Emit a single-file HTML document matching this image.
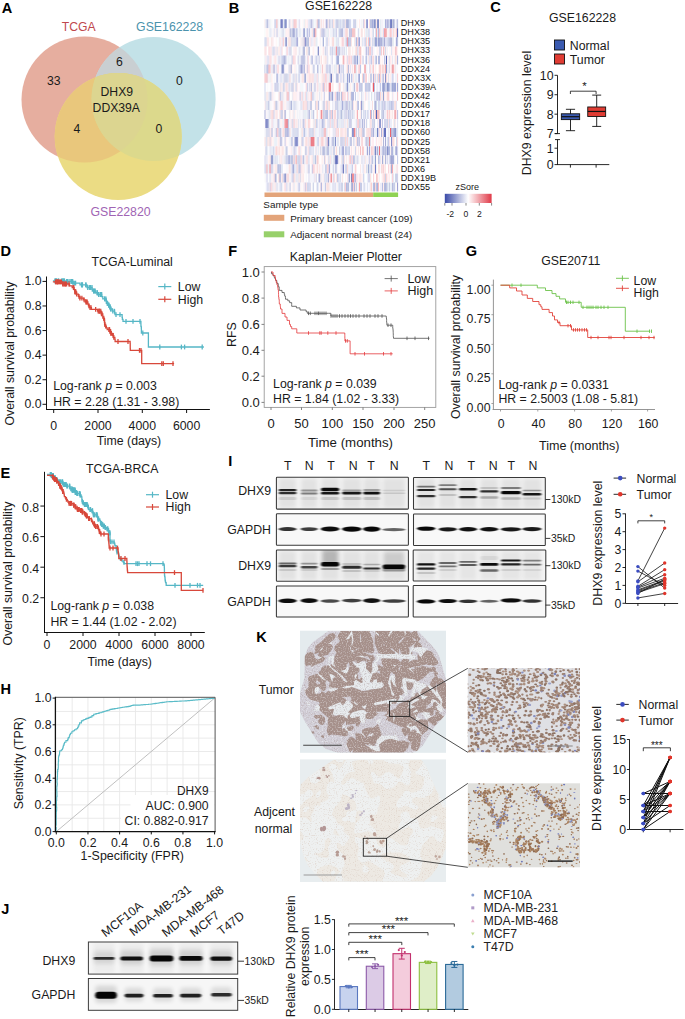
<!DOCTYPE html>
<html><head><meta charset="utf-8"><style>
html,body{margin:0;padding:0;background:#fff;}
svg{display:block;font-family:"Liberation Sans", sans-serif;}
</style></head><body>
<svg width="685" height="1019" viewBox="0 0 685 1019">
<rect width="685" height="1019" fill="#fff"/>
<defs>
<clipPath id="k1"><circle cx="84.5" cy="99.5" r="63"/></clipPath>
<clipPath id="k2"><circle cx="153.6" cy="99" r="62"/></clipPath>
</defs>
<circle cx="84.5" cy="99.5" r="63" fill="#e6ae9f" />
<circle cx="153.6" cy="99" r="62" fill="#c3e2e8" />
<circle cx="118.2" cy="136.6" r="63.5" fill="#ebdc84" />
<circle cx="153.6" cy="99" r="62" fill="#c9cfd2" clip-path="url(#k1)"/>
<circle cx="118.2" cy="136.6" r="63.5" fill="#e9c77c" clip-path="url(#k1)"/>
<circle cx="118.2" cy="136.6" r="63.5" fill="#dcd98c" clip-path="url(#k2)"/>
<g clip-path="url(#k1)">
<circle cx="118.2" cy="136.6" r="63.5" fill="#dcd590" clip-path="url(#k2)"/>
</g>
<text x="78.8" y="30.6" font-size="12.2" text-anchor="middle" fill="#c0474d" font-weight="normal" >TCGA</text>
<text x="169.6" y="30.7" font-size="12.3" text-anchor="middle" fill="#4b93ad" font-weight="normal" >GSE162228</text>
<text x="120.5" y="216.4" font-size="12.3" text-anchor="middle" fill="#a064b4" font-weight="normal" >GSE22820</text>
<text x="53.8" y="84.7" font-size="12.2" text-anchor="middle" fill="#1a1a1a" font-weight="normal" >33</text>
<text x="119.5" y="65.8" font-size="12.2" text-anchor="middle" fill="#1a1a1a" font-weight="normal" >6</text>
<text x="179.5" y="84.7" font-size="12.2" text-anchor="middle" fill="#1a1a1a" font-weight="normal" >0</text>
<text x="116.8" y="96.3" font-size="12.2" text-anchor="middle" fill="#1a1a1a" font-weight="normal" >DHX9</text>
<text x="116.3" y="112.0" font-size="12.2" text-anchor="middle" fill="#1a1a1a" font-weight="normal" >DDX39A</text>
<text x="76.8" y="133.0" font-size="12.2" text-anchor="middle" fill="#1a1a1a" font-weight="normal" >4</text>
<text x="158.8" y="133.0" font-size="12.2" text-anchor="middle" fill="#1a1a1a" font-weight="normal" >0</text>
<text x="338.6" y="10.3" font-size="12.3" text-anchor="middle" fill="#1a1a1a" font-weight="normal" >GSE162228</text>
<defs><filter id="hmb" x="-1%" y="0" width="102%" height="100%"><feGaussianBlur stdDeviation="0.35 0"/></filter></defs><g filter="url(#hmb)">
<path fill="#f9e7e7" d="M264.50 19.20h1.00v9.07h-1.00zM304.68 19.20h1.00v9.07h-1.00zM344.86 19.20h1.00v9.07h-1.00zM376.00 19.20h1.00v9.07h-1.00zM288.61 28.27h1.00v9.07h-1.00zM319.75 28.27h1.00v9.07h-1.00zM354.91 28.27h1.00v9.07h-1.00zM361.94 28.27h1.00v9.07h-1.00zM266.51 37.34h1.00v9.07h-1.00zM268.52 37.34h1.00v9.07h-1.00zM270.53 37.34h1.00v9.07h-1.00zM287.60 37.34h1.00v9.07h-1.00zM314.73 37.34h1.00v9.07h-1.00zM327.78 37.34h1.00v9.07h-1.00zM353.90 37.34h1.00v9.07h-1.00zM294.64 46.41h1.00v9.07h-1.00zM305.68 46.41h1.00v9.07h-1.00zM306.69 46.41h1.00v9.07h-1.00zM347.87 46.41h1.00v9.07h-1.00zM348.88 46.41h1.00v9.07h-1.00zM349.88 46.41h1.00v9.07h-1.00zM354.91 46.41h1.00v9.07h-1.00zM384.04 46.41h1.00v9.07h-1.00zM324.77 55.48h1.00v9.07h-1.00zM325.78 55.48h1.00v9.07h-1.00zM367.96 55.48h1.00v9.07h-1.00zM396.09 55.48h1.00v9.07h-1.00zM272.54 64.55h1.00v9.07h-1.00zM384.04 64.55h1.00v9.07h-1.00zM270.53 73.62h1.00v9.07h-1.00zM294.64 73.62h1.00v9.07h-1.00zM321.76 73.62h1.00v9.07h-1.00zM331.80 73.62h1.00v9.07h-1.00zM272.54 82.69h1.00v9.07h-1.00zM311.71 82.69h1.00v9.07h-1.00zM317.74 82.69h1.00v9.07h-1.00zM342.85 82.69h1.00v9.07h-1.00zM267.51 91.76h1.00v9.07h-1.00zM283.59 91.76h1.00v9.07h-1.00zM292.63 91.76h1.00v9.07h-1.00zM298.65 91.76h1.00v9.07h-1.00zM316.73 91.76h1.00v9.07h-1.00zM320.75 91.76h1.00v9.07h-1.00zM349.88 91.76h1.00v9.07h-1.00zM382.03 91.76h1.00v9.07h-1.00zM273.54 100.83h1.00v9.07h-1.00zM274.55 100.83h1.00v9.07h-1.00zM278.56 100.83h1.00v9.07h-1.00zM283.59 100.83h1.00v9.07h-1.00zM359.93 100.83h1.00v9.07h-1.00zM278.56 109.90h1.00v9.07h-1.00zM289.61 109.90h1.00v9.07h-1.00zM388.05 109.90h1.00v9.07h-1.00zM392.07 109.90h1.00v9.07h-1.00zM276.55 118.97h1.00v9.07h-1.00zM300.66 118.97h1.00v9.07h-1.00zM312.72 118.97h1.00v9.07h-1.00zM324.77 118.97h1.00v9.07h-1.00zM334.82 118.97h1.00v9.07h-1.00zM343.86 118.97h1.00v9.07h-1.00zM370.98 118.97h1.00v9.07h-1.00zM269.52 128.04h1.00v9.07h-1.00zM339.84 128.04h1.00v9.07h-1.00zM359.93 128.04h1.00v9.07h-1.00zM365.96 128.04h1.00v9.07h-1.00zM292.63 137.11h1.00v9.07h-1.00zM300.66 137.11h1.00v9.07h-1.00zM304.68 137.11h1.00v9.07h-1.00zM381.02 137.11h1.00v9.07h-1.00zM314.73 146.18h1.00v9.07h-1.00zM357.92 146.18h1.00v9.07h-1.00zM281.58 155.25h1.00v9.07h-1.00zM283.59 155.25h1.00v9.07h-1.00zM340.84 155.25h1.00v9.07h-1.00zM345.87 155.25h1.00v9.07h-1.00zM364.95 155.25h1.00v9.07h-1.00zM303.68 164.32h1.00v9.07h-1.00zM359.93 164.32h1.00v9.07h-1.00zM373.99 164.32h1.00v9.07h-1.00zM385.04 164.32h1.00v9.07h-1.00zM396.09 164.32h1.00v9.07h-1.00zM294.64 173.39h1.00v9.07h-1.00zM300.66 173.39h1.00v9.07h-1.00zM320.75 173.39h1.00v9.07h-1.00zM358.92 173.39h1.00v9.07h-1.00zM287.60 182.46h1.00v9.07h-1.00zM295.64 182.46h1.00v9.07h-1.00zM325.78 182.46h1.00v9.07h-1.00zM328.79 182.46h1.00v9.07h-1.00zM354.91 182.46h1.00v9.07h-1.00zM369.97 182.46h1.00v9.07h-1.00z"/>
<path fill="#dbe1f3" d="M265.50 19.20h1.00v9.07h-1.00zM312.72 19.20h1.00v9.07h-1.00zM278.56 28.27h1.00v9.07h-1.00zM312.72 28.27h1.00v9.07h-1.00zM367.96 28.27h1.00v9.07h-1.00zM375.00 28.27h1.00v9.07h-1.00zM278.56 37.34h1.00v9.07h-1.00zM333.81 46.41h1.00v9.07h-1.00zM345.87 46.41h1.00v9.07h-1.00zM391.07 46.41h1.00v9.07h-1.00zM351.89 55.48h1.00v9.07h-1.00zM364.95 55.48h1.00v9.07h-1.00zM302.67 64.55h1.00v9.07h-1.00zM327.78 64.55h1.00v9.07h-1.00zM288.61 73.62h1.00v9.07h-1.00zM351.89 73.62h1.00v9.07h-1.00zM377.01 73.62h1.00v9.07h-1.00zM280.57 91.76h1.00v9.07h-1.00zM343.86 100.83h1.00v9.07h-1.00zM381.02 100.83h1.00v9.07h-1.00zM388.05 100.83h1.00v9.07h-1.00zM332.81 118.97h1.00v9.07h-1.00zM355.91 118.97h1.00v9.07h-1.00zM304.68 128.04h1.00v9.07h-1.00zM345.87 137.11h1.00v9.07h-1.00zM272.54 146.18h1.00v9.07h-1.00zM340.84 146.18h1.00v9.07h-1.00zM272.54 164.32h1.00v9.07h-1.00zM280.57 164.32h1.00v9.07h-1.00zM290.62 164.32h1.00v9.07h-1.00zM369.97 164.32h1.00v9.07h-1.00zM290.62 173.39h1.00v9.07h-1.00zM324.77 173.39h1.00v9.07h-1.00z"/>
<path fill="#bdc3e1" d="M266.51 19.20h1.00v9.07h-1.00zM267.51 19.20h1.00v9.07h-1.00zM336.82 19.20h1.00v9.07h-1.00zM369.97 19.20h1.00v9.07h-1.00zM370.98 19.20h1.00v9.07h-1.00zM372.99 19.20h1.00v9.07h-1.00zM388.05 19.20h1.00v9.07h-1.00zM289.61 28.27h1.00v9.07h-1.00zM290.62 28.27h1.00v9.07h-1.00zM323.77 28.27h1.00v9.07h-1.00zM339.84 28.27h1.00v9.07h-1.00zM305.68 37.34h1.00v9.07h-1.00zM306.69 37.34h1.00v9.07h-1.00zM349.88 37.34h1.00v9.07h-1.00zM389.06 37.34h1.00v9.07h-1.00zM397.10 37.34h1.00v9.07h-1.00zM276.55 46.41h1.00v9.07h-1.00zM337.83 46.41h1.00v9.07h-1.00zM384.04 55.48h1.00v9.07h-1.00zM264.50 64.55h1.00v9.07h-1.00zM313.72 64.55h1.00v9.07h-1.00zM316.73 64.55h1.00v9.07h-1.00zM317.74 64.55h1.00v9.07h-1.00zM337.83 73.62h1.00v9.07h-1.00zM383.03 73.62h1.00v9.07h-1.00zM276.55 82.69h1.00v9.07h-1.00zM282.58 82.69h1.00v9.07h-1.00zM360.93 82.69h1.00v9.07h-1.00zM368.97 82.69h1.00v9.07h-1.00zM354.91 91.76h1.00v9.07h-1.00zM276.55 100.83h1.00v9.07h-1.00zM309.70 100.83h1.00v9.07h-1.00zM348.88 100.83h1.00v9.07h-1.00zM324.77 109.90h1.00v9.07h-1.00zM360.93 109.90h1.00v9.07h-1.00zM383.03 109.90h1.00v9.07h-1.00zM291.62 118.97h1.00v9.07h-1.00zM312.72 128.04h1.00v9.07h-1.00zM362.94 128.04h1.00v9.07h-1.00zM392.07 128.04h1.00v9.07h-1.00zM269.52 137.11h1.00v9.07h-1.00zM279.57 137.11h1.00v9.07h-1.00zM290.62 137.11h1.00v9.07h-1.00zM349.88 137.11h1.00v9.07h-1.00zM273.54 146.18h1.00v9.07h-1.00zM304.68 146.18h1.00v9.07h-1.00zM319.75 146.18h1.00v9.07h-1.00zM338.83 146.18h1.00v9.07h-1.00zM348.88 146.18h1.00v9.07h-1.00zM287.60 155.25h1.00v9.07h-1.00zM298.65 155.25h1.00v9.07h-1.00zM353.90 155.25h1.00v9.07h-1.00zM371.98 155.25h1.00v9.07h-1.00zM378.01 155.25h1.00v9.07h-1.00zM293.63 164.32h1.00v9.07h-1.00zM324.77 164.32h1.00v9.07h-1.00zM335.82 164.32h1.00v9.07h-1.00zM370.98 164.32h1.00v9.07h-1.00zM341.85 182.46h1.00v9.07h-1.00zM360.93 182.46h1.00v9.07h-1.00zM376.00 182.46h1.00v9.07h-1.00zM386.05 182.46h1.00v9.07h-1.00z"/>
<path fill="#ededf9" d="M268.52 19.20h1.00v9.07h-1.00zM275.55 19.20h1.00v9.07h-1.00zM278.56 19.20h1.00v9.07h-1.00zM296.64 19.20h1.00v9.07h-1.00zM307.69 19.20h1.00v9.07h-1.00zM314.73 19.20h1.00v9.07h-1.00zM330.80 19.20h1.00v9.07h-1.00zM274.55 28.27h1.00v9.07h-1.00zM284.59 28.27h1.00v9.07h-1.00zM309.70 28.27h1.00v9.07h-1.00zM342.85 28.27h1.00v9.07h-1.00zM343.86 28.27h1.00v9.07h-1.00zM392.07 28.27h1.00v9.07h-1.00zM311.71 37.34h1.00v9.07h-1.00zM312.72 37.34h1.00v9.07h-1.00zM319.75 37.34h1.00v9.07h-1.00zM328.79 37.34h1.00v9.07h-1.00zM362.94 37.34h1.00v9.07h-1.00zM395.09 37.34h1.00v9.07h-1.00zM285.59 46.41h1.00v9.07h-1.00zM272.54 55.48h1.00v9.07h-1.00zM276.55 55.48h1.00v9.07h-1.00zM288.61 55.48h1.00v9.07h-1.00zM290.62 55.48h1.00v9.07h-1.00zM330.80 55.48h1.00v9.07h-1.00zM357.92 55.48h1.00v9.07h-1.00zM265.50 64.55h1.00v9.07h-1.00zM388.05 64.55h1.00v9.07h-1.00zM273.54 73.62h1.00v9.07h-1.00zM299.66 73.62h1.00v9.07h-1.00zM305.68 73.62h1.00v9.07h-1.00zM332.81 73.62h1.00v9.07h-1.00zM391.07 73.62h1.00v9.07h-1.00zM395.09 73.62h1.00v9.07h-1.00zM270.53 82.69h1.00v9.07h-1.00zM324.77 82.69h1.00v9.07h-1.00zM337.83 82.69h1.00v9.07h-1.00zM343.86 82.69h1.00v9.07h-1.00zM377.01 82.69h1.00v9.07h-1.00zM379.01 82.69h1.00v9.07h-1.00zM361.94 91.76h1.00v9.07h-1.00zM365.96 91.76h1.00v9.07h-1.00zM367.96 91.76h1.00v9.07h-1.00zM375.00 91.76h1.00v9.07h-1.00zM381.02 91.76h1.00v9.07h-1.00zM277.56 100.83h1.00v9.07h-1.00zM282.58 100.83h1.00v9.07h-1.00zM291.62 100.83h1.00v9.07h-1.00zM299.66 100.83h1.00v9.07h-1.00zM318.74 100.83h1.00v9.07h-1.00zM332.81 100.83h1.00v9.07h-1.00zM380.02 100.83h1.00v9.07h-1.00zM386.05 100.83h1.00v9.07h-1.00zM267.51 109.90h1.00v9.07h-1.00zM300.66 109.90h1.00v9.07h-1.00zM342.85 109.90h1.00v9.07h-1.00zM384.04 109.90h1.00v9.07h-1.00zM385.04 109.90h1.00v9.07h-1.00zM270.53 118.97h1.00v9.07h-1.00zM274.55 118.97h1.00v9.07h-1.00zM288.61 118.97h1.00v9.07h-1.00zM294.64 118.97h1.00v9.07h-1.00zM319.75 118.97h1.00v9.07h-1.00zM360.93 118.97h1.00v9.07h-1.00zM377.01 118.97h1.00v9.07h-1.00zM390.06 118.97h1.00v9.07h-1.00zM391.07 118.97h1.00v9.07h-1.00zM302.67 128.04h1.00v9.07h-1.00zM314.73 128.04h1.00v9.07h-1.00zM315.73 128.04h1.00v9.07h-1.00zM319.75 128.04h1.00v9.07h-1.00zM373.99 128.04h1.00v9.07h-1.00zM375.00 128.04h1.00v9.07h-1.00zM288.61 137.11h1.00v9.07h-1.00zM347.87 137.11h1.00v9.07h-1.00zM365.96 146.18h1.00v9.07h-1.00zM380.02 146.18h1.00v9.07h-1.00zM282.58 155.25h1.00v9.07h-1.00zM362.94 155.25h1.00v9.07h-1.00zM367.96 155.25h1.00v9.07h-1.00zM372.99 155.25h1.00v9.07h-1.00zM386.05 155.25h1.00v9.07h-1.00zM294.64 164.32h1.00v9.07h-1.00zM305.68 164.32h1.00v9.07h-1.00zM322.76 164.32h1.00v9.07h-1.00zM329.79 164.32h1.00v9.07h-1.00zM339.84 164.32h1.00v9.07h-1.00zM347.87 164.32h1.00v9.07h-1.00zM348.88 164.32h1.00v9.07h-1.00zM361.94 164.32h1.00v9.07h-1.00zM371.98 164.32h1.00v9.07h-1.00zM265.50 173.39h1.00v9.07h-1.00zM267.51 173.39h1.00v9.07h-1.00zM288.61 173.39h1.00v9.07h-1.00zM307.69 173.39h1.00v9.07h-1.00zM311.71 173.39h1.00v9.07h-1.00zM326.78 173.39h1.00v9.07h-1.00zM366.96 173.39h1.00v9.07h-1.00zM265.50 182.46h1.00v9.07h-1.00zM266.51 182.46h1.00v9.07h-1.00zM299.66 182.46h1.00v9.07h-1.00zM302.67 182.46h1.00v9.07h-1.00zM322.76 182.46h1.00v9.07h-1.00zM329.79 182.46h1.00v9.07h-1.00zM380.02 182.46h1.00v9.07h-1.00zM381.02 182.46h1.00v9.07h-1.00z"/>
<path fill="#e7e7f3" d="M269.52 19.20h1.00v9.07h-1.00zM282.58 19.20h1.00v9.07h-1.00zM324.77 28.27h1.00v9.07h-1.00zM325.78 28.27h1.00v9.07h-1.00zM365.96 28.27h1.00v9.07h-1.00zM371.98 28.27h1.00v9.07h-1.00zM297.65 37.34h1.00v9.07h-1.00zM300.66 37.34h1.00v9.07h-1.00zM354.91 37.34h1.00v9.07h-1.00zM392.07 37.34h1.00v9.07h-1.00zM298.65 46.41h1.00v9.07h-1.00zM299.66 46.41h1.00v9.07h-1.00zM330.80 46.41h1.00v9.07h-1.00zM332.81 46.41h1.00v9.07h-1.00zM339.84 46.41h1.00v9.07h-1.00zM340.84 46.41h1.00v9.07h-1.00zM342.85 46.41h1.00v9.07h-1.00zM357.92 46.41h1.00v9.07h-1.00zM364.95 46.41h1.00v9.07h-1.00zM268.52 55.48h1.00v9.07h-1.00zM392.07 55.48h1.00v9.07h-1.00zM295.64 64.55h1.00v9.07h-1.00zM297.65 64.55h1.00v9.07h-1.00zM331.80 64.55h1.00v9.07h-1.00zM395.09 64.55h1.00v9.07h-1.00zM314.73 73.62h1.00v9.07h-1.00zM326.78 73.62h1.00v9.07h-1.00zM343.86 73.62h1.00v9.07h-1.00zM355.91 73.62h1.00v9.07h-1.00zM319.75 82.69h1.00v9.07h-1.00zM344.86 82.69h1.00v9.07h-1.00zM265.50 91.76h1.00v9.07h-1.00zM282.58 91.76h1.00v9.07h-1.00zM285.59 91.76h1.00v9.07h-1.00zM291.62 91.76h1.00v9.07h-1.00zM313.72 91.76h1.00v9.07h-1.00zM392.07 91.76h1.00v9.07h-1.00zM308.70 100.83h1.00v9.07h-1.00zM331.80 100.83h1.00v9.07h-1.00zM338.83 100.83h1.00v9.07h-1.00zM268.52 109.90h1.00v9.07h-1.00zM288.61 109.90h1.00v9.07h-1.00zM296.64 109.90h1.00v9.07h-1.00zM313.72 109.90h1.00v9.07h-1.00zM338.83 109.90h1.00v9.07h-1.00zM346.87 109.90h1.00v9.07h-1.00zM350.89 109.90h1.00v9.07h-1.00zM353.90 109.90h1.00v9.07h-1.00zM320.75 118.97h1.00v9.07h-1.00zM326.78 118.97h1.00v9.07h-1.00zM337.83 118.97h1.00v9.07h-1.00zM344.86 118.97h1.00v9.07h-1.00zM305.68 128.04h1.00v9.07h-1.00zM325.78 128.04h1.00v9.07h-1.00zM326.78 128.04h1.00v9.07h-1.00zM332.81 128.04h1.00v9.07h-1.00zM333.81 128.04h1.00v9.07h-1.00zM388.05 128.04h1.00v9.07h-1.00zM324.77 137.11h1.00v9.07h-1.00zM353.90 137.11h1.00v9.07h-1.00zM291.62 146.18h1.00v9.07h-1.00zM339.84 146.18h1.00v9.07h-1.00zM381.02 146.18h1.00v9.07h-1.00zM265.50 155.25h1.00v9.07h-1.00zM333.81 155.25h1.00v9.07h-1.00zM355.91 155.25h1.00v9.07h-1.00zM357.92 155.25h1.00v9.07h-1.00zM360.93 155.25h1.00v9.07h-1.00zM361.94 155.25h1.00v9.07h-1.00zM363.95 155.25h1.00v9.07h-1.00zM380.02 155.25h1.00v9.07h-1.00zM321.76 164.32h1.00v9.07h-1.00zM350.89 164.32h1.00v9.07h-1.00zM362.94 164.32h1.00v9.07h-1.00zM295.64 173.39h1.00v9.07h-1.00zM296.64 173.39h1.00v9.07h-1.00zM317.74 173.39h1.00v9.07h-1.00zM275.55 182.46h1.00v9.07h-1.00zM276.55 182.46h1.00v9.07h-1.00zM277.56 182.46h1.00v9.07h-1.00zM362.94 182.46h1.00v9.07h-1.00z"/>
<path fill="#f3f9f9" d="M270.53 19.20h1.00v9.07h-1.00zM313.72 19.20h1.00v9.07h-1.00zM384.04 19.20h1.00v9.07h-1.00zM264.50 28.27h1.00v9.07h-1.00zM268.52 28.27h1.00v9.07h-1.00zM358.92 28.27h1.00v9.07h-1.00zM334.82 37.34h1.00v9.07h-1.00zM338.83 37.34h1.00v9.07h-1.00zM366.96 37.34h1.00v9.07h-1.00zM319.75 46.41h1.00v9.07h-1.00zM344.86 46.41h1.00v9.07h-1.00zM300.66 82.69h1.00v9.07h-1.00zM371.98 91.76h1.00v9.07h-1.00zM377.01 100.83h1.00v9.07h-1.00zM315.73 109.90h1.00v9.07h-1.00zM298.65 128.04h1.00v9.07h-1.00zM333.81 137.11h1.00v9.07h-1.00zM336.82 146.18h1.00v9.07h-1.00zM313.72 155.25h1.00v9.07h-1.00zM394.08 164.32h1.00v9.07h-1.00zM356.92 182.46h1.00v9.07h-1.00z"/>
<path fill="#f9f9f9" d="M271.53 19.20h1.00v9.07h-1.00zM315.73 19.20h1.00v9.07h-1.00zM361.94 19.20h1.00v9.07h-1.00zM276.55 37.34h1.00v9.07h-1.00zM301.67 46.41h1.00v9.07h-1.00zM352.90 46.41h1.00v9.07h-1.00zM279.57 55.48h1.00v9.07h-1.00zM291.62 73.62h1.00v9.07h-1.00zM300.66 73.62h1.00v9.07h-1.00zM267.51 82.69h1.00v9.07h-1.00zM289.61 82.69h1.00v9.07h-1.00zM294.64 82.69h1.00v9.07h-1.00zM336.82 82.69h1.00v9.07h-1.00zM269.52 100.83h1.00v9.07h-1.00zM286.60 109.90h1.00v9.07h-1.00zM297.65 109.90h1.00v9.07h-1.00zM357.92 109.90h1.00v9.07h-1.00zM269.52 118.97h1.00v9.07h-1.00zM353.90 118.97h1.00v9.07h-1.00zM366.96 118.97h1.00v9.07h-1.00zM315.73 137.11h1.00v9.07h-1.00zM353.90 146.18h1.00v9.07h-1.00zM394.08 146.18h1.00v9.07h-1.00zM331.80 155.25h1.00v9.07h-1.00zM347.87 155.25h1.00v9.07h-1.00zM358.92 155.25h1.00v9.07h-1.00zM323.77 164.32h1.00v9.07h-1.00zM330.80 164.32h1.00v9.07h-1.00zM264.50 173.39h1.00v9.07h-1.00zM342.85 173.39h1.00v9.07h-1.00zM370.98 173.39h1.00v9.07h-1.00zM315.73 182.46h1.00v9.07h-1.00zM349.88 182.46h1.00v9.07h-1.00zM395.09 182.46h1.00v9.07h-1.00z"/>
<path fill="#f9f9ff" d="M272.54 19.20h1.00v9.07h-1.00zM321.76 19.20h1.00v9.07h-1.00zM350.89 19.20h1.00v9.07h-1.00zM359.93 19.20h1.00v9.07h-1.00zM383.03 19.20h1.00v9.07h-1.00zM395.09 19.20h1.00v9.07h-1.00zM307.69 28.27h1.00v9.07h-1.00zM316.73 28.27h1.00v9.07h-1.00zM356.92 28.27h1.00v9.07h-1.00zM324.77 37.34h1.00v9.07h-1.00zM330.80 37.34h1.00v9.07h-1.00zM279.57 46.41h1.00v9.07h-1.00zM284.59 46.41h1.00v9.07h-1.00zM287.60 46.41h1.00v9.07h-1.00zM314.73 46.41h1.00v9.07h-1.00zM363.95 46.41h1.00v9.07h-1.00zM373.99 46.41h1.00v9.07h-1.00zM271.53 55.48h1.00v9.07h-1.00zM295.64 55.48h1.00v9.07h-1.00zM308.70 55.48h1.00v9.07h-1.00zM338.83 55.48h1.00v9.07h-1.00zM339.84 55.48h1.00v9.07h-1.00zM270.53 64.55h1.00v9.07h-1.00zM314.73 64.55h1.00v9.07h-1.00zM344.86 64.55h1.00v9.07h-1.00zM366.96 64.55h1.00v9.07h-1.00zM373.99 64.55h1.00v9.07h-1.00zM397.10 64.55h1.00v9.07h-1.00zM274.55 73.62h1.00v9.07h-1.00zM278.56 73.62h1.00v9.07h-1.00zM333.81 73.62h1.00v9.07h-1.00zM356.92 73.62h1.00v9.07h-1.00zM266.51 82.69h1.00v9.07h-1.00zM269.52 82.69h1.00v9.07h-1.00zM302.67 82.69h1.00v9.07h-1.00zM303.68 82.69h1.00v9.07h-1.00zM315.73 82.69h1.00v9.07h-1.00zM378.01 82.69h1.00v9.07h-1.00zM381.02 82.69h1.00v9.07h-1.00zM277.56 91.76h1.00v9.07h-1.00zM303.68 91.76h1.00v9.07h-1.00zM322.76 91.76h1.00v9.07h-1.00zM353.90 91.76h1.00v9.07h-1.00zM372.99 91.76h1.00v9.07h-1.00zM394.08 91.76h1.00v9.07h-1.00zM396.09 91.76h1.00v9.07h-1.00zM298.65 100.83h1.00v9.07h-1.00zM329.79 100.83h1.00v9.07h-1.00zM370.98 100.83h1.00v9.07h-1.00zM285.59 109.90h1.00v9.07h-1.00zM361.94 109.90h1.00v9.07h-1.00zM368.97 109.90h1.00v9.07h-1.00zM283.59 118.97h1.00v9.07h-1.00zM351.89 118.97h1.00v9.07h-1.00zM352.90 118.97h1.00v9.07h-1.00zM317.74 128.04h1.00v9.07h-1.00zM338.83 128.04h1.00v9.07h-1.00zM356.92 128.04h1.00v9.07h-1.00zM387.05 128.04h1.00v9.07h-1.00zM293.63 137.11h1.00v9.07h-1.00zM329.79 137.11h1.00v9.07h-1.00zM359.93 137.11h1.00v9.07h-1.00zM363.95 137.11h1.00v9.07h-1.00zM375.00 137.11h1.00v9.07h-1.00zM384.04 137.11h1.00v9.07h-1.00zM386.05 137.11h1.00v9.07h-1.00zM274.55 146.18h1.00v9.07h-1.00zM277.56 146.18h1.00v9.07h-1.00zM313.72 146.18h1.00v9.07h-1.00zM363.95 146.18h1.00v9.07h-1.00zM325.78 155.25h1.00v9.07h-1.00zM339.84 155.25h1.00v9.07h-1.00zM344.86 155.25h1.00v9.07h-1.00zM285.59 164.32h1.00v9.07h-1.00zM304.68 164.32h1.00v9.07h-1.00zM317.74 164.32h1.00v9.07h-1.00zM338.83 164.32h1.00v9.07h-1.00zM352.90 164.32h1.00v9.07h-1.00zM360.93 164.32h1.00v9.07h-1.00zM380.02 164.32h1.00v9.07h-1.00zM272.54 173.39h1.00v9.07h-1.00zM312.72 173.39h1.00v9.07h-1.00zM340.84 173.39h1.00v9.07h-1.00zM278.56 182.46h1.00v9.07h-1.00zM313.72 182.46h1.00v9.07h-1.00zM361.94 182.46h1.00v9.07h-1.00zM365.96 182.46h1.00v9.07h-1.00zM367.96 182.46h1.00v9.07h-1.00z"/>
<path fill="#ffffff" d="M273.54 19.20h1.00v9.07h-1.00zM279.57 19.20h1.00v9.07h-1.00zM286.60 19.20h1.00v9.07h-1.00zM287.60 19.20h1.00v9.07h-1.00zM297.65 19.20h1.00v9.07h-1.00zM351.89 19.20h1.00v9.07h-1.00zM357.92 19.20h1.00v9.07h-1.00zM367.96 19.20h1.00v9.07h-1.00zM279.57 28.27h1.00v9.07h-1.00zM297.65 28.27h1.00v9.07h-1.00zM305.68 28.27h1.00v9.07h-1.00zM317.74 28.27h1.00v9.07h-1.00zM347.87 28.27h1.00v9.07h-1.00zM355.91 28.27h1.00v9.07h-1.00zM362.94 28.27h1.00v9.07h-1.00zM373.99 28.27h1.00v9.07h-1.00zM269.52 37.34h1.00v9.07h-1.00zM273.54 37.34h1.00v9.07h-1.00zM277.56 37.34h1.00v9.07h-1.00zM298.65 37.34h1.00v9.07h-1.00zM317.74 37.34h1.00v9.07h-1.00zM321.76 37.34h1.00v9.07h-1.00zM323.77 37.34h1.00v9.07h-1.00zM351.89 37.34h1.00v9.07h-1.00zM352.90 37.34h1.00v9.07h-1.00zM394.08 37.34h1.00v9.07h-1.00zM266.51 46.41h1.00v9.07h-1.00zM267.51 46.41h1.00v9.07h-1.00zM282.58 46.41h1.00v9.07h-1.00zM283.59 46.41h1.00v9.07h-1.00zM291.62 46.41h1.00v9.07h-1.00zM296.64 46.41h1.00v9.07h-1.00zM310.71 46.41h1.00v9.07h-1.00zM316.73 46.41h1.00v9.07h-1.00zM346.87 46.41h1.00v9.07h-1.00zM350.89 46.41h1.00v9.07h-1.00zM361.94 46.41h1.00v9.07h-1.00zM375.00 46.41h1.00v9.07h-1.00zM388.05 46.41h1.00v9.07h-1.00zM296.64 55.48h1.00v9.07h-1.00zM299.66 55.48h1.00v9.07h-1.00zM321.76 55.48h1.00v9.07h-1.00zM328.79 55.48h1.00v9.07h-1.00zM332.81 55.48h1.00v9.07h-1.00zM334.82 55.48h1.00v9.07h-1.00zM340.84 55.48h1.00v9.07h-1.00zM363.95 55.48h1.00v9.07h-1.00zM296.64 64.55h1.00v9.07h-1.00zM315.73 64.55h1.00v9.07h-1.00zM318.74 64.55h1.00v9.07h-1.00zM320.75 64.55h1.00v9.07h-1.00zM361.94 64.55h1.00v9.07h-1.00zM362.94 64.55h1.00v9.07h-1.00zM367.96 64.55h1.00v9.07h-1.00zM377.01 64.55h1.00v9.07h-1.00zM272.54 73.62h1.00v9.07h-1.00zM334.82 73.62h1.00v9.07h-1.00zM345.87 73.62h1.00v9.07h-1.00zM349.88 73.62h1.00v9.07h-1.00zM359.93 73.62h1.00v9.07h-1.00zM360.93 73.62h1.00v9.07h-1.00zM366.96 73.62h1.00v9.07h-1.00zM394.08 73.62h1.00v9.07h-1.00zM265.50 82.69h1.00v9.07h-1.00zM268.52 82.69h1.00v9.07h-1.00zM273.54 82.69h1.00v9.07h-1.00zM304.68 82.69h1.00v9.07h-1.00zM307.69 82.69h1.00v9.07h-1.00zM312.72 82.69h1.00v9.07h-1.00zM333.81 82.69h1.00v9.07h-1.00zM334.82 82.69h1.00v9.07h-1.00zM340.84 82.69h1.00v9.07h-1.00zM362.94 82.69h1.00v9.07h-1.00zM370.98 82.69h1.00v9.07h-1.00zM375.00 82.69h1.00v9.07h-1.00zM275.55 91.76h1.00v9.07h-1.00zM276.55 91.76h1.00v9.07h-1.00zM289.61 91.76h1.00v9.07h-1.00zM290.62 91.76h1.00v9.07h-1.00zM339.84 91.76h1.00v9.07h-1.00zM345.87 91.76h1.00v9.07h-1.00zM355.91 91.76h1.00v9.07h-1.00zM359.93 91.76h1.00v9.07h-1.00zM369.97 91.76h1.00v9.07h-1.00zM390.06 91.76h1.00v9.07h-1.00zM271.53 100.83h1.00v9.07h-1.00zM289.61 100.83h1.00v9.07h-1.00zM319.75 100.83h1.00v9.07h-1.00zM330.80 100.83h1.00v9.07h-1.00zM358.92 100.83h1.00v9.07h-1.00zM365.96 100.83h1.00v9.07h-1.00zM372.99 100.83h1.00v9.07h-1.00zM397.10 100.83h1.00v9.07h-1.00zM277.56 109.90h1.00v9.07h-1.00zM287.60 109.90h1.00v9.07h-1.00zM301.67 109.90h1.00v9.07h-1.00zM314.73 109.90h1.00v9.07h-1.00zM317.74 109.90h1.00v9.07h-1.00zM319.75 109.90h1.00v9.07h-1.00zM335.82 109.90h1.00v9.07h-1.00zM380.02 109.90h1.00v9.07h-1.00zM298.65 118.97h1.00v9.07h-1.00zM310.71 118.97h1.00v9.07h-1.00zM367.96 118.97h1.00v9.07h-1.00zM376.00 118.97h1.00v9.07h-1.00zM383.03 118.97h1.00v9.07h-1.00zM392.07 118.97h1.00v9.07h-1.00zM396.09 118.97h1.00v9.07h-1.00zM348.88 128.04h1.00v9.07h-1.00zM349.88 128.04h1.00v9.07h-1.00zM386.05 128.04h1.00v9.07h-1.00zM373.99 137.11h1.00v9.07h-1.00zM395.09 137.11h1.00v9.07h-1.00zM267.51 146.18h1.00v9.07h-1.00zM289.61 146.18h1.00v9.07h-1.00zM296.64 146.18h1.00v9.07h-1.00zM302.67 146.18h1.00v9.07h-1.00zM273.54 155.25h1.00v9.07h-1.00zM319.75 155.25h1.00v9.07h-1.00zM396.09 155.25h1.00v9.07h-1.00zM282.58 164.32h1.00v9.07h-1.00zM287.60 164.32h1.00v9.07h-1.00zM309.70 164.32h1.00v9.07h-1.00zM333.81 164.32h1.00v9.07h-1.00zM356.92 164.32h1.00v9.07h-1.00zM357.92 164.32h1.00v9.07h-1.00zM358.92 164.32h1.00v9.07h-1.00zM377.01 164.32h1.00v9.07h-1.00zM386.05 164.32h1.00v9.07h-1.00zM387.05 164.32h1.00v9.07h-1.00zM268.52 173.39h1.00v9.07h-1.00zM276.55 173.39h1.00v9.07h-1.00zM280.57 173.39h1.00v9.07h-1.00zM304.68 173.39h1.00v9.07h-1.00zM306.69 173.39h1.00v9.07h-1.00zM316.73 173.39h1.00v9.07h-1.00zM334.82 173.39h1.00v9.07h-1.00zM343.86 173.39h1.00v9.07h-1.00zM345.87 173.39h1.00v9.07h-1.00zM364.95 173.39h1.00v9.07h-1.00zM371.98 173.39h1.00v9.07h-1.00zM375.00 173.39h1.00v9.07h-1.00zM380.02 173.39h1.00v9.07h-1.00zM390.06 173.39h1.00v9.07h-1.00zM264.50 182.46h1.00v9.07h-1.00zM296.64 182.46h1.00v9.07h-1.00zM311.71 182.46h1.00v9.07h-1.00zM314.73 182.46h1.00v9.07h-1.00zM323.77 182.46h1.00v9.07h-1.00zM330.80 182.46h1.00v9.07h-1.00zM342.85 182.46h1.00v9.07h-1.00z"/>
<path fill="#b7bde1" d="M274.55 19.20h1.00v9.07h-1.00zM397.10 19.20h1.00v9.07h-1.00zM302.67 28.27h1.00v9.07h-1.00zM322.76 28.27h1.00v9.07h-1.00zM348.88 28.27h1.00v9.07h-1.00zM350.89 28.27h1.00v9.07h-1.00zM378.01 28.27h1.00v9.07h-1.00zM368.97 37.34h1.00v9.07h-1.00zM338.83 46.41h1.00v9.07h-1.00zM285.59 55.48h1.00v9.07h-1.00zM300.66 55.48h1.00v9.07h-1.00zM315.73 55.48h1.00v9.07h-1.00zM365.96 55.48h1.00v9.07h-1.00zM376.00 55.48h1.00v9.07h-1.00zM378.01 55.48h1.00v9.07h-1.00zM379.01 55.48h1.00v9.07h-1.00zM306.69 64.55h1.00v9.07h-1.00zM329.79 64.55h1.00v9.07h-1.00zM359.93 64.55h1.00v9.07h-1.00zM329.79 73.62h1.00v9.07h-1.00zM350.89 73.62h1.00v9.07h-1.00zM357.92 73.62h1.00v9.07h-1.00zM362.94 73.62h1.00v9.07h-1.00zM379.01 73.62h1.00v9.07h-1.00zM274.55 82.69h1.00v9.07h-1.00zM295.64 82.69h1.00v9.07h-1.00zM306.69 82.69h1.00v9.07h-1.00zM373.99 82.69h1.00v9.07h-1.00zM389.06 82.69h1.00v9.07h-1.00zM323.77 100.83h1.00v9.07h-1.00zM357.92 100.83h1.00v9.07h-1.00zM391.07 100.83h1.00v9.07h-1.00zM347.87 109.90h1.00v9.07h-1.00zM370.98 109.90h1.00v9.07h-1.00zM397.10 109.90h1.00v9.07h-1.00zM278.56 118.97h1.00v9.07h-1.00zM315.73 118.97h1.00v9.07h-1.00zM321.76 118.97h1.00v9.07h-1.00zM322.76 118.97h1.00v9.07h-1.00zM363.95 118.97h1.00v9.07h-1.00zM280.57 128.04h1.00v9.07h-1.00zM291.62 137.11h1.00v9.07h-1.00zM301.67 137.11h1.00v9.07h-1.00zM331.80 137.11h1.00v9.07h-1.00zM350.89 137.11h1.00v9.07h-1.00zM356.92 137.11h1.00v9.07h-1.00zM395.09 146.18h1.00v9.07h-1.00zM270.53 155.25h1.00v9.07h-1.00zM285.59 155.25h1.00v9.07h-1.00zM290.62 155.25h1.00v9.07h-1.00zM323.77 155.25h1.00v9.07h-1.00zM342.85 155.25h1.00v9.07h-1.00zM352.90 155.25h1.00v9.07h-1.00zM336.82 173.39h1.00v9.07h-1.00zM298.65 182.46h1.00v9.07h-1.00zM309.70 182.46h1.00v9.07h-1.00zM324.77 182.46h1.00v9.07h-1.00zM346.87 182.46h1.00v9.07h-1.00zM372.99 182.46h1.00v9.07h-1.00zM382.03 182.46h1.00v9.07h-1.00z"/>
<path fill="#ed999f" d="M276.55 19.20h1.00v9.07h-1.00zM392.07 64.55h1.00v9.07h-1.00z"/>
<path fill="#edf3f9" d="M277.56 19.20h1.00v9.07h-1.00zM283.59 28.27h1.00v9.07h-1.00zM300.66 28.27h1.00v9.07h-1.00zM304.68 28.27h1.00v9.07h-1.00zM329.79 28.27h1.00v9.07h-1.00zM364.95 28.27h1.00v9.07h-1.00zM316.73 37.34h1.00v9.07h-1.00zM277.56 55.48h1.00v9.07h-1.00zM301.67 82.69h1.00v9.07h-1.00zM314.73 91.76h1.00v9.07h-1.00zM367.96 100.83h1.00v9.07h-1.00zM368.97 100.83h1.00v9.07h-1.00zM316.73 128.04h1.00v9.07h-1.00zM273.54 137.11h1.00v9.07h-1.00zM274.55 137.11h1.00v9.07h-1.00zM319.75 137.11h1.00v9.07h-1.00zM284.59 146.18h1.00v9.07h-1.00zM363.95 173.39h1.00v9.07h-1.00zM390.06 182.46h1.00v9.07h-1.00z"/>
<path fill="#515db1" d="M280.57 19.20h1.00v9.07h-1.00zM386.05 55.48h1.00v9.07h-1.00zM330.80 73.62h1.00v9.07h-1.00zM336.82 155.25h1.00v9.07h-1.00z"/>
<path fill="#4b57b1" d="M281.58 19.20h1.00v9.07h-1.00zM335.82 155.25h1.00v9.07h-1.00z"/>
<path fill="#dbe1ed" d="M283.59 19.20h1.00v9.07h-1.00zM338.83 19.20h1.00v9.07h-1.00zM298.65 28.27h1.00v9.07h-1.00zM327.78 28.27h1.00v9.07h-1.00zM335.82 37.34h1.00v9.07h-1.00zM341.85 64.55h1.00v9.07h-1.00zM388.05 73.62h1.00v9.07h-1.00zM370.98 91.76h1.00v9.07h-1.00zM337.83 100.83h1.00v9.07h-1.00zM347.87 100.83h1.00v9.07h-1.00zM362.94 100.83h1.00v9.07h-1.00zM310.71 109.90h1.00v9.07h-1.00zM341.85 109.90h1.00v9.07h-1.00zM268.52 118.97h1.00v9.07h-1.00zM394.08 118.97h1.00v9.07h-1.00zM337.83 137.11h1.00v9.07h-1.00zM387.05 137.11h1.00v9.07h-1.00zM284.59 155.25h1.00v9.07h-1.00zM328.79 155.25h1.00v9.07h-1.00zM332.81 155.25h1.00v9.07h-1.00zM368.97 164.32h1.00v9.07h-1.00zM297.65 173.39h1.00v9.07h-1.00zM332.81 182.46h1.00v9.07h-1.00z"/>
<path fill="#5d6fb7" d="M284.59 19.20h1.00v9.07h-1.00z"/>
<path fill="#6975bd" d="M285.59 19.20h1.00v9.07h-1.00zM391.07 19.20h1.00v9.07h-1.00zM313.72 28.27h1.00v9.07h-1.00zM350.89 173.39h1.00v9.07h-1.00z"/>
<path fill="#dbdbed" d="M288.61 19.20h1.00v9.07h-1.00zM289.61 19.20h1.00v9.07h-1.00zM341.85 19.20h1.00v9.07h-1.00zM273.54 28.27h1.00v9.07h-1.00zM337.83 37.34h1.00v9.07h-1.00zM273.54 46.41h1.00v9.07h-1.00zM341.85 46.41h1.00v9.07h-1.00zM343.86 46.41h1.00v9.07h-1.00zM356.92 46.41h1.00v9.07h-1.00zM371.98 46.41h1.00v9.07h-1.00zM346.87 55.48h1.00v9.07h-1.00zM352.90 55.48h1.00v9.07h-1.00zM362.94 55.48h1.00v9.07h-1.00zM389.06 55.48h1.00v9.07h-1.00zM271.53 64.55h1.00v9.07h-1.00zM335.82 64.55h1.00v9.07h-1.00zM389.06 64.55h1.00v9.07h-1.00zM267.51 73.62h1.00v9.07h-1.00zM287.60 73.62h1.00v9.07h-1.00zM281.58 91.76h1.00v9.07h-1.00zM373.99 91.76h1.00v9.07h-1.00zM294.64 100.83h1.00v9.07h-1.00zM302.67 109.90h1.00v9.07h-1.00zM328.79 109.90h1.00v9.07h-1.00zM292.63 118.97h1.00v9.07h-1.00zM359.93 118.97h1.00v9.07h-1.00zM265.50 128.04h1.00v9.07h-1.00zM267.51 128.04h1.00v9.07h-1.00zM320.75 128.04h1.00v9.07h-1.00zM322.76 128.04h1.00v9.07h-1.00zM334.82 128.04h1.00v9.07h-1.00zM352.90 137.11h1.00v9.07h-1.00zM364.95 137.11h1.00v9.07h-1.00zM369.97 137.11h1.00v9.07h-1.00zM269.52 146.18h1.00v9.07h-1.00zM376.00 146.18h1.00v9.07h-1.00zM278.56 155.25h1.00v9.07h-1.00zM327.78 155.25h1.00v9.07h-1.00zM337.83 155.25h1.00v9.07h-1.00zM370.98 155.25h1.00v9.07h-1.00zM387.05 155.25h1.00v9.07h-1.00zM291.62 164.32h1.00v9.07h-1.00zM365.96 164.32h1.00v9.07h-1.00zM308.70 173.39h1.00v9.07h-1.00zM313.72 173.39h1.00v9.07h-1.00zM319.75 173.39h1.00v9.07h-1.00zM323.77 173.39h1.00v9.07h-1.00zM347.87 173.39h1.00v9.07h-1.00zM343.86 182.46h1.00v9.07h-1.00z"/>
<path fill="#ffedf3" d="M290.62 19.20h1.00v9.07h-1.00zM299.66 19.20h1.00v9.07h-1.00zM286.60 28.27h1.00v9.07h-1.00zM280.57 37.34h1.00v9.07h-1.00zM392.07 46.41h1.00v9.07h-1.00zM276.55 64.55h1.00v9.07h-1.00zM305.68 64.55h1.00v9.07h-1.00zM348.88 64.55h1.00v9.07h-1.00zM271.53 82.69h1.00v9.07h-1.00zM357.92 82.69h1.00v9.07h-1.00zM273.54 91.76h1.00v9.07h-1.00zM308.70 91.76h1.00v9.07h-1.00zM389.06 91.76h1.00v9.07h-1.00zM393.08 91.76h1.00v9.07h-1.00zM274.55 109.90h1.00v9.07h-1.00zM327.78 109.90h1.00v9.07h-1.00zM332.81 109.90h1.00v9.07h-1.00zM309.70 118.97h1.00v9.07h-1.00zM378.01 118.97h1.00v9.07h-1.00zM371.98 137.11h1.00v9.07h-1.00zM372.99 137.11h1.00v9.07h-1.00zM273.54 164.32h1.00v9.07h-1.00zM319.75 164.32h1.00v9.07h-1.00zM387.05 173.39h1.00v9.07h-1.00zM283.59 182.46h1.00v9.07h-1.00z"/>
<path fill="#fff3f3" d="M291.62 19.20h1.00v9.07h-1.00zM305.68 19.20h1.00v9.07h-1.00zM379.01 19.20h1.00v9.07h-1.00zM267.51 28.27h1.00v9.07h-1.00zM272.54 28.27h1.00v9.07h-1.00zM277.56 28.27h1.00v9.07h-1.00zM370.98 28.27h1.00v9.07h-1.00zM387.05 28.27h1.00v9.07h-1.00zM275.55 37.34h1.00v9.07h-1.00zM283.59 37.34h1.00v9.07h-1.00zM299.66 37.34h1.00v9.07h-1.00zM360.93 37.34h1.00v9.07h-1.00zM370.98 37.34h1.00v9.07h-1.00zM277.56 46.41h1.00v9.07h-1.00zM292.63 46.41h1.00v9.07h-1.00zM377.01 46.41h1.00v9.07h-1.00zM386.05 46.41h1.00v9.07h-1.00zM393.08 46.41h1.00v9.07h-1.00zM394.08 46.41h1.00v9.07h-1.00zM397.10 46.41h1.00v9.07h-1.00zM273.54 55.48h1.00v9.07h-1.00zM322.76 55.48h1.00v9.07h-1.00zM380.02 55.48h1.00v9.07h-1.00zM382.03 55.48h1.00v9.07h-1.00zM387.05 55.48h1.00v9.07h-1.00zM391.07 55.48h1.00v9.07h-1.00zM293.63 64.55h1.00v9.07h-1.00zM294.64 64.55h1.00v9.07h-1.00zM304.68 64.55h1.00v9.07h-1.00zM310.71 64.55h1.00v9.07h-1.00zM322.76 64.55h1.00v9.07h-1.00zM323.77 64.55h1.00v9.07h-1.00zM324.77 64.55h1.00v9.07h-1.00zM332.81 64.55h1.00v9.07h-1.00zM336.82 64.55h1.00v9.07h-1.00zM378.01 64.55h1.00v9.07h-1.00zM390.06 64.55h1.00v9.07h-1.00zM268.52 73.62h1.00v9.07h-1.00zM282.58 73.62h1.00v9.07h-1.00zM296.64 73.62h1.00v9.07h-1.00zM338.83 73.62h1.00v9.07h-1.00zM341.85 73.62h1.00v9.07h-1.00zM368.97 73.62h1.00v9.07h-1.00zM371.98 73.62h1.00v9.07h-1.00zM384.04 73.62h1.00v9.07h-1.00zM387.05 73.62h1.00v9.07h-1.00zM389.06 73.62h1.00v9.07h-1.00zM309.70 82.69h1.00v9.07h-1.00zM326.78 82.69h1.00v9.07h-1.00zM330.80 82.69h1.00v9.07h-1.00zM315.73 91.76h1.00v9.07h-1.00zM321.76 91.76h1.00v9.07h-1.00zM327.78 91.76h1.00v9.07h-1.00zM348.88 91.76h1.00v9.07h-1.00zM358.92 91.76h1.00v9.07h-1.00zM366.96 91.76h1.00v9.07h-1.00zM279.57 100.83h1.00v9.07h-1.00zM284.59 100.83h1.00v9.07h-1.00zM285.59 100.83h1.00v9.07h-1.00zM324.77 100.83h1.00v9.07h-1.00zM354.91 100.83h1.00v9.07h-1.00zM363.95 100.83h1.00v9.07h-1.00zM265.50 109.90h1.00v9.07h-1.00zM282.58 109.90h1.00v9.07h-1.00zM290.62 109.90h1.00v9.07h-1.00zM309.70 109.90h1.00v9.07h-1.00zM390.06 109.90h1.00v9.07h-1.00zM391.07 109.90h1.00v9.07h-1.00zM281.58 118.97h1.00v9.07h-1.00zM271.53 137.11h1.00v9.07h-1.00zM298.65 137.11h1.00v9.07h-1.00zM354.91 137.11h1.00v9.07h-1.00zM378.01 137.11h1.00v9.07h-1.00zM379.01 137.11h1.00v9.07h-1.00zM279.57 146.18h1.00v9.07h-1.00zM283.59 146.18h1.00v9.07h-1.00zM288.61 146.18h1.00v9.07h-1.00zM316.73 146.18h1.00v9.07h-1.00zM320.75 146.18h1.00v9.07h-1.00zM331.80 146.18h1.00v9.07h-1.00zM352.90 146.18h1.00v9.07h-1.00zM390.06 146.18h1.00v9.07h-1.00zM267.51 155.25h1.00v9.07h-1.00zM326.78 155.25h1.00v9.07h-1.00zM338.83 155.25h1.00v9.07h-1.00zM366.96 155.25h1.00v9.07h-1.00zM381.02 155.25h1.00v9.07h-1.00zM384.04 155.25h1.00v9.07h-1.00zM276.55 164.32h1.00v9.07h-1.00zM306.69 164.32h1.00v9.07h-1.00zM314.73 164.32h1.00v9.07h-1.00zM315.73 164.32h1.00v9.07h-1.00zM320.75 164.32h1.00v9.07h-1.00zM353.90 164.32h1.00v9.07h-1.00zM364.95 164.32h1.00v9.07h-1.00zM372.99 164.32h1.00v9.07h-1.00zM389.06 164.32h1.00v9.07h-1.00zM395.09 164.32h1.00v9.07h-1.00zM277.56 173.39h1.00v9.07h-1.00zM289.61 173.39h1.00v9.07h-1.00zM328.79 173.39h1.00v9.07h-1.00zM331.80 173.39h1.00v9.07h-1.00zM344.86 173.39h1.00v9.07h-1.00zM357.92 173.39h1.00v9.07h-1.00zM361.94 173.39h1.00v9.07h-1.00zM378.01 173.39h1.00v9.07h-1.00zM388.05 173.39h1.00v9.07h-1.00zM294.64 182.46h1.00v9.07h-1.00zM300.66 182.46h1.00v9.07h-1.00zM336.82 182.46h1.00v9.07h-1.00zM357.92 182.46h1.00v9.07h-1.00z"/>
<path fill="#d5dbed" d="M292.63 19.20h1.00v9.07h-1.00zM308.70 19.20h1.00v9.07h-1.00zM329.79 19.20h1.00v9.07h-1.00zM357.92 28.27h1.00v9.07h-1.00zM372.99 28.27h1.00v9.07h-1.00zM292.63 37.34h1.00v9.07h-1.00zM371.98 37.34h1.00v9.07h-1.00zM377.01 37.34h1.00v9.07h-1.00zM387.05 37.34h1.00v9.07h-1.00zM307.69 46.41h1.00v9.07h-1.00zM379.01 46.41h1.00v9.07h-1.00zM380.02 46.41h1.00v9.07h-1.00zM385.04 46.41h1.00v9.07h-1.00zM298.65 64.55h1.00v9.07h-1.00zM293.63 73.62h1.00v9.07h-1.00zM317.74 73.62h1.00v9.07h-1.00zM375.00 73.62h1.00v9.07h-1.00zM279.57 82.69h1.00v9.07h-1.00zM361.94 82.69h1.00v9.07h-1.00zM264.50 91.76h1.00v9.07h-1.00zM318.74 91.76h1.00v9.07h-1.00zM360.93 91.76h1.00v9.07h-1.00zM295.64 100.83h1.00v9.07h-1.00zM300.66 100.83h1.00v9.07h-1.00zM361.94 100.83h1.00v9.07h-1.00zM379.01 100.83h1.00v9.07h-1.00zM385.04 100.83h1.00v9.07h-1.00zM269.52 109.90h1.00v9.07h-1.00zM306.69 109.90h1.00v9.07h-1.00zM339.84 109.90h1.00v9.07h-1.00zM343.86 109.90h1.00v9.07h-1.00zM362.94 109.90h1.00v9.07h-1.00zM366.96 109.90h1.00v9.07h-1.00zM381.02 109.90h1.00v9.07h-1.00zM297.65 118.97h1.00v9.07h-1.00zM328.79 118.97h1.00v9.07h-1.00zM331.80 118.97h1.00v9.07h-1.00zM372.99 118.97h1.00v9.07h-1.00zM386.05 118.97h1.00v9.07h-1.00zM321.76 128.04h1.00v9.07h-1.00zM266.51 137.11h1.00v9.07h-1.00zM328.79 137.11h1.00v9.07h-1.00zM343.86 137.11h1.00v9.07h-1.00zM367.96 137.11h1.00v9.07h-1.00zM266.51 146.18h1.00v9.07h-1.00zM310.71 146.18h1.00v9.07h-1.00zM312.72 146.18h1.00v9.07h-1.00zM346.87 146.18h1.00v9.07h-1.00zM303.68 155.25h1.00v9.07h-1.00zM307.69 155.25h1.00v9.07h-1.00zM312.72 155.25h1.00v9.07h-1.00zM356.92 155.25h1.00v9.07h-1.00zM281.58 164.32h1.00v9.07h-1.00zM295.64 164.32h1.00v9.07h-1.00zM339.84 173.39h1.00v9.07h-1.00zM280.57 182.46h1.00v9.07h-1.00zM281.58 182.46h1.00v9.07h-1.00zM363.95 182.46h1.00v9.07h-1.00zM387.05 182.46h1.00v9.07h-1.00z"/>
<path fill="#f9c3c9" d="M293.63 19.20h1.00v9.07h-1.00zM390.06 28.27h1.00v9.07h-1.00zM367.96 37.34h1.00v9.07h-1.00zM292.63 55.48h1.00v9.07h-1.00zM359.93 55.48h1.00v9.07h-1.00zM301.67 91.76h1.00v9.07h-1.00zM277.56 128.04h1.00v9.07h-1.00zM326.78 164.32h1.00v9.07h-1.00z"/>
<path fill="#f3b7bd" d="M294.64 19.20h1.00v9.07h-1.00zM386.05 28.27h1.00v9.07h-1.00zM282.58 37.34h1.00v9.07h-1.00zM269.52 64.55h1.00v9.07h-1.00zM353.90 64.55h1.00v9.07h-1.00zM354.91 64.55h1.00v9.07h-1.00zM363.95 64.55h1.00v9.07h-1.00zM265.50 73.62h1.00v9.07h-1.00zM280.57 100.83h1.00v9.07h-1.00zM323.77 128.04h1.00v9.07h-1.00zM359.93 146.18h1.00v9.07h-1.00z"/>
<path fill="#f9cfcf" d="M295.64 19.20h1.00v9.07h-1.00zM356.92 37.34h1.00v9.07h-1.00zM368.97 46.41h1.00v9.07h-1.00zM289.61 73.62h1.00v9.07h-1.00zM378.01 73.62h1.00v9.07h-1.00zM355.91 82.69h1.00v9.07h-1.00zM315.73 100.83h1.00v9.07h-1.00zM316.73 109.90h1.00v9.07h-1.00zM389.06 109.90h1.00v9.07h-1.00zM304.68 118.97h1.00v9.07h-1.00zM307.69 118.97h1.00v9.07h-1.00zM337.83 128.04h1.00v9.07h-1.00zM344.86 137.11h1.00v9.07h-1.00zM278.56 146.18h1.00v9.07h-1.00zM362.94 146.18h1.00v9.07h-1.00zM278.56 173.39h1.00v9.07h-1.00zM287.60 173.39h1.00v9.07h-1.00zM271.53 182.46h1.00v9.07h-1.00zM370.98 182.46h1.00v9.07h-1.00z"/>
<path fill="#d5d5ed" d="M298.65 19.20h1.00v9.07h-1.00zM311.71 19.20h1.00v9.07h-1.00zM343.86 19.20h1.00v9.07h-1.00zM320.75 28.27h1.00v9.07h-1.00zM383.03 28.27h1.00v9.07h-1.00zM325.78 37.34h1.00v9.07h-1.00zM274.55 46.41h1.00v9.07h-1.00zM280.57 46.41h1.00v9.07h-1.00zM288.61 46.41h1.00v9.07h-1.00zM326.78 46.41h1.00v9.07h-1.00zM267.51 55.48h1.00v9.07h-1.00zM304.68 55.48h1.00v9.07h-1.00zM306.69 55.48h1.00v9.07h-1.00zM326.78 55.48h1.00v9.07h-1.00zM331.80 55.48h1.00v9.07h-1.00zM275.55 64.55h1.00v9.07h-1.00zM340.84 64.55h1.00v9.07h-1.00zM280.57 73.62h1.00v9.07h-1.00zM292.63 73.62h1.00v9.07h-1.00zM363.95 73.62h1.00v9.07h-1.00zM382.03 73.62h1.00v9.07h-1.00zM288.61 91.76h1.00v9.07h-1.00zM335.82 91.76h1.00v9.07h-1.00zM342.85 100.83h1.00v9.07h-1.00zM378.01 100.83h1.00v9.07h-1.00zM383.03 100.83h1.00v9.07h-1.00zM344.86 109.90h1.00v9.07h-1.00zM272.54 118.97h1.00v9.07h-1.00zM303.68 118.97h1.00v9.07h-1.00zM384.04 118.97h1.00v9.07h-1.00zM385.04 118.97h1.00v9.07h-1.00zM293.63 128.04h1.00v9.07h-1.00zM297.65 128.04h1.00v9.07h-1.00zM378.01 128.04h1.00v9.07h-1.00zM325.78 137.11h1.00v9.07h-1.00zM339.84 137.11h1.00v9.07h-1.00zM342.85 137.11h1.00v9.07h-1.00zM397.10 146.18h1.00v9.07h-1.00zM264.50 155.25h1.00v9.07h-1.00zM350.89 155.25h1.00v9.07h-1.00zM379.01 155.25h1.00v9.07h-1.00zM389.06 155.25h1.00v9.07h-1.00zM266.51 173.39h1.00v9.07h-1.00zM283.59 173.39h1.00v9.07h-1.00zM367.96 173.39h1.00v9.07h-1.00zM297.65 182.46h1.00v9.07h-1.00zM334.82 182.46h1.00v9.07h-1.00z"/>
<path fill="#f9ffff" d="M300.66 19.20h1.00v9.07h-1.00zM277.56 155.25h1.00v9.07h-1.00zM365.96 173.39h1.00v9.07h-1.00zM394.08 173.39h1.00v9.07h-1.00z"/>
<path fill="#fff9f9" d="M301.67 19.20h1.00v9.07h-1.00zM302.67 19.20h1.00v9.07h-1.00zM323.77 19.20h1.00v9.07h-1.00zM356.92 19.20h1.00v9.07h-1.00zM364.95 19.20h1.00v9.07h-1.00zM265.50 28.27h1.00v9.07h-1.00zM301.67 28.27h1.00v9.07h-1.00zM318.74 28.27h1.00v9.07h-1.00zM336.82 28.27h1.00v9.07h-1.00zM359.93 28.27h1.00v9.07h-1.00zM318.74 37.34h1.00v9.07h-1.00zM320.75 37.34h1.00v9.07h-1.00zM329.79 37.34h1.00v9.07h-1.00zM339.84 37.34h1.00v9.07h-1.00zM359.93 37.34h1.00v9.07h-1.00zM304.68 46.41h1.00v9.07h-1.00zM309.70 46.41h1.00v9.07h-1.00zM311.71 46.41h1.00v9.07h-1.00zM315.73 46.41h1.00v9.07h-1.00zM320.75 46.41h1.00v9.07h-1.00zM321.76 46.41h1.00v9.07h-1.00zM323.77 46.41h1.00v9.07h-1.00zM327.78 46.41h1.00v9.07h-1.00zM328.79 46.41h1.00v9.07h-1.00zM353.90 46.41h1.00v9.07h-1.00zM362.94 46.41h1.00v9.07h-1.00zM376.00 46.41h1.00v9.07h-1.00zM382.03 46.41h1.00v9.07h-1.00zM389.06 46.41h1.00v9.07h-1.00zM390.06 46.41h1.00v9.07h-1.00zM305.68 55.48h1.00v9.07h-1.00zM309.70 55.48h1.00v9.07h-1.00zM312.72 55.48h1.00v9.07h-1.00zM319.75 55.48h1.00v9.07h-1.00zM333.81 55.48h1.00v9.07h-1.00zM344.86 55.48h1.00v9.07h-1.00zM377.01 55.48h1.00v9.07h-1.00zM381.02 55.48h1.00v9.07h-1.00zM393.08 55.48h1.00v9.07h-1.00zM278.56 64.55h1.00v9.07h-1.00zM280.57 64.55h1.00v9.07h-1.00zM284.59 64.55h1.00v9.07h-1.00zM286.60 64.55h1.00v9.07h-1.00zM287.60 64.55h1.00v9.07h-1.00zM292.63 64.55h1.00v9.07h-1.00zM309.70 64.55h1.00v9.07h-1.00zM311.71 64.55h1.00v9.07h-1.00zM343.86 64.55h1.00v9.07h-1.00zM350.89 64.55h1.00v9.07h-1.00zM352.90 64.55h1.00v9.07h-1.00zM356.92 64.55h1.00v9.07h-1.00zM360.93 64.55h1.00v9.07h-1.00zM376.00 64.55h1.00v9.07h-1.00zM396.09 64.55h1.00v9.07h-1.00zM275.55 73.62h1.00v9.07h-1.00zM318.74 73.62h1.00v9.07h-1.00zM319.75 73.62h1.00v9.07h-1.00zM297.65 82.69h1.00v9.07h-1.00zM335.82 82.69h1.00v9.07h-1.00zM341.85 82.69h1.00v9.07h-1.00zM350.89 82.69h1.00v9.07h-1.00zM396.09 82.69h1.00v9.07h-1.00zM274.55 91.76h1.00v9.07h-1.00zM284.59 91.76h1.00v9.07h-1.00zM317.74 91.76h1.00v9.07h-1.00zM324.77 91.76h1.00v9.07h-1.00zM325.78 91.76h1.00v9.07h-1.00zM326.78 91.76h1.00v9.07h-1.00zM363.95 91.76h1.00v9.07h-1.00zM391.07 91.76h1.00v9.07h-1.00zM395.09 91.76h1.00v9.07h-1.00zM287.60 100.83h1.00v9.07h-1.00zM311.71 100.83h1.00v9.07h-1.00zM312.72 100.83h1.00v9.07h-1.00zM320.75 100.83h1.00v9.07h-1.00zM333.81 100.83h1.00v9.07h-1.00zM353.90 100.83h1.00v9.07h-1.00zM364.95 100.83h1.00v9.07h-1.00zM366.96 100.83h1.00v9.07h-1.00zM369.97 100.83h1.00v9.07h-1.00zM291.62 109.90h1.00v9.07h-1.00zM295.64 109.90h1.00v9.07h-1.00zM354.91 109.90h1.00v9.07h-1.00zM358.92 109.90h1.00v9.07h-1.00zM371.98 109.90h1.00v9.07h-1.00zM393.08 109.90h1.00v9.07h-1.00zM264.50 118.97h1.00v9.07h-1.00zM301.67 118.97h1.00v9.07h-1.00zM311.71 118.97h1.00v9.07h-1.00zM317.74 118.97h1.00v9.07h-1.00zM325.78 118.97h1.00v9.07h-1.00zM364.95 118.97h1.00v9.07h-1.00zM375.00 118.97h1.00v9.07h-1.00zM281.58 128.04h1.00v9.07h-1.00zM299.66 128.04h1.00v9.07h-1.00zM327.78 128.04h1.00v9.07h-1.00zM329.79 128.04h1.00v9.07h-1.00zM350.89 128.04h1.00v9.07h-1.00zM380.02 128.04h1.00v9.07h-1.00zM282.58 137.11h1.00v9.07h-1.00zM283.59 137.11h1.00v9.07h-1.00zM286.60 137.11h1.00v9.07h-1.00zM287.60 137.11h1.00v9.07h-1.00zM299.66 137.11h1.00v9.07h-1.00zM338.83 137.11h1.00v9.07h-1.00zM351.89 137.11h1.00v9.07h-1.00zM362.94 137.11h1.00v9.07h-1.00zM370.98 137.11h1.00v9.07h-1.00zM377.01 137.11h1.00v9.07h-1.00zM382.03 137.11h1.00v9.07h-1.00zM390.06 137.11h1.00v9.07h-1.00zM264.50 146.18h1.00v9.07h-1.00zM287.60 146.18h1.00v9.07h-1.00zM301.67 146.18h1.00v9.07h-1.00zM303.68 146.18h1.00v9.07h-1.00zM318.74 146.18h1.00v9.07h-1.00zM334.82 146.18h1.00v9.07h-1.00zM337.83 146.18h1.00v9.07h-1.00zM343.86 146.18h1.00v9.07h-1.00zM349.88 146.18h1.00v9.07h-1.00zM351.89 146.18h1.00v9.07h-1.00zM356.92 146.18h1.00v9.07h-1.00zM358.92 146.18h1.00v9.07h-1.00zM360.93 146.18h1.00v9.07h-1.00zM364.95 146.18h1.00v9.07h-1.00zM301.67 155.25h1.00v9.07h-1.00zM309.70 155.25h1.00v9.07h-1.00zM318.74 155.25h1.00v9.07h-1.00zM320.75 155.25h1.00v9.07h-1.00zM322.76 155.25h1.00v9.07h-1.00zM346.87 155.25h1.00v9.07h-1.00zM359.93 155.25h1.00v9.07h-1.00zM376.00 155.25h1.00v9.07h-1.00zM377.01 155.25h1.00v9.07h-1.00zM395.09 155.25h1.00v9.07h-1.00zM284.59 164.32h1.00v9.07h-1.00zM337.83 164.32h1.00v9.07h-1.00zM343.86 164.32h1.00v9.07h-1.00zM393.08 164.32h1.00v9.07h-1.00zM303.68 173.39h1.00v9.07h-1.00zM373.99 173.39h1.00v9.07h-1.00zM381.02 173.39h1.00v9.07h-1.00zM282.58 182.46h1.00v9.07h-1.00zM290.62 182.46h1.00v9.07h-1.00zM291.62 182.46h1.00v9.07h-1.00zM301.67 182.46h1.00v9.07h-1.00zM310.71 182.46h1.00v9.07h-1.00zM318.74 182.46h1.00v9.07h-1.00zM379.01 182.46h1.00v9.07h-1.00zM396.09 182.46h1.00v9.07h-1.00z"/>
<path fill="#e7edf3" d="M303.68 19.20h1.00v9.07h-1.00zM380.02 19.20h1.00v9.07h-1.00zM281.58 28.27h1.00v9.07h-1.00zM326.78 28.27h1.00v9.07h-1.00zM337.83 28.27h1.00v9.07h-1.00zM366.96 28.27h1.00v9.07h-1.00zM380.02 28.27h1.00v9.07h-1.00zM393.08 37.34h1.00v9.07h-1.00zM334.82 46.41h1.00v9.07h-1.00zM264.50 55.48h1.00v9.07h-1.00zM287.60 55.48h1.00v9.07h-1.00zM298.65 55.48h1.00v9.07h-1.00zM317.74 55.48h1.00v9.07h-1.00zM334.82 64.55h1.00v9.07h-1.00zM269.52 73.62h1.00v9.07h-1.00zM354.91 73.62h1.00v9.07h-1.00zM318.74 82.69h1.00v9.07h-1.00zM303.68 109.90h1.00v9.07h-1.00zM304.68 109.90h1.00v9.07h-1.00zM305.68 109.90h1.00v9.07h-1.00zM338.83 118.97h1.00v9.07h-1.00zM339.84 118.97h1.00v9.07h-1.00zM347.87 118.97h1.00v9.07h-1.00zM300.66 128.04h1.00v9.07h-1.00zM376.00 128.04h1.00v9.07h-1.00zM328.79 146.18h1.00v9.07h-1.00zM393.08 146.18h1.00v9.07h-1.00zM315.73 155.25h1.00v9.07h-1.00zM354.91 155.25h1.00v9.07h-1.00zM373.99 155.25h1.00v9.07h-1.00zM383.03 155.25h1.00v9.07h-1.00zM268.52 164.32h1.00v9.07h-1.00zM366.96 164.32h1.00v9.07h-1.00zM388.05 182.46h1.00v9.07h-1.00zM391.07 182.46h1.00v9.07h-1.00z"/>
<path fill="#ffe7ed" d="M306.69 19.20h1.00v9.07h-1.00zM293.63 46.41h1.00v9.07h-1.00zM345.87 55.48h1.00v9.07h-1.00zM390.06 55.48h1.00v9.07h-1.00zM293.63 91.76h1.00v9.07h-1.00zM396.09 109.90h1.00v9.07h-1.00zM342.85 128.04h1.00v9.07h-1.00zM285.59 137.11h1.00v9.07h-1.00zM376.00 137.11h1.00v9.07h-1.00zM290.62 146.18h1.00v9.07h-1.00zM356.92 173.39h1.00v9.07h-1.00z"/>
<path fill="#e1e1f3" d="M309.70 19.20h1.00v9.07h-1.00zM396.09 19.20h1.00v9.07h-1.00zM270.53 28.27h1.00v9.07h-1.00zM368.97 28.27h1.00v9.07h-1.00zM281.58 37.34h1.00v9.07h-1.00zM284.59 37.34h1.00v9.07h-1.00zM310.71 37.34h1.00v9.07h-1.00zM363.95 37.34h1.00v9.07h-1.00zM369.97 37.34h1.00v9.07h-1.00zM372.99 37.34h1.00v9.07h-1.00zM385.04 37.34h1.00v9.07h-1.00zM386.05 37.34h1.00v9.07h-1.00zM325.78 46.41h1.00v9.07h-1.00zM366.96 46.41h1.00v9.07h-1.00zM370.98 46.41h1.00v9.07h-1.00zM266.51 55.48h1.00v9.07h-1.00zM314.73 55.48h1.00v9.07h-1.00zM316.73 55.48h1.00v9.07h-1.00zM358.92 55.48h1.00v9.07h-1.00zM361.94 55.48h1.00v9.07h-1.00zM368.97 55.48h1.00v9.07h-1.00zM369.97 55.48h1.00v9.07h-1.00zM283.59 64.55h1.00v9.07h-1.00zM339.84 64.55h1.00v9.07h-1.00zM349.88 64.55h1.00v9.07h-1.00zM368.97 64.55h1.00v9.07h-1.00zM277.56 73.62h1.00v9.07h-1.00zM279.57 73.62h1.00v9.07h-1.00zM315.73 73.62h1.00v9.07h-1.00zM323.77 73.62h1.00v9.07h-1.00zM339.84 73.62h1.00v9.07h-1.00zM340.84 73.62h1.00v9.07h-1.00zM347.87 73.62h1.00v9.07h-1.00zM393.08 73.62h1.00v9.07h-1.00zM369.97 82.69h1.00v9.07h-1.00zM390.06 82.69h1.00v9.07h-1.00zM268.52 91.76h1.00v9.07h-1.00zM332.81 91.76h1.00v9.07h-1.00zM347.87 91.76h1.00v9.07h-1.00zM286.60 100.83h1.00v9.07h-1.00zM301.67 100.83h1.00v9.07h-1.00zM307.69 100.83h1.00v9.07h-1.00zM340.84 100.83h1.00v9.07h-1.00zM387.05 100.83h1.00v9.07h-1.00zM396.09 100.83h1.00v9.07h-1.00zM307.69 109.90h1.00v9.07h-1.00zM363.95 109.90h1.00v9.07h-1.00zM367.96 109.90h1.00v9.07h-1.00zM299.66 118.97h1.00v9.07h-1.00zM318.74 118.97h1.00v9.07h-1.00zM327.78 118.97h1.00v9.07h-1.00zM330.80 118.97h1.00v9.07h-1.00zM340.84 118.97h1.00v9.07h-1.00zM342.85 118.97h1.00v9.07h-1.00zM362.94 118.97h1.00v9.07h-1.00zM397.10 118.97h1.00v9.07h-1.00zM291.62 128.04h1.00v9.07h-1.00zM318.74 128.04h1.00v9.07h-1.00zM396.09 128.04h1.00v9.07h-1.00zM281.58 137.11h1.00v9.07h-1.00zM297.65 137.11h1.00v9.07h-1.00zM307.69 137.11h1.00v9.07h-1.00zM309.70 137.11h1.00v9.07h-1.00zM330.80 137.11h1.00v9.07h-1.00zM336.82 137.11h1.00v9.07h-1.00zM270.53 146.18h1.00v9.07h-1.00zM294.64 146.18h1.00v9.07h-1.00zM295.64 146.18h1.00v9.07h-1.00zM311.71 146.18h1.00v9.07h-1.00zM315.73 146.18h1.00v9.07h-1.00zM324.77 146.18h1.00v9.07h-1.00zM330.80 146.18h1.00v9.07h-1.00zM266.51 155.25h1.00v9.07h-1.00zM308.70 155.25h1.00v9.07h-1.00zM340.84 164.32h1.00v9.07h-1.00zM291.62 173.39h1.00v9.07h-1.00zM338.83 173.39h1.00v9.07h-1.00zM285.59 182.46h1.00v9.07h-1.00zM286.60 182.46h1.00v9.07h-1.00zM331.80 182.46h1.00v9.07h-1.00zM333.81 182.46h1.00v9.07h-1.00zM339.84 182.46h1.00v9.07h-1.00z"/>
<path fill="#a5abd5" d="M310.71 19.20h1.00v9.07h-1.00zM346.87 19.20h1.00v9.07h-1.00zM375.00 19.20h1.00v9.07h-1.00zM393.08 19.20h1.00v9.07h-1.00zM379.01 37.34h1.00v9.07h-1.00zM384.04 37.34h1.00v9.07h-1.00zM308.70 46.41h1.00v9.07h-1.00zM310.71 82.69h1.00v9.07h-1.00zM384.04 82.69h1.00v9.07h-1.00zM393.08 82.69h1.00v9.07h-1.00zM284.59 128.04h1.00v9.07h-1.00zM286.60 128.04h1.00v9.07h-1.00zM280.57 137.11h1.00v9.07h-1.00zM385.04 137.11h1.00v9.07h-1.00zM322.76 146.18h1.00v9.07h-1.00zM293.63 155.25h1.00v9.07h-1.00zM302.67 155.25h1.00v9.07h-1.00zM382.03 155.25h1.00v9.07h-1.00zM269.52 182.46h1.00v9.07h-1.00z"/>
<path fill="#f3bdc3" d="M316.73 19.20h1.00v9.07h-1.00zM351.89 28.27h1.00v9.07h-1.00zM321.76 64.55h1.00v9.07h-1.00zM266.51 73.62h1.00v9.07h-1.00zM323.77 82.69h1.00v9.07h-1.00zM341.85 91.76h1.00v9.07h-1.00zM397.10 91.76h1.00v9.07h-1.00zM281.58 100.83h1.00v9.07h-1.00zM272.54 109.90h1.00v9.07h-1.00zM378.01 109.90h1.00v9.07h-1.00zM394.08 109.90h1.00v9.07h-1.00zM276.55 128.04h1.00v9.07h-1.00zM378.01 182.46h1.00v9.07h-1.00z"/>
<path fill="#a5b1db" d="M317.74 19.20h1.00v9.07h-1.00zM347.87 19.20h1.00v9.07h-1.00zM282.58 55.48h1.00v9.07h-1.00zM267.51 64.55h1.00v9.07h-1.00zM351.89 91.76h1.00v9.07h-1.00zM351.89 100.83h1.00v9.07h-1.00zM326.78 109.90h1.00v9.07h-1.00zM287.60 118.97h1.00v9.07h-1.00zM303.68 128.04h1.00v9.07h-1.00zM314.73 155.25h1.00v9.07h-1.00z"/>
<path fill="#abb1db" d="M318.74 19.20h1.00v9.07h-1.00zM345.87 19.20h1.00v9.07h-1.00zM385.04 19.20h1.00v9.07h-1.00zM387.05 19.20h1.00v9.07h-1.00zM308.70 28.27h1.00v9.07h-1.00zM341.85 28.27h1.00v9.07h-1.00zM355.91 37.34h1.00v9.07h-1.00zM381.02 37.34h1.00v9.07h-1.00zM302.67 55.48h1.00v9.07h-1.00zM311.71 55.48h1.00v9.07h-1.00zM354.91 55.48h1.00v9.07h-1.00zM397.10 55.48h1.00v9.07h-1.00zM336.82 73.62h1.00v9.07h-1.00zM372.99 73.62h1.00v9.07h-1.00zM292.63 82.69h1.00v9.07h-1.00zM353.90 82.69h1.00v9.07h-1.00zM382.03 82.69h1.00v9.07h-1.00zM279.57 91.76h1.00v9.07h-1.00zM352.90 91.76h1.00v9.07h-1.00zM265.50 100.83h1.00v9.07h-1.00zM317.74 100.83h1.00v9.07h-1.00zM264.50 109.90h1.00v9.07h-1.00zM275.55 128.04h1.00v9.07h-1.00zM285.59 128.04h1.00v9.07h-1.00zM372.99 128.04h1.00v9.07h-1.00zM381.02 128.04h1.00v9.07h-1.00zM393.08 128.04h1.00v9.07h-1.00zM327.78 146.18h1.00v9.07h-1.00zM377.01 146.18h1.00v9.07h-1.00zM388.05 146.18h1.00v9.07h-1.00zM392.07 146.18h1.00v9.07h-1.00zM299.66 164.32h1.00v9.07h-1.00zM311.71 164.32h1.00v9.07h-1.00zM354.91 173.39h1.00v9.07h-1.00zM304.68 182.46h1.00v9.07h-1.00zM345.87 182.46h1.00v9.07h-1.00zM353.90 182.46h1.00v9.07h-1.00zM377.01 182.46h1.00v9.07h-1.00z"/>
<path fill="#f3f3f9" d="M319.75 19.20h1.00v9.07h-1.00zM355.91 19.20h1.00v9.07h-1.00zM360.93 19.20h1.00v9.07h-1.00zM381.02 19.20h1.00v9.07h-1.00zM382.03 19.20h1.00v9.07h-1.00zM271.53 28.27h1.00v9.07h-1.00zM310.71 28.27h1.00v9.07h-1.00zM330.80 28.27h1.00v9.07h-1.00zM331.80 28.27h1.00v9.07h-1.00zM381.02 28.27h1.00v9.07h-1.00zM388.05 28.27h1.00v9.07h-1.00zM286.60 37.34h1.00v9.07h-1.00zM333.81 37.34h1.00v9.07h-1.00zM343.86 37.34h1.00v9.07h-1.00zM271.53 46.41h1.00v9.07h-1.00zM297.65 46.41h1.00v9.07h-1.00zM300.66 46.41h1.00v9.07h-1.00zM387.05 46.41h1.00v9.07h-1.00zM286.60 55.48h1.00v9.07h-1.00zM289.61 55.48h1.00v9.07h-1.00zM313.72 55.48h1.00v9.07h-1.00zM327.78 55.48h1.00v9.07h-1.00zM329.79 55.48h1.00v9.07h-1.00zM366.96 55.48h1.00v9.07h-1.00zM373.99 55.48h1.00v9.07h-1.00zM388.05 55.48h1.00v9.07h-1.00zM394.08 55.48h1.00v9.07h-1.00zM274.55 64.55h1.00v9.07h-1.00zM279.57 64.55h1.00v9.07h-1.00zM330.80 64.55h1.00v9.07h-1.00zM365.96 64.55h1.00v9.07h-1.00zM370.98 64.55h1.00v9.07h-1.00zM387.05 64.55h1.00v9.07h-1.00zM290.62 73.62h1.00v9.07h-1.00zM344.86 73.62h1.00v9.07h-1.00zM353.90 73.62h1.00v9.07h-1.00zM367.96 73.62h1.00v9.07h-1.00zM381.02 73.62h1.00v9.07h-1.00zM396.09 73.62h1.00v9.07h-1.00zM278.56 82.69h1.00v9.07h-1.00zM284.59 82.69h1.00v9.07h-1.00zM299.66 82.69h1.00v9.07h-1.00zM348.88 82.69h1.00v9.07h-1.00zM351.89 82.69h1.00v9.07h-1.00zM354.91 82.69h1.00v9.07h-1.00zM376.00 82.69h1.00v9.07h-1.00zM272.54 91.76h1.00v9.07h-1.00zM319.75 91.76h1.00v9.07h-1.00zM333.81 91.76h1.00v9.07h-1.00zM356.92 91.76h1.00v9.07h-1.00zM357.92 91.76h1.00v9.07h-1.00zM362.94 91.76h1.00v9.07h-1.00zM368.97 91.76h1.00v9.07h-1.00zM266.51 100.83h1.00v9.07h-1.00zM270.53 100.83h1.00v9.07h-1.00zM296.64 100.83h1.00v9.07h-1.00zM297.65 100.83h1.00v9.07h-1.00zM321.76 100.83h1.00v9.07h-1.00zM266.51 109.90h1.00v9.07h-1.00zM298.65 109.90h1.00v9.07h-1.00zM299.66 109.90h1.00v9.07h-1.00zM318.74 109.90h1.00v9.07h-1.00zM365.96 109.90h1.00v9.07h-1.00zM273.54 118.97h1.00v9.07h-1.00zM275.55 118.97h1.00v9.07h-1.00zM279.57 118.97h1.00v9.07h-1.00zM289.61 118.97h1.00v9.07h-1.00zM306.69 118.97h1.00v9.07h-1.00zM345.87 118.97h1.00v9.07h-1.00zM354.91 118.97h1.00v9.07h-1.00zM368.97 118.97h1.00v9.07h-1.00zM264.50 128.04h1.00v9.07h-1.00zM273.54 128.04h1.00v9.07h-1.00zM274.55 128.04h1.00v9.07h-1.00zM290.62 128.04h1.00v9.07h-1.00zM306.69 128.04h1.00v9.07h-1.00zM331.80 128.04h1.00v9.07h-1.00zM389.06 128.04h1.00v9.07h-1.00zM276.55 137.11h1.00v9.07h-1.00zM289.61 137.11h1.00v9.07h-1.00zM314.73 137.11h1.00v9.07h-1.00zM335.82 137.11h1.00v9.07h-1.00zM268.52 146.18h1.00v9.07h-1.00zM292.63 146.18h1.00v9.07h-1.00zM306.69 146.18h1.00v9.07h-1.00zM367.96 146.18h1.00v9.07h-1.00zM369.97 146.18h1.00v9.07h-1.00zM275.55 155.25h1.00v9.07h-1.00zM304.68 155.25h1.00v9.07h-1.00zM365.96 155.25h1.00v9.07h-1.00zM388.05 155.25h1.00v9.07h-1.00zM394.08 155.25h1.00v9.07h-1.00zM286.60 164.32h1.00v9.07h-1.00zM310.71 164.32h1.00v9.07h-1.00zM331.80 164.32h1.00v9.07h-1.00zM336.82 164.32h1.00v9.07h-1.00zM376.00 164.32h1.00v9.07h-1.00zM270.53 173.39h1.00v9.07h-1.00zM305.68 173.39h1.00v9.07h-1.00zM309.70 173.39h1.00v9.07h-1.00zM310.71 173.39h1.00v9.07h-1.00zM321.76 173.39h1.00v9.07h-1.00zM349.88 173.39h1.00v9.07h-1.00zM379.01 173.39h1.00v9.07h-1.00zM391.07 173.39h1.00v9.07h-1.00zM288.61 182.46h1.00v9.07h-1.00zM335.82 182.46h1.00v9.07h-1.00zM348.88 182.46h1.00v9.07h-1.00zM364.95 182.46h1.00v9.07h-1.00zM368.97 182.46h1.00v9.07h-1.00zM371.98 182.46h1.00v9.07h-1.00z"/>
<path fill="#f9dbdb" d="M320.75 19.20h1.00v9.07h-1.00zM332.81 19.20h1.00v9.07h-1.00zM311.71 28.27h1.00v9.07h-1.00zM315.73 28.27h1.00v9.07h-1.00zM346.87 28.27h1.00v9.07h-1.00zM393.08 28.27h1.00v9.07h-1.00zM271.53 37.34h1.00v9.07h-1.00zM331.80 37.34h1.00v9.07h-1.00zM264.50 46.41h1.00v9.07h-1.00zM270.53 55.48h1.00v9.07h-1.00zM320.75 55.48h1.00v9.07h-1.00zM372.99 55.48h1.00v9.07h-1.00zM395.09 55.48h1.00v9.07h-1.00zM337.83 64.55h1.00v9.07h-1.00zM346.87 64.55h1.00v9.07h-1.00zM383.03 64.55h1.00v9.07h-1.00zM309.70 73.62h1.00v9.07h-1.00zM311.71 73.62h1.00v9.07h-1.00zM322.76 73.62h1.00v9.07h-1.00zM386.05 73.62h1.00v9.07h-1.00zM278.56 91.76h1.00v9.07h-1.00zM302.67 100.83h1.00v9.07h-1.00zM303.68 100.83h1.00v9.07h-1.00zM328.79 100.83h1.00v9.07h-1.00zM395.09 100.83h1.00v9.07h-1.00zM279.57 109.90h1.00v9.07h-1.00zM379.01 109.90h1.00v9.07h-1.00zM314.73 118.97h1.00v9.07h-1.00zM301.67 128.04h1.00v9.07h-1.00zM360.93 128.04h1.00v9.07h-1.00zM267.51 137.11h1.00v9.07h-1.00zM308.70 137.11h1.00v9.07h-1.00zM355.91 137.11h1.00v9.07h-1.00zM360.93 137.11h1.00v9.07h-1.00zM393.08 137.11h1.00v9.07h-1.00zM281.58 146.18h1.00v9.07h-1.00zM371.98 146.18h1.00v9.07h-1.00zM269.52 155.25h1.00v9.07h-1.00zM292.63 155.25h1.00v9.07h-1.00zM305.68 155.25h1.00v9.07h-1.00zM317.74 155.25h1.00v9.07h-1.00zM381.02 164.32h1.00v9.07h-1.00z"/>
<path fill="#f9e1e7" d="M322.76 19.20h1.00v9.07h-1.00zM389.06 28.27h1.00v9.07h-1.00zM309.70 37.34h1.00v9.07h-1.00zM313.72 37.34h1.00v9.07h-1.00zM295.64 46.41h1.00v9.07h-1.00zM322.76 46.41h1.00v9.07h-1.00zM349.88 55.48h1.00v9.07h-1.00zM371.98 55.48h1.00v9.07h-1.00zM351.89 64.55h1.00v9.07h-1.00zM296.64 82.69h1.00v9.07h-1.00zM327.78 82.69h1.00v9.07h-1.00zM331.80 82.69h1.00v9.07h-1.00zM271.53 91.76h1.00v9.07h-1.00zM295.64 91.76h1.00v9.07h-1.00zM300.66 91.76h1.00v9.07h-1.00zM344.86 91.76h1.00v9.07h-1.00zM364.95 91.76h1.00v9.07h-1.00zM352.90 100.83h1.00v9.07h-1.00zM292.63 109.90h1.00v9.07h-1.00zM290.62 118.97h1.00v9.07h-1.00zM335.82 118.97h1.00v9.07h-1.00zM369.97 118.97h1.00v9.07h-1.00zM388.05 118.97h1.00v9.07h-1.00zM341.85 128.04h1.00v9.07h-1.00zM382.03 128.04h1.00v9.07h-1.00zM306.69 137.11h1.00v9.07h-1.00zM389.06 137.11h1.00v9.07h-1.00zM350.89 146.18h1.00v9.07h-1.00zM372.99 146.18h1.00v9.07h-1.00zM280.57 155.25h1.00v9.07h-1.00zM311.71 155.25h1.00v9.07h-1.00zM397.10 164.32h1.00v9.07h-1.00zM346.87 173.39h1.00v9.07h-1.00zM355.91 173.39h1.00v9.07h-1.00zM359.93 173.39h1.00v9.07h-1.00zM383.03 173.39h1.00v9.07h-1.00zM292.63 182.46h1.00v9.07h-1.00z"/>
<path fill="#fff3f9" d="M324.77 19.20h1.00v9.07h-1.00zM328.79 28.27h1.00v9.07h-1.00zM369.97 28.27h1.00v9.07h-1.00zM313.72 46.41h1.00v9.07h-1.00zM318.74 46.41h1.00v9.07h-1.00zM372.99 46.41h1.00v9.07h-1.00zM378.01 46.41h1.00v9.07h-1.00zM285.59 64.55h1.00v9.07h-1.00zM298.65 82.69h1.00v9.07h-1.00zM363.95 82.69h1.00v9.07h-1.00zM296.64 91.76h1.00v9.07h-1.00zM297.65 91.76h1.00v9.07h-1.00zM385.04 91.76h1.00v9.07h-1.00zM272.54 100.83h1.00v9.07h-1.00zM381.02 118.97h1.00v9.07h-1.00zM272.54 128.04h1.00v9.07h-1.00zM303.68 137.11h1.00v9.07h-1.00z"/>
<path fill="#999fd5" d="M325.78 19.20h1.00v9.07h-1.00zM358.92 37.34h1.00v9.07h-1.00zM395.09 82.69h1.00v9.07h-1.00zM287.60 128.04h1.00v9.07h-1.00z"/>
<path fill="#b1b7db" d="M326.78 19.20h1.00v9.07h-1.00zM340.84 28.27h1.00v9.07h-1.00zM347.87 37.34h1.00v9.07h-1.00zM380.02 37.34h1.00v9.07h-1.00zM390.06 37.34h1.00v9.07h-1.00zM391.07 37.34h1.00v9.07h-1.00zM302.67 46.41h1.00v9.07h-1.00zM283.59 55.48h1.00v9.07h-1.00zM284.59 55.48h1.00v9.07h-1.00zM301.67 55.48h1.00v9.07h-1.00zM303.68 55.48h1.00v9.07h-1.00zM353.90 55.48h1.00v9.07h-1.00zM266.51 64.55h1.00v9.07h-1.00zM299.66 64.55h1.00v9.07h-1.00zM347.87 64.55h1.00v9.07h-1.00zM335.82 73.62h1.00v9.07h-1.00zM338.83 91.76h1.00v9.07h-1.00zM340.84 91.76h1.00v9.07h-1.00zM350.89 91.76h1.00v9.07h-1.00zM379.01 91.76h1.00v9.07h-1.00zM275.55 100.83h1.00v9.07h-1.00zM310.71 100.83h1.00v9.07h-1.00zM375.00 100.83h1.00v9.07h-1.00zM281.58 109.90h1.00v9.07h-1.00zM312.72 109.90h1.00v9.07h-1.00zM325.78 109.90h1.00v9.07h-1.00zM331.80 109.90h1.00v9.07h-1.00zM277.56 118.97h1.00v9.07h-1.00zM302.67 118.97h1.00v9.07h-1.00zM361.94 118.97h1.00v9.07h-1.00zM279.57 128.04h1.00v9.07h-1.00zM391.07 128.04h1.00v9.07h-1.00zM332.81 137.11h1.00v9.07h-1.00zM383.03 137.11h1.00v9.07h-1.00zM323.77 146.18h1.00v9.07h-1.00zM326.78 146.18h1.00v9.07h-1.00zM383.03 146.18h1.00v9.07h-1.00zM385.04 146.18h1.00v9.07h-1.00zM391.07 146.18h1.00v9.07h-1.00zM385.04 155.25h1.00v9.07h-1.00zM390.06 155.25h1.00v9.07h-1.00zM298.65 164.32h1.00v9.07h-1.00zM274.55 173.39h1.00v9.07h-1.00zM275.55 173.39h1.00v9.07h-1.00zM292.63 173.39h1.00v9.07h-1.00zM347.87 182.46h1.00v9.07h-1.00zM350.89 182.46h1.00v9.07h-1.00zM373.99 182.46h1.00v9.07h-1.00zM384.04 182.46h1.00v9.07h-1.00zM385.04 182.46h1.00v9.07h-1.00zM392.07 182.46h1.00v9.07h-1.00z"/>
<path fill="#ffeded" d="M327.78 19.20h1.00v9.07h-1.00zM333.81 19.20h1.00v9.07h-1.00zM358.92 19.20h1.00v9.07h-1.00zM266.51 28.27h1.00v9.07h-1.00zM275.55 28.27h1.00v9.07h-1.00zM285.59 28.27h1.00v9.07h-1.00zM287.60 28.27h1.00v9.07h-1.00zM363.95 28.27h1.00v9.07h-1.00zM382.03 28.27h1.00v9.07h-1.00zM394.08 28.27h1.00v9.07h-1.00zM395.09 28.27h1.00v9.07h-1.00zM301.67 37.34h1.00v9.07h-1.00zM308.70 37.34h1.00v9.07h-1.00zM340.84 37.34h1.00v9.07h-1.00zM269.52 46.41h1.00v9.07h-1.00zM275.55 46.41h1.00v9.07h-1.00zM312.72 46.41h1.00v9.07h-1.00zM351.89 46.41h1.00v9.07h-1.00zM360.93 46.41h1.00v9.07h-1.00zM275.55 55.48h1.00v9.07h-1.00zM323.77 55.48h1.00v9.07h-1.00zM341.85 55.48h1.00v9.07h-1.00zM360.93 55.48h1.00v9.07h-1.00zM289.61 64.55h1.00v9.07h-1.00zM291.62 64.55h1.00v9.07h-1.00zM345.87 64.55h1.00v9.07h-1.00zM375.00 64.55h1.00v9.07h-1.00zM381.02 64.55h1.00v9.07h-1.00zM394.08 64.55h1.00v9.07h-1.00zM271.53 73.62h1.00v9.07h-1.00zM306.69 73.62h1.00v9.07h-1.00zM307.69 73.62h1.00v9.07h-1.00zM320.75 73.62h1.00v9.07h-1.00zM376.00 73.62h1.00v9.07h-1.00zM390.06 73.62h1.00v9.07h-1.00zM281.58 82.69h1.00v9.07h-1.00zM287.60 82.69h1.00v9.07h-1.00zM293.63 82.69h1.00v9.07h-1.00zM320.75 82.69h1.00v9.07h-1.00zM332.81 82.69h1.00v9.07h-1.00zM349.88 82.69h1.00v9.07h-1.00zM294.64 91.76h1.00v9.07h-1.00zM309.70 91.76h1.00v9.07h-1.00zM384.04 91.76h1.00v9.07h-1.00zM386.05 91.76h1.00v9.07h-1.00zM264.50 100.83h1.00v9.07h-1.00zM355.91 100.83h1.00v9.07h-1.00zM283.59 109.90h1.00v9.07h-1.00zM294.64 109.90h1.00v9.07h-1.00zM355.91 109.90h1.00v9.07h-1.00zM359.93 109.90h1.00v9.07h-1.00zM373.99 109.90h1.00v9.07h-1.00zM386.05 109.90h1.00v9.07h-1.00zM280.57 118.97h1.00v9.07h-1.00zM296.64 118.97h1.00v9.07h-1.00zM305.68 118.97h1.00v9.07h-1.00zM393.08 118.97h1.00v9.07h-1.00zM307.69 128.04h1.00v9.07h-1.00zM328.79 128.04h1.00v9.07h-1.00zM343.86 128.04h1.00v9.07h-1.00zM345.87 128.04h1.00v9.07h-1.00zM272.54 137.11h1.00v9.07h-1.00zM277.56 137.11h1.00v9.07h-1.00zM278.56 137.11h1.00v9.07h-1.00zM318.74 137.11h1.00v9.07h-1.00zM323.77 137.11h1.00v9.07h-1.00zM380.02 137.11h1.00v9.07h-1.00zM394.08 137.11h1.00v9.07h-1.00zM280.57 146.18h1.00v9.07h-1.00zM297.65 146.18h1.00v9.07h-1.00zM300.66 146.18h1.00v9.07h-1.00zM355.91 146.18h1.00v9.07h-1.00zM268.52 155.25h1.00v9.07h-1.00zM279.57 155.25h1.00v9.07h-1.00zM294.64 155.25h1.00v9.07h-1.00zM310.71 155.25h1.00v9.07h-1.00zM321.76 155.25h1.00v9.07h-1.00zM274.55 164.32h1.00v9.07h-1.00zM301.67 164.32h1.00v9.07h-1.00zM302.67 164.32h1.00v9.07h-1.00zM355.91 164.32h1.00v9.07h-1.00zM363.95 164.32h1.00v9.07h-1.00zM384.04 164.32h1.00v9.07h-1.00zM301.67 173.39h1.00v9.07h-1.00zM314.73 173.39h1.00v9.07h-1.00zM322.76 173.39h1.00v9.07h-1.00zM360.93 173.39h1.00v9.07h-1.00zM382.03 173.39h1.00v9.07h-1.00zM389.06 173.39h1.00v9.07h-1.00zM268.52 182.46h1.00v9.07h-1.00zM319.75 182.46h1.00v9.07h-1.00zM321.76 182.46h1.00v9.07h-1.00zM383.03 182.46h1.00v9.07h-1.00z"/>
<path fill="#c3c3e1" d="M328.79 19.20h1.00v9.07h-1.00zM321.76 28.27h1.00v9.07h-1.00zM349.88 28.27h1.00v9.07h-1.00zM367.96 46.41h1.00v9.07h-1.00zM377.01 91.76h1.00v9.07h-1.00zM345.87 100.83h1.00v9.07h-1.00zM346.87 100.83h1.00v9.07h-1.00zM358.92 137.11h1.00v9.07h-1.00zM365.96 137.11h1.00v9.07h-1.00zM293.63 146.18h1.00v9.07h-1.00zM334.82 164.32h1.00v9.07h-1.00zM289.61 182.46h1.00v9.07h-1.00z"/>
<path fill="#c9cfe7" d="M331.80 19.20h1.00v9.07h-1.00zM342.85 19.20h1.00v9.07h-1.00zM354.91 19.20h1.00v9.07h-1.00zM394.08 19.20h1.00v9.07h-1.00zM282.58 28.27h1.00v9.07h-1.00zM332.81 28.27h1.00v9.07h-1.00zM265.50 37.34h1.00v9.07h-1.00zM294.64 37.34h1.00v9.07h-1.00zM302.67 37.34h1.00v9.07h-1.00zM382.03 37.34h1.00v9.07h-1.00zM388.05 37.34h1.00v9.07h-1.00zM272.54 46.41h1.00v9.07h-1.00zM324.77 46.41h1.00v9.07h-1.00zM291.62 55.48h1.00v9.07h-1.00zM288.61 64.55h1.00v9.07h-1.00zM325.78 64.55h1.00v9.07h-1.00zM283.59 73.62h1.00v9.07h-1.00zM286.60 73.62h1.00v9.07h-1.00zM369.97 73.62h1.00v9.07h-1.00zM370.98 73.62h1.00v9.07h-1.00zM283.59 82.69h1.00v9.07h-1.00zM288.61 82.69h1.00v9.07h-1.00zM291.62 82.69h1.00v9.07h-1.00zM313.72 82.69h1.00v9.07h-1.00zM366.96 82.69h1.00v9.07h-1.00zM385.04 82.69h1.00v9.07h-1.00zM386.05 82.69h1.00v9.07h-1.00zM391.07 82.69h1.00v9.07h-1.00zM269.52 91.76h1.00v9.07h-1.00zM270.53 91.76h1.00v9.07h-1.00zM376.00 91.76h1.00v9.07h-1.00zM267.51 100.83h1.00v9.07h-1.00zM268.52 100.83h1.00v9.07h-1.00zM288.61 100.83h1.00v9.07h-1.00zM314.73 100.83h1.00v9.07h-1.00zM322.76 100.83h1.00v9.07h-1.00zM326.78 100.83h1.00v9.07h-1.00zM334.82 100.83h1.00v9.07h-1.00zM344.86 100.83h1.00v9.07h-1.00zM373.99 100.83h1.00v9.07h-1.00zM382.03 100.83h1.00v9.07h-1.00zM389.06 100.83h1.00v9.07h-1.00zM322.76 109.90h1.00v9.07h-1.00zM323.77 109.90h1.00v9.07h-1.00zM349.88 109.90h1.00v9.07h-1.00zM351.89 109.90h1.00v9.07h-1.00zM372.99 109.90h1.00v9.07h-1.00zM382.03 109.90h1.00v9.07h-1.00zM373.99 118.97h1.00v9.07h-1.00zM387.05 118.97h1.00v9.07h-1.00zM266.51 128.04h1.00v9.07h-1.00zM296.64 128.04h1.00v9.07h-1.00zM309.70 128.04h1.00v9.07h-1.00zM311.71 128.04h1.00v9.07h-1.00zM355.91 128.04h1.00v9.07h-1.00zM357.92 128.04h1.00v9.07h-1.00zM340.84 137.11h1.00v9.07h-1.00zM396.09 137.11h1.00v9.07h-1.00zM285.59 146.18h1.00v9.07h-1.00zM286.60 146.18h1.00v9.07h-1.00zM332.81 146.18h1.00v9.07h-1.00zM373.99 146.18h1.00v9.07h-1.00zM386.05 146.18h1.00v9.07h-1.00zM274.55 155.25h1.00v9.07h-1.00zM289.61 155.25h1.00v9.07h-1.00zM270.53 164.32h1.00v9.07h-1.00zM307.69 164.32h1.00v9.07h-1.00zM332.81 164.32h1.00v9.07h-1.00zM285.59 173.39h1.00v9.07h-1.00zM385.04 173.39h1.00v9.07h-1.00zM395.09 173.39h1.00v9.07h-1.00zM396.09 173.39h1.00v9.07h-1.00zM306.69 182.46h1.00v9.07h-1.00zM340.84 182.46h1.00v9.07h-1.00zM393.08 182.46h1.00v9.07h-1.00z"/>
<path fill="#e1e7f3" d="M334.82 19.20h1.00v9.07h-1.00zM340.84 19.20h1.00v9.07h-1.00zM269.52 28.27h1.00v9.07h-1.00zM280.57 28.27h1.00v9.07h-1.00zM294.64 28.27h1.00v9.07h-1.00zM299.66 28.27h1.00v9.07h-1.00zM333.81 28.27h1.00v9.07h-1.00zM334.82 28.27h1.00v9.07h-1.00zM377.01 28.27h1.00v9.07h-1.00zM315.73 37.34h1.00v9.07h-1.00zM336.82 37.34h1.00v9.07h-1.00zM344.86 37.34h1.00v9.07h-1.00zM361.94 37.34h1.00v9.07h-1.00zM385.04 55.48h1.00v9.07h-1.00zM319.75 64.55h1.00v9.07h-1.00zM333.81 64.55h1.00v9.07h-1.00zM355.91 64.55h1.00v9.07h-1.00zM281.58 73.62h1.00v9.07h-1.00zM297.65 73.62h1.00v9.07h-1.00zM313.72 73.62h1.00v9.07h-1.00zM328.79 73.62h1.00v9.07h-1.00zM347.87 82.69h1.00v9.07h-1.00zM352.90 82.69h1.00v9.07h-1.00zM302.67 91.76h1.00v9.07h-1.00zM306.69 91.76h1.00v9.07h-1.00zM292.63 100.83h1.00v9.07h-1.00zM339.84 100.83h1.00v9.07h-1.00zM349.88 100.83h1.00v9.07h-1.00zM293.63 109.90h1.00v9.07h-1.00zM311.71 109.90h1.00v9.07h-1.00zM352.90 109.90h1.00v9.07h-1.00zM282.58 118.97h1.00v9.07h-1.00zM313.72 118.97h1.00v9.07h-1.00zM341.85 118.97h1.00v9.07h-1.00zM397.10 128.04h1.00v9.07h-1.00zM275.55 137.11h1.00v9.07h-1.00zM348.88 137.11h1.00v9.07h-1.00zM271.53 146.18h1.00v9.07h-1.00zM299.66 146.18h1.00v9.07h-1.00zM317.74 146.18h1.00v9.07h-1.00zM329.79 146.18h1.00v9.07h-1.00zM378.01 146.18h1.00v9.07h-1.00zM330.80 155.25h1.00v9.07h-1.00zM267.51 164.32h1.00v9.07h-1.00zM393.08 173.39h1.00v9.07h-1.00zM272.54 182.46h1.00v9.07h-1.00zM293.63 182.46h1.00v9.07h-1.00zM317.74 182.46h1.00v9.07h-1.00zM337.83 182.46h1.00v9.07h-1.00zM366.96 182.46h1.00v9.07h-1.00z"/>
<path fill="#c3c9e7" d="M335.82 19.20h1.00v9.07h-1.00zM276.55 28.27h1.00v9.07h-1.00zM295.64 28.27h1.00v9.07h-1.00zM296.64 28.27h1.00v9.07h-1.00zM338.83 28.27h1.00v9.07h-1.00zM348.88 37.34h1.00v9.07h-1.00zM331.80 46.41h1.00v9.07h-1.00zM336.82 46.41h1.00v9.07h-1.00zM281.58 55.48h1.00v9.07h-1.00zM310.71 55.48h1.00v9.07h-1.00zM335.82 55.48h1.00v9.07h-1.00zM370.98 55.48h1.00v9.07h-1.00zM312.72 64.55h1.00v9.07h-1.00zM328.79 64.55h1.00v9.07h-1.00zM342.85 64.55h1.00v9.07h-1.00zM298.65 73.62h1.00v9.07h-1.00zM342.85 73.62h1.00v9.07h-1.00zM277.56 82.69h1.00v9.07h-1.00zM358.92 82.69h1.00v9.07h-1.00zM359.93 82.69h1.00v9.07h-1.00zM364.95 82.69h1.00v9.07h-1.00zM365.96 82.69h1.00v9.07h-1.00zM367.96 82.69h1.00v9.07h-1.00zM380.02 82.69h1.00v9.07h-1.00zM299.66 91.76h1.00v9.07h-1.00zM311.71 91.76h1.00v9.07h-1.00zM329.79 91.76h1.00v9.07h-1.00zM337.83 91.76h1.00v9.07h-1.00zM336.82 100.83h1.00v9.07h-1.00zM356.92 100.83h1.00v9.07h-1.00zM280.57 109.90h1.00v9.07h-1.00zM329.79 109.90h1.00v9.07h-1.00zM336.82 109.90h1.00v9.07h-1.00zM336.82 118.97h1.00v9.07h-1.00zM348.88 118.97h1.00v9.07h-1.00zM382.03 118.97h1.00v9.07h-1.00zM278.56 128.04h1.00v9.07h-1.00zM288.61 128.04h1.00v9.07h-1.00zM346.87 128.04h1.00v9.07h-1.00zM383.03 128.04h1.00v9.07h-1.00zM317.74 137.11h1.00v9.07h-1.00zM388.05 137.11h1.00v9.07h-1.00zM265.50 146.18h1.00v9.07h-1.00zM321.76 146.18h1.00v9.07h-1.00zM333.81 146.18h1.00v9.07h-1.00zM344.86 146.18h1.00v9.07h-1.00zM345.87 146.18h1.00v9.07h-1.00zM382.03 146.18h1.00v9.07h-1.00zM384.04 146.18h1.00v9.07h-1.00zM272.54 155.25h1.00v9.07h-1.00zM286.60 155.25h1.00v9.07h-1.00zM297.65 155.25h1.00v9.07h-1.00zM397.10 155.25h1.00v9.07h-1.00zM325.78 164.32h1.00v9.07h-1.00zM345.87 164.32h1.00v9.07h-1.00zM351.89 164.32h1.00v9.07h-1.00zM282.58 173.39h1.00v9.07h-1.00zM267.51 182.46h1.00v9.07h-1.00zM307.69 182.46h1.00v9.07h-1.00zM316.73 182.46h1.00v9.07h-1.00zM355.91 182.46h1.00v9.07h-1.00zM359.93 182.46h1.00v9.07h-1.00zM394.08 182.46h1.00v9.07h-1.00z"/>
<path fill="#cfd5e7" d="M337.83 19.20h1.00v9.07h-1.00zM373.99 37.34h1.00v9.07h-1.00zM290.62 46.41h1.00v9.07h-1.00zM303.68 73.62h1.00v9.07h-1.00zM345.87 82.69h1.00v9.07h-1.00zM350.89 100.83h1.00v9.07h-1.00zM376.00 100.83h1.00v9.07h-1.00zM350.89 118.97h1.00v9.07h-1.00zM294.64 128.04h1.00v9.07h-1.00zM366.96 137.11h1.00v9.07h-1.00zM325.78 146.18h1.00v9.07h-1.00zM296.64 155.25h1.00v9.07h-1.00zM341.85 155.25h1.00v9.07h-1.00z"/>
<path fill="#cfd5ed" d="M339.84 19.20h1.00v9.07h-1.00zM348.88 19.20h1.00v9.07h-1.00zM349.88 19.20h1.00v9.07h-1.00zM352.90 19.20h1.00v9.07h-1.00zM389.06 19.20h1.00v9.07h-1.00zM264.50 37.34h1.00v9.07h-1.00zM291.62 37.34h1.00v9.07h-1.00zM293.63 37.34h1.00v9.07h-1.00zM295.64 37.34h1.00v9.07h-1.00zM326.78 37.34h1.00v9.07h-1.00zM364.95 37.34h1.00v9.07h-1.00zM383.03 37.34h1.00v9.07h-1.00zM329.79 46.41h1.00v9.07h-1.00zM280.57 55.48h1.00v9.07h-1.00zM355.91 55.48h1.00v9.07h-1.00zM375.00 55.48h1.00v9.07h-1.00zM392.07 73.62h1.00v9.07h-1.00zM264.50 82.69h1.00v9.07h-1.00zM305.68 91.76h1.00v9.07h-1.00zM312.72 91.76h1.00v9.07h-1.00zM293.63 100.83h1.00v9.07h-1.00zM390.06 100.83h1.00v9.07h-1.00zM393.08 100.83h1.00v9.07h-1.00zM273.54 109.90h1.00v9.07h-1.00zM337.83 109.90h1.00v9.07h-1.00zM348.88 109.90h1.00v9.07h-1.00zM364.95 109.90h1.00v9.07h-1.00zM316.73 118.97h1.00v9.07h-1.00zM323.77 118.97h1.00v9.07h-1.00zM365.96 118.97h1.00v9.07h-1.00zM371.98 118.97h1.00v9.07h-1.00zM389.06 118.97h1.00v9.07h-1.00zM292.63 128.04h1.00v9.07h-1.00zM295.64 128.04h1.00v9.07h-1.00zM310.71 128.04h1.00v9.07h-1.00zM347.87 128.04h1.00v9.07h-1.00zM363.95 128.04h1.00v9.07h-1.00zM265.50 137.11h1.00v9.07h-1.00zM302.67 137.11h1.00v9.07h-1.00zM316.73 137.11h1.00v9.07h-1.00zM309.70 146.18h1.00v9.07h-1.00zM347.87 146.18h1.00v9.07h-1.00zM354.91 146.18h1.00v9.07h-1.00zM276.55 155.25h1.00v9.07h-1.00zM264.50 164.32h1.00v9.07h-1.00zM278.56 164.32h1.00v9.07h-1.00zM344.86 164.32h1.00v9.07h-1.00zM269.52 173.39h1.00v9.07h-1.00zM325.78 173.39h1.00v9.07h-1.00zM332.81 173.39h1.00v9.07h-1.00zM337.83 173.39h1.00v9.07h-1.00zM362.94 173.39h1.00v9.07h-1.00zM368.97 173.39h1.00v9.07h-1.00zM279.57 182.46h1.00v9.07h-1.00zM308.70 182.46h1.00v9.07h-1.00zM338.83 182.46h1.00v9.07h-1.00z"/>
<path fill="#cfcfe7" d="M353.90 19.20h1.00v9.07h-1.00zM362.94 19.20h1.00v9.07h-1.00zM291.62 28.27h1.00v9.07h-1.00zM290.62 37.34h1.00v9.07h-1.00zM289.61 46.41h1.00v9.07h-1.00zM297.65 55.48h1.00v9.07h-1.00zM318.74 55.48h1.00v9.07h-1.00zM284.59 73.62h1.00v9.07h-1.00zM295.64 73.62h1.00v9.07h-1.00zM290.62 82.69h1.00v9.07h-1.00zM308.70 82.69h1.00v9.07h-1.00zM314.73 82.69h1.00v9.07h-1.00zM330.80 91.76h1.00v9.07h-1.00zM306.69 100.83h1.00v9.07h-1.00zM335.82 100.83h1.00v9.07h-1.00zM345.87 109.90h1.00v9.07h-1.00zM358.92 118.97h1.00v9.07h-1.00zM308.70 128.04h1.00v9.07h-1.00zM361.94 128.04h1.00v9.07h-1.00zM371.98 128.04h1.00v9.07h-1.00zM341.85 137.11h1.00v9.07h-1.00zM357.92 137.11h1.00v9.07h-1.00zM308.70 146.18h1.00v9.07h-1.00zM299.66 155.25h1.00v9.07h-1.00zM368.97 155.25h1.00v9.07h-1.00zM265.50 164.32h1.00v9.07h-1.00zM297.65 164.32h1.00v9.07h-1.00zM341.85 164.32h1.00v9.07h-1.00zM299.66 173.39h1.00v9.07h-1.00zM315.73 173.39h1.00v9.07h-1.00zM397.10 173.39h1.00v9.07h-1.00z"/>
<path fill="#f9dbe1" d="M363.95 19.20h1.00v9.07h-1.00zM368.97 19.20h1.00v9.07h-1.00zM344.86 28.27h1.00v9.07h-1.00zM267.51 37.34h1.00v9.07h-1.00zM265.50 46.41h1.00v9.07h-1.00zM281.58 46.41h1.00v9.07h-1.00zM274.55 55.48h1.00v9.07h-1.00zM294.64 55.48h1.00v9.07h-1.00zM343.86 55.48h1.00v9.07h-1.00zM347.87 55.48h1.00v9.07h-1.00zM308.70 64.55h1.00v9.07h-1.00zM357.92 64.55h1.00v9.07h-1.00zM369.97 64.55h1.00v9.07h-1.00zM391.07 64.55h1.00v9.07h-1.00zM301.67 73.62h1.00v9.07h-1.00zM308.70 73.62h1.00v9.07h-1.00zM312.72 73.62h1.00v9.07h-1.00zM316.73 73.62h1.00v9.07h-1.00zM373.99 73.62h1.00v9.07h-1.00zM286.60 82.69h1.00v9.07h-1.00zM316.73 82.69h1.00v9.07h-1.00zM321.76 82.69h1.00v9.07h-1.00zM371.98 82.69h1.00v9.07h-1.00zM342.85 91.76h1.00v9.07h-1.00zM343.86 91.76h1.00v9.07h-1.00zM270.53 109.90h1.00v9.07h-1.00zM276.55 109.90h1.00v9.07h-1.00zM271.53 118.97h1.00v9.07h-1.00zM270.53 128.04h1.00v9.07h-1.00zM336.82 128.04h1.00v9.07h-1.00zM367.96 128.04h1.00v9.07h-1.00zM379.01 128.04h1.00v9.07h-1.00zM322.76 137.11h1.00v9.07h-1.00zM392.07 137.11h1.00v9.07h-1.00zM307.69 146.18h1.00v9.07h-1.00zM329.79 155.25h1.00v9.07h-1.00zM300.66 164.32h1.00v9.07h-1.00zM327.78 164.32h1.00v9.07h-1.00zM390.06 164.32h1.00v9.07h-1.00z"/>
<path fill="#99a5d5" d="M365.96 19.20h1.00v9.07h-1.00zM375.00 37.34h1.00v9.07h-1.00zM336.82 55.48h1.00v9.07h-1.00zM358.92 73.62h1.00v9.07h-1.00zM392.07 82.69h1.00v9.07h-1.00zM394.08 82.69h1.00v9.07h-1.00zM341.85 100.83h1.00v9.07h-1.00z"/>
<path fill="#8d93cf" d="M366.96 19.20h1.00v9.07h-1.00zM288.61 155.25h1.00v9.07h-1.00z"/>
<path fill="#a5abdb" d="M371.98 19.20h1.00v9.07h-1.00zM306.69 28.27h1.00v9.07h-1.00zM341.85 146.18h1.00v9.07h-1.00z"/>
<path fill="#8793c9" d="M373.99 19.20h1.00v9.07h-1.00zM377.01 19.20h1.00v9.07h-1.00zM292.63 28.27h1.00v9.07h-1.00zM348.88 73.62h1.00v9.07h-1.00zM387.05 82.69h1.00v9.07h-1.00zM290.62 100.83h1.00v9.07h-1.00z"/>
<path fill="#818dc9" d="M378.01 19.20h1.00v9.07h-1.00zM304.68 73.62h1.00v9.07h-1.00zM346.87 82.69h1.00v9.07h-1.00zM331.80 91.76h1.00v9.07h-1.00zM352.90 128.04h1.00v9.07h-1.00zM395.09 128.04h1.00v9.07h-1.00zM387.05 146.18h1.00v9.07h-1.00zM292.63 164.32h1.00v9.07h-1.00z"/>
<path fill="#c9c9e7" d="M386.05 19.20h1.00v9.07h-1.00zM335.82 28.27h1.00v9.07h-1.00zM345.87 37.34h1.00v9.07h-1.00zM278.56 55.48h1.00v9.07h-1.00zM326.78 64.55h1.00v9.07h-1.00zM275.55 82.69h1.00v9.07h-1.00zM323.77 91.76h1.00v9.07h-1.00zM378.01 91.76h1.00v9.07h-1.00zM384.04 100.83h1.00v9.07h-1.00zM392.07 100.83h1.00v9.07h-1.00zM349.88 118.97h1.00v9.07h-1.00zM268.52 128.04h1.00v9.07h-1.00zM370.98 128.04h1.00v9.07h-1.00zM284.59 137.11h1.00v9.07h-1.00zM305.68 146.18h1.00v9.07h-1.00zM271.53 164.32h1.00v9.07h-1.00zM308.70 164.32h1.00v9.07h-1.00zM353.90 173.39h1.00v9.07h-1.00z"/>
<path fill="#7581c3" d="M390.06 19.20h1.00v9.07h-1.00zM377.01 128.04h1.00v9.07h-1.00z"/>
<path fill="#c3c9e1" d="M392.07 19.20h1.00v9.07h-1.00zM285.59 73.62h1.00v9.07h-1.00zM312.72 182.46h1.00v9.07h-1.00zM389.06 182.46h1.00v9.07h-1.00z"/>
<path fill="#9399cf" d="M293.63 28.27h1.00v9.07h-1.00zM360.93 100.83h1.00v9.07h-1.00zM328.79 164.32h1.00v9.07h-1.00zM318.74 173.39h1.00v9.07h-1.00zM397.10 182.46h1.00v9.07h-1.00z"/>
<path fill="#7b87c3" d="M303.68 28.27h1.00v9.07h-1.00zM267.51 118.97h1.00v9.07h-1.00zM375.00 146.18h1.00v9.07h-1.00z"/>
<path fill="#f3abb1" d="M314.73 28.27h1.00v9.07h-1.00zM342.85 55.48h1.00v9.07h-1.00zM393.08 64.55h1.00v9.07h-1.00zM356.92 109.90h1.00v9.07h-1.00zM369.97 109.90h1.00v9.07h-1.00zM313.72 137.11h1.00v9.07h-1.00z"/>
<path fill="#f9d5d5" d="M345.87 28.27h1.00v9.07h-1.00zM288.61 37.34h1.00v9.07h-1.00zM332.81 37.34h1.00v9.07h-1.00zM365.96 37.34h1.00v9.07h-1.00zM355.91 46.41h1.00v9.07h-1.00zM379.01 64.55h1.00v9.07h-1.00zM380.02 64.55h1.00v9.07h-1.00zM382.03 64.55h1.00v9.07h-1.00zM361.94 73.62h1.00v9.07h-1.00zM380.02 73.62h1.00v9.07h-1.00zM285.59 82.69h1.00v9.07h-1.00zM380.02 91.76h1.00v9.07h-1.00zM387.05 91.76h1.00v9.07h-1.00zM271.53 109.90h1.00v9.07h-1.00zM333.81 109.90h1.00v9.07h-1.00zM305.68 137.11h1.00v9.07h-1.00zM276.55 146.18h1.00v9.07h-1.00zM335.82 146.18h1.00v9.07h-1.00zM296.64 164.32h1.00v9.07h-1.00zM316.73 164.32h1.00v9.07h-1.00zM346.87 164.32h1.00v9.07h-1.00zM281.58 173.39h1.00v9.07h-1.00zM293.63 173.39h1.00v9.07h-1.00zM377.01 173.39h1.00v9.07h-1.00zM384.04 173.39h1.00v9.07h-1.00zM386.05 173.39h1.00v9.07h-1.00zM375.00 182.46h1.00v9.07h-1.00z"/>
<path fill="#f3c3c3" d="M352.90 28.27h1.00v9.07h-1.00zM359.93 46.41h1.00v9.07h-1.00zM375.00 109.90h1.00v9.07h-1.00z"/>
<path fill="#f3c3c9" d="M353.90 28.27h1.00v9.07h-1.00zM396.09 28.27h1.00v9.07h-1.00zM383.03 46.41h1.00v9.07h-1.00zM395.09 46.41h1.00v9.07h-1.00zM264.50 73.62h1.00v9.07h-1.00zM356.92 82.69h1.00v9.07h-1.00zM286.60 91.76h1.00v9.07h-1.00zM316.73 155.25h1.00v9.07h-1.00zM349.88 155.25h1.00v9.07h-1.00z"/>
<path fill="#f9e1e1" d="M360.93 28.27h1.00v9.07h-1.00zM279.57 37.34h1.00v9.07h-1.00zM289.61 37.34h1.00v9.07h-1.00zM303.68 37.34h1.00v9.07h-1.00zM350.89 37.34h1.00v9.07h-1.00zM278.56 46.41h1.00v9.07h-1.00zM371.98 64.55h1.00v9.07h-1.00zM302.67 73.62h1.00v9.07h-1.00zM310.71 73.62h1.00v9.07h-1.00zM352.90 73.62h1.00v9.07h-1.00zM280.57 82.69h1.00v9.07h-1.00zM339.84 82.69h1.00v9.07h-1.00zM266.51 91.76h1.00v9.07h-1.00zM304.68 100.83h1.00v9.07h-1.00zM316.73 100.83h1.00v9.07h-1.00zM327.78 100.83h1.00v9.07h-1.00zM371.98 100.83h1.00v9.07h-1.00zM394.08 100.83h1.00v9.07h-1.00zM275.55 109.90h1.00v9.07h-1.00zM295.64 118.97h1.00v9.07h-1.00zM346.87 118.97h1.00v9.07h-1.00zM283.59 128.04h1.00v9.07h-1.00zM289.61 128.04h1.00v9.07h-1.00zM313.72 128.04h1.00v9.07h-1.00zM340.84 128.04h1.00v9.07h-1.00zM344.86 128.04h1.00v9.07h-1.00zM358.92 128.04h1.00v9.07h-1.00zM366.96 128.04h1.00v9.07h-1.00zM368.97 128.04h1.00v9.07h-1.00zM264.50 137.11h1.00v9.07h-1.00zM268.52 137.11h1.00v9.07h-1.00zM282.58 146.18h1.00v9.07h-1.00zM324.77 155.25h1.00v9.07h-1.00zM343.86 155.25h1.00v9.07h-1.00zM275.55 164.32h1.00v9.07h-1.00zM288.61 164.32h1.00v9.07h-1.00zM289.61 164.32h1.00v9.07h-1.00zM318.74 164.32h1.00v9.07h-1.00zM378.01 164.32h1.00v9.07h-1.00zM379.01 164.32h1.00v9.07h-1.00zM382.03 164.32h1.00v9.07h-1.00zM298.65 173.39h1.00v9.07h-1.00zM302.67 173.39h1.00v9.07h-1.00zM335.82 173.39h1.00v9.07h-1.00zM341.85 173.39h1.00v9.07h-1.00zM369.97 173.39h1.00v9.07h-1.00zM274.55 182.46h1.00v9.07h-1.00zM326.78 182.46h1.00v9.07h-1.00zM327.78 182.46h1.00v9.07h-1.00z"/>
<path fill="#f3b1b7" d="M376.00 28.27h1.00v9.07h-1.00zM268.52 64.55h1.00v9.07h-1.00zM364.95 64.55h1.00v9.07h-1.00zM287.60 91.76h1.00v9.07h-1.00zM324.77 128.04h1.00v9.07h-1.00zM266.51 164.32h1.00v9.07h-1.00z"/>
<path fill="#f9c9cf" d="M379.01 28.27h1.00v9.07h-1.00zM286.60 46.41h1.00v9.07h-1.00zM358.92 46.41h1.00v9.07h-1.00zM369.97 46.41h1.00v9.07h-1.00zM277.56 64.55h1.00v9.07h-1.00zM372.99 64.55h1.00v9.07h-1.00zM324.77 73.62h1.00v9.07h-1.00zM338.83 82.69h1.00v9.07h-1.00zM330.80 109.90h1.00v9.07h-1.00zM387.05 109.90h1.00v9.07h-1.00zM293.63 118.97h1.00v9.07h-1.00zM357.92 118.97h1.00v9.07h-1.00zM354.91 128.04h1.00v9.07h-1.00zM300.66 155.25h1.00v9.07h-1.00zM329.79 173.39h1.00v9.07h-1.00zM344.86 182.46h1.00v9.07h-1.00z"/>
<path fill="#f39fa5" d="M384.04 28.27h1.00v9.07h-1.00zM358.92 182.46h1.00v9.07h-1.00z"/>
<path fill="#f3a5ab" d="M385.04 28.27h1.00v9.07h-1.00zM385.04 64.55h1.00v9.07h-1.00zM395.09 109.90h1.00v9.07h-1.00zM295.64 155.25h1.00v9.07h-1.00zM392.07 164.32h1.00v9.07h-1.00z"/>
<path fill="#f9d5db" d="M391.07 28.27h1.00v9.07h-1.00zM341.85 37.34h1.00v9.07h-1.00zM342.85 37.34h1.00v9.07h-1.00zM270.53 46.41h1.00v9.07h-1.00zM269.52 55.48h1.00v9.07h-1.00zM293.63 55.48h1.00v9.07h-1.00zM307.69 55.48h1.00v9.07h-1.00zM350.89 55.48h1.00v9.07h-1.00zM307.69 64.55h1.00v9.07h-1.00zM364.95 73.62h1.00v9.07h-1.00zM305.68 82.69h1.00v9.07h-1.00zM325.78 82.69h1.00v9.07h-1.00zM304.68 91.76h1.00v9.07h-1.00zM305.68 100.83h1.00v9.07h-1.00zM329.79 118.97h1.00v9.07h-1.00zM333.81 118.97h1.00v9.07h-1.00zM335.82 128.04h1.00v9.07h-1.00zM369.97 128.04h1.00v9.07h-1.00zM270.53 137.11h1.00v9.07h-1.00zM361.94 137.11h1.00v9.07h-1.00zM397.10 137.11h1.00v9.07h-1.00zM306.69 155.25h1.00v9.07h-1.00zM348.88 155.25h1.00v9.07h-1.00zM312.72 164.32h1.00v9.07h-1.00zM313.72 164.32h1.00v9.07h-1.00zM388.05 164.32h1.00v9.07h-1.00zM273.54 173.39h1.00v9.07h-1.00zM286.60 173.39h1.00v9.07h-1.00zM333.81 173.39h1.00v9.07h-1.00zM372.99 173.39h1.00v9.07h-1.00zM284.59 182.46h1.00v9.07h-1.00zM305.68 182.46h1.00v9.07h-1.00z"/>
<path fill="#5769b7" d="M397.10 28.27h1.00v9.07h-1.00z"/>
<path fill="#f9e7ed" d="M272.54 37.34h1.00v9.07h-1.00zM265.50 55.48h1.00v9.07h-1.00zM327.78 73.62h1.00v9.07h-1.00zM307.69 91.76h1.00v9.07h-1.00zM395.09 118.97h1.00v9.07h-1.00zM369.97 155.25h1.00v9.07h-1.00zM271.53 173.39h1.00v9.07h-1.00zM273.54 182.46h1.00v9.07h-1.00zM303.68 182.46h1.00v9.07h-1.00z"/>
<path fill="#fff9ff" d="M274.55 37.34h1.00v9.07h-1.00zM383.03 55.48h1.00v9.07h-1.00zM313.72 100.83h1.00v9.07h-1.00zM330.80 128.04h1.00v9.07h-1.00zM364.95 128.04h1.00v9.07h-1.00zM283.59 164.32h1.00v9.07h-1.00z"/>
<path fill="#5163b1" d="M285.59 37.34h1.00v9.07h-1.00zM271.53 155.25h1.00v9.07h-1.00z"/>
<path fill="#8187c9" d="M296.64 37.34h1.00v9.07h-1.00z"/>
<path fill="#636fbd" d="M304.68 37.34h1.00v9.07h-1.00zM384.04 128.04h1.00v9.07h-1.00zM385.04 128.04h1.00v9.07h-1.00zM295.64 137.11h1.00v9.07h-1.00z"/>
<path fill="#9fabd5" d="M307.69 37.34h1.00v9.07h-1.00zM291.62 155.25h1.00v9.07h-1.00zM393.08 155.25h1.00v9.07h-1.00zM367.96 164.32h1.00v9.07h-1.00zM391.07 164.32h1.00v9.07h-1.00z"/>
<path fill="#939fcf" d="M322.76 37.34h1.00v9.07h-1.00zM303.68 46.41h1.00v9.07h-1.00zM337.83 55.48h1.00v9.07h-1.00zM290.62 64.55h1.00v9.07h-1.00zM383.03 82.69h1.00v9.07h-1.00zM388.05 82.69h1.00v9.07h-1.00zM383.03 91.76h1.00v9.07h-1.00zM394.08 128.04h1.00v9.07h-1.00zM375.00 155.25h1.00v9.07h-1.00zM277.56 164.32h1.00v9.07h-1.00zM348.88 173.39h1.00v9.07h-1.00zM351.89 182.46h1.00v9.07h-1.00z"/>
<path fill="#ed939f" d="M346.87 37.34h1.00v9.07h-1.00z"/>
<path fill="#bdbde1" d="M357.92 37.34h1.00v9.07h-1.00zM365.96 46.41h1.00v9.07h-1.00zM322.76 82.69h1.00v9.07h-1.00z"/>
<path fill="#9fa5d5" d="M376.00 37.34h1.00v9.07h-1.00zM378.01 37.34h1.00v9.07h-1.00zM396.09 37.34h1.00v9.07h-1.00zM300.66 64.55h1.00v9.07h-1.00zM301.67 64.55h1.00v9.07h-1.00zM303.68 64.55h1.00v9.07h-1.00zM397.10 82.69h1.00v9.07h-1.00zM336.82 91.76h1.00v9.07h-1.00zM308.70 109.90h1.00v9.07h-1.00zM366.96 146.18h1.00v9.07h-1.00zM368.97 146.18h1.00v9.07h-1.00zM396.09 146.18h1.00v9.07h-1.00zM392.07 155.25h1.00v9.07h-1.00zM320.75 182.46h1.00v9.07h-1.00z"/>
<path fill="#f9cfd5" d="M268.52 46.41h1.00v9.07h-1.00zM381.02 46.41h1.00v9.07h-1.00zM396.09 46.41h1.00v9.07h-1.00zM348.88 55.48h1.00v9.07h-1.00zM358.92 64.55h1.00v9.07h-1.00zM325.78 73.62h1.00v9.07h-1.00zM365.96 73.62h1.00v9.07h-1.00zM397.10 73.62h1.00v9.07h-1.00zM334.82 91.76h1.00v9.07h-1.00zM346.87 91.76h1.00v9.07h-1.00zM388.05 91.76h1.00v9.07h-1.00zM325.78 100.83h1.00v9.07h-1.00zM334.82 109.90h1.00v9.07h-1.00zM308.70 118.97h1.00v9.07h-1.00zM356.92 118.97h1.00v9.07h-1.00zM282.58 128.04h1.00v9.07h-1.00zM320.75 137.11h1.00v9.07h-1.00zM326.78 137.11h1.00v9.07h-1.00zM346.87 137.11h1.00v9.07h-1.00zM298.65 146.18h1.00v9.07h-1.00zM370.98 146.18h1.00v9.07h-1.00zM351.89 155.25h1.00v9.07h-1.00zM354.91 164.32h1.00v9.07h-1.00zM383.03 164.32h1.00v9.07h-1.00zM392.07 173.39h1.00v9.07h-1.00zM270.53 182.46h1.00v9.07h-1.00zM352.90 182.46h1.00v9.07h-1.00z"/>
<path fill="#636fb7" d="M317.74 46.41h1.00v9.07h-1.00zM282.58 64.55h1.00v9.07h-1.00zM334.82 155.25h1.00v9.07h-1.00z"/>
<path fill="#ed8793" d="M335.82 46.41h1.00v9.07h-1.00zM269.52 164.32h1.00v9.07h-1.00z"/>
<path fill="#8d99cf" d="M356.92 55.48h1.00v9.07h-1.00zM386.05 64.55h1.00v9.07h-1.00zM276.55 73.62h1.00v9.07h-1.00zM346.87 73.62h1.00v9.07h-1.00zM328.79 91.76h1.00v9.07h-1.00zM380.02 118.97h1.00v9.07h-1.00zM279.57 173.39h1.00v9.07h-1.00z"/>
<path fill="#999fcf" d="M273.54 64.55h1.00v9.07h-1.00zM284.59 109.90h1.00v9.07h-1.00zM379.01 118.97h1.00v9.07h-1.00zM342.85 146.18h1.00v9.07h-1.00zM391.07 155.25h1.00v9.07h-1.00zM279.57 164.32h1.00v9.07h-1.00zM327.78 173.39h1.00v9.07h-1.00z"/>
<path fill="#6f7bbd" d="M281.58 64.55h1.00v9.07h-1.00zM294.64 137.11h1.00v9.07h-1.00z"/>
<path fill="#8d93c9" d="M338.83 64.55h1.00v9.07h-1.00z"/>
<path fill="#878dc9" d="M385.04 73.62h1.00v9.07h-1.00z"/>
<path fill="#e76975" d="M328.79 82.69h1.00v9.07h-1.00z"/>
<path fill="#e75763" d="M329.79 82.69h1.00v9.07h-1.00zM372.99 82.69h1.00v9.07h-1.00zM320.75 109.90h1.00v9.07h-1.00zM310.71 137.11h1.00v9.07h-1.00zM312.72 137.11h1.00v9.07h-1.00z"/>
<path fill="#f3b7b7" d="M310.71 91.76h1.00v9.07h-1.00z"/>
<path fill="#f9c9c9" d="M321.76 109.90h1.00v9.07h-1.00zM321.76 137.11h1.00v9.07h-1.00zM275.55 146.18h1.00v9.07h-1.00zM361.94 146.18h1.00v9.07h-1.00zM376.00 173.39h1.00v9.07h-1.00z"/>
<path fill="#abb7db" d="M340.84 109.90h1.00v9.07h-1.00zM271.53 128.04h1.00v9.07h-1.00zM389.06 146.18h1.00v9.07h-1.00z"/>
<path fill="#5763b7" d="M376.00 109.90h1.00v9.07h-1.00zM265.50 118.97h1.00v9.07h-1.00z"/>
<path fill="#f3bdbd" d="M377.01 109.90h1.00v9.07h-1.00z"/>
<path fill="#5d69b7" d="M266.51 118.97h1.00v9.07h-1.00zM296.64 137.11h1.00v9.07h-1.00zM327.78 137.11h1.00v9.07h-1.00zM342.85 164.32h1.00v9.07h-1.00zM284.59 173.39h1.00v9.07h-1.00z"/>
<path fill="#ed7581" d="M284.59 118.97h1.00v9.07h-1.00z"/>
<path fill="#ed818d" d="M285.59 118.97h1.00v9.07h-1.00zM352.90 173.39h1.00v9.07h-1.00z"/>
<path fill="#e75d69" d="M286.60 118.97h1.00v9.07h-1.00zM390.06 128.04h1.00v9.07h-1.00zM311.71 137.11h1.00v9.07h-1.00z"/>
<path fill="#7b87c9" d="M351.89 128.04h1.00v9.07h-1.00zM391.07 137.11h1.00v9.07h-1.00z"/>
<path fill="#ed7b81" d="M353.90 128.04h1.00v9.07h-1.00z"/>
<path fill="#6f7bc3" d="M334.82 137.11h1.00v9.07h-1.00zM375.00 164.32h1.00v9.07h-1.00z"/>
<path fill="#ed878d" d="M368.97 137.11h1.00v9.07h-1.00z"/>
<path fill="#e76f7b" d="M379.01 146.18h1.00v9.07h-1.00z"/>
<path fill="#e7edf9" d="M349.88 164.32h1.00v9.07h-1.00z"/>
<path fill="#ed8187" d="M330.80 173.39h1.00v9.07h-1.00zM351.89 173.39h1.00v9.07h-1.00z"/>
</g>
<text x="400.8" y="26.0" font-size="9.1" text-anchor="start" fill="#111" font-weight="normal" >DHX9</text>
<text x="400.8" y="35.1" font-size="9.1" text-anchor="start" fill="#111" font-weight="normal" >DHX38</text>
<text x="400.8" y="44.2" font-size="9.1" text-anchor="start" fill="#111" font-weight="normal" >DHX35</text>
<text x="400.8" y="53.4" font-size="9.1" text-anchor="start" fill="#111" font-weight="normal" >DHX33</text>
<text x="400.8" y="62.5" font-size="9.1" text-anchor="start" fill="#111" font-weight="normal" >DHX36</text>
<text x="400.8" y="71.6" font-size="9.1" text-anchor="start" fill="#111" font-weight="normal" >DDX24</text>
<text x="400.8" y="80.7" font-size="9.1" text-anchor="start" fill="#111" font-weight="normal" >DDX3X</text>
<text x="400.8" y="89.8" font-size="9.1" text-anchor="start" fill="#111" font-weight="normal" >DDX39A</text>
<text x="400.8" y="99.0" font-size="9.1" text-anchor="start" fill="#111" font-weight="normal" >DDX42</text>
<text x="400.8" y="108.1" font-size="9.1" text-anchor="start" fill="#111" font-weight="normal" >DDX46</text>
<text x="400.8" y="117.2" font-size="9.1" text-anchor="start" fill="#111" font-weight="normal" >DDX17</text>
<text x="400.8" y="126.3" font-size="9.1" text-anchor="start" fill="#111" font-weight="normal" >DDX18</text>
<text x="400.8" y="135.4" font-size="9.1" text-anchor="start" fill="#111" font-weight="normal" >DDX60</text>
<text x="400.8" y="144.6" font-size="9.1" text-anchor="start" fill="#111" font-weight="normal" >DDX25</text>
<text x="400.8" y="153.7" font-size="9.1" text-anchor="start" fill="#111" font-weight="normal" >DDX58</text>
<text x="400.8" y="162.8" font-size="9.1" text-anchor="start" fill="#111" font-weight="normal" >DDX21</text>
<text x="400.8" y="171.9" font-size="9.1" text-anchor="start" fill="#111" font-weight="normal" >DDX6</text>
<text x="400.8" y="181.0" font-size="9.1" text-anchor="start" fill="#111" font-weight="normal" >DDX19B</text>
<text x="400.8" y="190.2" font-size="9.1" text-anchor="start" fill="#111" font-weight="normal" >DDX55</text>
<rect x="264.50" y="192.50" width="108.70" height="4.50" fill="#e3a47a" />
<rect x="373.20" y="192.50" width="24.90" height="4.50" fill="#8fd253" />
<text x="263.3" y="208.4" font-size="9.9" text-anchor="start" fill="#1a1a1a" font-weight="normal" >Sample type</text>
<rect x="263.80" y="214.80" width="20.50" height="6.00" fill="#e3a47a" />
<text x="290.2" y="221.9" font-size="9.9" text-anchor="start" fill="#1a1a1a" font-weight="normal" >Primary breast cancer (109)</text>
<rect x="263.80" y="231.30" width="20.50" height="6.00" fill="#97d06a" />
<text x="290.2" y="238.3" font-size="9.9" text-anchor="start" fill="#1a1a1a" font-weight="normal" >Adjacent normal breast (24)</text>
<defs><linearGradient id="zg" x1="0" x2="1" y1="0" y2="0"><stop offset="0" stop-color="#3a4aa8"/><stop offset="0.5" stop-color="#ffffff"/><stop offset="1" stop-color="#e03a48"/></linearGradient></defs>
<rect x="444.80" y="193.80" width="46.80" height="9.20" fill="url(#zg)" />
<line x1="444.80" y1="203.00" x2="444.80" y2="205.60" stroke="#555" stroke-width="0.7" />
<line x1="452.00" y1="203.00" x2="452.00" y2="205.60" stroke="#555" stroke-width="0.7" />
<line x1="466.00" y1="203.00" x2="466.00" y2="205.60" stroke="#555" stroke-width="0.7" />
<line x1="479.30" y1="203.00" x2="479.30" y2="205.60" stroke="#555" stroke-width="0.7" />
<line x1="491.60" y1="203.00" x2="491.60" y2="205.60" stroke="#555" stroke-width="0.7" />
<text x="467.2" y="189.8" font-size="9" text-anchor="middle" fill="#1a1a1a" font-weight="normal" >zSore</text>
<text x="450.3" y="217.4" font-size="8.6" text-anchor="middle" fill="#1a1a1a" font-weight="normal" >-2</text>
<text x="465.8" y="217.4" font-size="8.6" text-anchor="middle" fill="#1a1a1a" font-weight="normal" >0</text>
<text x="479.5" y="217.4" font-size="8.6" text-anchor="middle" fill="#1a1a1a" font-weight="normal" >2</text>
<text x="582.5" y="22.3" font-size="12.3" text-anchor="middle" fill="#1a1a1a" font-weight="normal" >GSE162228</text>
<rect x="554.50" y="40.00" width="10.00" height="10.00" fill="#3a5ab0" stroke="#111" stroke-width="0.9"/>
<text x="569.8" y="49.8" font-size="12.3" text-anchor="start" fill="#1a1a1a" font-weight="normal" >Normal</text>
<rect x="554.50" y="54.00" width="10.00" height="10.00" fill="#e03c33" stroke="#111" stroke-width="0.9"/>
<text x="569.8" y="63.8" font-size="12.3" text-anchor="start" fill="#1a1a1a" font-weight="normal" >Tumor</text>
<line x1="557.50" y1="75.30" x2="557.50" y2="133.60" stroke="#111" stroke-width="0.9" />
<line x1="557.50" y1="139.60" x2="557.50" y2="165.00" stroke="#111" stroke-width="0.9" />
<line x1="555.00" y1="133.60" x2="560.00" y2="133.60" stroke="#111" stroke-width="0.9" />
<line x1="555.00" y1="139.60" x2="560.00" y2="139.60" stroke="#111" stroke-width="0.9" />
<line x1="554.50" y1="75.30" x2="557.50" y2="75.30" stroke="#111" stroke-width="0.9" />
<text x="553.5" y="79.6" font-size="12.3" text-anchor="end" fill="#1a1a1a" font-weight="normal" >10</text>
<line x1="554.50" y1="94.73" x2="557.50" y2="94.73" stroke="#111" stroke-width="0.9" />
<text x="553.5" y="99.0" font-size="12.3" text-anchor="end" fill="#1a1a1a" font-weight="normal" >9</text>
<line x1="554.50" y1="114.17" x2="557.50" y2="114.17" stroke="#111" stroke-width="0.9" />
<text x="553.5" y="118.5" font-size="12.3" text-anchor="end" fill="#1a1a1a" font-weight="normal" >8</text>
<line x1="554.50" y1="133.60" x2="557.50" y2="133.60" stroke="#111" stroke-width="0.9" />
<text x="553.5" y="137.9" font-size="12.3" text-anchor="end" fill="#1a1a1a" font-weight="normal" >7</text>
<line x1="554.50" y1="148.20" x2="557.50" y2="148.20" stroke="#111" stroke-width="0.9" />
<text x="553.5" y="152.5" font-size="12.3" text-anchor="end" fill="#1a1a1a" font-weight="normal" >1</text>
<line x1="554.50" y1="164.60" x2="557.50" y2="164.60" stroke="#111" stroke-width="0.9" />
<text x="553.5" y="168.9" font-size="12.3" text-anchor="end" fill="#1a1a1a" font-weight="normal" >0</text>
<line x1="557.50" y1="164.60" x2="609.30" y2="164.60" stroke="#111" stroke-width="0.9" />
<line x1="570.40" y1="164.60" x2="570.40" y2="167.60" stroke="#111" stroke-width="0.9" />
<line x1="596.10" y1="164.60" x2="596.10" y2="167.60" stroke="#111" stroke-width="0.9" />
<line x1="570.50" y1="109.31" x2="570.50" y2="130.68" stroke="#111" stroke-width="0.9" />
<line x1="565.92" y1="109.31" x2="575.08" y2="109.31" stroke="#111" stroke-width="0.9" />
<line x1="565.92" y1="130.68" x2="575.08" y2="130.68" stroke="#111" stroke-width="0.9" />
<rect x="561.35" y="113.78" width="18.30" height="5.83" fill="#3a5ab0" stroke="#111" stroke-width="0.9"/>
<line x1="561.35" y1="116.69" x2="579.65" y2="116.69" stroke="#111" stroke-width="1.2" />
<line x1="596.70" y1="95.12" x2="596.70" y2="126.41" stroke="#111" stroke-width="0.9" />
<line x1="592.23" y1="95.12" x2="601.18" y2="95.12" stroke="#111" stroke-width="0.9" />
<line x1="592.23" y1="126.41" x2="601.18" y2="126.41" stroke="#111" stroke-width="0.9" />
<rect x="587.75" y="106.98" width="17.90" height="9.52" fill="#e03c33" stroke="#111" stroke-width="0.9"/>
<line x1="587.75" y1="111.45" x2="605.65" y2="111.45" stroke="#111" stroke-width="1.2" />
<path d="M570.4 94V91.2H596.1V94" fill="none" stroke="#111" stroke-width="0.8"/>
<text x="584.4" y="90.3" font-size="11.5" text-anchor="middle" fill="#1a1a1a" font-weight="normal" >*</text>
<text x="530.5" y="113.0" font-size="12.3" text-anchor="middle" fill="#1a1a1a" font-weight="normal" transform="rotate(-90 530.5 113)">DHX9 expression level</text>
<text x="132.2" y="266.3" font-size="12.3" text-anchor="middle" fill="#1a1a1a" font-weight="normal" >TCGA-Luminal</text>
<line x1="46.50" y1="276.50" x2="46.50" y2="410.00" stroke="#111" stroke-width="1.0" />
<line x1="42.50" y1="281.40" x2="46.50" y2="281.40" stroke="#111" stroke-width="1.0" />
<text x="41.5" y="285.3" font-size="12.3" text-anchor="end" fill="#1a1a1a" font-weight="normal" >1.0</text>
<line x1="42.50" y1="305.98" x2="46.50" y2="305.98" stroke="#111" stroke-width="1.0" />
<text x="41.5" y="309.9" font-size="12.3" text-anchor="end" fill="#1a1a1a" font-weight="normal" >0.8</text>
<line x1="42.50" y1="330.56" x2="46.50" y2="330.56" stroke="#111" stroke-width="1.0" />
<text x="41.5" y="334.5" font-size="12.3" text-anchor="end" fill="#1a1a1a" font-weight="normal" >0.6</text>
<line x1="42.50" y1="355.14" x2="46.50" y2="355.14" stroke="#111" stroke-width="1.0" />
<text x="41.5" y="359.0" font-size="12.3" text-anchor="end" fill="#1a1a1a" font-weight="normal" >0.4</text>
<line x1="42.50" y1="379.72" x2="46.50" y2="379.72" stroke="#111" stroke-width="1.0" />
<text x="41.5" y="383.6" font-size="12.3" text-anchor="end" fill="#1a1a1a" font-weight="normal" >0.2</text>
<line x1="42.50" y1="404.30" x2="46.50" y2="404.30" stroke="#111" stroke-width="1.0" />
<text x="41.5" y="408.2" font-size="12.3" text-anchor="end" fill="#1a1a1a" font-weight="normal" >0.0</text>
<line x1="46.00" y1="409.50" x2="209.90" y2="409.50" stroke="#111" stroke-width="1.0" />
<line x1="53.70" y1="409.50" x2="53.70" y2="413.00" stroke="#111" stroke-width="1.0" />
<text x="53.7" y="429.5" font-size="12.3" text-anchor="middle" fill="#1a1a1a" font-weight="normal" >0</text>
<line x1="98.00" y1="409.50" x2="98.00" y2="413.00" stroke="#111" stroke-width="1.0" />
<text x="98.0" y="429.5" font-size="12.3" text-anchor="middle" fill="#1a1a1a" font-weight="normal" >2000</text>
<line x1="142.30" y1="409.50" x2="142.30" y2="413.00" stroke="#111" stroke-width="1.0" />
<text x="142.3" y="429.5" font-size="12.3" text-anchor="middle" fill="#1a1a1a" font-weight="normal" >4000</text>
<line x1="186.60" y1="409.50" x2="186.60" y2="413.00" stroke="#111" stroke-width="1.0" />
<text x="186.6" y="429.5" font-size="12.3" text-anchor="middle" fill="#1a1a1a" font-weight="normal" >6000</text>
<text x="129.0" y="444.6" font-size="12.3" text-anchor="middle" fill="#1a1a1a" font-weight="normal" >Time (days)</text>
<text x="13.9" y="353.6" font-size="12.3" text-anchor="middle" fill="#1a1a1a" font-weight="normal" transform="rotate(-90 13.9 353.6)" textLength="144" lengthAdjust="spacingAndGlyphs">Overall survival probability</text>
<path d="M52.90 280.90H66.00V281.40H73.00V283.10H80.00V284.90H87.00V287.50H92.03V289.25H92.30V291.00H95.64V292.75H97.60V294.50H101.70V296.70H102.80V298.90H106.30V301.50H106.67V303.27H107.82V305.03H109.80V306.80H110.19V309.00H112.40V311.20H114.60V312.95H115.00V314.70H122.10V317.30H122.37V319.30H123.00V321.30H140.50H140.91V322.97H140.91V324.64H140.94V326.31H141.27V327.99H141.38V329.66H141.40V331.33H141.40V333.00H148.40V347.00H203.90" fill="none" stroke="#56b7c6" stroke-width="1.3" stroke-linejoin="miter"/>
<line x1="55.10" y1="278.50" x2="55.10" y2="283.30" stroke="#56b7c6" stroke-width="1.3" />
<line x1="55.19" y1="278.50" x2="55.19" y2="283.30" stroke="#56b7c6" stroke-width="1.3" />
<line x1="55.75" y1="278.50" x2="55.75" y2="283.30" stroke="#56b7c6" stroke-width="1.3" />
<line x1="56.30" y1="278.50" x2="56.30" y2="283.30" stroke="#56b7c6" stroke-width="1.3" />
<line x1="56.65" y1="278.50" x2="56.65" y2="283.30" stroke="#56b7c6" stroke-width="1.3" />
<line x1="58.25" y1="278.50" x2="58.25" y2="283.30" stroke="#56b7c6" stroke-width="1.3" />
<line x1="58.71" y1="278.50" x2="58.71" y2="283.30" stroke="#56b7c6" stroke-width="1.3" />
<line x1="61.45" y1="278.50" x2="61.45" y2="283.30" stroke="#56b7c6" stroke-width="1.3" />
<line x1="62.22" y1="278.50" x2="62.22" y2="283.30" stroke="#56b7c6" stroke-width="1.3" />
<line x1="62.91" y1="278.50" x2="62.91" y2="283.30" stroke="#56b7c6" stroke-width="1.3" />
<line x1="63.31" y1="278.50" x2="63.31" y2="283.30" stroke="#56b7c6" stroke-width="1.3" />
<line x1="64.10" y1="278.50" x2="64.10" y2="283.30" stroke="#56b7c6" stroke-width="1.3" />
<line x1="64.46" y1="278.50" x2="64.46" y2="283.30" stroke="#56b7c6" stroke-width="1.3" />
<line x1="66.67" y1="279.00" x2="66.67" y2="283.80" stroke="#56b7c6" stroke-width="1.3" />
<line x1="66.94" y1="279.00" x2="66.94" y2="283.80" stroke="#56b7c6" stroke-width="1.3" />
<line x1="67.28" y1="279.00" x2="67.28" y2="283.80" stroke="#56b7c6" stroke-width="1.3" />
<line x1="67.35" y1="279.00" x2="67.35" y2="283.80" stroke="#56b7c6" stroke-width="1.3" />
<line x1="69.05" y1="279.00" x2="69.05" y2="283.80" stroke="#56b7c6" stroke-width="1.3" />
<line x1="70.93" y1="279.00" x2="70.93" y2="283.80" stroke="#56b7c6" stroke-width="1.3" />
<line x1="71.49" y1="279.00" x2="71.49" y2="283.80" stroke="#56b7c6" stroke-width="1.3" />
<line x1="72.03" y1="279.00" x2="72.03" y2="283.80" stroke="#56b7c6" stroke-width="1.3" />
<line x1="72.18" y1="279.00" x2="72.18" y2="283.80" stroke="#56b7c6" stroke-width="1.3" />
<line x1="72.67" y1="279.00" x2="72.67" y2="283.80" stroke="#56b7c6" stroke-width="1.3" />
<line x1="73.00" y1="280.70" x2="73.00" y2="285.50" stroke="#56b7c6" stroke-width="1.3" />
<line x1="74.26" y1="280.70" x2="74.26" y2="285.50" stroke="#56b7c6" stroke-width="1.3" />
<line x1="75.59" y1="280.70" x2="75.59" y2="285.50" stroke="#56b7c6" stroke-width="1.3" />
<line x1="81.54" y1="282.50" x2="81.54" y2="287.30" stroke="#56b7c6" stroke-width="1.3" />
<line x1="81.74" y1="282.50" x2="81.74" y2="287.30" stroke="#56b7c6" stroke-width="1.3" />
<line x1="82.40" y1="282.50" x2="82.40" y2="287.30" stroke="#56b7c6" stroke-width="1.3" />
<line x1="82.43" y1="282.50" x2="82.43" y2="287.30" stroke="#56b7c6" stroke-width="1.3" />
<line x1="85.74" y1="282.50" x2="85.74" y2="287.30" stroke="#56b7c6" stroke-width="1.3" />
<line x1="85.99" y1="282.50" x2="85.99" y2="287.30" stroke="#56b7c6" stroke-width="1.3" />
<line x1="87.71" y1="285.10" x2="87.71" y2="289.90" stroke="#56b7c6" stroke-width="1.3" />
<line x1="89.38" y1="285.10" x2="89.38" y2="289.90" stroke="#56b7c6" stroke-width="1.3" />
<line x1="90.19" y1="285.10" x2="90.19" y2="289.90" stroke="#56b7c6" stroke-width="1.3" />
<line x1="90.51" y1="285.10" x2="90.51" y2="289.90" stroke="#56b7c6" stroke-width="1.3" />
<line x1="91.99" y1="285.10" x2="91.99" y2="289.90" stroke="#56b7c6" stroke-width="1.3" />
<line x1="93.64" y1="288.60" x2="93.64" y2="293.40" stroke="#56b7c6" stroke-width="1.3" />
<line x1="93.64" y1="288.60" x2="93.64" y2="293.40" stroke="#56b7c6" stroke-width="1.3" />
<line x1="94.37" y1="288.60" x2="94.37" y2="293.40" stroke="#56b7c6" stroke-width="1.3" />
<line x1="95.17" y1="288.60" x2="95.17" y2="293.40" stroke="#56b7c6" stroke-width="1.3" />
<line x1="97.17" y1="290.35" x2="97.17" y2="295.15" stroke="#56b7c6" stroke-width="1.3" />
<line x1="97.28" y1="290.35" x2="97.28" y2="295.15" stroke="#56b7c6" stroke-width="1.3" />
<line x1="98.65" y1="292.10" x2="98.65" y2="296.90" stroke="#56b7c6" stroke-width="1.3" />
<line x1="100.33" y1="292.10" x2="100.33" y2="296.90" stroke="#56b7c6" stroke-width="1.3" />
<line x1="100.44" y1="292.10" x2="100.44" y2="296.90" stroke="#56b7c6" stroke-width="1.3" />
<line x1="101.66" y1="292.10" x2="101.66" y2="296.90" stroke="#56b7c6" stroke-width="1.3" />
<line x1="104.67" y1="296.50" x2="104.67" y2="301.30" stroke="#56b7c6" stroke-width="1.3" />
<line x1="104.73" y1="296.50" x2="104.73" y2="301.30" stroke="#56b7c6" stroke-width="1.3" />
<line x1="105.94" y1="296.50" x2="105.94" y2="301.30" stroke="#56b7c6" stroke-width="1.3" />
<line x1="106.35" y1="299.10" x2="106.35" y2="303.90" stroke="#56b7c6" stroke-width="1.3" />
<line x1="107.23" y1="300.87" x2="107.23" y2="305.67" stroke="#56b7c6" stroke-width="1.3" />
<line x1="107.57" y1="300.87" x2="107.57" y2="305.67" stroke="#56b7c6" stroke-width="1.3" />
<line x1="108.64" y1="302.63" x2="108.64" y2="307.43" stroke="#56b7c6" stroke-width="1.3" />
<line x1="108.72" y1="302.63" x2="108.72" y2="307.43" stroke="#56b7c6" stroke-width="1.3" />
<line x1="108.77" y1="302.63" x2="108.77" y2="307.43" stroke="#56b7c6" stroke-width="1.3" />
<line x1="109.80" y1="304.40" x2="109.80" y2="309.20" stroke="#56b7c6" stroke-width="1.3" />
<line x1="110.09" y1="304.40" x2="110.09" y2="309.20" stroke="#56b7c6" stroke-width="1.3" />
<line x1="110.58" y1="306.60" x2="110.58" y2="311.40" stroke="#56b7c6" stroke-width="1.3" />
<line x1="111.00" y1="306.60" x2="111.00" y2="311.40" stroke="#56b7c6" stroke-width="1.3" />
<line x1="112.80" y1="308.80" x2="112.80" y2="313.60" stroke="#56b7c6" stroke-width="1.3" />
<line x1="114.50" y1="308.80" x2="114.50" y2="313.60" stroke="#56b7c6" stroke-width="1.3" />
<line x1="116.00" y1="312.30" x2="116.00" y2="317.10" stroke="#56b7c6" stroke-width="1.3" />
<line x1="120.00" y1="312.30" x2="120.00" y2="317.10" stroke="#56b7c6" stroke-width="1.3" />
<line x1="126.00" y1="318.90" x2="126.00" y2="323.70" stroke="#56b7c6" stroke-width="1.3" />
<line x1="133.00" y1="318.90" x2="133.00" y2="323.70" stroke="#56b7c6" stroke-width="1.3" />
<line x1="140.00" y1="318.90" x2="140.00" y2="323.70" stroke="#56b7c6" stroke-width="1.3" />
<line x1="142.80" y1="330.60" x2="142.80" y2="335.40" stroke="#56b7c6" stroke-width="1.3" />
<line x1="159.80" y1="344.60" x2="159.80" y2="349.40" stroke="#56b7c6" stroke-width="1.3" />
<line x1="181.40" y1="344.60" x2="181.40" y2="349.40" stroke="#56b7c6" stroke-width="1.3" />
<line x1="184.60" y1="344.60" x2="184.60" y2="349.40" stroke="#56b7c6" stroke-width="1.3" />
<line x1="202.20" y1="344.60" x2="202.20" y2="349.40" stroke="#56b7c6" stroke-width="1.3" />
<path d="M52.90 281.90H62.50V284.00H69.50V285.80H72.20V287.50H74.10V289.70H74.80V291.90H76.48V294.10H78.30V296.30H79.81V298.05H83.50V299.80H85.28V302.00H87.90V304.20H88.41V305.93H89.22V307.67H91.40V309.40H97.60V311.20H101.10V313.80H102.78V316.00H102.80V318.20H103.93V320.23H104.53V322.27H104.60V324.30H105.06V326.05H106.36V327.80H107.20V329.55H109.80V331.30H110.75V333.33H112.54V335.37H113.30V337.40H114.86V339.45H115.10V341.50H130.00H130.11V343.28H130.21V345.06H130.23V346.84H130.24V348.62H130.30V350.40H141.70V363.60H174.10" fill="none" stroke="#d8483b" stroke-width="1.3" stroke-linejoin="miter"/>
<line x1="55.54" y1="279.50" x2="55.54" y2="284.30" stroke="#d8483b" stroke-width="1.3" />
<line x1="56.07" y1="279.50" x2="56.07" y2="284.30" stroke="#d8483b" stroke-width="1.3" />
<line x1="56.93" y1="279.50" x2="56.93" y2="284.30" stroke="#d8483b" stroke-width="1.3" />
<line x1="57.16" y1="279.50" x2="57.16" y2="284.30" stroke="#d8483b" stroke-width="1.3" />
<line x1="57.76" y1="279.50" x2="57.76" y2="284.30" stroke="#d8483b" stroke-width="1.3" />
<line x1="57.86" y1="279.50" x2="57.86" y2="284.30" stroke="#d8483b" stroke-width="1.3" />
<line x1="58.29" y1="279.50" x2="58.29" y2="284.30" stroke="#d8483b" stroke-width="1.3" />
<line x1="59.61" y1="279.50" x2="59.61" y2="284.30" stroke="#d8483b" stroke-width="1.3" />
<line x1="60.38" y1="279.50" x2="60.38" y2="284.30" stroke="#d8483b" stroke-width="1.3" />
<line x1="61.38" y1="279.50" x2="61.38" y2="284.30" stroke="#d8483b" stroke-width="1.3" />
<line x1="62.70" y1="281.60" x2="62.70" y2="286.40" stroke="#d8483b" stroke-width="1.3" />
<line x1="63.78" y1="281.60" x2="63.78" y2="286.40" stroke="#d8483b" stroke-width="1.3" />
<line x1="64.53" y1="281.60" x2="64.53" y2="286.40" stroke="#d8483b" stroke-width="1.3" />
<line x1="65.47" y1="281.60" x2="65.47" y2="286.40" stroke="#d8483b" stroke-width="1.3" />
<line x1="65.67" y1="281.60" x2="65.67" y2="286.40" stroke="#d8483b" stroke-width="1.3" />
<line x1="66.59" y1="281.60" x2="66.59" y2="286.40" stroke="#d8483b" stroke-width="1.3" />
<line x1="69.00" y1="281.60" x2="69.00" y2="286.40" stroke="#d8483b" stroke-width="1.3" />
<line x1="73.43" y1="285.10" x2="73.43" y2="289.90" stroke="#d8483b" stroke-width="1.3" />
<line x1="73.69" y1="285.10" x2="73.69" y2="289.90" stroke="#d8483b" stroke-width="1.3" />
<line x1="75.06" y1="289.50" x2="75.06" y2="294.30" stroke="#d8483b" stroke-width="1.3" />
<line x1="75.10" y1="289.50" x2="75.10" y2="294.30" stroke="#d8483b" stroke-width="1.3" />
<line x1="75.32" y1="289.50" x2="75.32" y2="294.30" stroke="#d8483b" stroke-width="1.3" />
<line x1="75.93" y1="289.50" x2="75.93" y2="294.30" stroke="#d8483b" stroke-width="1.3" />
<line x1="76.60" y1="291.70" x2="76.60" y2="296.50" stroke="#d8483b" stroke-width="1.3" />
<line x1="78.95" y1="293.90" x2="78.95" y2="298.70" stroke="#d8483b" stroke-width="1.3" />
<line x1="79.88" y1="295.65" x2="79.88" y2="300.45" stroke="#d8483b" stroke-width="1.3" />
<line x1="81.88" y1="295.65" x2="81.88" y2="300.45" stroke="#d8483b" stroke-width="1.3" />
<line x1="84.12" y1="297.40" x2="84.12" y2="302.20" stroke="#d8483b" stroke-width="1.3" />
<line x1="85.96" y1="299.60" x2="85.96" y2="304.40" stroke="#d8483b" stroke-width="1.3" />
<line x1="86.48" y1="299.60" x2="86.48" y2="304.40" stroke="#d8483b" stroke-width="1.3" />
<line x1="87.16" y1="299.60" x2="87.16" y2="304.40" stroke="#d8483b" stroke-width="1.3" />
<line x1="89.13" y1="303.53" x2="89.13" y2="308.33" stroke="#d8483b" stroke-width="1.3" />
<line x1="90.04" y1="305.27" x2="90.04" y2="310.07" stroke="#d8483b" stroke-width="1.3" />
<line x1="91.04" y1="305.27" x2="91.04" y2="310.07" stroke="#d8483b" stroke-width="1.3" />
<line x1="95.66" y1="307.00" x2="95.66" y2="311.80" stroke="#d8483b" stroke-width="1.3" />
<line x1="98.17" y1="308.80" x2="98.17" y2="313.60" stroke="#d8483b" stroke-width="1.3" />
<line x1="99.16" y1="308.80" x2="99.16" y2="313.60" stroke="#d8483b" stroke-width="1.3" />
<line x1="99.24" y1="308.80" x2="99.24" y2="313.60" stroke="#d8483b" stroke-width="1.3" />
<line x1="99.59" y1="308.80" x2="99.59" y2="313.60" stroke="#d8483b" stroke-width="1.3" />
<line x1="100.76" y1="308.80" x2="100.76" y2="313.60" stroke="#d8483b" stroke-width="1.3" />
<line x1="101.48" y1="311.40" x2="101.48" y2="316.20" stroke="#d8483b" stroke-width="1.3" />
<line x1="102.04" y1="311.40" x2="102.04" y2="316.20" stroke="#d8483b" stroke-width="1.3" />
<line x1="103.75" y1="315.80" x2="103.75" y2="320.60" stroke="#d8483b" stroke-width="1.3" />
<line x1="104.47" y1="317.83" x2="104.47" y2="322.63" stroke="#d8483b" stroke-width="1.3" />
<line x1="104.85" y1="321.90" x2="104.85" y2="326.70" stroke="#d8483b" stroke-width="1.3" />
<line x1="105.72" y1="323.65" x2="105.72" y2="328.45" stroke="#d8483b" stroke-width="1.3" />
<line x1="109.05" y1="327.15" x2="109.05" y2="331.95" stroke="#d8483b" stroke-width="1.3" />
<line x1="109.17" y1="327.15" x2="109.17" y2="331.95" stroke="#d8483b" stroke-width="1.3" />
<line x1="109.53" y1="327.15" x2="109.53" y2="331.95" stroke="#d8483b" stroke-width="1.3" />
<line x1="109.85" y1="328.90" x2="109.85" y2="333.70" stroke="#d8483b" stroke-width="1.3" />
<line x1="110.58" y1="328.90" x2="110.58" y2="333.70" stroke="#d8483b" stroke-width="1.3" />
<line x1="110.80" y1="330.93" x2="110.80" y2="335.73" stroke="#d8483b" stroke-width="1.3" />
<line x1="111.36" y1="330.93" x2="111.36" y2="335.73" stroke="#d8483b" stroke-width="1.3" />
<line x1="113.22" y1="332.97" x2="113.22" y2="337.77" stroke="#d8483b" stroke-width="1.3" />
<line x1="113.81" y1="335.00" x2="113.81" y2="339.80" stroke="#d8483b" stroke-width="1.3" />
<line x1="118.00" y1="339.10" x2="118.00" y2="343.90" stroke="#d8483b" stroke-width="1.3" />
<line x1="128.00" y1="339.10" x2="128.00" y2="343.90" stroke="#d8483b" stroke-width="1.3" />
<line x1="139.50" y1="348.00" x2="139.50" y2="352.80" stroke="#d8483b" stroke-width="1.3" />
<line x1="141.00" y1="348.00" x2="141.00" y2="352.80" stroke="#d8483b" stroke-width="1.3" />
<line x1="161.80" y1="361.20" x2="161.80" y2="366.00" stroke="#d8483b" stroke-width="1.3" />
<line x1="163.30" y1="361.20" x2="163.30" y2="366.00" stroke="#d8483b" stroke-width="1.3" />
<line x1="173.00" y1="361.20" x2="173.00" y2="366.00" stroke="#d8483b" stroke-width="1.3" />
<line x1="158.30" y1="286.60" x2="171.30" y2="286.60" stroke="#56b7c6" stroke-width="1.2" />
<line x1="164.80" y1="283.60" x2="164.80" y2="289.60" stroke="#56b7c6" stroke-width="1.2" />
<text x="177.8" y="290.9" font-size="12.3" text-anchor="start" fill="#1a1a1a" font-weight="normal" >Low</text>
<line x1="158.30" y1="299.30" x2="171.30" y2="299.30" stroke="#d8483b" stroke-width="1.2" />
<line x1="164.80" y1="296.30" x2="164.80" y2="302.30" stroke="#d8483b" stroke-width="1.2" />
<text x="177.8" y="303.6" font-size="12.3" text-anchor="start" fill="#1a1a1a" font-weight="normal" >High</text>
<text x="53.2" y="390.3" font-size="12.3" text-anchor="start" fill="#1a1a1a" font-weight="normal" >Log-rank <tspan font-style="italic">p</tspan> = 0.003</text>
<text x="53.2" y="405.5" font-size="12.3" text-anchor="start" fill="#1a1a1a" font-weight="normal" >HR = 2.28 (1.31 - 3.98)</text>
<text x="122.2" y="472.6" font-size="12.3" text-anchor="middle" fill="#1a1a1a" font-weight="normal" >TCGA-BRCA</text>
<line x1="44.50" y1="471.80" x2="44.50" y2="633.00" stroke="#111" stroke-width="1.0" />
<line x1="40.40" y1="506.06" x2="44.50" y2="506.06" stroke="#111" stroke-width="1.0" />
<text x="39.2" y="511.6" font-size="12.3" text-anchor="end" fill="#1a1a1a" font-weight="normal" >0.8</text>
<line x1="40.40" y1="536.62" x2="44.50" y2="536.62" stroke="#111" stroke-width="1.0" />
<text x="39.2" y="542.1" font-size="12.3" text-anchor="end" fill="#1a1a1a" font-weight="normal" >0.6</text>
<line x1="40.40" y1="567.18" x2="44.50" y2="567.18" stroke="#111" stroke-width="1.0" />
<text x="39.2" y="572.7" font-size="12.3" text-anchor="end" fill="#1a1a1a" font-weight="normal" >0.4</text>
<line x1="40.40" y1="597.74" x2="44.50" y2="597.74" stroke="#111" stroke-width="1.0" />
<text x="39.2" y="603.2" font-size="12.3" text-anchor="end" fill="#1a1a1a" font-weight="normal" >0.2</text>
<line x1="44.00" y1="632.50" x2="204.80" y2="632.50" stroke="#111" stroke-width="1.0" />
<line x1="47.00" y1="632.50" x2="47.00" y2="636.00" stroke="#111" stroke-width="1.0" />
<text x="47.0" y="648.5" font-size="12.3" text-anchor="middle" fill="#1a1a1a" font-weight="normal" >0</text>
<line x1="83.00" y1="632.50" x2="83.00" y2="636.00" stroke="#111" stroke-width="1.0" />
<text x="83.0" y="648.5" font-size="12.3" text-anchor="middle" fill="#1a1a1a" font-weight="normal" >2000</text>
<line x1="119.00" y1="632.50" x2="119.00" y2="636.00" stroke="#111" stroke-width="1.0" />
<text x="119.0" y="648.5" font-size="12.3" text-anchor="middle" fill="#1a1a1a" font-weight="normal" >4000</text>
<line x1="155.00" y1="632.50" x2="155.00" y2="636.00" stroke="#111" stroke-width="1.0" />
<text x="155.0" y="648.5" font-size="12.3" text-anchor="middle" fill="#1a1a1a" font-weight="normal" >6000</text>
<line x1="191.00" y1="632.50" x2="191.00" y2="636.00" stroke="#111" stroke-width="1.0" />
<text x="191.0" y="648.5" font-size="12.3" text-anchor="middle" fill="#1a1a1a" font-weight="normal" >8000</text>
<text x="119.7" y="666.0" font-size="12.3" text-anchor="middle" fill="#1a1a1a" font-weight="normal" >Time (days)</text>
<text x="12.5" y="573.6" font-size="12.3" text-anchor="middle" fill="#1a1a1a" font-weight="normal" transform="rotate(-90 12.5 573.6)" textLength="144" lengthAdjust="spacingAndGlyphs">Overall survival probability</text>
<path d="M47.00 474.40H51.26V475.70H54.00V477.00H54.57V478.22H55.60V479.44H57.12V480.66H58.14V481.88H62.80V483.10H62.98V484.57H66.55V486.03H69.80V487.50H69.86V488.74H72.14V489.98H75.23V491.22H75.28V492.46H76.80V493.70H79.87V495.00H81.13V496.30H81.76V497.60H81.88V498.90H81.93V500.20H82.00V501.50H82.56V502.97H83.85V504.43H87.30V505.90H88.32V507.12H88.47V508.34H88.53V509.56H91.43V510.78H92.60V512.00H93.18V513.40H93.22V514.80H97.48V516.20H97.68V517.60H97.80V519.00H99.77V520.42H100.28V521.84H100.57V523.26H101.73V524.68H103.10V526.10H105.02V527.53H106.40V528.97H108.30V530.40H108.70V531.60H108.74V532.80H110.00V534.00V541.80H113.60H114.11V543.12H114.74V544.45H114.95V545.77H116.20V547.10H116.26V548.34H116.35V549.59H116.47V550.83H116.85V552.07H118.28V553.31H118.65V554.56H118.80V555.80H119.11V557.12H119.97V558.43H120.26V559.75H122.01V561.07H123.31V562.38H124.10V563.70H163.50H163.80V564.96H164.29V566.21H164.30V567.47H164.38V568.72H164.40V569.98H164.42V571.23H164.43V572.49H164.48V573.74H164.50V575.00H164.66V576.29H164.92V577.58H165.04V578.86H165.09V580.15H165.34V581.44H165.53V582.72H166.14V584.01H166.20V585.30H203.20" fill="none" stroke="#56b7c6" stroke-width="1.3" stroke-linejoin="miter"/>
<line x1="50.39" y1="472.00" x2="50.39" y2="476.80" stroke="#56b7c6" stroke-width="1.3" />
<line x1="50.50" y1="472.00" x2="50.50" y2="476.80" stroke="#56b7c6" stroke-width="1.3" />
<line x1="51.05" y1="472.00" x2="51.05" y2="476.80" stroke="#56b7c6" stroke-width="1.3" />
<line x1="51.10" y1="472.00" x2="51.10" y2="476.80" stroke="#56b7c6" stroke-width="1.3" />
<line x1="51.41" y1="473.30" x2="51.41" y2="478.10" stroke="#56b7c6" stroke-width="1.3" />
<line x1="51.52" y1="473.30" x2="51.52" y2="478.10" stroke="#56b7c6" stroke-width="1.3" />
<line x1="52.45" y1="473.30" x2="52.45" y2="478.10" stroke="#56b7c6" stroke-width="1.3" />
<line x1="52.58" y1="473.30" x2="52.58" y2="478.10" stroke="#56b7c6" stroke-width="1.3" />
<line x1="53.03" y1="473.30" x2="53.03" y2="478.10" stroke="#56b7c6" stroke-width="1.3" />
<line x1="53.25" y1="473.30" x2="53.25" y2="478.10" stroke="#56b7c6" stroke-width="1.3" />
<line x1="53.29" y1="473.30" x2="53.29" y2="478.10" stroke="#56b7c6" stroke-width="1.3" />
<line x1="54.85" y1="475.82" x2="54.85" y2="480.62" stroke="#56b7c6" stroke-width="1.3" />
<line x1="55.01" y1="475.82" x2="55.01" y2="480.62" stroke="#56b7c6" stroke-width="1.3" />
<line x1="55.09" y1="475.82" x2="55.09" y2="480.62" stroke="#56b7c6" stroke-width="1.3" />
<line x1="55.20" y1="475.82" x2="55.20" y2="480.62" stroke="#56b7c6" stroke-width="1.3" />
<line x1="55.26" y1="475.82" x2="55.26" y2="480.62" stroke="#56b7c6" stroke-width="1.3" />
<line x1="55.33" y1="475.82" x2="55.33" y2="480.62" stroke="#56b7c6" stroke-width="1.3" />
<line x1="55.61" y1="477.04" x2="55.61" y2="481.84" stroke="#56b7c6" stroke-width="1.3" />
<line x1="56.10" y1="477.04" x2="56.10" y2="481.84" stroke="#56b7c6" stroke-width="1.3" />
<line x1="56.18" y1="477.04" x2="56.18" y2="481.84" stroke="#56b7c6" stroke-width="1.3" />
<line x1="56.66" y1="477.04" x2="56.66" y2="481.84" stroke="#56b7c6" stroke-width="1.3" />
<line x1="56.72" y1="477.04" x2="56.72" y2="481.84" stroke="#56b7c6" stroke-width="1.3" />
<line x1="57.27" y1="478.26" x2="57.27" y2="483.06" stroke="#56b7c6" stroke-width="1.3" />
<line x1="57.28" y1="478.26" x2="57.28" y2="483.06" stroke="#56b7c6" stroke-width="1.3" />
<line x1="58.31" y1="479.48" x2="58.31" y2="484.28" stroke="#56b7c6" stroke-width="1.3" />
<line x1="58.96" y1="479.48" x2="58.96" y2="484.28" stroke="#56b7c6" stroke-width="1.3" />
<line x1="59.43" y1="479.48" x2="59.43" y2="484.28" stroke="#56b7c6" stroke-width="1.3" />
<line x1="60.26" y1="479.48" x2="60.26" y2="484.28" stroke="#56b7c6" stroke-width="1.3" />
<line x1="60.35" y1="479.48" x2="60.35" y2="484.28" stroke="#56b7c6" stroke-width="1.3" />
<line x1="61.97" y1="479.48" x2="61.97" y2="484.28" stroke="#56b7c6" stroke-width="1.3" />
<line x1="62.18" y1="479.48" x2="62.18" y2="484.28" stroke="#56b7c6" stroke-width="1.3" />
<line x1="62.59" y1="479.48" x2="62.59" y2="484.28" stroke="#56b7c6" stroke-width="1.3" />
<line x1="62.81" y1="480.70" x2="62.81" y2="485.50" stroke="#56b7c6" stroke-width="1.3" />
<line x1="63.86" y1="482.17" x2="63.86" y2="486.97" stroke="#56b7c6" stroke-width="1.3" />
<line x1="64.21" y1="482.17" x2="64.21" y2="486.97" stroke="#56b7c6" stroke-width="1.3" />
<line x1="64.28" y1="482.17" x2="64.28" y2="486.97" stroke="#56b7c6" stroke-width="1.3" />
<line x1="64.90" y1="482.17" x2="64.90" y2="486.97" stroke="#56b7c6" stroke-width="1.3" />
<line x1="65.53" y1="482.17" x2="65.53" y2="486.97" stroke="#56b7c6" stroke-width="1.3" />
<line x1="66.00" y1="482.17" x2="66.00" y2="486.97" stroke="#56b7c6" stroke-width="1.3" />
<line x1="66.10" y1="482.17" x2="66.10" y2="486.97" stroke="#56b7c6" stroke-width="1.3" />
<line x1="66.87" y1="483.63" x2="66.87" y2="488.43" stroke="#56b7c6" stroke-width="1.3" />
<line x1="67.47" y1="483.63" x2="67.47" y2="488.43" stroke="#56b7c6" stroke-width="1.3" />
<line x1="69.48" y1="483.63" x2="69.48" y2="488.43" stroke="#56b7c6" stroke-width="1.3" />
<line x1="69.72" y1="483.63" x2="69.72" y2="488.43" stroke="#56b7c6" stroke-width="1.3" />
<line x1="70.83" y1="486.34" x2="70.83" y2="491.14" stroke="#56b7c6" stroke-width="1.3" />
<line x1="71.96" y1="486.34" x2="71.96" y2="491.14" stroke="#56b7c6" stroke-width="1.3" />
<line x1="72.16" y1="487.58" x2="72.16" y2="492.38" stroke="#56b7c6" stroke-width="1.3" />
<line x1="72.38" y1="487.58" x2="72.38" y2="492.38" stroke="#56b7c6" stroke-width="1.3" />
<line x1="72.40" y1="487.58" x2="72.40" y2="492.38" stroke="#56b7c6" stroke-width="1.3" />
<line x1="72.73" y1="487.58" x2="72.73" y2="492.38" stroke="#56b7c6" stroke-width="1.3" />
<line x1="72.74" y1="487.58" x2="72.74" y2="492.38" stroke="#56b7c6" stroke-width="1.3" />
<line x1="73.02" y1="487.58" x2="73.02" y2="492.38" stroke="#56b7c6" stroke-width="1.3" />
<line x1="73.89" y1="487.58" x2="73.89" y2="492.38" stroke="#56b7c6" stroke-width="1.3" />
<line x1="74.05" y1="487.58" x2="74.05" y2="492.38" stroke="#56b7c6" stroke-width="1.3" />
<line x1="74.13" y1="487.58" x2="74.13" y2="492.38" stroke="#56b7c6" stroke-width="1.3" />
<line x1="75.21" y1="487.58" x2="75.21" y2="492.38" stroke="#56b7c6" stroke-width="1.3" />
<line x1="75.31" y1="490.06" x2="75.31" y2="494.86" stroke="#56b7c6" stroke-width="1.3" />
<line x1="75.48" y1="490.06" x2="75.48" y2="494.86" stroke="#56b7c6" stroke-width="1.3" />
<line x1="75.50" y1="490.06" x2="75.50" y2="494.86" stroke="#56b7c6" stroke-width="1.3" />
<line x1="76.01" y1="490.06" x2="76.01" y2="494.86" stroke="#56b7c6" stroke-width="1.3" />
<line x1="76.64" y1="490.06" x2="76.64" y2="494.86" stroke="#56b7c6" stroke-width="1.3" />
<line x1="77.08" y1="491.30" x2="77.08" y2="496.10" stroke="#56b7c6" stroke-width="1.3" />
<line x1="77.12" y1="491.30" x2="77.12" y2="496.10" stroke="#56b7c6" stroke-width="1.3" />
<line x1="77.78" y1="491.30" x2="77.78" y2="496.10" stroke="#56b7c6" stroke-width="1.3" />
<line x1="79.50" y1="491.30" x2="79.50" y2="496.10" stroke="#56b7c6" stroke-width="1.3" />
<line x1="79.80" y1="491.30" x2="79.80" y2="496.10" stroke="#56b7c6" stroke-width="1.3" />
<line x1="79.84" y1="491.30" x2="79.84" y2="496.10" stroke="#56b7c6" stroke-width="1.3" />
<line x1="80.17" y1="492.60" x2="80.17" y2="497.40" stroke="#56b7c6" stroke-width="1.3" />
<line x1="80.38" y1="492.60" x2="80.38" y2="497.40" stroke="#56b7c6" stroke-width="1.3" />
<line x1="82.39" y1="499.10" x2="82.39" y2="503.90" stroke="#56b7c6" stroke-width="1.3" />
<line x1="83.26" y1="500.57" x2="83.26" y2="505.37" stroke="#56b7c6" stroke-width="1.3" />
<line x1="83.30" y1="500.57" x2="83.30" y2="505.37" stroke="#56b7c6" stroke-width="1.3" />
<line x1="84.47" y1="502.03" x2="84.47" y2="506.83" stroke="#56b7c6" stroke-width="1.3" />
<line x1="84.72" y1="502.03" x2="84.72" y2="506.83" stroke="#56b7c6" stroke-width="1.3" />
<line x1="84.79" y1="502.03" x2="84.79" y2="506.83" stroke="#56b7c6" stroke-width="1.3" />
<line x1="85.05" y1="502.03" x2="85.05" y2="506.83" stroke="#56b7c6" stroke-width="1.3" />
<line x1="85.42" y1="502.03" x2="85.42" y2="506.83" stroke="#56b7c6" stroke-width="1.3" />
<line x1="85.43" y1="502.03" x2="85.43" y2="506.83" stroke="#56b7c6" stroke-width="1.3" />
<line x1="85.81" y1="502.03" x2="85.81" y2="506.83" stroke="#56b7c6" stroke-width="1.3" />
<line x1="86.38" y1="502.03" x2="86.38" y2="506.83" stroke="#56b7c6" stroke-width="1.3" />
<line x1="86.53" y1="502.03" x2="86.53" y2="506.83" stroke="#56b7c6" stroke-width="1.3" />
<line x1="86.67" y1="502.03" x2="86.67" y2="506.83" stroke="#56b7c6" stroke-width="1.3" />
<line x1="87.00" y1="502.03" x2="87.00" y2="506.83" stroke="#56b7c6" stroke-width="1.3" />
<line x1="87.77" y1="503.50" x2="87.77" y2="508.30" stroke="#56b7c6" stroke-width="1.3" />
<line x1="88.32" y1="504.72" x2="88.32" y2="509.52" stroke="#56b7c6" stroke-width="1.3" />
<line x1="90.05" y1="507.16" x2="90.05" y2="511.96" stroke="#56b7c6" stroke-width="1.3" />
<line x1="90.45" y1="507.16" x2="90.45" y2="511.96" stroke="#56b7c6" stroke-width="1.3" />
<line x1="90.45" y1="507.16" x2="90.45" y2="511.96" stroke="#56b7c6" stroke-width="1.3" />
<line x1="92.21" y1="508.38" x2="92.21" y2="513.18" stroke="#56b7c6" stroke-width="1.3" />
<line x1="92.33" y1="508.38" x2="92.33" y2="513.18" stroke="#56b7c6" stroke-width="1.3" />
<line x1="92.57" y1="508.38" x2="92.57" y2="513.18" stroke="#56b7c6" stroke-width="1.3" />
<line x1="93.50" y1="512.40" x2="93.50" y2="517.20" stroke="#56b7c6" stroke-width="1.3" />
<line x1="93.54" y1="512.40" x2="93.54" y2="517.20" stroke="#56b7c6" stroke-width="1.3" />
<line x1="94.26" y1="512.40" x2="94.26" y2="517.20" stroke="#56b7c6" stroke-width="1.3" />
<line x1="94.77" y1="512.40" x2="94.77" y2="517.20" stroke="#56b7c6" stroke-width="1.3" />
<line x1="96.45" y1="512.40" x2="96.45" y2="517.20" stroke="#56b7c6" stroke-width="1.3" />
<line x1="96.48" y1="512.40" x2="96.48" y2="517.20" stroke="#56b7c6" stroke-width="1.3" />
<line x1="96.84" y1="512.40" x2="96.84" y2="517.20" stroke="#56b7c6" stroke-width="1.3" />
<line x1="97.05" y1="512.40" x2="97.05" y2="517.20" stroke="#56b7c6" stroke-width="1.3" />
<line x1="97.96" y1="516.60" x2="97.96" y2="521.40" stroke="#56b7c6" stroke-width="1.3" />
<line x1="98.45" y1="516.60" x2="98.45" y2="521.40" stroke="#56b7c6" stroke-width="1.3" />
<line x1="98.57" y1="516.60" x2="98.57" y2="521.40" stroke="#56b7c6" stroke-width="1.3" />
<line x1="100.60" y1="520.86" x2="100.60" y2="525.66" stroke="#56b7c6" stroke-width="1.3" />
<line x1="101.59" y1="520.86" x2="101.59" y2="525.66" stroke="#56b7c6" stroke-width="1.3" />
<line x1="101.84" y1="522.28" x2="101.84" y2="527.08" stroke="#56b7c6" stroke-width="1.3" />
<line x1="101.99" y1="522.28" x2="101.99" y2="527.08" stroke="#56b7c6" stroke-width="1.3" />
<line x1="102.76" y1="522.28" x2="102.76" y2="527.08" stroke="#56b7c6" stroke-width="1.3" />
<line x1="103.18" y1="523.70" x2="103.18" y2="528.50" stroke="#56b7c6" stroke-width="1.3" />
<line x1="103.72" y1="523.70" x2="103.72" y2="528.50" stroke="#56b7c6" stroke-width="1.3" />
<line x1="103.90" y1="523.70" x2="103.90" y2="528.50" stroke="#56b7c6" stroke-width="1.3" />
<line x1="104.38" y1="523.70" x2="104.38" y2="528.50" stroke="#56b7c6" stroke-width="1.3" />
<line x1="105.26" y1="525.13" x2="105.26" y2="529.93" stroke="#56b7c6" stroke-width="1.3" />
<line x1="105.43" y1="525.13" x2="105.43" y2="529.93" stroke="#56b7c6" stroke-width="1.3" />
<line x1="107.06" y1="526.57" x2="107.06" y2="531.37" stroke="#56b7c6" stroke-width="1.3" />
<line x1="107.50" y1="526.57" x2="107.50" y2="531.37" stroke="#56b7c6" stroke-width="1.3" />
<line x1="107.84" y1="526.57" x2="107.84" y2="531.37" stroke="#56b7c6" stroke-width="1.3" />
<line x1="108.52" y1="528.00" x2="108.52" y2="532.80" stroke="#56b7c6" stroke-width="1.3" />
<line x1="109.16" y1="530.40" x2="109.16" y2="535.20" stroke="#56b7c6" stroke-width="1.3" />
<line x1="109.69" y1="530.40" x2="109.69" y2="535.20" stroke="#56b7c6" stroke-width="1.3" />
<line x1="109.88" y1="530.40" x2="109.88" y2="535.20" stroke="#56b7c6" stroke-width="1.3" />
<line x1="110.50" y1="539.40" x2="110.50" y2="544.20" stroke="#56b7c6" stroke-width="1.3" />
<line x1="112.00" y1="539.40" x2="112.00" y2="544.20" stroke="#56b7c6" stroke-width="1.3" />
<line x1="114.00" y1="539.40" x2="114.00" y2="544.20" stroke="#56b7c6" stroke-width="1.3" />
<line x1="117.00" y1="549.67" x2="117.00" y2="554.47" stroke="#56b7c6" stroke-width="1.3" />
<line x1="124.00" y1="559.98" x2="124.00" y2="564.78" stroke="#56b7c6" stroke-width="1.3" />
<line x1="136.00" y1="561.30" x2="136.00" y2="566.10" stroke="#56b7c6" stroke-width="1.3" />
<line x1="137.50" y1="561.30" x2="137.50" y2="566.10" stroke="#56b7c6" stroke-width="1.3" />
<line x1="139.00" y1="561.30" x2="139.00" y2="566.10" stroke="#56b7c6" stroke-width="1.3" />
<line x1="147.00" y1="561.30" x2="147.00" y2="566.10" stroke="#56b7c6" stroke-width="1.3" />
<line x1="150.50" y1="561.30" x2="150.50" y2="566.10" stroke="#56b7c6" stroke-width="1.3" />
<line x1="163.00" y1="561.30" x2="163.00" y2="566.10" stroke="#56b7c6" stroke-width="1.3" />
<line x1="175.00" y1="582.90" x2="175.00" y2="587.70" stroke="#56b7c6" stroke-width="1.3" />
<line x1="190.00" y1="582.90" x2="190.00" y2="587.70" stroke="#56b7c6" stroke-width="1.3" />
<line x1="197.50" y1="582.90" x2="197.50" y2="587.70" stroke="#56b7c6" stroke-width="1.3" />
<line x1="200.00" y1="582.90" x2="200.00" y2="587.70" stroke="#56b7c6" stroke-width="1.3" />
<path d="M47.00 475.30H52.30V477.00H53.39V478.32H54.38V479.65H56.65V480.98H57.50V482.30H58.47V483.60H59.12V484.90H59.64V486.20H61.00V487.50H61.50V488.82H62.19V490.15H62.53V491.48H63.70V492.80H63.99V494.10H64.25V495.40H64.38V496.70H65.40V498.00H66.06V499.32H67.30V500.65H67.89V501.98H68.90V503.30H72.92V505.05H75.00V506.80H75.96V508.10H77.36V509.40H79.38V510.70H82.00V512.00H84.37V513.33H85.21V514.65H86.04V515.97H87.30V517.30H88.42V518.62H91.19V519.95H91.98V521.27H92.60V522.60H92.70V523.90H94.34V525.20H95.42V526.50H97.80V527.80H98.64V529.04H99.02V530.28H99.24V531.52H100.05V532.76H100.40V534.00H108.30H108.31V535.27H108.34V536.55H108.36V537.82H108.39V539.09H108.56V540.36H108.76V541.64H108.78V542.91H108.95V544.18H109.05V545.45H109.13V546.73H109.20V548.00H118.00H118.08V549.31H118.12V550.62H118.13V551.94H118.32V553.25H118.52V554.56H118.66V555.88H118.80V557.19H118.80V558.50H126.70H126.82V559.78H126.86V561.06H126.94V562.35H126.99V563.63H127.02V564.91H127.05V566.19H127.16V567.47H127.25V568.75H127.32V570.04H127.50V571.32H127.60V572.60H181.30V590.40H203.20" fill="none" stroke="#d8483b" stroke-width="1.3" stroke-linejoin="miter"/>
<line x1="52.57" y1="474.60" x2="52.57" y2="479.40" stroke="#d8483b" stroke-width="1.3" />
<line x1="52.62" y1="474.60" x2="52.62" y2="479.40" stroke="#d8483b" stroke-width="1.3" />
<line x1="53.38" y1="474.60" x2="53.38" y2="479.40" stroke="#d8483b" stroke-width="1.3" />
<line x1="53.73" y1="475.92" x2="53.73" y2="480.72" stroke="#d8483b" stroke-width="1.3" />
<line x1="54.33" y1="475.92" x2="54.33" y2="480.72" stroke="#d8483b" stroke-width="1.3" />
<line x1="54.54" y1="477.25" x2="54.54" y2="482.05" stroke="#d8483b" stroke-width="1.3" />
<line x1="54.92" y1="477.25" x2="54.92" y2="482.05" stroke="#d8483b" stroke-width="1.3" />
<line x1="55.15" y1="477.25" x2="55.15" y2="482.05" stroke="#d8483b" stroke-width="1.3" />
<line x1="55.15" y1="477.25" x2="55.15" y2="482.05" stroke="#d8483b" stroke-width="1.3" />
<line x1="55.31" y1="477.25" x2="55.31" y2="482.05" stroke="#d8483b" stroke-width="1.3" />
<line x1="56.05" y1="477.25" x2="56.05" y2="482.05" stroke="#d8483b" stroke-width="1.3" />
<line x1="56.16" y1="477.25" x2="56.16" y2="482.05" stroke="#d8483b" stroke-width="1.3" />
<line x1="56.76" y1="478.58" x2="56.76" y2="483.38" stroke="#d8483b" stroke-width="1.3" />
<line x1="56.95" y1="478.58" x2="56.95" y2="483.38" stroke="#d8483b" stroke-width="1.3" />
<line x1="58.59" y1="481.20" x2="58.59" y2="486.00" stroke="#d8483b" stroke-width="1.3" />
<line x1="58.75" y1="481.20" x2="58.75" y2="486.00" stroke="#d8483b" stroke-width="1.3" />
<line x1="60.12" y1="483.80" x2="60.12" y2="488.60" stroke="#d8483b" stroke-width="1.3" />
<line x1="60.29" y1="483.80" x2="60.29" y2="488.60" stroke="#d8483b" stroke-width="1.3" />
<line x1="60.31" y1="483.80" x2="60.31" y2="488.60" stroke="#d8483b" stroke-width="1.3" />
<line x1="60.32" y1="483.80" x2="60.32" y2="488.60" stroke="#d8483b" stroke-width="1.3" />
<line x1="60.44" y1="483.80" x2="60.44" y2="488.60" stroke="#d8483b" stroke-width="1.3" />
<line x1="61.08" y1="485.10" x2="61.08" y2="489.90" stroke="#d8483b" stroke-width="1.3" />
<line x1="62.01" y1="486.42" x2="62.01" y2="491.22" stroke="#d8483b" stroke-width="1.3" />
<line x1="62.68" y1="489.08" x2="62.68" y2="493.88" stroke="#d8483b" stroke-width="1.3" />
<line x1="63.09" y1="489.08" x2="63.09" y2="493.88" stroke="#d8483b" stroke-width="1.3" />
<line x1="66.42" y1="496.92" x2="66.42" y2="501.72" stroke="#d8483b" stroke-width="1.3" />
<line x1="69.02" y1="500.90" x2="69.02" y2="505.70" stroke="#d8483b" stroke-width="1.3" />
<line x1="69.91" y1="500.90" x2="69.91" y2="505.70" stroke="#d8483b" stroke-width="1.3" />
<line x1="70.38" y1="500.90" x2="70.38" y2="505.70" stroke="#d8483b" stroke-width="1.3" />
<line x1="70.64" y1="500.90" x2="70.64" y2="505.70" stroke="#d8483b" stroke-width="1.3" />
<line x1="70.67" y1="500.90" x2="70.67" y2="505.70" stroke="#d8483b" stroke-width="1.3" />
<line x1="71.52" y1="500.90" x2="71.52" y2="505.70" stroke="#d8483b" stroke-width="1.3" />
<line x1="73.67" y1="502.65" x2="73.67" y2="507.45" stroke="#d8483b" stroke-width="1.3" />
<line x1="73.77" y1="502.65" x2="73.77" y2="507.45" stroke="#d8483b" stroke-width="1.3" />
<line x1="73.92" y1="502.65" x2="73.92" y2="507.45" stroke="#d8483b" stroke-width="1.3" />
<line x1="75.14" y1="504.40" x2="75.14" y2="509.20" stroke="#d8483b" stroke-width="1.3" />
<line x1="75.53" y1="504.40" x2="75.53" y2="509.20" stroke="#d8483b" stroke-width="1.3" />
<line x1="75.73" y1="504.40" x2="75.73" y2="509.20" stroke="#d8483b" stroke-width="1.3" />
<line x1="77.13" y1="505.70" x2="77.13" y2="510.50" stroke="#d8483b" stroke-width="1.3" />
<line x1="77.38" y1="507.00" x2="77.38" y2="511.80" stroke="#d8483b" stroke-width="1.3" />
<line x1="77.70" y1="507.00" x2="77.70" y2="511.80" stroke="#d8483b" stroke-width="1.3" />
<line x1="77.78" y1="507.00" x2="77.78" y2="511.80" stroke="#d8483b" stroke-width="1.3" />
<line x1="78.02" y1="507.00" x2="78.02" y2="511.80" stroke="#d8483b" stroke-width="1.3" />
<line x1="78.13" y1="507.00" x2="78.13" y2="511.80" stroke="#d8483b" stroke-width="1.3" />
<line x1="78.69" y1="507.00" x2="78.69" y2="511.80" stroke="#d8483b" stroke-width="1.3" />
<line x1="78.84" y1="507.00" x2="78.84" y2="511.80" stroke="#d8483b" stroke-width="1.3" />
<line x1="78.97" y1="507.00" x2="78.97" y2="511.80" stroke="#d8483b" stroke-width="1.3" />
<line x1="80.65" y1="508.30" x2="80.65" y2="513.10" stroke="#d8483b" stroke-width="1.3" />
<line x1="80.94" y1="508.30" x2="80.94" y2="513.10" stroke="#d8483b" stroke-width="1.3" />
<line x1="81.11" y1="508.30" x2="81.11" y2="513.10" stroke="#d8483b" stroke-width="1.3" />
<line x1="81.35" y1="508.30" x2="81.35" y2="513.10" stroke="#d8483b" stroke-width="1.3" />
<line x1="81.44" y1="508.30" x2="81.44" y2="513.10" stroke="#d8483b" stroke-width="1.3" />
<line x1="82.00" y1="508.30" x2="82.00" y2="513.10" stroke="#d8483b" stroke-width="1.3" />
<line x1="82.22" y1="509.60" x2="82.22" y2="514.40" stroke="#d8483b" stroke-width="1.3" />
<line x1="82.56" y1="509.60" x2="82.56" y2="514.40" stroke="#d8483b" stroke-width="1.3" />
<line x1="82.85" y1="509.60" x2="82.85" y2="514.40" stroke="#d8483b" stroke-width="1.3" />
<line x1="84.55" y1="510.93" x2="84.55" y2="515.73" stroke="#d8483b" stroke-width="1.3" />
<line x1="85.41" y1="512.25" x2="85.41" y2="517.05" stroke="#d8483b" stroke-width="1.3" />
<line x1="85.58" y1="512.25" x2="85.58" y2="517.05" stroke="#d8483b" stroke-width="1.3" />
<line x1="85.78" y1="512.25" x2="85.78" y2="517.05" stroke="#d8483b" stroke-width="1.3" />
<line x1="86.34" y1="513.57" x2="86.34" y2="518.37" stroke="#d8483b" stroke-width="1.3" />
<line x1="86.59" y1="513.57" x2="86.59" y2="518.37" stroke="#d8483b" stroke-width="1.3" />
<line x1="86.80" y1="513.57" x2="86.80" y2="518.37" stroke="#d8483b" stroke-width="1.3" />
<line x1="87.02" y1="513.57" x2="87.02" y2="518.37" stroke="#d8483b" stroke-width="1.3" />
<line x1="88.68" y1="516.22" x2="88.68" y2="521.02" stroke="#d8483b" stroke-width="1.3" />
<line x1="89.04" y1="516.22" x2="89.04" y2="521.02" stroke="#d8483b" stroke-width="1.3" />
<line x1="89.45" y1="516.22" x2="89.45" y2="521.02" stroke="#d8483b" stroke-width="1.3" />
<line x1="91.51" y1="517.55" x2="91.51" y2="522.35" stroke="#d8483b" stroke-width="1.3" />
<line x1="94.04" y1="521.50" x2="94.04" y2="526.30" stroke="#d8483b" stroke-width="1.3" />
<line x1="94.18" y1="521.50" x2="94.18" y2="526.30" stroke="#d8483b" stroke-width="1.3" />
<line x1="94.25" y1="521.50" x2="94.25" y2="526.30" stroke="#d8483b" stroke-width="1.3" />
<line x1="94.58" y1="522.80" x2="94.58" y2="527.60" stroke="#d8483b" stroke-width="1.3" />
<line x1="94.67" y1="522.80" x2="94.67" y2="527.60" stroke="#d8483b" stroke-width="1.3" />
<line x1="95.66" y1="524.10" x2="95.66" y2="528.90" stroke="#d8483b" stroke-width="1.3" />
<line x1="97.18" y1="524.10" x2="97.18" y2="528.90" stroke="#d8483b" stroke-width="1.3" />
<line x1="97.43" y1="524.10" x2="97.43" y2="528.90" stroke="#d8483b" stroke-width="1.3" />
<line x1="97.43" y1="524.10" x2="97.43" y2="528.90" stroke="#d8483b" stroke-width="1.3" />
<line x1="98.39" y1="525.40" x2="98.39" y2="530.20" stroke="#d8483b" stroke-width="1.3" />
<line x1="99.34" y1="529.12" x2="99.34" y2="533.92" stroke="#d8483b" stroke-width="1.3" />
<line x1="99.67" y1="529.12" x2="99.67" y2="533.92" stroke="#d8483b" stroke-width="1.3" />
<line x1="101.00" y1="531.60" x2="101.00" y2="536.40" stroke="#d8483b" stroke-width="1.3" />
<line x1="104.00" y1="531.60" x2="104.00" y2="536.40" stroke="#d8483b" stroke-width="1.3" />
<line x1="108.50" y1="536.69" x2="108.50" y2="541.49" stroke="#d8483b" stroke-width="1.3" />
<line x1="110.00" y1="545.60" x2="110.00" y2="550.40" stroke="#d8483b" stroke-width="1.3" />
<line x1="113.00" y1="545.60" x2="113.00" y2="550.40" stroke="#d8483b" stroke-width="1.3" />
<line x1="117.50" y1="545.60" x2="117.50" y2="550.40" stroke="#d8483b" stroke-width="1.3" />
<line x1="121.00" y1="556.10" x2="121.00" y2="560.90" stroke="#d8483b" stroke-width="1.3" />
<line x1="125.00" y1="556.10" x2="125.00" y2="560.90" stroke="#d8483b" stroke-width="1.3" />
<line x1="174.50" y1="570.20" x2="174.50" y2="575.00" stroke="#d8483b" stroke-width="1.3" />
<line x1="203.00" y1="588.00" x2="203.00" y2="592.80" stroke="#d8483b" stroke-width="1.3" />
<line x1="146.00" y1="494.70" x2="159.00" y2="494.70" stroke="#56b7c6" stroke-width="1.2" />
<line x1="152.50" y1="491.70" x2="152.50" y2="497.70" stroke="#56b7c6" stroke-width="1.2" />
<text x="165.5" y="499.0" font-size="12.3" text-anchor="start" fill="#1a1a1a" font-weight="normal" >Low</text>
<line x1="146.00" y1="507.00" x2="159.00" y2="507.00" stroke="#d8483b" stroke-width="1.2" />
<line x1="152.50" y1="504.00" x2="152.50" y2="510.00" stroke="#d8483b" stroke-width="1.2" />
<text x="165.5" y="511.3" font-size="12.3" text-anchor="start" fill="#1a1a1a" font-weight="normal" >High</text>
<text x="50.4" y="610.0" font-size="12.3" text-anchor="start" fill="#1a1a1a" font-weight="normal" >Log-rank <tspan font-style="italic">p</tspan> = 0.038</text>
<text x="50.4" y="625.6" font-size="12.3" text-anchor="start" fill="#1a1a1a" font-weight="normal" >HR = 1.44 (1.02 - 2.02)</text>
<text x="345.9" y="261.2" font-size="12.3" text-anchor="middle" fill="#1a1a1a" font-weight="normal" >Kaplan-Meier Plotter</text>
<rect x="264.20" y="266.60" width="171.60" height="140.80" fill="none" stroke="#9a9a9a" stroke-width="0.9"/>
<line x1="261.50" y1="272.00" x2="264.20" y2="272.00" stroke="#666" stroke-width="0.8" />
<text x="259.8" y="276.6" font-size="13" text-anchor="end" fill="#1a1a1a" font-weight="normal" >1.0</text>
<line x1="261.50" y1="298.10" x2="264.20" y2="298.10" stroke="#666" stroke-width="0.8" />
<text x="259.8" y="302.7" font-size="13" text-anchor="end" fill="#1a1a1a" font-weight="normal" >0.8</text>
<line x1="261.50" y1="324.40" x2="264.20" y2="324.40" stroke="#666" stroke-width="0.8" />
<text x="259.8" y="329.0" font-size="13" text-anchor="end" fill="#1a1a1a" font-weight="normal" >0.6</text>
<line x1="261.50" y1="350.30" x2="264.20" y2="350.30" stroke="#666" stroke-width="0.8" />
<text x="259.8" y="354.9" font-size="13" text-anchor="end" fill="#1a1a1a" font-weight="normal" >0.4</text>
<line x1="261.50" y1="376.20" x2="264.20" y2="376.20" stroke="#666" stroke-width="0.8" />
<text x="259.8" y="380.8" font-size="13" text-anchor="end" fill="#1a1a1a" font-weight="normal" >0.2</text>
<line x1="261.50" y1="402.40" x2="264.20" y2="402.40" stroke="#666" stroke-width="0.8" />
<text x="259.8" y="407.0" font-size="13" text-anchor="end" fill="#1a1a1a" font-weight="normal" >0.0</text>
<line x1="271.00" y1="407.40" x2="271.00" y2="410.00" stroke="#666" stroke-width="0.8" />
<text x="271.0" y="427.6" font-size="13" text-anchor="middle" fill="#1a1a1a" font-weight="normal" >0</text>
<line x1="301.50" y1="407.40" x2="301.50" y2="410.00" stroke="#666" stroke-width="0.8" />
<text x="301.5" y="427.6" font-size="13" text-anchor="middle" fill="#1a1a1a" font-weight="normal" >50</text>
<line x1="332.30" y1="407.40" x2="332.30" y2="410.00" stroke="#666" stroke-width="0.8" />
<text x="332.3" y="427.6" font-size="13" text-anchor="middle" fill="#1a1a1a" font-weight="normal" >100</text>
<line x1="363.00" y1="407.40" x2="363.00" y2="410.00" stroke="#666" stroke-width="0.8" />
<text x="363.0" y="427.6" font-size="13" text-anchor="middle" fill="#1a1a1a" font-weight="normal" >150</text>
<line x1="394.00" y1="407.40" x2="394.00" y2="410.00" stroke="#666" stroke-width="0.8" />
<text x="394.0" y="427.6" font-size="13" text-anchor="middle" fill="#1a1a1a" font-weight="normal" >200</text>
<line x1="424.70" y1="407.40" x2="424.70" y2="410.00" stroke="#666" stroke-width="0.8" />
<text x="424.7" y="427.6" font-size="13" text-anchor="middle" fill="#1a1a1a" font-weight="normal" >250</text>
<text x="350.5" y="447.0" font-size="13" text-anchor="middle" fill="#1a1a1a" font-weight="normal"  textLength="85" lengthAdjust="spacingAndGlyphs">Time (months)</text>
<text x="235.8" y="334.6" font-size="12.3" text-anchor="middle" fill="#1a1a1a" font-weight="normal" transform="rotate(-90 235.8 334.6)">RFS</text>
<path d="M271.00 272.00H271.48V273.75H273.00V275.50H274.09V277.25H275.00V279.00H275.67V280.50H276.80V282.00H276.96V283.57H278.25V285.15H278.30V286.73H279.20V288.30H279.24V290.40H282.00V292.50H284.26V294.30H284.70V296.10H285.43V297.67H285.50V299.23H287.80V300.80H289.63V302.63H291.68V304.47H291.70V306.30H296.40V307.90H300.00V310.00H306.11V311.65H307.30V313.30H328.30H330.90V316.00H386.10H386.22V317.53H386.48V319.07H386.61V320.60H386.61V322.13H386.79V323.67H386.90V325.20H392.70H392.72V326.66H392.75V328.11H392.94V329.57H393.12V331.02H393.17V332.48H393.24V333.93H393.29V335.39H393.31V336.84H393.50V338.30H429.50" fill="none" stroke="#505050" stroke-width="0.8" stroke-linejoin="miter"/>
<line x1="308.50" y1="311.50" x2="308.50" y2="315.10" stroke="#505050" stroke-width="0.8" />
<line x1="310.30" y1="311.50" x2="310.30" y2="315.10" stroke="#505050" stroke-width="0.8" />
<line x1="315.00" y1="311.50" x2="315.00" y2="315.10" stroke="#505050" stroke-width="0.8" />
<line x1="317.00" y1="311.50" x2="317.00" y2="315.10" stroke="#505050" stroke-width="0.8" />
<line x1="318.50" y1="311.50" x2="318.50" y2="315.10" stroke="#505050" stroke-width="0.8" />
<line x1="320.00" y1="311.50" x2="320.00" y2="315.10" stroke="#505050" stroke-width="0.8" />
<line x1="322.00" y1="311.50" x2="322.00" y2="315.10" stroke="#505050" stroke-width="0.8" />
<line x1="324.00" y1="311.50" x2="324.00" y2="315.10" stroke="#505050" stroke-width="0.8" />
<line x1="326.00" y1="311.50" x2="326.00" y2="315.10" stroke="#505050" stroke-width="0.8" />
<line x1="331.00" y1="314.20" x2="331.00" y2="317.80" stroke="#505050" stroke-width="0.8" />
<line x1="333.00" y1="314.20" x2="333.00" y2="317.80" stroke="#505050" stroke-width="0.8" />
<line x1="335.00" y1="314.20" x2="335.00" y2="317.80" stroke="#505050" stroke-width="0.8" />
<line x1="337.00" y1="314.20" x2="337.00" y2="317.80" stroke="#505050" stroke-width="0.8" />
<line x1="339.50" y1="314.20" x2="339.50" y2="317.80" stroke="#505050" stroke-width="0.8" />
<line x1="342.00" y1="314.20" x2="342.00" y2="317.80" stroke="#505050" stroke-width="0.8" />
<line x1="345.00" y1="314.20" x2="345.00" y2="317.80" stroke="#505050" stroke-width="0.8" />
<line x1="348.00" y1="314.20" x2="348.00" y2="317.80" stroke="#505050" stroke-width="0.8" />
<line x1="350.50" y1="314.20" x2="350.50" y2="317.80" stroke="#505050" stroke-width="0.8" />
<line x1="353.00" y1="314.20" x2="353.00" y2="317.80" stroke="#505050" stroke-width="0.8" />
<line x1="356.00" y1="314.20" x2="356.00" y2="317.80" stroke="#505050" stroke-width="0.8" />
<line x1="359.00" y1="314.20" x2="359.00" y2="317.80" stroke="#505050" stroke-width="0.8" />
<line x1="364.00" y1="314.20" x2="364.00" y2="317.80" stroke="#505050" stroke-width="0.8" />
<line x1="367.00" y1="314.20" x2="367.00" y2="317.80" stroke="#505050" stroke-width="0.8" />
<line x1="370.00" y1="314.20" x2="370.00" y2="317.80" stroke="#505050" stroke-width="0.8" />
<line x1="375.00" y1="314.20" x2="375.00" y2="317.80" stroke="#505050" stroke-width="0.8" />
<line x1="378.00" y1="314.20" x2="378.00" y2="317.80" stroke="#505050" stroke-width="0.8" />
<line x1="382.00" y1="314.20" x2="382.00" y2="317.80" stroke="#505050" stroke-width="0.8" />
<line x1="388.00" y1="323.40" x2="388.00" y2="327.00" stroke="#505050" stroke-width="0.8" />
<line x1="391.00" y1="323.40" x2="391.00" y2="327.00" stroke="#505050" stroke-width="0.8" />
<line x1="407.00" y1="336.50" x2="407.00" y2="340.10" stroke="#505050" stroke-width="0.8" />
<line x1="415.00" y1="336.50" x2="415.00" y2="340.10" stroke="#505050" stroke-width="0.8" />
<line x1="428.50" y1="336.50" x2="428.50" y2="340.10" stroke="#505050" stroke-width="0.8" />
<path d="M271.00 272.00H273.00V275.50H275.16V277.75H275.50V280.00H276.21V282.50H277.00V285.00H277.72V287.40H278.00V289.80H278.43V292.20H278.53V294.60H278.60V297.00H278.88V299.33H279.24V301.67H279.30V304.00H280.26V306.50H280.50V309.00H282.00V313.40H285.00V317.00H287.00V320.40H289.50V324.40H290.48V326.60H291.70V328.80H296.80V333.00H344.10H344.80V335.63H344.85V338.27H344.90V340.90H350.10V353.80H392.70" fill="none" stroke="#e5383b" stroke-width="0.8" stroke-linejoin="miter"/>
<line x1="308.50" y1="331.20" x2="308.50" y2="334.80" stroke="#e5383b" stroke-width="0.8" />
<line x1="319.80" y1="331.20" x2="319.80" y2="334.80" stroke="#e5383b" stroke-width="0.8" />
<line x1="321.20" y1="331.20" x2="321.20" y2="334.80" stroke="#e5383b" stroke-width="0.8" />
<line x1="327.80" y1="331.20" x2="327.80" y2="334.80" stroke="#e5383b" stroke-width="0.8" />
<line x1="336.00" y1="331.20" x2="336.00" y2="334.80" stroke="#e5383b" stroke-width="0.8" />
<line x1="345.50" y1="339.10" x2="345.50" y2="342.70" stroke="#e5383b" stroke-width="0.8" />
<line x1="347.30" y1="339.10" x2="347.30" y2="342.70" stroke="#e5383b" stroke-width="0.8" />
<line x1="355.00" y1="352.00" x2="355.00" y2="355.60" stroke="#e5383b" stroke-width="0.8" />
<line x1="364.50" y1="352.00" x2="364.50" y2="355.60" stroke="#e5383b" stroke-width="0.8" />
<line x1="383.50" y1="352.00" x2="383.50" y2="355.60" stroke="#e5383b" stroke-width="0.8" />
<line x1="391.00" y1="352.00" x2="391.00" y2="355.60" stroke="#e5383b" stroke-width="0.8" />
<line x1="384.60" y1="278.60" x2="397.80" y2="278.60" stroke="#505050" stroke-width="0.8" />
<line x1="391.20" y1="275.60" x2="391.20" y2="281.60" stroke="#505050" stroke-width="0.8" />
<text x="407.4" y="282.9" font-size="12.5" text-anchor="start" fill="#1a1a1a" font-weight="normal" >Low</text>
<line x1="384.60" y1="290.90" x2="397.80" y2="290.90" stroke="#e5383b" stroke-width="0.8" />
<line x1="391.20" y1="287.90" x2="391.20" y2="293.90" stroke="#e5383b" stroke-width="0.8" />
<text x="407.4" y="295.2" font-size="12.5" text-anchor="start" fill="#1a1a1a" font-weight="normal" >High</text>
<text x="273.1" y="387.5" font-size="12.3" text-anchor="start" fill="#1a1a1a" font-weight="normal" >Log-rank <tspan font-style="italic">p</tspan> = 0.039</text>
<text x="273.1" y="402.5" font-size="12.3" text-anchor="start" fill="#1a1a1a" font-weight="normal" >HR = 1.84 (1.02 - 3.33)</text>
<text x="570.8" y="265.2" font-size="12.3" text-anchor="middle" fill="#1a1a1a" font-weight="normal" >GSE20711</text>
<line x1="493.40" y1="279.60" x2="493.40" y2="409.50" stroke="#8a8a8a" stroke-width="0.9" />
<line x1="492.60" y1="409.50" x2="655.00" y2="409.50" stroke="#8a8a8a" stroke-width="0.9" />
<line x1="491.40" y1="285.20" x2="493.40" y2="285.20" stroke="#8a8a8a" stroke-width="0.8" />
<text x="490.5" y="293.6" font-size="12.3" text-anchor="end" fill="#1a1a1a" font-weight="normal" >1.00</text>
<line x1="491.40" y1="314.70" x2="493.40" y2="314.70" stroke="#8a8a8a" stroke-width="0.8" />
<text x="490.5" y="323.1" font-size="12.3" text-anchor="end" fill="#1a1a1a" font-weight="normal" >0.75</text>
<line x1="491.40" y1="344.40" x2="493.40" y2="344.40" stroke="#8a8a8a" stroke-width="0.8" />
<text x="490.5" y="352.8" font-size="12.3" text-anchor="end" fill="#1a1a1a" font-weight="normal" >0.50</text>
<line x1="491.40" y1="373.80" x2="493.40" y2="373.80" stroke="#8a8a8a" stroke-width="0.8" />
<text x="490.5" y="382.2" font-size="12.3" text-anchor="end" fill="#1a1a1a" font-weight="normal" >0.25</text>
<line x1="491.40" y1="403.50" x2="493.40" y2="403.50" stroke="#8a8a8a" stroke-width="0.8" />
<text x="490.5" y="411.9" font-size="12.3" text-anchor="end" fill="#1a1a1a" font-weight="normal" >0.00</text>
<line x1="500.50" y1="409.50" x2="500.50" y2="411.50" stroke="#8a8a8a" stroke-width="0.8" />
<text x="501.1" y="427.8" font-size="12.3" text-anchor="middle" fill="#1a1a1a" font-weight="normal" >0</text>
<line x1="537.80" y1="409.50" x2="537.80" y2="411.50" stroke="#8a8a8a" stroke-width="0.8" />
<text x="538.4" y="427.8" font-size="12.3" text-anchor="middle" fill="#1a1a1a" font-weight="normal" >40</text>
<line x1="574.60" y1="409.50" x2="574.60" y2="411.50" stroke="#8a8a8a" stroke-width="0.8" />
<text x="575.2" y="427.8" font-size="12.3" text-anchor="middle" fill="#1a1a1a" font-weight="normal" >80</text>
<line x1="611.40" y1="409.50" x2="611.40" y2="411.50" stroke="#8a8a8a" stroke-width="0.8" />
<text x="612.0" y="427.8" font-size="12.3" text-anchor="middle" fill="#1a1a1a" font-weight="normal" >120</text>
<line x1="647.60" y1="409.50" x2="647.60" y2="411.50" stroke="#8a8a8a" stroke-width="0.8" />
<text x="648.2" y="427.8" font-size="12.3" text-anchor="middle" fill="#1a1a1a" font-weight="normal" >160</text>
<text x="579.2" y="450.2" font-size="12.3" text-anchor="middle" fill="#1a1a1a" font-weight="normal"  textLength="80.5" lengthAdjust="spacingAndGlyphs">Time (months)</text>
<defs><clipPath id="gclip"><rect x="455" y="230" width="40" height="230"/></clipPath></defs>
<text x="459.6" y="347.0" font-size="12.3" text-anchor="middle" fill="#1a1a1a" font-weight="normal" transform="rotate(-90 459.6 347)" textLength="144" lengthAdjust="spacingAndGlyphs">Overall survival probability</text>
<path d="M500.50 285.20H537.30V287.90H545.50V290.50H552.00V293.60H556.00V296.30H559.60V298.90H565.50V302.30H581.20V307.30H625.30V331.20H650.30" fill="none" stroke="#6cc24a" stroke-width="0.9" stroke-linejoin="miter"/>
<line x1="512.00" y1="283.50" x2="512.00" y2="286.90" stroke="#6cc24a" stroke-width="0.9" />
<line x1="521.00" y1="283.50" x2="521.00" y2="286.90" stroke="#6cc24a" stroke-width="0.9" />
<line x1="566.50" y1="300.60" x2="566.50" y2="304.00" stroke="#6cc24a" stroke-width="0.9" />
<line x1="568.00" y1="300.60" x2="568.00" y2="304.00" stroke="#6cc24a" stroke-width="0.9" />
<line x1="570.50" y1="300.60" x2="570.50" y2="304.00" stroke="#6cc24a" stroke-width="0.9" />
<line x1="573.00" y1="300.60" x2="573.00" y2="304.00" stroke="#6cc24a" stroke-width="0.9" />
<line x1="579.00" y1="300.60" x2="579.00" y2="304.00" stroke="#6cc24a" stroke-width="0.9" />
<line x1="583.00" y1="305.60" x2="583.00" y2="309.00" stroke="#6cc24a" stroke-width="0.9" />
<line x1="587.00" y1="305.60" x2="587.00" y2="309.00" stroke="#6cc24a" stroke-width="0.9" />
<line x1="589.00" y1="305.60" x2="589.00" y2="309.00" stroke="#6cc24a" stroke-width="0.9" />
<line x1="591.00" y1="305.60" x2="591.00" y2="309.00" stroke="#6cc24a" stroke-width="0.9" />
<line x1="593.00" y1="305.60" x2="593.00" y2="309.00" stroke="#6cc24a" stroke-width="0.9" />
<line x1="596.00" y1="305.60" x2="596.00" y2="309.00" stroke="#6cc24a" stroke-width="0.9" />
<line x1="598.00" y1="305.60" x2="598.00" y2="309.00" stroke="#6cc24a" stroke-width="0.9" />
<line x1="601.00" y1="305.60" x2="601.00" y2="309.00" stroke="#6cc24a" stroke-width="0.9" />
<line x1="604.00" y1="305.60" x2="604.00" y2="309.00" stroke="#6cc24a" stroke-width="0.9" />
<line x1="608.00" y1="305.60" x2="608.00" y2="309.00" stroke="#6cc24a" stroke-width="0.9" />
<line x1="637.00" y1="329.50" x2="637.00" y2="332.90" stroke="#6cc24a" stroke-width="0.9" />
<line x1="649.50" y1="329.50" x2="649.50" y2="332.90" stroke="#6cc24a" stroke-width="0.9" />
<line x1="651.50" y1="329.50" x2="651.50" y2="332.90" stroke="#6cc24a" stroke-width="0.9" />
<path d="M500.50 285.20H509.70V287.90H516.50V291.00H522.00V295.00H527.30V298.40H532.70V301.50H539.00V304.70H540.80V306.80H542.00V309.40H549.10V312.60H552.50V316.00H554.50V319.90H557.50V322.50H560.00V325.70H571.50V329.90H587.70V337.50H654.70" fill="none" stroke="#e2433a" stroke-width="0.9" stroke-linejoin="miter"/>
<line x1="559.00" y1="320.80" x2="559.00" y2="324.20" stroke="#e2433a" stroke-width="0.9" />
<line x1="568.00" y1="324.00" x2="568.00" y2="327.40" stroke="#e2433a" stroke-width="0.9" />
<line x1="570.50" y1="324.00" x2="570.50" y2="327.40" stroke="#e2433a" stroke-width="0.9" />
<line x1="573.50" y1="328.20" x2="573.50" y2="331.60" stroke="#e2433a" stroke-width="0.9" />
<line x1="575.50" y1="328.20" x2="575.50" y2="331.60" stroke="#e2433a" stroke-width="0.9" />
<line x1="577.50" y1="328.20" x2="577.50" y2="331.60" stroke="#e2433a" stroke-width="0.9" />
<line x1="579.50" y1="328.20" x2="579.50" y2="331.60" stroke="#e2433a" stroke-width="0.9" />
<line x1="582.00" y1="328.20" x2="582.00" y2="331.60" stroke="#e2433a" stroke-width="0.9" />
<line x1="584.50" y1="328.20" x2="584.50" y2="331.60" stroke="#e2433a" stroke-width="0.9" />
<line x1="586.50" y1="328.20" x2="586.50" y2="331.60" stroke="#e2433a" stroke-width="0.9" />
<line x1="591.00" y1="335.80" x2="591.00" y2="339.20" stroke="#e2433a" stroke-width="0.9" />
<line x1="598.00" y1="335.80" x2="598.00" y2="339.20" stroke="#e2433a" stroke-width="0.9" />
<line x1="609.00" y1="335.80" x2="609.00" y2="339.20" stroke="#e2433a" stroke-width="0.9" />
<line x1="611.00" y1="335.80" x2="611.00" y2="339.20" stroke="#e2433a" stroke-width="0.9" />
<line x1="624.00" y1="335.80" x2="624.00" y2="339.20" stroke="#e2433a" stroke-width="0.9" />
<line x1="641.00" y1="335.80" x2="641.00" y2="339.20" stroke="#e2433a" stroke-width="0.9" />
<line x1="649.00" y1="335.80" x2="649.00" y2="339.20" stroke="#e2433a" stroke-width="0.9" />
<line x1="654.00" y1="335.80" x2="654.00" y2="339.20" stroke="#e2433a" stroke-width="0.9" />
<line x1="616.00" y1="278.30" x2="628.90" y2="278.30" stroke="#6cc24a" stroke-width="0.9" />
<line x1="622.40" y1="275.50" x2="622.40" y2="281.10" stroke="#6cc24a" stroke-width="0.9" />
<text x="633.6" y="284.9" font-size="12.3" text-anchor="start" fill="#1a1a1a" font-weight="normal" >Low</text>
<line x1="616.00" y1="288.30" x2="628.90" y2="288.30" stroke="#e2433a" stroke-width="0.9" />
<line x1="622.40" y1="285.50" x2="622.40" y2="291.10" stroke="#e2433a" stroke-width="0.9" />
<text x="633.6" y="296.5" font-size="12.3" text-anchor="start" fill="#1a1a1a" font-weight="normal" >High</text>
<text x="498.4" y="388.8" font-size="12.3" text-anchor="start" fill="#1a1a1a" font-weight="normal" >Log-rank <tspan font-style="italic">p</tspan> = 0.0331</text>
<text x="498.4" y="403.0" font-size="12.3" text-anchor="start" fill="#1a1a1a" font-weight="normal" >HR = 2.5003 (1.08 - 5.81)</text>
<line x1="72.13" y1="697.50" x2="72.13" y2="831.60" stroke="#e8e8e8" stroke-width="0.9" />
<line x1="55.40" y1="818.25" x2="215.10" y2="818.25" stroke="#e8e8e8" stroke-width="0.9" />
<line x1="87.96" y1="697.50" x2="87.96" y2="831.60" stroke="#e8e8e8" stroke-width="0.9" />
<line x1="55.40" y1="804.90" x2="215.10" y2="804.90" stroke="#e8e8e8" stroke-width="0.9" />
<line x1="103.79" y1="697.50" x2="103.79" y2="831.60" stroke="#e8e8e8" stroke-width="0.9" />
<line x1="55.40" y1="791.55" x2="215.10" y2="791.55" stroke="#e8e8e8" stroke-width="0.9" />
<line x1="119.62" y1="697.50" x2="119.62" y2="831.60" stroke="#e8e8e8" stroke-width="0.9" />
<line x1="55.40" y1="778.20" x2="215.10" y2="778.20" stroke="#e8e8e8" stroke-width="0.9" />
<line x1="135.45" y1="697.50" x2="135.45" y2="831.60" stroke="#e8e8e8" stroke-width="0.9" />
<line x1="55.40" y1="764.85" x2="215.10" y2="764.85" stroke="#e8e8e8" stroke-width="0.9" />
<line x1="151.28" y1="697.50" x2="151.28" y2="831.60" stroke="#e8e8e8" stroke-width="0.9" />
<line x1="55.40" y1="751.50" x2="215.10" y2="751.50" stroke="#e8e8e8" stroke-width="0.9" />
<line x1="167.11" y1="697.50" x2="167.11" y2="831.60" stroke="#e8e8e8" stroke-width="0.9" />
<line x1="55.40" y1="738.15" x2="215.10" y2="738.15" stroke="#e8e8e8" stroke-width="0.9" />
<line x1="182.94" y1="697.50" x2="182.94" y2="831.60" stroke="#e8e8e8" stroke-width="0.9" />
<line x1="55.40" y1="724.80" x2="215.10" y2="724.80" stroke="#e8e8e8" stroke-width="0.9" />
<line x1="198.77" y1="697.50" x2="198.77" y2="831.60" stroke="#e8e8e8" stroke-width="0.9" />
<line x1="55.40" y1="711.45" x2="215.10" y2="711.45" stroke="#e8e8e8" stroke-width="0.9" />
<rect x="130.50" y="795.00" width="84.00" height="36.20" fill="#fff" />
<rect x="121.00" y="811.00" width="94.00" height="20.20" fill="#fff" />
<line x1="56.30" y1="831.60" x2="214.60" y2="698.10" stroke="#b0b0b0" stroke-width="0.8" />
<path d="M55.9 831.6V830.27H56.16V828.94H56.19V827.61H55.77V826.28H55.82V824.95H56.22V823.62H56.20V822.28H56.20V820.95H56.05V819.62H56.23V818.29H56.26V816.96H56.28V815.63H56.10V814.30H56.30V812.92H56.29V811.54H56.50V810.16H56.68V808.79H56.70V807.41H56.54V806.03H56.53V804.65H56.48V803.27H56.41V801.89H56.45V800.51H56.71V799.14H56.68V797.76H56.75V796.38H57.05V795.00H56.90V793.57H56.95V792.14H56.81V790.71H56.72V789.28H56.89V787.85H56.82V786.42H57.03V784.99H57.29V783.56H57.15V782.13H56.92V780.70H57.10V779.36H57.31V778.03H57.34V776.69H57.49V775.35H57.48V774.01H57.56V772.67H57.40V771.34H57.78V770.00H57.60V769.50H58.10V768.10H58.28V766.70H58.31V765.30H58.23V763.90H58.32V762.50H58.35V761.10H58.61V759.70H58.45V758.30H58.50V757.00H58.71V755.70H59.25V754.40H59.54V753.10H59.60V751.80H59.90V750.80H61.41V749.80H62.50V748.32H62.99V746.85H63.36V745.38H63.91V743.90H64.50V742.25H65.93V740.60H67.70V739.12H68.26V737.65H69.26V736.18H69.63V734.70H70.40V733.25H71.80V731.80H73.00V730.80H74.54V729.80H76.14V728.80H77.60V727.47H78.17V726.13H78.79V724.80H79.60V722.85H81.42V720.90H82.80V720.23H83.92V719.57H85.63V718.90H86.80V718.40H88.30V717.90H89.25V717.40H90.82V716.90H92.00V715.60H93.73V714.30H95.30V713.90H96.62V713.50H98.41V713.10H99.48V712.70H101.15V712.30H102.60V711.89H103.79V711.47H105.08V711.06H106.73V710.64H107.82V710.23H109.28V709.81H110.25V709.40H111.80V709.16H112.95V708.91H114.51V708.67H115.53V708.43H117.28V708.19H118.13V707.94H119.80V707.70H121.00V707.48H122.39V707.27H124.19V707.05H125.38V706.83H126.91V706.62H128.68V706.40H130.10V705.97H131.20V705.53H133.01V705.10H134.10V705.10H135.34V705.10H136.97V705.10H138.58V705.10H140.00V704.99H141.19V704.88H142.69V704.76H143.93V704.65H145.52V704.54H147.07V704.43H148.44V704.31H149.91V704.20H151.10V704.00H152.68V703.80H154.00V703.60H155.29V703.40H156.56V703.20H158.18V703.00H159.41V702.80H160.70V702.60H162.27V702.40H163.89V702.20H164.91V702.00H166.54V701.80H167.90V701.73H169.25V701.67H170.40V701.60H172.15V701.53H173.14V701.47H174.65V701.40H175.90V701.33H177.04V701.27H178.65V701.20H179.78V701.13H181.08V701.07H182.41V701.00H183.81V700.93H185.12V700.87H186.73V700.80H188.00V700.67H189.59V700.55H190.91V700.42H192.28V700.30H193.25V700.17H194.70V700.05H195.95V699.92H197.46V699.80H198.82V699.67H200.26V699.55H201.55V699.42H202.67V699.30H204.10V699.17H205.50V699.05H206.58V698.92H207.94V698.80H209.47V698.67H210.67V698.55H212.32V698.42H213.43V698.30H214.90" fill="none" stroke="#5bbcc8" stroke-width="1.1"/>
<line x1="55.40" y1="697.30" x2="215.10" y2="697.30" stroke="#555" stroke-width="1.0" />
<line x1="215.10" y1="697.30" x2="215.10" y2="831.60" stroke="#555" stroke-width="1.0" />
<line x1="55.40" y1="696.80" x2="55.40" y2="832.20" stroke="#111" stroke-width="1.3" />
<line x1="54.80" y1="831.60" x2="215.60" y2="831.60" stroke="#111" stroke-width="1.3" />
<line x1="52.60" y1="831.60" x2="55.40" y2="831.60" stroke="#111" stroke-width="1.0" />
<text x="51.5" y="835.9" font-size="12.3" text-anchor="end" fill="#1a1a1a" font-weight="normal" >0.0</text>
<line x1="56.30" y1="831.60" x2="56.30" y2="834.40" stroke="#111" stroke-width="1.0" />
<text x="56.3" y="846.6" font-size="12.3" text-anchor="middle" fill="#1a1a1a" font-weight="normal" >0.0</text>
<line x1="52.60" y1="804.90" x2="55.40" y2="804.90" stroke="#111" stroke-width="1.0" />
<text x="51.5" y="809.2" font-size="12.3" text-anchor="end" fill="#1a1a1a" font-weight="normal" >0.2</text>
<line x1="87.96" y1="831.60" x2="87.96" y2="834.40" stroke="#111" stroke-width="1.0" />
<text x="88.0" y="846.6" font-size="12.3" text-anchor="middle" fill="#1a1a1a" font-weight="normal" >0.2</text>
<line x1="52.60" y1="778.20" x2="55.40" y2="778.20" stroke="#111" stroke-width="1.0" />
<text x="51.5" y="782.5" font-size="12.3" text-anchor="end" fill="#1a1a1a" font-weight="normal" >0.4</text>
<line x1="119.62" y1="831.60" x2="119.62" y2="834.40" stroke="#111" stroke-width="1.0" />
<text x="119.6" y="846.6" font-size="12.3" text-anchor="middle" fill="#1a1a1a" font-weight="normal" >0.4</text>
<line x1="52.60" y1="751.50" x2="55.40" y2="751.50" stroke="#111" stroke-width="1.0" />
<text x="51.5" y="755.8" font-size="12.3" text-anchor="end" fill="#1a1a1a" font-weight="normal" >0.6</text>
<line x1="151.28" y1="831.60" x2="151.28" y2="834.40" stroke="#111" stroke-width="1.0" />
<text x="151.3" y="846.6" font-size="12.3" text-anchor="middle" fill="#1a1a1a" font-weight="normal" >0.6</text>
<line x1="52.60" y1="724.80" x2="55.40" y2="724.80" stroke="#111" stroke-width="1.0" />
<text x="51.5" y="729.1" font-size="12.3" text-anchor="end" fill="#1a1a1a" font-weight="normal" >0.8</text>
<line x1="182.94" y1="831.60" x2="182.94" y2="834.40" stroke="#111" stroke-width="1.0" />
<text x="182.9" y="846.6" font-size="12.3" text-anchor="middle" fill="#1a1a1a" font-weight="normal" >0.8</text>
<line x1="52.60" y1="698.10" x2="55.40" y2="698.10" stroke="#111" stroke-width="1.0" />
<text x="51.5" y="702.4" font-size="12.3" text-anchor="end" fill="#1a1a1a" font-weight="normal" >1.0</text>
<line x1="214.60" y1="831.60" x2="214.60" y2="834.40" stroke="#111" stroke-width="1.0" />
<text x="214.6" y="846.6" font-size="12.3" text-anchor="middle" fill="#1a1a1a" font-weight="normal" >1.0</text>
<text x="132.3" y="860.0" font-size="12.3" text-anchor="middle" fill="#1a1a1a" font-weight="normal"  textLength="103.4" lengthAdjust="spacingAndGlyphs">1-Specificity (FPR)</text>
<text x="22.6" y="763.2" font-size="12.3" text-anchor="middle" fill="#1a1a1a" font-weight="normal" transform="rotate(-90 22.6 763.2)" textLength="92.3" lengthAdjust="spacingAndGlyphs">Sensitivity (TPR)</text>
<text x="208.6" y="795.0" font-size="11.9" text-anchor="end" fill="#1a1a1a" font-weight="normal" >DHX9</text>
<text x="208.6" y="810.1" font-size="12.2" text-anchor="end" fill="#1a1a1a" font-weight="normal" >AUC: 0.900</text>
<text x="208.6" y="824.5" font-size="12.2" text-anchor="end" fill="#1a1a1a" font-weight="normal" >CI: 0.882-0.917</text>
<defs><filter id="bb" x="-20%" y="-50%" width="140%" height="200%"><feGaussianBlur stdDeviation="1.1 0.55"/></filter><filter id="bb2" x="-20%" y="-80%" width="140%" height="260%"><feGaussianBlur stdDeviation="1.2 0.7"/></filter><filter id="bs" x="-20%" y="-50%" width="140%" height="200%"><feGaussianBlur stdDeviation="2.2 2"/></filter></defs>
<text x="287.7" y="470.4" font-size="12.3" text-anchor="middle" fill="#1a1a1a" font-weight="normal" >T</text>
<text x="309.3" y="470.4" font-size="12.3" text-anchor="middle" fill="#1a1a1a" font-weight="normal" >N</text>
<text x="331.0" y="470.4" font-size="12.3" text-anchor="middle" fill="#1a1a1a" font-weight="normal" >T</text>
<text x="353.1" y="470.4" font-size="12.3" text-anchor="middle" fill="#1a1a1a" font-weight="normal" >N</text>
<text x="371.0" y="470.4" font-size="12.3" text-anchor="middle" fill="#1a1a1a" font-weight="normal" >T</text>
<text x="394.1" y="470.4" font-size="12.3" text-anchor="middle" fill="#1a1a1a" font-weight="normal" >N</text>
<text x="426.2" y="470.4" font-size="12.3" text-anchor="middle" fill="#1a1a1a" font-weight="normal" >T</text>
<text x="449.0" y="470.4" font-size="12.3" text-anchor="middle" fill="#1a1a1a" font-weight="normal" >N</text>
<text x="471.2" y="470.4" font-size="12.3" text-anchor="middle" fill="#1a1a1a" font-weight="normal" >T</text>
<text x="493.2" y="470.4" font-size="12.3" text-anchor="middle" fill="#1a1a1a" font-weight="normal" >N</text>
<text x="511.2" y="470.4" font-size="12.3" text-anchor="middle" fill="#1a1a1a" font-weight="normal" >T</text>
<text x="533.0" y="470.4" font-size="12.3" text-anchor="middle" fill="#1a1a1a" font-weight="normal" >N</text>
<text x="271.0" y="494.5" font-size="12.3" text-anchor="end" fill="#1a1a1a" font-weight="normal" >DHX9</text>
<text x="271.0" y="534.0" font-size="12.3" text-anchor="end" fill="#1a1a1a" font-weight="normal" >GAPDH</text>
<text x="271.0" y="570.0" font-size="12.3" text-anchor="end" fill="#1a1a1a" font-weight="normal" >DHX9</text>
<text x="271.0" y="606.3" font-size="12.3" text-anchor="end" fill="#1a1a1a" font-weight="normal" >GAPDH</text>
<defs><clipPath id="bc276_477"><rect x="276.4" y="477.2" width="132.0" height="31.900000000000034" rx="0.8"/></clipPath></defs>
<g clip-path="url(#bc276_477)">
<rect x="276.40" y="477.20" width="132.00" height="31.90" fill="#f4f4f4" />
<rect x="279.0" y="478.2" width="17.2" height="29.9" fill="#000" opacity="0.07" filter="url(#bs)"/>
<rect x="278.7" y="489.1" width="17.8" height="2.2" rx="1.1" fill="#000" opacity="0.85" filter="url(#bb)"/>
<rect x="278.7" y="492.0" width="17.8" height="2.2" rx="1.1" fill="#000" opacity="0.8" filter="url(#bb)"/>
<rect x="278.7" y="497.0" width="17.8" height="3.0" rx="1.5" fill="#000" opacity="0.1" filter="url(#bb)"/>
<rect x="301.2" y="478.2" width="16.1" height="29.9" fill="#000" opacity="0.07" filter="url(#bs)"/>
<rect x="300.9" y="489.6" width="16.7" height="2.0" rx="1.0" fill="#000" opacity="0.35" filter="url(#bb)"/>
<rect x="300.9" y="492.5" width="16.7" height="2.0" rx="1.0" fill="#000" opacity="0.45" filter="url(#bb)"/>
<rect x="300.9" y="497.0" width="16.7" height="3.0" rx="1.5" fill="#000" opacity="0.06" filter="url(#bb)"/>
<rect x="321.3" y="478.2" width="17.6" height="29.9" fill="#000" opacity="0.07" filter="url(#bs)"/>
<rect x="321.0" y="487.8" width="18.2" height="3.5" rx="1.8" fill="#000" opacity="0.95" filter="url(#bb)"/>
<rect x="321.0" y="491.9" width="18.2" height="2.5" rx="1.2" fill="#000" opacity="0.9" filter="url(#bb)"/>
<rect x="321.0" y="497.0" width="18.2" height="3.0" rx="1.5" fill="#000" opacity="0.12" filter="url(#bb)"/>
<rect x="342.5" y="478.2" width="18.5" height="29.9" fill="#000" opacity="0.07" filter="url(#bs)"/>
<rect x="342.2" y="489.4" width="19.1" height="1.8" rx="0.9" fill="#000" opacity="0.3" filter="url(#bb)"/>
<rect x="342.2" y="491.8" width="19.1" height="2.6" rx="1.3" fill="#000" opacity="0.9" filter="url(#bb)"/>
<rect x="342.2" y="497.0" width="19.1" height="3.0" rx="1.5" fill="#000" opacity="0.15" filter="url(#bb)"/>
<rect x="363.6" y="478.2" width="16.2" height="29.9" fill="#000" opacity="0.07" filter="url(#bs)"/>
<rect x="363.3" y="489.1" width="16.8" height="1.8" rx="0.9" fill="#000" opacity="0.3" filter="url(#bb)"/>
<rect x="363.3" y="491.8" width="16.8" height="2.6" rx="1.3" fill="#000" opacity="0.92" filter="url(#bb)"/>
<rect x="363.3" y="497.0" width="16.8" height="3.0" rx="1.5" fill="#000" opacity="0.15" filter="url(#bb)"/>
<rect x="382.8" y="478.2" width="22.2" height="29.9" fill="#000" opacity="0.07" filter="url(#bs)"/>
<rect x="382.5" y="489.8" width="22.8" height="1.5" rx="0.8" fill="#000" opacity="0.1" filter="url(#bb)"/>
<rect x="382.5" y="492.4" width="22.8" height="1.5" rx="0.8" fill="#000" opacity="0.12" filter="url(#bb)"/>
</g>
<rect x="276.4" y="477.2" width="132.0" height="31.900000000000034" rx="0.8" fill="none" stroke="#383838" stroke-width="1.05"/>
<defs><clipPath id="bc276_513"><rect x="276.4" y="513.8" width="132.0" height="31.40000000000009" rx="0.8"/></clipPath></defs>
<g clip-path="url(#bc276_513)">
<rect x="276.40" y="513.80" width="132.00" height="31.40" fill="#f8f8f8" />
<ellipse cx="287.6" cy="529.1" rx="9.2" ry="2.0" fill="#000" opacity="0.8" filter="url(#bb2)"/>
<ellipse cx="309.2" cy="529.1" rx="8.7" ry="1.9" fill="#000" opacity="0.75" filter="url(#bb2)"/>
<ellipse cx="330.1" cy="529.1" rx="9.4" ry="2.5" fill="#000" opacity="0.95" filter="url(#bb2)"/>
<ellipse cx="351.8" cy="529.1" rx="9.8" ry="2.7" fill="#000" opacity="0.97" filter="url(#bb2)"/>
<ellipse cx="371.7" cy="529.1" rx="8.7" ry="2.6" fill="#000" opacity="0.97" filter="url(#bb2)"/>
<ellipse cx="393.9" cy="529.6" rx="11.7" ry="1.7" fill="#000" opacity="0.6" filter="url(#bb2)"/>
</g>
<rect x="276.4" y="513.8" width="132.0" height="31.40000000000009" rx="0.8" fill="none" stroke="#383838" stroke-width="1.05"/>
<defs><clipPath id="bc276_550"><rect x="276.4" y="550" width="132.0" height="31.299999999999955" rx="0.8"/></clipPath></defs>
<g clip-path="url(#bc276_550)">
<rect x="276.40" y="550.00" width="132.00" height="31.30" fill="#f4f4f4" />
<rect x="322.5" y="549.0" width="15.5" height="17.0" fill="#000" opacity="0.2" filter="url(#bs)"/>
<rect x="384.0" y="552.0" width="20.0" height="16.0" fill="#000" opacity="0.1" filter="url(#bs)"/>
<rect x="279.0" y="551.0" width="17.2" height="29.3" fill="#000" opacity="0.07" filter="url(#bs)"/>
<rect x="278.7" y="562.6" width="17.8" height="1.8" rx="0.9" fill="#000" opacity="0.55" filter="url(#bb)"/>
<rect x="278.7" y="565.1" width="17.8" height="2.2" rx="1.1" fill="#000" opacity="0.75" filter="url(#bb)"/>
<rect x="278.7" y="569.0" width="17.8" height="2.0" rx="1.0" fill="#000" opacity="0.12" filter="url(#bb)"/>
<rect x="301.2" y="551.0" width="16.1" height="29.3" fill="#000" opacity="0.07" filter="url(#bs)"/>
<rect x="300.9" y="562.8" width="16.7" height="1.6" rx="0.8" fill="#000" opacity="0.35" filter="url(#bb)"/>
<rect x="300.9" y="566.1" width="16.7" height="2.3" rx="1.1" fill="#000" opacity="0.7" filter="url(#bb)"/>
<rect x="300.9" y="569.0" width="16.7" height="2.0" rx="1.0" fill="#000" opacity="0.1" filter="url(#bb)"/>
<rect x="321.3" y="551.0" width="17.6" height="29.3" fill="#000" opacity="0.07" filter="url(#bs)"/>
<rect x="321.0" y="562.0" width="18.2" height="4.5" rx="2.2" fill="#000" opacity="0.97" filter="url(#bb)"/>
<rect x="321.0" y="568.0" width="18.2" height="2.0" rx="1.0" fill="#000" opacity="0.3" filter="url(#bb)"/>
<rect x="342.5" y="551.0" width="18.5" height="29.3" fill="#000" opacity="0.07" filter="url(#bs)"/>
<rect x="342.2" y="563.2" width="19.1" height="1.5" rx="0.8" fill="#000" opacity="0.2" filter="url(#bb)"/>
<rect x="342.2" y="565.7" width="19.1" height="3.0" rx="1.5" fill="#000" opacity="0.8" filter="url(#bb)"/>
<rect x="342.2" y="570.0" width="19.1" height="2.0" rx="1.0" fill="#000" opacity="0.15" filter="url(#bb)"/>
<rect x="363.6" y="551.0" width="16.2" height="29.3" fill="#000" opacity="0.07" filter="url(#bs)"/>
<rect x="363.3" y="563.8" width="16.8" height="1.5" rx="0.8" fill="#000" opacity="0.25" filter="url(#bb)"/>
<rect x="363.3" y="567.4" width="16.8" height="2.2" rx="1.1" fill="#000" opacity="0.8" filter="url(#bb)"/>
<rect x="363.3" y="570.0" width="16.8" height="2.0" rx="1.0" fill="#000" opacity="0.1" filter="url(#bb)"/>
<rect x="382.8" y="551.0" width="22.2" height="29.3" fill="#000" opacity="0.07" filter="url(#bs)"/>
<rect x="382.5" y="564.5" width="22.8" height="4.6" rx="2.3" fill="#000" opacity="0.97" filter="url(#bb)"/>
<rect x="382.5" y="568.5" width="22.8" height="3.0" rx="1.5" fill="#000" opacity="0.35" filter="url(#bb)"/>
</g>
<rect x="276.4" y="550" width="132.0" height="31.299999999999955" rx="0.8" fill="none" stroke="#383838" stroke-width="1.05"/>
<defs><clipPath id="bc276_586"><rect x="276.4" y="586" width="132.0" height="31" rx="0.8"/></clipPath></defs>
<g clip-path="url(#bc276_586)">
<rect x="276.40" y="586.00" width="132.00" height="31.00" fill="#f8f8f8" />
<ellipse cx="287.6" cy="600.8" rx="9.2" ry="2.3" fill="#000" opacity="0.95" filter="url(#bb2)"/>
<ellipse cx="309.2" cy="600.6" rx="8.7" ry="2.3" fill="#000" opacity="0.95" filter="url(#bb2)"/>
<ellipse cx="330.1" cy="601.0" rx="9.4" ry="1.7" fill="#000" opacity="0.7" filter="url(#bb2)"/>
<ellipse cx="351.8" cy="600.6" rx="9.8" ry="1.8" fill="#000" opacity="0.75" filter="url(#bb2)"/>
<ellipse cx="371.7" cy="600.6" rx="8.7" ry="2.3" fill="#000" opacity="0.93" filter="url(#bb2)"/>
<ellipse cx="393.9" cy="601.0" rx="11.7" ry="1.7" fill="#000" opacity="0.75" filter="url(#bb2)"/>
</g>
<rect x="276.4" y="586" width="132.0" height="31" rx="0.8" fill="none" stroke="#383838" stroke-width="1.05"/>
<defs><clipPath id="bc413_477"><rect x="413.5" y="477.5" width="131.79999999999995" height="31.69999999999999" rx="0.8"/></clipPath></defs>
<g clip-path="url(#bc413_477)">
<rect x="413.50" y="477.50" width="131.80" height="31.70" fill="#f4f4f4" />
<rect x="417.3" y="478.5" width="17.7" height="29.7" fill="#000" opacity="0.07" filter="url(#bs)"/>
<rect x="417.0" y="485.8" width="18.3" height="1.8" rx="0.9" fill="#000" opacity="0.5" filter="url(#bb)"/>
<rect x="417.0" y="488.9" width="18.3" height="2.2" rx="1.1" fill="#000" opacity="0.85" filter="url(#bb)"/>
<rect x="417.0" y="494.9" width="18.3" height="2.4" rx="1.2" fill="#000" opacity="0.8" filter="url(#bb)"/>
<rect x="439.2" y="478.5" width="17.1" height="29.7" fill="#000" opacity="0.07" filter="url(#bs)"/>
<rect x="438.9" y="484.3" width="17.7" height="1.8" rx="0.9" fill="#000" opacity="0.45" filter="url(#bb)"/>
<rect x="438.9" y="488.3" width="17.7" height="2.0" rx="1.0" fill="#000" opacity="0.65" filter="url(#bb)"/>
<rect x="438.9" y="494.0" width="17.7" height="2.0" rx="1.0" fill="#000" opacity="0.15" filter="url(#bb)"/>
<rect x="459.5" y="478.5" width="17.1" height="29.7" fill="#000" opacity="0.07" filter="url(#bs)"/>
<rect x="459.2" y="488.0" width="17.7" height="2.6" rx="1.3" fill="#000" opacity="0.92" filter="url(#bb)"/>
<rect x="459.2" y="495.9" width="17.7" height="2.4" rx="1.2" fill="#000" opacity="0.8" filter="url(#bb)"/>
<rect x="480.5" y="478.5" width="17.5" height="29.7" fill="#000" opacity="0.07" filter="url(#bs)"/>
<rect x="480.2" y="487.2" width="18.1" height="1.6" rx="0.8" fill="#000" opacity="0.2" filter="url(#bb)"/>
<rect x="480.2" y="490.3" width="18.1" height="2.2" rx="1.1" fill="#000" opacity="0.8" filter="url(#bb)"/>
<rect x="480.2" y="496.3" width="18.1" height="2.4" rx="1.2" fill="#000" opacity="0.25" filter="url(#bb)"/>
<rect x="501.3" y="478.5" width="19.3" height="29.7" fill="#000" opacity="0.07" filter="url(#bs)"/>
<rect x="501.0" y="486.9" width="19.9" height="2.0" rx="1.0" fill="#000" opacity="0.45" filter="url(#bb)"/>
<rect x="501.0" y="491.0" width="19.9" height="3.2" rx="1.6" fill="#000" opacity="0.97" filter="url(#bb)"/>
<rect x="501.0" y="497.2" width="19.9" height="2.5" rx="1.2" fill="#000" opacity="0.2" filter="url(#bb)"/>
<rect x="523.0" y="478.5" width="18.0" height="29.7" fill="#000" opacity="0.07" filter="url(#bs)"/>
<rect x="522.7" y="489.7" width="18.6" height="1.6" rx="0.8" fill="#000" opacity="0.35" filter="url(#bb)"/>
<rect x="522.7" y="492.9" width="18.6" height="2.6" rx="1.3" fill="#000" opacity="0.9" filter="url(#bb)"/>
<rect x="522.7" y="497.5" width="18.6" height="2.0" rx="1.0" fill="#000" opacity="0.12" filter="url(#bb)"/>
</g>
<rect x="413.5" y="477.5" width="131.79999999999995" height="31.69999999999999" rx="0.8" fill="none" stroke="#383838" stroke-width="1.05"/>
<defs><clipPath id="bc413_513"><rect x="413.5" y="513.9" width="131.79999999999995" height="31.600000000000023" rx="0.8"/></clipPath></defs>
<g clip-path="url(#bc413_513)">
<rect x="413.50" y="513.90" width="131.80" height="31.60" fill="#f8f8f8" />
<ellipse cx="426.1" cy="528.6" rx="9.4" ry="2.2" fill="#000" opacity="0.97" filter="url(#bb2)"/>
<ellipse cx="447.8" cy="529.3" rx="9.2" ry="2.1" fill="#000" opacity="0.9" filter="url(#bb2)"/>
<ellipse cx="468.1" cy="529.3" rx="9.2" ry="2.2" fill="#000" opacity="0.93" filter="url(#bb2)"/>
<ellipse cx="489.2" cy="529.3" rx="9.3" ry="2.2" fill="#000" opacity="0.93" filter="url(#bb2)"/>
<ellipse cx="511.0" cy="529.3" rx="10.3" ry="2.1" fill="#000" opacity="0.9" filter="url(#bb2)"/>
<ellipse cx="532.0" cy="529.1" rx="9.6" ry="2.1" fill="#000" opacity="0.9" filter="url(#bb2)"/>
</g>
<rect x="413.5" y="513.9" width="131.79999999999995" height="31.600000000000023" rx="0.8" fill="none" stroke="#383838" stroke-width="1.05"/>
<defs><clipPath id="bc413_550"><rect x="413.2" y="550" width="132.59999999999997" height="31" rx="0.8"/></clipPath></defs>
<g clip-path="url(#bc413_550)">
<rect x="413.20" y="550.00" width="132.60" height="31.00" fill="#f4f4f4" />
<rect x="417.3" y="551.0" width="17.7" height="29.0" fill="#000" opacity="0.06" filter="url(#bs)"/>
<rect x="417.0" y="563.2" width="18.3" height="2.4" rx="1.2" fill="#000" opacity="0.92" filter="url(#bb)"/>
<rect x="417.0" y="567.5" width="18.3" height="2.2" rx="1.1" fill="#000" opacity="0.85" filter="url(#bb)"/>
<rect x="417.0" y="572.0" width="18.3" height="2.0" rx="1.0" fill="#000" opacity="0.15" filter="url(#bb)"/>
<rect x="439.2" y="551.0" width="17.1" height="29.0" fill="#000" opacity="0.06" filter="url(#bs)"/>
<rect x="438.9" y="562.1" width="17.7" height="1.8" rx="0.9" fill="#000" opacity="0.55" filter="url(#bb)"/>
<rect x="438.9" y="565.5" width="17.7" height="1.8" rx="0.9" fill="#000" opacity="0.5" filter="url(#bb)"/>
<rect x="438.9" y="569.0" width="17.7" height="2.0" rx="1.0" fill="#000" opacity="0.1" filter="url(#bb)"/>
<rect x="459.5" y="551.0" width="17.1" height="29.0" fill="#000" opacity="0.06" filter="url(#bs)"/>
<rect x="459.2" y="560.9" width="17.7" height="1.8" rx="0.9" fill="#000" opacity="0.55" filter="url(#bb)"/>
<rect x="459.2" y="563.9" width="17.7" height="2.0" rx="1.0" fill="#000" opacity="0.6" filter="url(#bb)"/>
<rect x="480.5" y="551.0" width="17.5" height="29.0" fill="#000" opacity="0.06" filter="url(#bs)"/>
<rect x="480.2" y="563.1" width="18.1" height="2.6" rx="1.3" fill="#000" opacity="0.95" filter="url(#bb)"/>
<rect x="480.2" y="569.3" width="18.1" height="2.4" rx="1.2" fill="#000" opacity="0.55" filter="url(#bb)"/>
<rect x="480.2" y="556.0" width="18.1" height="4.0" rx="2.0" fill="#000" opacity="0.06" filter="url(#bb)"/>
<rect x="501.3" y="551.0" width="19.3" height="29.0" fill="#000" opacity="0.06" filter="url(#bs)"/>
<rect x="501.0" y="559.4" width="19.9" height="2.2" rx="1.1" fill="#000" opacity="0.9" filter="url(#bb)"/>
<rect x="501.0" y="563.3" width="19.9" height="2.2" rx="1.1" fill="#000" opacity="0.85" filter="url(#bb)"/>
<rect x="501.0" y="569.0" width="19.9" height="2.0" rx="1.0" fill="#000" opacity="0.1" filter="url(#bb)"/>
<rect x="523.0" y="551.0" width="18.0" height="29.0" fill="#000" opacity="0.06" filter="url(#bs)"/>
<rect x="522.7" y="559.7" width="18.6" height="1.8" rx="0.9" fill="#000" opacity="0.45" filter="url(#bb)"/>
<rect x="522.7" y="563.7" width="18.6" height="1.8" rx="0.9" fill="#000" opacity="0.55" filter="url(#bb)"/>
<rect x="522.7" y="569.0" width="18.6" height="2.0" rx="1.0" fill="#000" opacity="0.08" filter="url(#bb)"/>
</g>
<rect x="413.2" y="550" width="132.59999999999997" height="31" rx="0.8" fill="none" stroke="#383838" stroke-width="1.05"/>
<defs><clipPath id="bc413_585"><rect x="413.2" y="585.4" width="132.59999999999997" height="31.600000000000023" rx="0.8"/></clipPath></defs>
<g clip-path="url(#bc413_585)">
<rect x="413.20" y="585.40" width="132.60" height="31.60" fill="#f8f8f8" />
<ellipse cx="426.1" cy="601.4" rx="9.4" ry="2.1" fill="#000" opacity="0.97" filter="url(#bb2)"/>
<ellipse cx="447.8" cy="601.0" rx="9.2" ry="2.1" fill="#000" opacity="0.95" filter="url(#bb2)"/>
<ellipse cx="468.1" cy="601.2" rx="9.2" ry="1.7" fill="#000" opacity="0.8" filter="url(#bb2)"/>
<ellipse cx="489.2" cy="601.2" rx="9.3" ry="1.5" fill="#000" opacity="0.6" filter="url(#bb2)"/>
<ellipse cx="511.0" cy="600.4" rx="10.3" ry="2.2" fill="#000" opacity="0.95" filter="url(#bb2)"/>
<ellipse cx="532.0" cy="601.0" rx="9.6" ry="1.7" fill="#000" opacity="0.8" filter="url(#bb2)"/>
</g>
<rect x="413.2" y="585.4" width="132.59999999999997" height="31.600000000000023" rx="0.8" fill="none" stroke="#383838" stroke-width="1.05"/>
<line x1="545.50" y1="499.50" x2="550.40" y2="499.50" stroke="#222" stroke-width="0.9" />
<text x="550.9" y="503.2" font-size="10.4" text-anchor="start" fill="#1a1a1a" font-weight="normal" >130kD</text>
<line x1="545.50" y1="538.40" x2="550.40" y2="538.40" stroke="#222" stroke-width="0.9" />
<text x="550.9" y="542.1" font-size="10.4" text-anchor="start" fill="#1a1a1a" font-weight="normal" >35kD</text>
<line x1="545.50" y1="565.70" x2="550.40" y2="565.70" stroke="#222" stroke-width="0.9" />
<text x="550.9" y="569.4" font-size="10.4" text-anchor="start" fill="#1a1a1a" font-weight="normal" >130kD</text>
<line x1="545.50" y1="605.10" x2="550.40" y2="605.10" stroke="#222" stroke-width="0.9" />
<text x="550.9" y="608.8" font-size="10.4" text-anchor="start" fill="#1a1a1a" font-weight="normal" >35kD</text>
<line x1="625.50" y1="513.50" x2="625.50" y2="603.50" stroke="#111" stroke-width="0.9" />
<line x1="625.50" y1="603.50" x2="678.10" y2="603.50" stroke="#111" stroke-width="0.9" />
<line x1="622.50" y1="603.30" x2="625.50" y2="603.30" stroke="#111" stroke-width="0.9" />
<text x="621.3" y="607.6" font-size="12.3" text-anchor="end" fill="#1a1a1a" font-weight="normal" >0</text>
<line x1="622.50" y1="585.40" x2="625.50" y2="585.40" stroke="#111" stroke-width="0.9" />
<text x="621.3" y="589.7" font-size="12.3" text-anchor="end" fill="#1a1a1a" font-weight="normal" >1</text>
<line x1="622.50" y1="567.50" x2="625.50" y2="567.50" stroke="#111" stroke-width="0.9" />
<text x="621.3" y="571.8" font-size="12.3" text-anchor="end" fill="#1a1a1a" font-weight="normal" >2</text>
<line x1="622.50" y1="549.60" x2="625.50" y2="549.60" stroke="#111" stroke-width="0.9" />
<text x="621.3" y="553.9" font-size="12.3" text-anchor="end" fill="#1a1a1a" font-weight="normal" >3</text>
<line x1="622.50" y1="531.70" x2="625.50" y2="531.70" stroke="#111" stroke-width="0.9" />
<text x="621.3" y="536.0" font-size="12.3" text-anchor="end" fill="#1a1a1a" font-weight="normal" >4</text>
<line x1="622.50" y1="513.80" x2="625.50" y2="513.80" stroke="#111" stroke-width="0.9" />
<text x="621.3" y="518.1" font-size="12.3" text-anchor="end" fill="#1a1a1a" font-weight="normal" >5</text>
<line x1="637.90" y1="603.30" x2="637.90" y2="606.00" stroke="#111" stroke-width="0.9" />
<line x1="664.70" y1="603.30" x2="664.70" y2="606.00" stroke="#111" stroke-width="0.9" />
<line x1="637.90" y1="566.61" x2="664.70" y2="588.08" stroke="#111" stroke-width="0.8" />
<line x1="637.90" y1="571.08" x2="664.70" y2="585.40" stroke="#111" stroke-width="0.8" />
<line x1="637.90" y1="580.92" x2="664.70" y2="528.12" stroke="#111" stroke-width="0.8" />
<line x1="637.90" y1="581.82" x2="664.70" y2="563.02" stroke="#111" stroke-width="0.8" />
<line x1="637.90" y1="586.29" x2="664.70" y2="569.65" stroke="#111" stroke-width="0.8" />
<line x1="637.90" y1="587.19" x2="664.70" y2="574.66" stroke="#111" stroke-width="0.8" />
<line x1="637.90" y1="588.08" x2="664.70" y2="578.24" stroke="#111" stroke-width="0.8" />
<line x1="637.90" y1="589.88" x2="664.70" y2="580.03" stroke="#111" stroke-width="0.8" />
<line x1="637.90" y1="590.77" x2="664.70" y2="580.92" stroke="#111" stroke-width="0.8" />
<line x1="637.90" y1="591.66" x2="664.70" y2="582.71" stroke="#111" stroke-width="0.8" />
<line x1="637.90" y1="592.56" x2="664.70" y2="583.61" stroke="#111" stroke-width="0.8" />
<line x1="637.90" y1="593.45" x2="664.70" y2="579.13" stroke="#111" stroke-width="0.8" />
<line x1="637.90" y1="597.93" x2="664.70" y2="593.45" stroke="#111" stroke-width="0.8" />
<circle cx="637.9" cy="566.61" r="1.7" fill="#3b4cc0"/>
<circle cx="664.7" cy="588.08" r="1.7" fill="#e0352b"/>
<circle cx="637.9" cy="571.08" r="1.7" fill="#3b4cc0"/>
<circle cx="664.7" cy="585.40" r="1.7" fill="#e0352b"/>
<circle cx="637.9" cy="580.92" r="1.7" fill="#3b4cc0"/>
<circle cx="664.7" cy="528.12" r="1.7" fill="#e0352b"/>
<circle cx="637.9" cy="581.82" r="1.7" fill="#3b4cc0"/>
<circle cx="664.7" cy="563.02" r="1.7" fill="#e0352b"/>
<circle cx="637.9" cy="586.29" r="1.7" fill="#3b4cc0"/>
<circle cx="664.7" cy="569.65" r="1.7" fill="#e0352b"/>
<circle cx="637.9" cy="587.19" r="1.7" fill="#3b4cc0"/>
<circle cx="664.7" cy="574.66" r="1.7" fill="#e0352b"/>
<circle cx="637.9" cy="588.08" r="1.7" fill="#3b4cc0"/>
<circle cx="664.7" cy="578.24" r="1.7" fill="#e0352b"/>
<circle cx="637.9" cy="589.88" r="1.7" fill="#3b4cc0"/>
<circle cx="664.7" cy="580.03" r="1.7" fill="#e0352b"/>
<circle cx="637.9" cy="590.77" r="1.7" fill="#3b4cc0"/>
<circle cx="664.7" cy="580.92" r="1.7" fill="#e0352b"/>
<circle cx="637.9" cy="591.66" r="1.7" fill="#3b4cc0"/>
<circle cx="664.7" cy="582.71" r="1.7" fill="#e0352b"/>
<circle cx="637.9" cy="592.56" r="1.7" fill="#3b4cc0"/>
<circle cx="664.7" cy="583.61" r="1.7" fill="#e0352b"/>
<circle cx="637.9" cy="593.45" r="1.7" fill="#3b4cc0"/>
<circle cx="664.7" cy="579.13" r="1.7" fill="#e0352b"/>
<circle cx="637.9" cy="597.93" r="1.7" fill="#3b4cc0"/>
<circle cx="664.7" cy="593.45" r="1.7" fill="#e0352b"/>
<path d="M637.9 523.4V520.8H664.7V523.4" fill="none" stroke="#111" stroke-width="0.8"/>
<text x="651.3" y="520.2" font-size="9" text-anchor="middle" fill="#1a1a1a" font-weight="normal" >*</text>
<line x1="613.60" y1="478.10" x2="626.10" y2="478.10" stroke="#111" stroke-width="0.9" />
<circle cx="620.2" cy="478.1" r="2.3" fill="#3b4cc0"/>
<line x1="613.60" y1="494.30" x2="626.10" y2="494.30" stroke="#111" stroke-width="0.9" />
<circle cx="620.2" cy="494.3" r="2.3" fill="#e0352b"/>
<text x="636.6" y="482.8" font-size="12.3" text-anchor="start" fill="#1a1a1a" font-weight="normal" >Normal</text>
<text x="636.6" y="499.0" font-size="12.3" text-anchor="start" fill="#1a1a1a" font-weight="normal" >Tumor</text>
<text x="601.8" y="543.2" font-size="12.3" text-anchor="middle" fill="#1a1a1a" font-weight="normal" transform="rotate(-90 601.8 543.2)" textLength="125" lengthAdjust="spacingAndGlyphs">DHX9 expression level</text>
<defs><filter id="spkB" x="0" y="0" width="100%" height="100%"><feTurbulence type="fractalNoise" baseFrequency="0.9" numOctaves="1" seed="3"/><feColorMatrix type="matrix" values="0 0 0 0 0.42  0 0 0 0 0.33  0 0 0 0 0.33  3.2 0 0 0 -1.55"/></filter><filter id="spkW" x="0" y="0" width="100%" height="100%"><feTurbulence type="fractalNoise" baseFrequency="0.8" numOctaves="1" seed="8"/><feColorMatrix type="matrix" values="0 0 0 0 0.92  0 0 0 0 0.93  0 0 0 0 0.95  3.0 0 0 0 -1.5"/></filter><filter id="spkN" x="0" y="0" width="100%" height="100%"><feTurbulence type="fractalNoise" baseFrequency="0.85" numOctaves="1" seed="5"/><feColorMatrix type="matrix" values="0 0 0 0 0.62  0 0 0 0 0.48  0 0 0 0 0.40  4.0 0 0 0 -2.2"/></filter></defs>
<defs><clipPath id="tcore"><path d="M413.0 752.7L337.9 752.7L326.0 748.9L318.2 742.7L304.0 719.9L300.0 711.6L300.0 693.4L304.5 677.7L304.9 655.7L308.0 647.7L313.0 641.9L328.8 630.7L417.7 630.7L433.0 646.7L436.8 651.7L439.4 656.7L446.0 679.5L446.0 713.9L434.0 727.4L422.7 745.7L417.1 750.7L413.0 752.7Z"/></clipPath><clipPath id="timg"><rect x="300" y="630.7" width="146" height="122.1"/></clipPath></defs>
<rect x="300.00" y="630.70" width="146.00" height="122.10" fill="#e4ebee" />
<g clip-path="url(#timg)"><g clip-path="url(#tcore)">
<rect x="300.00" y="630.70" width="146.00" height="122.10" fill="#d2cfd8" />
<path fill="#a58f89" d="M422.0 752.7L416.3 752.7L416.0 750.4L413.0 750.4L411.2 748.7L410.5 741.7L407.5 739.7L408.4 734.7L408.0 734.1L405.0 736.5L401.8 731.7L401.0 728.7L404.9 727.7L400.0 726.5L385.8 719.7L387.3 716.7L384.2 715.7L384.6 714.7L387.0 713.7L387.0 711.5L375.7 711.7L378.1 713.7L372.0 719.1L365.0 718.9L362.4 717.7L362.2 716.7L364.3 714.7L367.0 712.9L369.4 712.7L366.0 712.0L364.0 709.7L360.0 711.5L353.0 712.6L350.9 713.7L353.0 713.8L354.0 714.6L353.8 715.7L360.0 715.4L361.1 717.7L361.6 720.7L358.2 726.7L355.6 725.7L356.0 723.4L346.0 725.1L346.0 720.7L341.8 725.7L342.0 728.7L344.0 728.2L346.0 729.7L347.6 726.7L351.0 725.4L353.0 725.8L354.0 727.7L352.0 730.5L348.0 730.9L347.5 735.7L345.0 736.5L339.0 735.2L332.0 734.6L329.0 735.4L328.1 734.7L326.8 730.7L327.8 725.7L327.9 717.7L319.3 709.7L318.5 707.7L319.5 703.7L319.0 702.0L310.4 699.7L306.0 694.8L304.9 690.7L308.2 687.7L308.7 681.7L308.0 678.7L309.0 676.5L317.0 673.7L319.0 674.9L318.7 671.7L320.6 670.7L321.5 667.7L325.0 665.6L329.0 665.5L332.0 664.2L336.6 667.7L333.9 664.7L334.5 656.7L336.3 652.7L334.3 649.7L334.9 645.7L339.7 641.7L339.9 640.7L337.7 637.7L337.7 635.7L340.9 630.7L369.4 630.7L372.8 639.7L374.1 651.7L372.0 653.5L364.0 651.7L368.0 654.4L373.0 655.2L374.8 657.7L374.6 659.7L372.7 661.7L372.2 663.7L372.1 666.7L373.0 667.7L375.0 667.6L376.8 665.7L380.0 664.9L382.0 667.0L383.4 665.7L381.7 663.7L381.3 658.7L383.5 656.7L381.0 653.8L378.4 652.7L374.8 643.7L374.7 637.7L375.8 633.7L374.8 630.7L408.6 630.7L411.0 632.9L414.5 630.7L417.3 630.7L416.9 631.7L418.9 636.7L420.7 638.7L418.2 641.7L421.5 644.7L422.0 647.6L417.0 646.9L413.4 647.7L413.4 645.7L416.0 642.5L408.7 647.7L410.0 652.2L412.0 651.7L412.8 653.7L410.0 654.3L406.7 656.7L410.0 661.4L413.0 659.7L417.8 659.7L417.5 654.7L418.0 654.1L419.9 656.7L422.0 656.0L425.0 650.0L431.0 651.3L433.7 653.7L433.7 655.7L438.0 661.3L437.9 663.7L437.0 664.5L434.0 665.7L426.7 664.7L427.6 663.7L427.0 663.6L426.0 664.6L416.1 666.7L418.0 667.3L423.0 666.0L430.0 667.9L434.0 666.7L436.1 668.7L435.3 670.7L438.2 672.7L437.1 675.7L438.0 678.1L441.8 678.7L446.0 683.8L446.0 709.3L443.0 708.2L438.6 712.7L445.7 717.7L446.0 722.3L440.0 720.3L437.0 721.5L436.5 724.7L434.0 725.8L428.0 720.9L428.2 729.7L421.2 735.7L420.3 744.7L418.0 749.7L421.0 749.9L422.0 752.7ZM349.5 636.7L351.0 634.4L352.0 635.8L352.5 634.7L352.0 630.7L348.5 636.7L349.0 637.4L349.5 636.7ZM313.0 666.1L312.0 666.7L310.0 665.0L306.0 666.0L304.3 663.7L302.0 663.5L300.0 661.1L300.7 657.7L305.0 655.6L307.4 652.7L311.0 651.4L313.2 652.7L315.6 658.7L318.0 659.4L320.0 658.6L321.0 657.2L317.9 655.7L319.0 652.4L315.0 654.3L314.6 653.7L315.5 645.7L321.0 642.1L328.1 634.7L332.0 633.1L334.0 633.2L335.7 635.7L334.8 638.7L330.0 642.7L333.0 646.7L331.7 649.7L328.2 654.7L323.7 655.7L323.1 656.7L325.8 657.7L323.1 661.7L313.0 666.1ZM361.4 638.7L360.0 633.1L359.8 638.7L361.0 639.6L361.4 638.7ZM379.2 636.7L379.0 634.6L377.0 633.0L376.3 633.7L379.2 636.7ZM389.2 635.7L389.0 634.8L389.2 635.7ZM399.2 643.7L404.0 638.3L404.2 636.7L399.0 641.3L398.3 642.7L399.2 643.7ZM353.2 640.7L353.0 638.0L353.0 641.7L353.2 640.7ZM416.7 640.7L415.0 638.7L413.0 638.1L414.0 640.8L416.7 640.7ZM346.6 639.7L345.4 639.7L346.6 639.7ZM344.9 640.7L343.6 640.7L344.9 640.7ZM380.2 641.7L380.0 640.3L380.2 641.7ZM330.0 643.7L328.3 643.7L330.0 643.7ZM352.1 644.7L352.0 645.3L352.1 644.7ZM385.1 645.7L384.0 643.7L383.2 644.7L385.1 645.7ZM354.9 653.7L352.3 651.7L358.6 648.7L357.0 648.5L354.0 650.7L352.0 650.2L351.2 649.7L351.0 646.7L350.2 648.7L351.7 651.7L353.7 653.7L354.9 653.7ZM389.8 647.7L388.6 647.7L389.8 647.7ZM349.8 648.7L348.5 648.7L349.8 648.7ZM401.3 661.7L403.8 656.7L401.1 653.7L400.0 649.6L399.0 648.5L399.0 653.9L395.0 651.4L393.0 648.7L391.0 648.0L390.2 648.7L395.4 652.7L393.6 654.7L388.8 655.7L388.2 656.7L398.5 659.7L400.0 661.7L401.3 661.7ZM424.0 649.8L423.0 648.5L424.2 648.7L424.0 649.8ZM357.4 654.7L356.3 654.7L357.4 654.7ZM361.2 655.7L359.0 655.7L361.2 655.7ZM370.4 659.7L368.0 656.6L362.5 656.7L370.0 660.6L370.4 659.7ZM358.1 665.7L367.8 662.7L367.1 661.7L363.0 660.6L358.0 663.4L355.0 660.9L352.3 661.7L354.0 664.9L357.0 666.2L358.1 665.7ZM424.0 661.7L422.7 661.7L424.0 661.7ZM346.8 672.7L348.8 669.7L349.7 665.7L349.0 662.5L347.2 663.7L346.0 669.0L342.6 671.7L344.0 672.9L346.8 672.7ZM425.8 662.7L424.0 662.7L425.8 662.7ZM402.2 665.7L402.0 665.0L398.5 665.7L400.0 666.5L402.2 665.7ZM311.0 666.9L311.0 666.3L311.8 666.7L311.0 666.9ZM400.1 669.7L400.0 667.2L399.0 667.5L398.5 669.7L400.1 669.7ZM414.8 668.7L415.7 667.7L413.0 666.9L411.1 667.7L411.0 668.7L413.0 669.4L414.8 668.7ZM337.2 671.7L335.0 669.6L332.0 668.7L335.0 671.9L337.2 671.7ZM339.1 669.7L338.0 668.4L337.0 668.7L339.1 669.7ZM364.3 690.7L375.8 688.7L378.9 685.7L376.0 681.6L372.0 682.8L370.1 681.7L369.2 679.7L366.5 678.7L369.0 676.7L369.0 675.5L364.0 674.1L362.0 670.7L360.0 669.9L357.2 673.7L358.2 675.7L358.1 678.7L360.0 679.4L361.0 677.0L362.0 677.0L364.9 679.7L362.6 682.7L360.0 683.2L357.0 686.1L355.0 684.3L351.9 686.7L362.0 691.1L364.3 690.7ZM380.1 673.7L380.0 670.8L377.0 670.7L377.2 672.7L380.1 673.7ZM394.4 682.7L395.6 680.7L394.6 677.7L395.0 674.5L393.0 673.8L392.0 671.4L390.6 672.7L389.0 677.8L388.8 682.7L389.0 683.3L389.5 682.7L391.0 676.9L391.8 677.7L392.2 681.7L394.0 683.3L394.4 682.7ZM392.8 709.7L395.9 707.7L398.0 704.5L410.0 698.9L416.0 692.7L419.0 692.5L423.3 687.7L428.0 685.6L431.0 687.8L429.7 684.7L431.5 679.7L434.8 676.7L433.9 671.7L430.0 671.8L423.0 678.2L417.0 682.0L416.0 680.3L413.9 680.7L414.6 682.7L414.0 685.4L410.7 689.7L408.0 690.0L405.0 684.8L400.7 687.7L404.0 690.7L403.8 692.7L403.0 694.4L400.4 695.7L396.0 703.7L391.0 704.1L389.0 709.7L390.0 710.5L392.8 709.7ZM328.1 672.7L325.9 672.7L328.1 672.7ZM356.2 675.7L356.0 675.0L356.2 675.7ZM418.4 677.7L417.0 675.7L418.4 677.7ZM346.5 681.7L345.7 678.7L342.0 676.5L343.3 680.7L346.5 681.7ZM392.0 677.2L392.0 676.4L392.0 677.2ZM404.0 683.7L404.3 681.7L406.0 679.9L409.5 679.7L403.2 678.7L402.8 680.7L404.0 683.7ZM320.2 683.7L320.0 682.3L316.0 680.3L316.0 683.5L319.0 684.6L320.2 683.7ZM319.3 693.7L321.0 692.7L321.0 691.5L326.0 692.9L328.0 690.9L331.0 691.7L338.6 688.7L337.0 687.9L330.0 689.2L328.6 686.7L329.8 683.7L329.4 681.7L326.0 680.3L325.5 683.7L326.5 686.7L324.7 690.7L322.0 691.4L320.4 688.7L318.0 687.1L315.5 688.7L317.0 693.5L319.3 693.7ZM436.2 687.7L437.3 685.7L437.0 682.6L435.9 684.7L436.0 688.3L436.2 687.7ZM349.0 686.7L347.2 686.7L349.0 686.7ZM434.7 691.7L432.0 689.3L433.0 691.4L434.7 691.7ZM393.2 693.7L392.0 691.3L391.7 692.7L393.2 693.7ZM363.1 694.7L363.0 694.0L363.1 694.7ZM349.5 707.7L352.4 704.7L350.4 701.7L351.6 697.7L349.0 696.6L344.0 697.2L343.3 697.7L347.5 700.7L347.9 706.7L349.5 707.7ZM396.6 700.7L396.7 699.7L395.0 699.0L393.5 700.7L396.6 700.7ZM427.7 708.7L432.9 705.7L433.2 700.7L434.0 699.7L435.1 700.7L434.0 699.7L432.0 699.2L431.0 702.7L426.7 705.7L426.2 708.7L427.7 708.7ZM388.7 701.7L385.0 700.8L383.8 701.7L387.0 702.6L388.7 701.7ZM336.9 715.7L338.8 714.7L337.1 713.7L340.7 711.7L339.7 710.7L339.8 708.7L344.0 707.5L345.1 706.7L345.0 705.2L343.0 705.2L340.0 702.9L329.0 707.4L329.8 708.7L334.0 709.0L335.0 711.7L337.3 710.7L335.0 712.8L334.0 712.2L331.9 715.7L333.0 715.0L335.0 716.1L336.9 715.7ZM378.4 703.7L375.1 703.7L378.4 703.7ZM365.6 708.7L366.0 705.5L361.6 706.7L365.0 709.5L365.6 708.7ZM436.9 707.7L437.6 706.7L437.0 706.1L435.5 707.7L436.0 708.4L436.9 707.7ZM427.3 719.7L428.0 718.5L436.0 714.8L435.2 713.7L436.0 710.5L435.0 709.8L434.0 710.6L433.3 714.7L432.0 715.6L425.0 715.6L422.0 712.4L418.2 712.7L416.8 715.7L417.0 719.9L420.0 719.2L427.3 719.7ZM373.5 711.7L372.7 711.7L373.5 711.7ZM347.1 717.7L347.1 714.7L348.9 713.7L344.0 713.1L343.6 714.7L346.0 717.6L347.1 717.7ZM323.0 725.0L321.0 724.9L318.4 722.7L318.1 720.7L319.7 718.7L319.0 718.0L316.0 719.1L314.0 716.7L314.7 714.7L318.0 715.3L321.0 714.5L325.0 718.1L325.0 721.7L323.0 725.0ZM330.1 716.7L329.0 716.7L330.1 716.7ZM403.0 752.7L352.6 752.7L353.0 749.3L350.0 752.7L346.7 744.7L346.9 740.7L350.0 736.7L353.0 737.6L356.0 740.0L355.1 733.7L357.0 732.9L362.0 733.9L362.2 729.7L366.0 727.9L371.0 727.2L373.0 728.0L378.0 723.7L382.1 735.7L380.0 737.2L374.0 745.7L371.0 745.9L369.0 744.5L368.0 745.2L366.0 744.1L365.1 744.7L368.0 746.7L370.0 746.2L372.0 748.8L379.0 751.3L380.0 750.7L378.9 743.7L381.4 741.7L384.0 737.3L390.0 736.4L392.0 738.3L395.0 738.9L398.0 741.0L404.0 740.4L409.9 742.7L408.1 747.7L404.0 752.6L403.0 752.7ZM310.0 725.1L310.0 724.2L310.0 725.1ZM318.0 729.6L314.0 726.9L316.0 724.8L318.8 726.7L318.9 728.7L318.0 729.6ZM418.0 731.7L419.1 729.7L418.0 727.9L413.0 726.1L409.0 727.5L408.0 726.1L406.9 726.7L411.0 728.5L411.0 730.7L414.8 729.7L417.0 732.0L418.0 731.7ZM401.0 728.6L401.0 727.1L401.0 728.6ZM319.0 729.8L318.3 729.7L319.0 729.0L319.0 729.8ZM318.0 730.9L318.0 730.0L318.0 730.9ZM313.0 734.0L311.0 734.5L311.0 731.8L314.0 731.2L314.3 732.7L313.0 734.0ZM372.3 735.7L373.0 733.3L369.0 734.1L367.7 735.7L368.0 736.6L372.3 735.7ZM315.0 736.5L315.0 735.3L315.0 736.5ZM324.0 738.2L321.0 736.9L321.4 735.7L323.0 735.0L323.9 735.7L324.0 738.2ZM366.1 737.7L365.0 735.9L363.6 735.7L364.8 737.7L366.1 737.7ZM301.0 738.9L300.0 739.6L300.0 736.4L301.7 737.7L301.0 738.9ZM311.0 752.7L307.2 752.7L307.0 749.8L306.0 749.4L303.9 750.7L303.8 752.7L300.5 752.7L301.4 750.7L300.0 748.9L300.0 743.3L304.0 745.3L307.0 742.7L307.0 741.1L306.0 740.4L303.0 741.5L302.9 739.7L304.5 738.7L309.0 739.7L312.0 742.5L310.4 748.7L311.0 752.7ZM362.0 742.7L360.9 742.7L362.0 742.7ZM369.0 746.1L369.0 745.0L369.8 745.7L369.0 746.1Z"/>
<path fill="#e6eaed" d="M352.0 645.9L351.4 644.7L352.0 638.7L351.0 635.0L349.0 639.1L345.6 639.7L352.0 630.7L353.5 640.7L352.0 645.9ZM373.0 631.2L371.7 630.7L373.7 630.7L373.0 631.2ZM389.0 636.5L388.2 635.7L390.0 631.9L390.9 630.7L393.0 630.7L389.0 636.5ZM405.0 636.2L404.2 630.7L405.3 630.7L406.0 632.7L405.0 636.2ZM375.0 632.5L373.6 631.7L374.0 631.1L375.8 631.7L375.0 632.5ZM378.0 635.2L375.3 632.7L376.0 631.9L378.3 633.7L378.8 634.7L378.0 635.2ZM379.0 637.0L379.0 634.9L379.0 637.0ZM412.0 636.8L412.0 635.6L412.0 636.8ZM388.0 637.8L388.0 636.2L388.0 637.8ZM360.0 643.3L361.0 637.4L361.1 640.7L360.0 643.3ZM380.0 642.2L380.0 641.4L380.0 642.2ZM331.0 643.9L328.0 643.7L331.0 642.4L333.9 642.7L331.0 643.9ZM415.0 644.3L415.0 643.4L415.0 644.3ZM414.0 645.5L414.0 644.3L414.6 644.7L414.0 645.5ZM314.0 649.4L313.3 648.7L314.0 645.3L314.0 649.4ZM368.0 690.3L364.0 690.5L352.0 687.1L346.0 688.5L341.2 687.7L346.0 685.9L354.0 685.2L354.0 681.8L356.0 679.8L361.0 682.9L362.6 682.7L362.4 678.7L358.9 667.7L357.0 667.5L352.8 661.7L358.0 663.7L361.0 661.5L365.0 661.7L366.1 663.7L366.1 668.7L371.0 673.5L372.3 669.7L372.8 663.7L376.8 658.7L375.8 655.7L373.0 654.2L396.0 654.1L395.0 651.3L399.0 654.3L409.0 654.6L410.0 649.7L413.0 645.3L413.8 645.7L413.2 646.7L414.0 648.1L421.0 647.0L428.2 648.7L423.8 652.7L421.0 657.2L418.0 652.4L413.0 650.7L411.0 651.6L411.0 654.7L415.0 655.0L416.1 657.7L415.0 659.0L412.0 659.2L409.0 662.2L408.4 661.7L410.5 659.7L410.0 659.1L379.0 658.3L379.0 659.7L376.2 662.7L378.6 668.7L376.0 672.8L373.0 672.9L369.3 682.7L372.0 683.0L373.9 679.7L377.0 679.3L377.0 682.5L382.0 682.3L383.6 683.7L383.8 685.7L382.0 687.7L376.0 689.1L370.0 689.0L368.0 690.3ZM351.0 649.4L350.1 647.7L351.0 646.4L351.0 649.4ZM323.0 648.5L322.2 647.7L323.0 647.3L323.0 648.5ZM322.0 649.7L321.0 650.6L320.2 649.7L322.0 647.8L322.9 648.7L322.0 649.7ZM349.0 648.9L349.7 648.7L349.0 648.9ZM399.0 649.1L399.0 648.4L399.0 649.1ZM346.0 649.7L344.7 649.7L346.0 649.7ZM320.0 651.3L320.0 650.0L320.8 650.7L320.0 651.3ZM352.0 652.2L352.0 650.3L353.9 650.7L352.0 652.2ZM400.0 653.4L400.0 650.4L400.0 653.4ZM353.0 653.0L353.0 652.3L353.0 653.0ZM314.0 654.1L314.0 653.4L314.0 654.1ZM351.0 657.0L351.0 652.8L351.0 657.0ZM370.0 653.7L369.0 653.7L370.0 653.7ZM316.0 656.2L315.3 655.7L316.0 655.1L316.0 656.2ZM331.0 668.3L328.3 664.7L328.5 657.7L329.0 656.5L334.0 655.5L333.8 662.7L334.8 665.7L334.0 666.5L331.7 663.7L331.0 657.4L329.4 660.7L330.0 664.7L331.9 667.7L331.0 668.3ZM364.0 657.5L361.0 657.2L358.3 655.7L362.1 655.7L364.6 656.7L364.0 657.5ZM315.0 657.5L315.0 656.0L315.0 657.5ZM322.0 657.8L319.0 658.6L317.4 657.7L321.0 657.0L322.0 657.8ZM395.0 667.0L392.8 664.7L396.0 665.3L395.0 667.0ZM346.0 673.8L340.7 670.7L345.3 669.7L348.0 665.6L348.0 671.7L346.0 673.8ZM382.0 666.5L382.0 665.4L382.0 666.5ZM432.0 666.0L429.6 665.7L430.0 665.0L432.5 665.7L432.0 666.0ZM335.0 667.2L334.3 666.7L335.0 666.0L335.0 667.2ZM418.0 666.9L416.5 666.7L418.7 666.7L418.0 666.9ZM343.0 679.2L337.9 673.7L331.4 668.7L332.0 667.8L342.3 675.7L343.5 677.7L343.0 679.2ZM413.0 672.4L408.0 668.4L411.0 668.1L411.1 669.7L413.5 671.7L413.0 672.4ZM357.0 672.1L357.0 669.0L357.0 672.1ZM324.0 672.0L322.8 671.7L324.9 671.7L324.0 672.0ZM327.0 673.0L326.0 672.7L327.7 672.7L327.0 673.0ZM414.0 673.3L413.3 672.7L414.0 672.3L414.0 673.3ZM314.0 674.4L314.0 672.8L314.0 674.4ZM318.0 674.3L318.0 673.1L318.9 673.7L318.0 674.3ZM332.0 682.0L329.2 673.7L332.8 674.7L335.5 676.7L333.0 678.4L332.0 682.0ZM355.0 679.2L354.4 675.7L356.0 673.3L357.1 675.7L355.0 679.2ZM429.0 673.8L428.0 674.4L427.1 673.7L429.0 673.8ZM315.0 676.0L314.1 674.7L315.0 674.0L315.0 676.0ZM325.0 680.4L321.9 678.7L318.2 674.7L319.0 673.7L324.7 678.7L325.5 679.7L325.0 680.4ZM393.0 696.0L391.5 694.7L390.8 689.7L387.8 682.7L390.4 675.7L394.0 674.4L395.2 676.7L394.9 681.7L396.0 685.9L395.0 686.1L393.3 684.7L391.0 679.2L390.5 680.7L391.6 689.7L394.6 694.7L393.0 696.0ZM427.0 675.2L427.0 673.8L427.7 674.7L427.0 675.2ZM316.0 677.7L316.0 676.1L316.0 677.7ZM425.0 698.9L423.0 699.5L421.3 698.7L421.6 696.7L419.0 694.5L417.0 689.7L415.6 690.7L414.6 695.7L413.4 696.7L412.0 696.5L411.2 694.7L413.7 682.7L407.0 681.2L406.2 681.7L407.8 694.7L405.0 696.5L403.3 689.7L402.0 688.2L400.1 687.7L402.9 686.7L402.0 680.7L403.0 677.7L415.0 679.4L417.0 682.0L418.0 680.7L420.6 683.7L423.0 682.7L425.7 684.7L426.6 686.7L421.8 689.7L420.3 692.7L421.0 694.7L428.5 696.7L426.0 697.5L425.0 698.9ZM317.0 679.5L317.0 677.8L317.8 678.7L317.0 679.5ZM438.0 680.8L438.0 678.2L438.0 680.8ZM318.0 680.4L318.0 679.3L318.0 680.4ZM348.0 681.8L345.5 681.7L343.7 680.7L343.6 679.7L344.0 679.1L348.0 681.8ZM354.0 680.2L354.0 679.2L354.8 679.7L354.0 680.2ZM437.0 684.2L437.0 683.2L437.0 684.2ZM331.0 686.7L331.0 683.9L331.0 686.7ZM442.0 711.8L440.1 711.7L437.5 709.7L436.7 706.7L438.0 704.7L436.0 702.2L434.7 701.7L433.0 703.5L430.7 703.7L432.0 699.0L436.0 700.3L440.0 704.2L440.9 701.7L428.1 686.7L427.5 685.7L428.0 684.2L430.0 684.9L436.0 691.8L436.0 686.0L436.4 686.7L436.6 689.7L442.2 699.7L441.7 705.7L444.0 709.7L442.0 711.8ZM317.0 693.8L315.0 693.7L314.4 690.7L315.2 687.7L318.0 686.5L319.1 687.7L319.3 689.7L317.0 693.8ZM330.0 688.3L329.2 687.7L330.0 686.4L330.9 686.7L330.0 688.3ZM305.0 692.5L304.0 691.6L304.0 688.6L305.0 688.5L305.3 689.7L305.0 692.5ZM334.0 691.0L331.0 691.5L329.3 690.7L328.6 688.7L333.0 688.0L338.0 688.7L334.0 691.0ZM377.0 689.9L377.0 689.1L377.0 689.9ZM381.0 696.5L381.0 695.4L381.0 696.5ZM397.0 704.1L396.6 702.7L400.4 697.7L399.0 695.7L400.0 694.7L403.0 696.9L404.0 696.2L404.8 696.7L402.0 700.8L397.0 704.1ZM340.0 696.8L336.9 696.7L340.0 696.8ZM411.0 697.2L411.0 696.0L411.8 696.7L411.0 697.2ZM344.0 698.1L340.8 697.7L344.9 697.7L344.0 698.1ZM382.0 698.4L382.0 697.2L382.0 698.4ZM365.0 699.2L365.0 698.4L365.0 699.2ZM393.0 704.9L386.0 703.2L375.0 705.4L373.7 703.7L375.0 702.6L395.0 698.6L396.3 699.7L396.0 701.0L391.0 702.7L393.0 704.9ZM410.0 708.9L407.9 706.7L409.8 705.7L408.1 704.7L410.0 698.2L410.0 702.6L416.0 698.5L418.9 698.7L419.5 699.7L410.3 704.7L415.7 706.7L410.0 708.9ZM310.0 706.7L306.5 702.7L306.0 700.7L310.6 704.7L310.0 706.7ZM347.0 718.6L343.0 715.2L332.5 714.7L334.3 708.7L329.0 709.5L328.2 707.7L328.8 706.7L340.0 702.2L341.2 702.7L341.6 704.7L343.0 705.1L344.6 703.7L346.0 700.6L348.0 700.7L352.9 704.7L353.2 706.7L348.6 711.7L348.3 712.7L350.9 713.7L348.0 715.0L347.0 718.6ZM366.0 701.3L366.0 700.3L366.0 701.3ZM357.0 705.3L354.5 703.7L354.0 700.8L357.8 704.7L357.0 705.3ZM365.0 708.9L364.0 707.4L361.2 706.7L365.0 705.5L367.0 703.5L365.0 708.9ZM319.0 711.1L312.9 710.7L315.0 709.7L315.7 705.7L318.0 704.7L320.1 706.7L319.0 711.1ZM359.0 705.9L358.2 705.7L359.0 705.9ZM417.0 705.8L417.9 705.7L417.0 705.8ZM423.0 707.7L421.7 707.7L423.0 707.7ZM418.0 709.2L418.0 708.4L418.0 709.2ZM413.0 712.7L413.0 711.7L415.9 709.7L417.6 709.7L417.7 711.7L413.0 712.7ZM364.0 723.9L361.7 722.7L359.6 719.7L360.0 716.3L352.0 718.2L349.9 716.7L350.2 714.7L353.0 712.2L358.0 710.5L362.0 710.0L365.0 711.0L366.5 712.7L365.4 714.7L365.6 718.7L364.0 723.9ZM375.0 711.7L371.8 711.7L375.0 711.7ZM369.0 712.8L367.2 712.7L369.0 712.8ZM394.0 722.6L393.1 718.7L393.6 714.7L392.6 713.7L394.0 712.6L394.8 716.7L394.0 722.6ZM427.0 720.3L421.5 712.7L425.0 711.9L429.6 712.7L429.7 714.7L431.3 716.7L428.0 718.5L427.0 720.3ZM387.0 713.9L385.9 713.7L387.0 713.9ZM414.0 714.3L414.0 713.1L414.0 714.3ZM388.0 716.0L386.3 715.7L388.0 714.6L391.2 714.7L389.0 714.9L388.0 716.0ZM417.0 720.8L415.0 721.6L414.4 720.7L416.4 718.7L414.4 714.7L415.0 714.3L418.0 717.7L421.8 718.7L417.0 720.8ZM332.0 715.9L332.0 715.1L332.0 715.9ZM330.0 717.0L328.6 716.7L330.0 716.3L330.0 717.0ZM386.0 716.8L384.4 716.7L386.0 716.8ZM327.0 720.1L326.5 717.7L328.0 717.3L328.5 717.7L327.0 720.1ZM381.0 719.4L380.1 718.7L381.7 718.7L381.0 719.4ZM379.0 726.0L378.0 722.5L376.0 723.3L375.7 722.7L377.0 720.4L380.0 718.8L380.7 719.7L379.0 726.0ZM428.0 722.0L428.0 720.4L428.0 722.0ZM414.0 722.0L412.3 721.7L414.6 721.7L414.0 722.0ZM395.0 722.9L394.1 722.7L395.0 722.9ZM421.0 735.1L419.0 733.2L416.5 732.7L417.2 730.7L415.0 728.8L413.0 729.1L409.8 731.7L410.4 728.7L406.4 726.7L410.0 722.7L412.0 722.7L409.2 724.7L408.5 725.7L409.0 726.4L412.0 726.6L415.0 725.3L421.4 733.7L421.8 734.7L421.0 735.1ZM326.0 726.0L326.0 723.6L326.0 726.0ZM351.0 734.5L345.8 729.7L345.0 727.5L342.5 727.7L344.0 724.6L346.3 726.7L348.0 730.7L351.9 733.7L351.0 734.5ZM392.0 728.0L392.0 725.4L392.0 728.0ZM355.0 727.4L355.0 726.2L355.0 727.4ZM342.0 730.2L342.0 728.0L342.7 728.7L342.0 730.2ZM341.0 731.9L341.0 731.1L341.0 731.9ZM360.0 732.1L360.0 731.4L360.0 732.1ZM361.0 733.1L361.0 732.1L362.0 732.7L361.0 733.1ZM364.0 736.3L361.5 733.7L362.0 732.7L364.8 735.7L364.0 736.3ZM371.0 735.8L368.3 735.7L373.0 732.9L373.4 734.7L371.0 735.8ZM379.0 751.2L375.0 750.7L371.1 748.7L368.8 746.7L369.6 745.7L368.9 743.7L375.0 747.0L376.4 744.7L376.4 740.7L382.0 734.4L384.0 736.0L388.0 735.2L393.0 736.0L394.2 735.7L395.0 733.5L399.0 739.9L397.0 740.4L391.0 738.7L385.0 740.0L378.8 744.7L379.8 750.7L379.0 751.2ZM354.0 736.8L351.2 734.7L352.0 733.8L354.0 735.7L354.0 736.8ZM365.0 737.0L365.0 736.2L365.0 737.0ZM405.0 740.0L403.0 739.7L405.0 738.2L405.0 740.0ZM327.0 740.2L327.4 739.7L327.0 740.2ZM326.0 740.9L324.8 740.7L326.0 740.9ZM327.0 744.8L327.0 743.5L327.6 744.7L327.0 744.8ZM410.0 745.8L410.0 743.4L410.0 745.8ZM346.0 748.5L344.6 744.7L346.6 746.7L346.0 748.5Z"/>
<rect x="300" y="630.7" width="146" height="122.1" filter="url(#spkB)" opacity="0.55"/>
<rect x="300" y="630.7" width="146" height="122.1" filter="url(#spkW)" opacity="0.6"/>
</g></g>
<line x1="303.20" y1="745.30" x2="341.80" y2="745.30" stroke="#444" stroke-width="1.1" />
<defs><clipPath id="ncore"><path d="M424.0 881.4L322.8 881.4L314.0 872.8L308.2 865.4L304.6 858.4L301.8 849.4L300.0 839.2L299.9 792.4L300.6 784.4L309.0 776.4L334.0 759.4L421.1 759.4L426.6 767.4L435.9 789.4L446.0 807.0L446.0 847.9L440.8 860.4L435.9 869.4L430.4 876.4L424.0 881.4Z"/></clipPath><clipPath id="nimg"><rect x="300" y="759.4" width="146" height="122.6"/></clipPath></defs>
<rect x="300.00" y="759.40" width="146.00" height="122.60" fill="#e8edef" />
<g clip-path="url(#nimg)"><g clip-path="url(#ncore)">
<rect x="300.00" y="759.40" width="146.00" height="122.60" fill="#ede9e3" />
<path fill="#eef0f0" d="M342.0 763.1L339.0 762.8L334.8 759.4L343.8 759.4L342.0 763.1ZM343.0 881.4L334.6 881.4L335.5 877.4L339.9 871.4L336.8 867.4L329.0 864.4L321.0 866.9L318.0 869.4L316.7 872.4L316.7 877.4L315.0 879.5L312.0 880.1L310.4 879.4L309.9 873.4L310.6 870.4L309.0 867.4L306.0 865.5L301.4 867.4L300.9 869.4L301.8 873.4L300.0 876.1L300.0 841.6L303.9 837.4L302.8 834.4L300.0 831.1L300.0 817.9L305.0 817.3L311.0 822.1L311.8 821.4L310.9 815.4L313.6 811.4L314.7 805.4L317.0 804.8L320.0 806.4L320.7 802.4L326.3 800.4L328.7 798.4L328.7 795.4L326.3 791.4L327.2 784.4L330.0 781.6L334.0 782.1L334.5 781.4L332.2 773.4L329.0 767.4L329.9 764.4L332.0 763.8L336.0 765.0L337.4 766.4L338.0 769.5L339.0 769.7L346.8 759.4L359.0 759.4L353.0 762.0L351.8 763.4L354.9 771.4L350.0 772.0L346.0 774.3L341.4 781.4L341.0 783.4L342.0 785.0L344.0 784.5L350.0 778.3L353.0 778.3L363.7 783.4L365.4 789.4L370.0 798.1L373.0 798.5L378.0 795.5L379.8 796.4L380.3 802.4L377.8 808.4L377.0 814.0L375.0 814.9L371.0 814.2L370.0 815.4L369.6 824.4L375.3 829.4L376.4 832.4L375.0 833.9L369.0 831.6L354.9 833.4L354.2 831.4L355.4 823.4L359.0 820.5L362.8 814.4L363.3 812.4L362.0 811.3L358.0 810.5L356.3 811.4L355.0 822.4L352.0 822.6L348.0 821.0L344.0 821.5L342.4 820.4L342.0 818.1L345.9 816.4L347.0 811.9L356.0 809.8L356.5 806.4L355.6 802.4L353.0 799.0L346.0 795.0L342.0 794.5L340.8 800.4L333.8 808.4L331.7 814.4L335.3 818.4L337.0 823.2L343.0 826.4L343.9 828.4L343.1 831.4L349.4 836.4L349.1 838.4L344.0 846.0L342.0 845.7L339.0 842.7L337.0 843.1L336.5 844.4L338.0 850.3L341.0 852.2L344.3 856.4L343.9 860.4L344.9 864.4L340.8 872.4L343.4 879.4L343.7 881.4L343.0 881.4ZM372.0 764.5L369.2 763.4L367.2 759.4L373.2 759.4L373.4 762.4L372.0 764.5ZM391.0 788.6L386.0 789.3L381.0 784.2L374.0 782.9L370.5 772.4L373.0 772.0L379.0 777.1L381.0 776.6L386.0 772.6L389.0 772.1L393.0 774.0L397.0 778.1L399.0 778.9L403.2 771.4L403.4 766.4L399.0 763.9L389.0 763.4L382.4 759.4L410.0 759.4L408.3 765.4L411.2 772.4L410.0 783.8L407.0 785.5L402.0 782.1L399.0 781.6L394.8 786.4L391.0 788.6ZM416.0 809.5L413.0 809.0L406.0 805.6L398.0 808.4L396.2 805.4L397.3 801.4L405.0 791.0L407.0 790.2L411.0 792.5L413.0 792.7L420.0 789.7L423.0 786.6L424.4 777.4L417.0 774.4L415.7 773.4L415.6 771.4L420.0 767.6L423.0 762.2L425.0 760.8L440.0 767.8L446.0 767.9L446.0 775.9L441.0 775.6L437.0 778.6L434.0 783.4L433.2 790.4L431.2 793.4L425.0 797.8L415.0 797.6L412.0 799.1L412.2 802.4L418.4 806.4L417.9 808.4L416.0 809.5ZM301.0 776.1L300.0 776.1L300.0 767.9L301.4 769.4L301.0 776.1ZM316.0 783.4L313.0 783.5L311.0 782.5L308.7 778.4L312.0 770.6L314.0 769.2L317.0 768.6L320.0 771.1L320.4 776.4L319.6 780.4L316.0 783.4ZM300.0 806.2L300.0 794.4L304.0 794.0L308.0 789.6L311.0 790.0L313.2 793.4L312.0 796.3L306.0 799.9L300.0 806.2ZM318.0 798.3L316.6 797.4L316.1 794.4L317.8 791.4L320.0 790.2L321.0 790.6L321.1 793.4L318.0 798.3ZM445.0 807.6L443.0 807.4L442.0 806.3L438.6 799.4L438.3 795.4L440.0 793.2L446.0 794.2L446.0 807.0L445.0 807.6ZM306.0 811.9L304.0 812.4L303.0 811.6L303.0 808.7L306.0 806.4L308.7 806.4L309.4 808.4L306.0 811.9ZM410.0 881.4L382.2 881.4L384.9 873.4L383.1 869.4L370.0 861.6L367.0 861.2L363.0 863.7L358.3 859.4L357.4 855.4L359.1 847.4L355.1 841.4L355.0 837.2L357.0 837.0L365.0 840.6L373.0 837.5L375.0 837.7L378.4 845.4L381.0 847.1L384.0 846.9L386.3 845.4L387.2 842.4L385.6 838.4L388.0 836.9L391.0 838.1L401.0 845.2L406.3 845.4L408.2 843.4L409.1 837.4L413.1 832.4L413.3 830.4L411.9 828.4L409.0 826.7L401.0 829.9L399.0 828.8L398.5 827.4L400.7 820.4L400.5 814.4L402.3 812.4L406.0 811.3L408.4 812.4L411.0 818.2L416.0 818.4L417.5 819.4L418.6 821.4L419.2 826.4L421.0 828.2L425.0 828.6L431.0 826.2L442.4 829.4L443.7 831.4L443.9 834.4L442.0 840.0L440.0 842.4L438.0 842.1L434.0 836.8L431.0 836.0L422.0 845.4L420.0 853.4L422.6 861.4L420.7 871.4L418.0 876.6L410.0 881.4ZM433.0 822.0L430.9 821.4L430.9 816.4L433.0 815.2L437.0 815.7L437.8 817.4L433.0 822.0ZM446.0 822.7L445.2 820.4L446.0 818.2L446.0 822.7ZM339.6 835.4L336.0 829.7L334.0 830.3L333.2 832.4L334.0 834.2L339.0 836.2L339.6 835.4ZM328.2 857.4L328.9 853.4L328.0 847.4L330.8 841.4L330.4 839.4L329.0 838.0L327.0 838.4L324.8 840.4L324.7 848.4L323.0 851.3L319.0 853.3L313.8 853.4L319.0 856.5L326.0 858.0L328.2 857.4ZM406.0 877.4L407.1 876.4L406.8 874.4L401.0 871.0L399.3 868.4L401.1 865.4L409.7 861.4L409.8 859.4L407.4 856.4L404.0 853.9L399.0 852.2L386.0 852.7L380.8 854.4L380.9 856.4L382.7 858.4L387.0 861.6L391.8 863.4L393.7 865.4L393.7 867.4L390.6 871.4L391.5 873.4L403.0 877.5L406.0 877.4ZM306.8 861.4L307.9 860.4L306.0 857.5L302.1 859.4L302.3 860.4L305.0 861.8L306.8 861.4ZM446.0 867.2L443.9 865.4L443.0 861.4L444.0 860.0L446.0 859.4L446.0 867.2ZM367.0 872.4L364.0 872.4L362.3 870.4L362.7 866.4L364.0 864.4L368.7 868.4L369.0 870.4L367.0 872.4ZM333.0 875.5L331.9 875.4L330.9 873.4L332.0 871.0L334.0 870.0L335.6 872.4L333.0 875.5Z"/>
<rect x="300" y="759.4" width="146" height="122.6" filter="url(#spkN)" opacity="0.45"/>
<ellipse cx="346.7" cy="808.5" rx="1.8" ry="1.5" fill="#bcb3c4"/>
<ellipse cx="348.8" cy="807.5" rx="1.3" ry="1.9" fill="#bcb3c4"/>
<ellipse cx="348.3" cy="805.1" rx="1.4" ry="1.9" fill="#bcb3c4"/>
<ellipse cx="324.2" cy="828.2" rx="1.9" ry="2.4" fill="#b39796"/>
<ellipse cx="323.8" cy="829.6" rx="1.6" ry="1.8" fill="#b39796"/>
<ellipse cx="321.5" cy="829.1" rx="1.6" ry="2.3" fill="#b39796"/>
<ellipse cx="319.4" cy="778.3" rx="1.2" ry="1.2" fill="#b2948f"/>
<ellipse cx="317.6" cy="778.2" rx="1.1" ry="0.9" fill="#b2948f"/>
<ellipse cx="318.6" cy="777.5" rx="0.9" ry="0.7" fill="#b2948f"/>
<ellipse cx="328.9" cy="775.7" rx="0.8" ry="0.8" fill="#b2948f"/>
<ellipse cx="327.2" cy="776.9" rx="0.9" ry="1.0" fill="#b2948f"/>
<ellipse cx="326.2" cy="775.6" rx="0.7" ry="0.9" fill="#b2948f"/>
<ellipse cx="324.3" cy="770.0" rx="1.0" ry="1.2" fill="#b69a94"/>
<ellipse cx="323.5" cy="767.8" rx="1.3" ry="1.0" fill="#b69a94"/>
<ellipse cx="323.1" cy="770.0" rx="0.9" ry="1.1" fill="#b69a94"/>
<ellipse cx="372.4" cy="819.9" rx="1.8" ry="1.0" fill="#bca29a"/>
<ellipse cx="371.3" cy="816.4" rx="1.3" ry="1.7" fill="#bca29a"/>
<ellipse cx="372.5" cy="819.3" rx="1.4" ry="1.5" fill="#bca29a"/>
<ellipse cx="375.2" cy="834.9" rx="1.1" ry="1.1" fill="#bea49a"/>
<ellipse cx="374.8" cy="835.0" rx="1.6" ry="1.3" fill="#bea49a"/>
<ellipse cx="374.5" cy="833.7" rx="1.6" ry="1.6" fill="#bea49a"/>
<ellipse cx="337.3" cy="854.9" rx="1.7" ry="1.5" fill="#b69b93"/>
<ellipse cx="337.4" cy="852.3" rx="1.7" ry="1.7" fill="#b69b93"/>
<ellipse cx="337.3" cy="852.3" rx="1.4" ry="1.4" fill="#b69b93"/>
<ellipse cx="345.0" cy="858.7" rx="1.1" ry="1.4" fill="#bca299"/>
<ellipse cx="344.8" cy="856.5" rx="1.0" ry="1.0" fill="#bca299"/>
<ellipse cx="343.1" cy="856.4" rx="0.9" ry="1.3" fill="#bca299"/>
<ellipse cx="437.0" cy="859.1" rx="0.8" ry="1.1" fill="#c1a89e"/>
<ellipse cx="435.8" cy="856.3" rx="1.2" ry="1.4" fill="#c1a89e"/>
<ellipse cx="439.4" cy="856.9" rx="1.3" ry="1.3" fill="#c1a89e"/>
<ellipse cx="363.9" cy="811.3" rx="0.9" ry="1.3" fill="#c1b9ca"/>
<ellipse cx="362.0" cy="813.2" rx="1.1" ry="1.0" fill="#c1b9ca"/>
<ellipse cx="360.5" cy="815.0" rx="1.4" ry="1.1" fill="#c1b9ca"/>
<ellipse cx="380.6" cy="841.6" rx="1.2" ry="1.6" fill="#bca093"/>
<ellipse cx="381.5" cy="843.1" rx="1.3" ry="1.2" fill="#bca093"/>
<ellipse cx="383.2" cy="841.1" rx="1.4" ry="1.3" fill="#bca093"/>
<ellipse cx="351.1" cy="798.2" rx="1.2" ry="0.7" fill="#bdb6c7"/>
<ellipse cx="352.6" cy="795.1" rx="1.2" ry="1.0" fill="#bdb6c7"/>
<ellipse cx="352.9" cy="796.8" rx="1.2" ry="1.1" fill="#bdb6c7"/>
<ellipse cx="356.1" cy="790.6" rx="1.0" ry="0.7" fill="#bcb3c7"/>
<ellipse cx="356.7" cy="790.4" rx="0.7" ry="0.7" fill="#bcb3c7"/>
<ellipse cx="355.4" cy="793.4" rx="0.6" ry="0.8" fill="#bcb3c7"/>
<ellipse cx="367.2" cy="842.3" rx="1.2" ry="1.3" fill="#b6a094"/>
<ellipse cx="366.7" cy="843.3" rx="1.2" ry="0.9" fill="#b6a094"/>
<ellipse cx="366.7" cy="841.3" rx="1.1" ry="1.3" fill="#b6a094"/>
<ellipse cx="374.4" cy="849.8" rx="1.3" ry="1.2" fill="#bca59a"/>
<ellipse cx="373.2" cy="846.2" rx="0.8" ry="1.1" fill="#bca59a"/>
<ellipse cx="374.8" cy="849.2" rx="1.1" ry="1.0" fill="#bca59a"/>
<ellipse cx="379.6" cy="851.4" rx="1.2" ry="1.1" fill="#b39d93"/>
<ellipse cx="377.4" cy="850.5" rx="1.0" ry="1.3" fill="#b39d93"/>
<ellipse cx="377.0" cy="851.8" rx="1.2" ry="1.1" fill="#b39d93"/>
<ellipse cx="368.6" cy="852.5" rx="0.9" ry="1.1" fill="#b9a499"/>
<ellipse cx="368.9" cy="852.2" rx="1.1" ry="0.9" fill="#b9a499"/>
<ellipse cx="369.9" cy="852.7" rx="0.8" ry="0.9" fill="#b9a499"/>
<ellipse cx="368.0" cy="839.5" rx="0.7" ry="0.7" fill="#bca59b"/>
<ellipse cx="367.1" cy="838.3" rx="1.0" ry="0.9" fill="#bca59b"/>
<ellipse cx="364.9" cy="836.2" rx="0.9" ry="0.7" fill="#bca59b"/>
</g></g>
<line x1="303.60" y1="875.00" x2="342.00" y2="875.00" stroke="#9a9a9a" stroke-width="1.2" />
<text x="276.2" y="693.8" font-size="12.3" text-anchor="middle" fill="#1a1a1a" font-weight="normal" >Tumor</text>
<text x="274.5" y="816.3" font-size="12.3" text-anchor="middle" fill="#1a1a1a" font-weight="normal" >Adjcent</text>
<text x="273.5" y="832.5" font-size="12.3" text-anchor="middle" fill="#1a1a1a" font-weight="normal" >normal</text>
<defs><clipPath id="z1"><rect x="467.8" y="668.2" width="112.2" height="84.1"/></clipPath><clipPath id="z2"><rect x="467.8" y="783.3" width="112.2" height="84"/></clipPath></defs>
<rect x="467.80" y="668.20" width="112.20" height="84.10" fill="#dfe0e4" />
<g clip-path="url(#z1)">
<ellipse cx="545.3" cy="678.4" rx="1.5" ry="1.0" fill="#967a6c"/>
<ellipse cx="579.9" cy="669.1" rx="1.4" ry="1.1" fill="#967a6c"/>
<ellipse cx="513.7" cy="754.0" rx="1.5" ry="1.3" fill="#a28676"/>
<ellipse cx="505.5" cy="684.3" rx="1.6" ry="1.0" fill="#9e8274"/>
<ellipse cx="491.0" cy="717.7" rx="1.5" ry="1.0" fill="#a28676"/>
<ellipse cx="489.5" cy="739.9" rx="1.1" ry="1.1" fill="#a28676"/>
<ellipse cx="516.8" cy="737.5" rx="1.5" ry="1.0" fill="#8c7264"/>
<ellipse cx="540.3" cy="685.5" rx="1.2" ry="1.1" fill="#7e86bc"/>
<ellipse cx="490.6" cy="732.2" rx="1.5" ry="1.1" fill="#ac9080"/>
<ellipse cx="486.0" cy="668.7" rx="1.4" ry="0.9" fill="#ac9080"/>
<ellipse cx="512.2" cy="746.4" rx="1.2" ry="1.0" fill="#967a6c"/>
<ellipse cx="548.8" cy="689.8" rx="1.2" ry="1.0" fill="#967a6c"/>
<ellipse cx="580.9" cy="679.6" rx="1.5" ry="1.0" fill="#9aa0c8"/>
<ellipse cx="509.1" cy="720.2" rx="1.5" ry="1.1" fill="#a28676"/>
<ellipse cx="558.4" cy="719.6" rx="1.2" ry="1.2" fill="#a28676"/>
<ellipse cx="580.3" cy="696.9" rx="1.4" ry="1.1" fill="#7e86bc"/>
<ellipse cx="581.2" cy="677.8" rx="1.1" ry="1.1" fill="#9e8274"/>
<ellipse cx="489.8" cy="683.2" rx="1.4" ry="1.1" fill="#ac9080"/>
<ellipse cx="530.7" cy="711.4" rx="1.4" ry="1.2" fill="#967a6c"/>
<ellipse cx="481.3" cy="677.1" rx="1.6" ry="1.2" fill="#967a6c"/>
<ellipse cx="533.2" cy="680.8" rx="1.5" ry="1.0" fill="#a28676"/>
<ellipse cx="494.3" cy="743.9" rx="1.4" ry="1.0" fill="#ac9080"/>
<ellipse cx="556.3" cy="731.0" rx="1.5" ry="1.0" fill="#9aa0c8"/>
<ellipse cx="528.1" cy="704.5" rx="1.3" ry="1.2" fill="#967a6c"/>
<ellipse cx="510.4" cy="683.7" rx="1.2" ry="1.3" fill="#ac9080"/>
<ellipse cx="478.9" cy="685.2" rx="1.5" ry="1.1" fill="#8c7264"/>
<ellipse cx="473.7" cy="679.8" rx="1.2" ry="1.0" fill="#a28676"/>
<ellipse cx="498.8" cy="744.5" rx="1.3" ry="1.2" fill="#ac9080"/>
<ellipse cx="492.9" cy="719.5" rx="1.5" ry="1.2" fill="#9e8274"/>
<ellipse cx="571.1" cy="709.6" rx="1.4" ry="1.2" fill="#8c7264"/>
<ellipse cx="501.7" cy="700.4" rx="1.5" ry="0.9" fill="#967a6c"/>
<ellipse cx="532.1" cy="750.7" rx="1.4" ry="1.0" fill="#8c7264"/>
<ellipse cx="580.0" cy="736.4" rx="1.5" ry="1.2" fill="#967a6c"/>
<ellipse cx="558.6" cy="748.5" rx="1.4" ry="0.9" fill="#8c7264"/>
<ellipse cx="544.7" cy="752.4" rx="1.2" ry="0.9" fill="#967a6c"/>
<ellipse cx="571.5" cy="694.6" rx="1.2" ry="0.9" fill="#8c7264"/>
<ellipse cx="566.8" cy="705.5" rx="1.3" ry="1.1" fill="#8c7264"/>
<ellipse cx="560.7" cy="731.0" rx="1.3" ry="1.1" fill="#ac9080"/>
<ellipse cx="557.0" cy="706.2" rx="1.3" ry="1.2" fill="#9e8274"/>
<ellipse cx="488.6" cy="723.0" rx="1.3" ry="1.3" fill="#ac9080"/>
<ellipse cx="514.7" cy="693.8" rx="1.5" ry="1.1" fill="#8c7264"/>
<ellipse cx="473.8" cy="723.6" rx="1.2" ry="1.2" fill="#967a6c"/>
<ellipse cx="548.1" cy="693.5" rx="1.1" ry="0.9" fill="#967a6c"/>
<ellipse cx="558.7" cy="713.9" rx="1.2" ry="1.1" fill="#ac9080"/>
<ellipse cx="564.8" cy="693.3" rx="1.2" ry="1.2" fill="#7e86bc"/>
<ellipse cx="536.7" cy="741.2" rx="1.4" ry="1.1" fill="#9e8274"/>
<ellipse cx="486.5" cy="678.6" rx="1.4" ry="1.1" fill="#8c7264"/>
<ellipse cx="565.2" cy="752.1" rx="1.4" ry="1.0" fill="#a28676"/>
<ellipse cx="545.7" cy="678.8" rx="1.3" ry="1.3" fill="#967a6c"/>
<ellipse cx="485.8" cy="711.3" rx="1.3" ry="1.1" fill="#9e8274"/>
<ellipse cx="481.6" cy="741.7" rx="1.5" ry="1.1" fill="#a28676"/>
<ellipse cx="506.0" cy="741.8" rx="1.2" ry="1.0" fill="#9e8274"/>
<ellipse cx="477.2" cy="737.7" rx="1.4" ry="1.0" fill="#ac9080"/>
<ellipse cx="577.7" cy="701.4" rx="1.3" ry="1.1" fill="#a28676"/>
<ellipse cx="484.6" cy="669.4" rx="1.3" ry="1.0" fill="#967a6c"/>
<ellipse cx="494.3" cy="741.4" rx="1.6" ry="1.0" fill="#8c7264"/>
<ellipse cx="513.8" cy="729.4" rx="1.5" ry="1.2" fill="#ac9080"/>
<ellipse cx="493.8" cy="685.1" rx="1.4" ry="1.2" fill="#9aa0c8"/>
<ellipse cx="478.0" cy="746.7" rx="1.2" ry="1.1" fill="#8c7264"/>
<ellipse cx="499.3" cy="727.8" rx="1.4" ry="1.2" fill="#ac9080"/>
<ellipse cx="576.7" cy="751.5" rx="1.2" ry="1.1" fill="#8c7264"/>
<ellipse cx="528.5" cy="730.2" rx="1.3" ry="1.2" fill="#9aa0c8"/>
<ellipse cx="576.3" cy="707.8" rx="1.5" ry="1.3" fill="#9e8274"/>
<ellipse cx="524.3" cy="670.7" rx="1.5" ry="1.1" fill="#ac9080"/>
<ellipse cx="494.2" cy="682.6" rx="1.2" ry="1.2" fill="#967a6c"/>
<ellipse cx="535.7" cy="690.4" rx="1.4" ry="1.2" fill="#7e86bc"/>
<ellipse cx="477.7" cy="745.5" rx="1.4" ry="0.9" fill="#8c7264"/>
<ellipse cx="479.3" cy="710.9" rx="1.5" ry="1.3" fill="#8c7264"/>
<ellipse cx="485.6" cy="696.1" rx="1.2" ry="1.0" fill="#9e8274"/>
<ellipse cx="480.5" cy="679.7" rx="1.4" ry="1.1" fill="#a28676"/>
<ellipse cx="501.2" cy="704.9" rx="1.5" ry="1.1" fill="#a28676"/>
<ellipse cx="483.6" cy="676.5" rx="1.1" ry="1.2" fill="#a28676"/>
<ellipse cx="503.3" cy="735.0" rx="1.2" ry="1.2" fill="#ac9080"/>
<ellipse cx="560.8" cy="754.0" rx="1.5" ry="1.2" fill="#8a92c4"/>
<ellipse cx="568.5" cy="754.3" rx="1.5" ry="1.3" fill="#8c7264"/>
<ellipse cx="531.3" cy="723.0" rx="1.4" ry="1.2" fill="#8a92c4"/>
<ellipse cx="581.5" cy="719.5" rx="1.2" ry="1.1" fill="#967a6c"/>
<ellipse cx="482.7" cy="716.2" rx="1.4" ry="1.1" fill="#a28676"/>
<ellipse cx="533.9" cy="673.4" rx="1.4" ry="1.0" fill="#ac9080"/>
<ellipse cx="529.5" cy="747.1" rx="1.3" ry="0.9" fill="#a28676"/>
<ellipse cx="507.7" cy="746.3" rx="1.2" ry="1.2" fill="#8c7264"/>
<ellipse cx="544.6" cy="740.3" rx="1.1" ry="1.3" fill="#ac9080"/>
<ellipse cx="566.7" cy="728.9" rx="1.2" ry="1.2" fill="#ac9080"/>
<ellipse cx="545.2" cy="717.1" rx="1.4" ry="1.3" fill="#ac9080"/>
<ellipse cx="542.1" cy="734.5" rx="1.5" ry="1.2" fill="#8c7264"/>
<ellipse cx="470.3" cy="692.6" rx="1.3" ry="1.2" fill="#9e8274"/>
<ellipse cx="534.4" cy="721.6" rx="1.6" ry="1.3" fill="#967a6c"/>
<ellipse cx="502.6" cy="712.0" rx="1.3" ry="1.3" fill="#ac9080"/>
<ellipse cx="549.7" cy="700.8" rx="1.6" ry="1.1" fill="#a28676"/>
<ellipse cx="571.6" cy="704.5" rx="1.2" ry="1.2" fill="#967a6c"/>
<ellipse cx="488.2" cy="674.1" rx="1.4" ry="1.1" fill="#8c7264"/>
<ellipse cx="545.2" cy="674.6" rx="1.6" ry="1.1" fill="#8c7264"/>
<ellipse cx="580.2" cy="711.2" rx="1.5" ry="1.2" fill="#967a6c"/>
<ellipse cx="566.6" cy="717.1" rx="1.3" ry="1.1" fill="#ac9080"/>
<ellipse cx="539.6" cy="722.7" rx="1.4" ry="1.2" fill="#967a6c"/>
<ellipse cx="529.8" cy="725.5" rx="1.3" ry="1.1" fill="#967a6c"/>
<ellipse cx="470.2" cy="707.0" rx="1.2" ry="1.2" fill="#ac9080"/>
<ellipse cx="524.3" cy="675.5" rx="1.5" ry="1.2" fill="#a28676"/>
<ellipse cx="572.3" cy="666.6" rx="1.6" ry="1.2" fill="#a28676"/>
<ellipse cx="500.8" cy="708.8" rx="1.6" ry="1.0" fill="#967a6c"/>
<ellipse cx="510.0" cy="740.1" rx="1.5" ry="1.3" fill="#ac9080"/>
<ellipse cx="497.2" cy="749.5" rx="1.3" ry="1.2" fill="#967a6c"/>
<ellipse cx="565.3" cy="683.4" rx="1.5" ry="1.1" fill="#ac9080"/>
<ellipse cx="565.5" cy="744.5" rx="1.2" ry="1.0" fill="#a28676"/>
<ellipse cx="535.6" cy="684.3" rx="1.5" ry="0.9" fill="#8c7264"/>
<ellipse cx="552.3" cy="675.9" rx="1.6" ry="1.3" fill="#a28676"/>
<ellipse cx="516.4" cy="746.2" rx="1.2" ry="1.1" fill="#8c7264"/>
<ellipse cx="481.9" cy="679.8" rx="1.4" ry="1.0" fill="#ac9080"/>
<ellipse cx="481.2" cy="721.0" rx="1.3" ry="1.1" fill="#a28676"/>
<ellipse cx="567.4" cy="713.1" rx="1.3" ry="1.1" fill="#a28676"/>
<ellipse cx="471.5" cy="707.3" rx="1.5" ry="1.3" fill="#ac9080"/>
<ellipse cx="538.3" cy="731.3" rx="1.6" ry="1.3" fill="#967a6c"/>
<ellipse cx="578.6" cy="702.1" rx="1.4" ry="0.9" fill="#9e8274"/>
<ellipse cx="543.2" cy="736.9" rx="1.6" ry="1.2" fill="#9e8274"/>
<ellipse cx="507.2" cy="710.9" rx="1.3" ry="1.0" fill="#967a6c"/>
<ellipse cx="494.2" cy="685.8" rx="1.1" ry="1.1" fill="#967a6c"/>
<ellipse cx="527.6" cy="687.1" rx="1.3" ry="1.1" fill="#9e8274"/>
<ellipse cx="550.7" cy="668.0" rx="1.1" ry="1.2" fill="#967a6c"/>
<ellipse cx="528.7" cy="745.5" rx="1.5" ry="1.2" fill="#9e8274"/>
<ellipse cx="509.8" cy="709.3" rx="1.1" ry="1.1" fill="#967a6c"/>
<ellipse cx="502.4" cy="738.3" rx="1.3" ry="0.9" fill="#a28676"/>
<ellipse cx="579.0" cy="684.4" rx="1.1" ry="1.3" fill="#9e8274"/>
<ellipse cx="540.1" cy="682.6" rx="1.5" ry="1.2" fill="#a28676"/>
<ellipse cx="580.9" cy="713.6" rx="1.6" ry="1.0" fill="#a28676"/>
<ellipse cx="523.9" cy="746.4" rx="1.5" ry="1.3" fill="#8c7264"/>
<ellipse cx="481.8" cy="730.3" rx="1.5" ry="1.0" fill="#9e8274"/>
<ellipse cx="549.2" cy="669.2" rx="1.4" ry="1.3" fill="#7e86bc"/>
<ellipse cx="567.6" cy="688.3" rx="1.1" ry="1.2" fill="#8c7264"/>
<ellipse cx="581.1" cy="666.9" rx="1.6" ry="1.3" fill="#9e8274"/>
<ellipse cx="564.8" cy="704.4" rx="1.3" ry="1.0" fill="#ac9080"/>
<ellipse cx="514.2" cy="750.7" rx="1.2" ry="1.2" fill="#9aa0c8"/>
<ellipse cx="518.2" cy="708.4" rx="1.4" ry="1.0" fill="#a28676"/>
<ellipse cx="560.5" cy="716.8" rx="1.4" ry="1.3" fill="#967a6c"/>
<ellipse cx="476.4" cy="742.6" rx="1.3" ry="1.1" fill="#967a6c"/>
<ellipse cx="580.8" cy="747.8" rx="1.3" ry="1.2" fill="#967a6c"/>
<ellipse cx="468.1" cy="723.1" rx="1.5" ry="1.0" fill="#a28676"/>
<ellipse cx="503.3" cy="707.8" rx="1.2" ry="1.3" fill="#9e8274"/>
<ellipse cx="541.8" cy="687.5" rx="1.2" ry="1.0" fill="#a28676"/>
<ellipse cx="478.1" cy="734.4" rx="1.5" ry="1.0" fill="#8c7264"/>
<ellipse cx="493.3" cy="706.1" rx="1.4" ry="1.2" fill="#8c7264"/>
<ellipse cx="487.0" cy="754.0" rx="1.5" ry="0.9" fill="#8a92c4"/>
<ellipse cx="566.8" cy="680.2" rx="1.3" ry="1.2" fill="#ac9080"/>
<ellipse cx="475.0" cy="706.8" rx="1.1" ry="1.0" fill="#a28676"/>
<ellipse cx="546.9" cy="709.9" rx="1.1" ry="1.2" fill="#967a6c"/>
<ellipse cx="493.7" cy="723.7" rx="1.3" ry="0.9" fill="#967a6c"/>
<ellipse cx="496.1" cy="708.6" rx="1.1" ry="1.3" fill="#ac9080"/>
<ellipse cx="467.2" cy="707.3" rx="1.3" ry="1.0" fill="#9e8274"/>
<ellipse cx="493.7" cy="736.4" rx="1.2" ry="1.0" fill="#9e8274"/>
<ellipse cx="511.3" cy="724.3" rx="1.2" ry="1.2" fill="#9e8274"/>
<ellipse cx="549.6" cy="683.5" rx="1.6" ry="1.1" fill="#9aa0c8"/>
<ellipse cx="505.6" cy="669.3" rx="1.1" ry="1.2" fill="#8c7264"/>
<ellipse cx="484.7" cy="732.9" rx="1.5" ry="1.0" fill="#967a6c"/>
<ellipse cx="470.3" cy="668.1" rx="1.4" ry="0.9" fill="#ac9080"/>
<ellipse cx="481.4" cy="676.2" rx="1.4" ry="1.1" fill="#ac9080"/>
<ellipse cx="571.9" cy="681.1" rx="1.2" ry="1.1" fill="#9e8274"/>
<ellipse cx="545.5" cy="737.8" rx="1.3" ry="1.0" fill="#9e8274"/>
<ellipse cx="504.6" cy="695.0" rx="1.3" ry="1.3" fill="#8c7264"/>
<ellipse cx="482.4" cy="741.3" rx="1.5" ry="1.0" fill="#967a6c"/>
<ellipse cx="471.1" cy="729.7" rx="1.2" ry="1.2" fill="#9e8274"/>
<ellipse cx="484.4" cy="690.8" rx="1.4" ry="1.1" fill="#8c7264"/>
<ellipse cx="505.3" cy="740.7" rx="1.2" ry="1.1" fill="#967a6c"/>
<ellipse cx="530.9" cy="691.3" rx="1.3" ry="1.0" fill="#a28676"/>
<ellipse cx="486.1" cy="714.4" rx="1.5" ry="1.1" fill="#8c7264"/>
<ellipse cx="522.5" cy="667.0" rx="1.6" ry="1.2" fill="#8a92c4"/>
<ellipse cx="545.7" cy="701.8" rx="1.5" ry="0.9" fill="#9e8274"/>
<ellipse cx="479.4" cy="672.3" rx="1.2" ry="1.0" fill="#8c7264"/>
<ellipse cx="561.6" cy="695.7" rx="1.5" ry="1.2" fill="#9aa0c8"/>
<ellipse cx="485.6" cy="708.4" rx="1.1" ry="0.9" fill="#a28676"/>
<ellipse cx="474.4" cy="694.1" rx="1.5" ry="0.9" fill="#9e8274"/>
<ellipse cx="514.1" cy="717.9" rx="1.6" ry="1.0" fill="#ac9080"/>
<ellipse cx="517.0" cy="683.9" rx="1.1" ry="0.9" fill="#967a6c"/>
<ellipse cx="541.7" cy="752.2" rx="1.2" ry="1.0" fill="#ac9080"/>
<ellipse cx="542.5" cy="711.0" rx="1.5" ry="1.1" fill="#8c7264"/>
<ellipse cx="527.9" cy="698.5" rx="1.2" ry="1.0" fill="#8c7264"/>
<ellipse cx="541.8" cy="711.0" rx="1.2" ry="1.2" fill="#a28676"/>
<ellipse cx="487.3" cy="720.9" rx="1.3" ry="1.0" fill="#967a6c"/>
<ellipse cx="513.9" cy="719.0" rx="1.2" ry="1.2" fill="#9e8274"/>
<ellipse cx="571.3" cy="696.6" rx="1.5" ry="1.3" fill="#9e8274"/>
<ellipse cx="532.7" cy="678.7" rx="1.2" ry="1.2" fill="#ac9080"/>
<ellipse cx="488.1" cy="723.2" rx="1.2" ry="1.1" fill="#9e8274"/>
<ellipse cx="569.4" cy="709.4" rx="1.5" ry="1.0" fill="#ac9080"/>
<ellipse cx="573.2" cy="692.4" rx="1.3" ry="1.1" fill="#9e8274"/>
<ellipse cx="497.3" cy="672.8" rx="1.4" ry="1.1" fill="#8c7264"/>
<ellipse cx="468.5" cy="712.6" rx="1.5" ry="1.2" fill="#9e8274"/>
<ellipse cx="471.2" cy="731.2" rx="1.6" ry="1.3" fill="#ac9080"/>
<ellipse cx="531.2" cy="667.7" rx="1.5" ry="1.2" fill="#a28676"/>
<ellipse cx="491.9" cy="722.0" rx="1.4" ry="1.0" fill="#7e86bc"/>
<ellipse cx="494.5" cy="692.8" rx="1.2" ry="1.2" fill="#9e8274"/>
<ellipse cx="569.9" cy="686.0" rx="1.3" ry="1.1" fill="#ac9080"/>
<ellipse cx="504.0" cy="681.2" rx="1.2" ry="1.1" fill="#ac9080"/>
<ellipse cx="549.4" cy="753.0" rx="1.3" ry="1.2" fill="#ac9080"/>
<ellipse cx="470.8" cy="729.4" rx="1.5" ry="1.1" fill="#a28676"/>
<ellipse cx="577.1" cy="709.2" rx="1.3" ry="1.0" fill="#9e8274"/>
<ellipse cx="517.6" cy="688.4" rx="1.6" ry="1.0" fill="#9e8274"/>
<ellipse cx="535.2" cy="742.1" rx="1.1" ry="0.9" fill="#9e8274"/>
<ellipse cx="536.3" cy="749.4" rx="1.2" ry="1.2" fill="#9aa0c8"/>
<ellipse cx="563.9" cy="674.1" rx="1.6" ry="1.1" fill="#8c7264"/>
<ellipse cx="510.6" cy="721.0" rx="1.3" ry="1.2" fill="#a28676"/>
<ellipse cx="481.1" cy="744.3" rx="1.2" ry="1.0" fill="#ac9080"/>
<ellipse cx="468.1" cy="746.3" rx="1.5" ry="1.1" fill="#967a6c"/>
<ellipse cx="528.7" cy="667.5" rx="1.5" ry="1.2" fill="#967a6c"/>
<ellipse cx="481.6" cy="694.2" rx="1.4" ry="1.2" fill="#8c7264"/>
<ellipse cx="505.5" cy="697.5" rx="1.6" ry="1.0" fill="#9e8274"/>
<ellipse cx="506.2" cy="674.2" rx="1.4" ry="1.1" fill="#967a6c"/>
<ellipse cx="561.2" cy="730.2" rx="1.4" ry="1.3" fill="#8c7264"/>
<ellipse cx="567.6" cy="710.2" rx="1.1" ry="1.0" fill="#967a6c"/>
<ellipse cx="482.6" cy="680.6" rx="1.4" ry="1.0" fill="#8c7264"/>
<ellipse cx="465.8" cy="753.2" rx="1.6" ry="1.0" fill="#9e8274"/>
<ellipse cx="529.1" cy="715.5" rx="1.6" ry="1.2" fill="#8c7264"/>
<ellipse cx="493.4" cy="743.5" rx="1.2" ry="0.9" fill="#9e8274"/>
<ellipse cx="539.7" cy="709.9" rx="1.2" ry="1.0" fill="#8c7264"/>
<ellipse cx="483.4" cy="731.8" rx="1.4" ry="1.1" fill="#ac9080"/>
<ellipse cx="478.9" cy="716.4" rx="1.3" ry="1.1" fill="#8c7264"/>
<ellipse cx="554.9" cy="674.0" rx="1.4" ry="1.3" fill="#7e86bc"/>
<ellipse cx="561.1" cy="725.4" rx="1.4" ry="0.9" fill="#9e8274"/>
<ellipse cx="542.0" cy="684.0" rx="1.3" ry="1.1" fill="#9e8274"/>
<ellipse cx="561.3" cy="724.3" rx="1.2" ry="1.3" fill="#ac9080"/>
<ellipse cx="578.1" cy="753.0" rx="1.1" ry="1.0" fill="#9e8274"/>
<ellipse cx="532.8" cy="690.2" rx="1.5" ry="0.9" fill="#967a6c"/>
<ellipse cx="558.6" cy="749.9" rx="1.6" ry="1.3" fill="#8c7264"/>
<ellipse cx="544.6" cy="666.8" rx="1.5" ry="1.1" fill="#8c7264"/>
<ellipse cx="575.2" cy="709.8" rx="1.4" ry="1.0" fill="#967a6c"/>
<ellipse cx="473.2" cy="683.1" rx="1.3" ry="0.9" fill="#9e8274"/>
<ellipse cx="519.9" cy="673.1" rx="1.4" ry="1.3" fill="#9e8274"/>
<ellipse cx="489.1" cy="712.1" rx="1.3" ry="0.9" fill="#967a6c"/>
<ellipse cx="571.8" cy="685.3" rx="1.4" ry="1.1" fill="#9e8274"/>
<ellipse cx="536.8" cy="677.5" rx="1.2" ry="0.9" fill="#a28676"/>
<ellipse cx="522.8" cy="678.2" rx="1.1" ry="1.2" fill="#967a6c"/>
<ellipse cx="520.4" cy="738.0" rx="1.2" ry="1.2" fill="#ac9080"/>
<ellipse cx="491.8" cy="716.7" rx="1.3" ry="0.9" fill="#9aa0c8"/>
<ellipse cx="546.9" cy="677.3" rx="1.4" ry="1.3" fill="#967a6c"/>
<ellipse cx="509.8" cy="672.2" rx="1.2" ry="1.1" fill="#9e8274"/>
<ellipse cx="475.1" cy="732.1" rx="1.3" ry="1.2" fill="#a28676"/>
<ellipse cx="570.6" cy="734.8" rx="1.1" ry="0.9" fill="#9e8274"/>
<ellipse cx="486.5" cy="716.8" rx="1.2" ry="1.2" fill="#9e8274"/>
<ellipse cx="507.0" cy="748.5" rx="1.3" ry="1.1" fill="#8c7264"/>
<ellipse cx="502.4" cy="680.5" rx="1.6" ry="1.0" fill="#8c7264"/>
<ellipse cx="517.1" cy="747.1" rx="1.6" ry="1.0" fill="#967a6c"/>
<ellipse cx="506.7" cy="687.7" rx="1.3" ry="1.1" fill="#ac9080"/>
<ellipse cx="496.8" cy="709.6" rx="1.4" ry="1.0" fill="#8c7264"/>
<ellipse cx="575.0" cy="750.6" rx="1.2" ry="0.9" fill="#7e86bc"/>
<ellipse cx="499.4" cy="669.9" rx="1.6" ry="1.2" fill="#a28676"/>
<ellipse cx="527.2" cy="735.4" rx="1.1" ry="0.9" fill="#ac9080"/>
<ellipse cx="467.1" cy="702.5" rx="1.5" ry="1.3" fill="#a28676"/>
<ellipse cx="504.2" cy="707.2" rx="1.4" ry="1.1" fill="#a28676"/>
<ellipse cx="524.4" cy="730.5" rx="1.5" ry="1.1" fill="#967a6c"/>
<ellipse cx="545.6" cy="680.7" rx="1.3" ry="1.1" fill="#a28676"/>
<ellipse cx="474.3" cy="752.6" rx="1.4" ry="1.3" fill="#967a6c"/>
<ellipse cx="505.2" cy="712.3" rx="1.6" ry="1.1" fill="#ac9080"/>
<ellipse cx="554.0" cy="701.2" rx="1.3" ry="1.0" fill="#9e8274"/>
<ellipse cx="504.5" cy="682.3" rx="1.4" ry="1.3" fill="#9e8274"/>
<ellipse cx="524.9" cy="715.2" rx="1.5" ry="1.3" fill="#967a6c"/>
<ellipse cx="486.6" cy="743.3" rx="1.3" ry="1.1" fill="#9e8274"/>
<ellipse cx="522.1" cy="680.8" rx="1.6" ry="1.1" fill="#9e8274"/>
<ellipse cx="576.3" cy="732.7" rx="1.2" ry="1.3" fill="#967a6c"/>
<ellipse cx="558.9" cy="739.2" rx="1.2" ry="1.0" fill="#a28676"/>
<ellipse cx="548.2" cy="705.6" rx="1.5" ry="1.0" fill="#9e8274"/>
<ellipse cx="487.9" cy="750.8" rx="1.5" ry="1.1" fill="#a28676"/>
<ellipse cx="507.3" cy="681.2" rx="1.5" ry="1.3" fill="#a28676"/>
<ellipse cx="542.3" cy="673.3" rx="1.5" ry="0.9" fill="#7e86bc"/>
<ellipse cx="493.3" cy="709.2" rx="1.2" ry="1.3" fill="#967a6c"/>
<ellipse cx="561.9" cy="719.1" rx="1.3" ry="1.3" fill="#9e8274"/>
<ellipse cx="556.1" cy="720.3" rx="1.3" ry="1.1" fill="#ac9080"/>
<ellipse cx="511.8" cy="704.8" rx="1.5" ry="1.0" fill="#9e8274"/>
<ellipse cx="541.6" cy="691.3" rx="1.2" ry="1.1" fill="#7e86bc"/>
<ellipse cx="512.2" cy="693.7" rx="1.5" ry="1.3" fill="#9e8274"/>
<ellipse cx="549.7" cy="734.3" rx="1.3" ry="1.0" fill="#a28676"/>
<ellipse cx="479.0" cy="715.9" rx="1.2" ry="1.0" fill="#8c7264"/>
<ellipse cx="543.4" cy="736.5" rx="1.4" ry="1.1" fill="#ac9080"/>
<ellipse cx="503.2" cy="671.4" rx="1.5" ry="1.0" fill="#ac9080"/>
<ellipse cx="510.7" cy="688.6" rx="1.4" ry="1.2" fill="#a28676"/>
<ellipse cx="502.5" cy="667.7" rx="1.6" ry="1.0" fill="#ac9080"/>
<ellipse cx="479.4" cy="705.0" rx="1.3" ry="1.3" fill="#8a92c4"/>
<ellipse cx="521.0" cy="687.6" rx="1.1" ry="1.0" fill="#a28676"/>
<ellipse cx="521.6" cy="721.9" rx="1.5" ry="1.2" fill="#9e8274"/>
<ellipse cx="498.1" cy="721.0" rx="1.2" ry="1.2" fill="#9e8274"/>
<ellipse cx="564.4" cy="696.2" rx="1.1" ry="1.3" fill="#967a6c"/>
<ellipse cx="549.3" cy="734.6" rx="1.4" ry="1.2" fill="#9e8274"/>
<ellipse cx="561.2" cy="720.9" rx="1.4" ry="1.2" fill="#9e8274"/>
<ellipse cx="543.6" cy="752.6" rx="1.4" ry="1.3" fill="#ac9080"/>
<ellipse cx="480.9" cy="693.3" rx="1.4" ry="1.3" fill="#8c7264"/>
<ellipse cx="531.5" cy="687.2" rx="1.4" ry="1.2" fill="#a28676"/>
<ellipse cx="529.6" cy="704.9" rx="1.5" ry="1.2" fill="#9aa0c8"/>
<ellipse cx="548.4" cy="746.0" rx="1.3" ry="1.2" fill="#967a6c"/>
<ellipse cx="557.1" cy="704.9" rx="1.6" ry="1.2" fill="#967a6c"/>
<ellipse cx="553.2" cy="695.1" rx="1.1" ry="0.9" fill="#9e8274"/>
<ellipse cx="517.4" cy="671.5" rx="1.6" ry="1.0" fill="#ac9080"/>
<ellipse cx="520.9" cy="743.3" rx="1.5" ry="1.1" fill="#9e8274"/>
<ellipse cx="572.1" cy="722.7" rx="1.2" ry="1.3" fill="#9e8274"/>
<ellipse cx="554.1" cy="707.9" rx="1.2" ry="0.9" fill="#9e8274"/>
<ellipse cx="525.0" cy="700.2" rx="1.2" ry="1.0" fill="#8c7264"/>
<ellipse cx="578.7" cy="705.8" rx="1.3" ry="1.2" fill="#967a6c"/>
<ellipse cx="494.6" cy="679.1" rx="1.2" ry="1.1" fill="#a28676"/>
<ellipse cx="563.8" cy="715.6" rx="1.4" ry="1.3" fill="#9e8274"/>
<ellipse cx="545.0" cy="716.3" rx="1.4" ry="1.1" fill="#967a6c"/>
<ellipse cx="548.9" cy="707.3" rx="1.3" ry="0.9" fill="#967a6c"/>
<ellipse cx="578.9" cy="733.4" rx="1.6" ry="1.1" fill="#a28676"/>
<ellipse cx="556.7" cy="692.8" rx="1.3" ry="1.0" fill="#9e8274"/>
<ellipse cx="557.5" cy="675.5" rx="1.5" ry="1.3" fill="#9e8274"/>
<ellipse cx="491.7" cy="719.6" rx="1.3" ry="1.2" fill="#967a6c"/>
<ellipse cx="581.3" cy="700.0" rx="1.3" ry="1.0" fill="#8c7264"/>
<ellipse cx="508.8" cy="724.5" rx="1.5" ry="1.0" fill="#967a6c"/>
<ellipse cx="550.2" cy="706.6" rx="1.1" ry="1.1" fill="#9e8274"/>
<ellipse cx="503.6" cy="693.7" rx="1.5" ry="1.2" fill="#a28676"/>
<ellipse cx="526.5" cy="731.7" rx="1.6" ry="0.9" fill="#a28676"/>
<ellipse cx="480.6" cy="708.9" rx="1.5" ry="1.1" fill="#9e8274"/>
<ellipse cx="562.3" cy="707.0" rx="1.2" ry="1.0" fill="#ac9080"/>
<ellipse cx="559.6" cy="754.2" rx="1.3" ry="1.0" fill="#9e8274"/>
<ellipse cx="575.9" cy="735.6" rx="1.2" ry="0.9" fill="#9e8274"/>
<ellipse cx="502.6" cy="674.3" rx="1.3" ry="1.1" fill="#a28676"/>
<ellipse cx="466.1" cy="715.8" rx="1.2" ry="0.9" fill="#ac9080"/>
<ellipse cx="488.9" cy="753.2" rx="1.4" ry="1.2" fill="#8c7264"/>
<ellipse cx="568.7" cy="687.0" rx="1.5" ry="1.0" fill="#967a6c"/>
<ellipse cx="492.5" cy="710.1" rx="1.5" ry="1.3" fill="#9e8274"/>
<ellipse cx="555.5" cy="705.2" rx="1.6" ry="1.2" fill="#ac9080"/>
<ellipse cx="537.4" cy="710.2" rx="1.6" ry="1.0" fill="#a28676"/>
<ellipse cx="559.3" cy="747.0" rx="1.2" ry="0.9" fill="#ac9080"/>
<ellipse cx="523.6" cy="702.5" rx="1.2" ry="1.0" fill="#a28676"/>
<ellipse cx="497.4" cy="686.9" rx="1.5" ry="1.0" fill="#8c7264"/>
<ellipse cx="531.0" cy="729.3" rx="1.4" ry="1.0" fill="#a28676"/>
<ellipse cx="514.5" cy="753.9" rx="1.4" ry="0.9" fill="#8c7264"/>
<ellipse cx="510.2" cy="723.3" rx="1.4" ry="1.1" fill="#ac9080"/>
<ellipse cx="578.6" cy="750.3" rx="1.3" ry="1.0" fill="#967a6c"/>
<ellipse cx="519.8" cy="729.6" rx="1.4" ry="1.2" fill="#ac9080"/>
<ellipse cx="512.8" cy="746.4" rx="1.2" ry="1.0" fill="#8c7264"/>
<ellipse cx="472.5" cy="702.4" rx="1.3" ry="1.1" fill="#9aa0c8"/>
<ellipse cx="475.9" cy="734.9" rx="1.3" ry="1.3" fill="#8c7264"/>
<ellipse cx="478.3" cy="707.8" rx="1.5" ry="1.1" fill="#a28676"/>
<ellipse cx="491.0" cy="683.6" rx="1.3" ry="1.0" fill="#a28676"/>
<ellipse cx="551.3" cy="749.0" rx="1.5" ry="1.1" fill="#967a6c"/>
<ellipse cx="556.6" cy="691.1" rx="1.2" ry="1.3" fill="#a28676"/>
<ellipse cx="502.4" cy="666.4" rx="1.1" ry="1.3" fill="#8c7264"/>
<ellipse cx="520.5" cy="736.0" rx="1.4" ry="1.2" fill="#8c7264"/>
<ellipse cx="569.3" cy="711.6" rx="1.4" ry="1.0" fill="#ac9080"/>
<ellipse cx="559.4" cy="711.7" rx="1.2" ry="1.0" fill="#ac9080"/>
<ellipse cx="561.8" cy="667.6" rx="1.1" ry="1.0" fill="#967a6c"/>
<ellipse cx="581.6" cy="682.9" rx="1.4" ry="1.3" fill="#a28676"/>
<ellipse cx="558.2" cy="746.4" rx="1.2" ry="1.1" fill="#7e86bc"/>
<ellipse cx="487.6" cy="707.3" rx="1.2" ry="1.0" fill="#967a6c"/>
<ellipse cx="497.8" cy="746.3" rx="1.4" ry="1.3" fill="#8c7264"/>
<ellipse cx="554.4" cy="698.1" rx="1.3" ry="0.9" fill="#ac9080"/>
<ellipse cx="469.2" cy="701.4" rx="1.5" ry="1.0" fill="#a28676"/>
<ellipse cx="539.4" cy="710.2" rx="1.2" ry="0.9" fill="#a28676"/>
<ellipse cx="512.7" cy="715.6" rx="1.6" ry="1.1" fill="#8c7264"/>
<ellipse cx="486.9" cy="701.9" rx="1.2" ry="1.0" fill="#8c7264"/>
<ellipse cx="579.3" cy="675.7" rx="1.2" ry="1.1" fill="#ac9080"/>
<ellipse cx="575.0" cy="706.9" rx="1.4" ry="0.9" fill="#ac9080"/>
<ellipse cx="523.4" cy="736.8" rx="1.3" ry="0.9" fill="#ac9080"/>
<ellipse cx="562.0" cy="684.4" rx="1.2" ry="1.2" fill="#ac9080"/>
<ellipse cx="570.4" cy="724.7" rx="1.4" ry="1.2" fill="#8c7264"/>
<ellipse cx="525.1" cy="745.1" rx="1.4" ry="1.2" fill="#9e8274"/>
<ellipse cx="468.3" cy="752.2" rx="1.6" ry="1.2" fill="#9e8274"/>
<ellipse cx="537.3" cy="686.2" rx="1.5" ry="1.1" fill="#ac9080"/>
<ellipse cx="466.0" cy="700.9" rx="1.3" ry="1.2" fill="#967a6c"/>
<ellipse cx="578.3" cy="682.7" rx="1.2" ry="1.1" fill="#9e8274"/>
<ellipse cx="505.8" cy="671.4" rx="1.2" ry="1.2" fill="#ac9080"/>
<ellipse cx="571.0" cy="677.3" rx="1.5" ry="1.2" fill="#8c7264"/>
<ellipse cx="508.6" cy="694.9" rx="1.6" ry="1.1" fill="#8c7264"/>
<ellipse cx="552.0" cy="669.7" rx="1.3" ry="1.0" fill="#ac9080"/>
<ellipse cx="550.2" cy="734.2" rx="1.5" ry="0.9" fill="#967a6c"/>
<ellipse cx="577.5" cy="747.1" rx="1.3" ry="0.9" fill="#ac9080"/>
<ellipse cx="470.9" cy="699.5" rx="1.1" ry="0.9" fill="#967a6c"/>
<ellipse cx="524.9" cy="689.4" rx="1.3" ry="1.3" fill="#8c7264"/>
<ellipse cx="473.7" cy="703.4" rx="1.4" ry="1.0" fill="#9e8274"/>
<ellipse cx="538.8" cy="715.0" rx="1.3" ry="0.9" fill="#9e8274"/>
<ellipse cx="485.4" cy="707.7" rx="1.3" ry="1.1" fill="#967a6c"/>
<ellipse cx="485.7" cy="703.3" rx="1.3" ry="1.2" fill="#8c7264"/>
<ellipse cx="568.3" cy="736.6" rx="1.1" ry="1.0" fill="#9e8274"/>
<ellipse cx="478.1" cy="738.9" rx="1.3" ry="1.2" fill="#ac9080"/>
<ellipse cx="564.0" cy="735.5" rx="1.3" ry="1.2" fill="#8c7264"/>
<ellipse cx="539.6" cy="745.8" rx="1.2" ry="1.2" fill="#9e8274"/>
<ellipse cx="565.0" cy="723.2" rx="1.6" ry="1.0" fill="#a28676"/>
<ellipse cx="519.1" cy="690.5" rx="1.4" ry="1.2" fill="#ac9080"/>
<ellipse cx="471.4" cy="736.4" rx="1.6" ry="1.0" fill="#9e8274"/>
<ellipse cx="546.8" cy="738.5" rx="1.2" ry="0.9" fill="#8c7264"/>
<ellipse cx="474.1" cy="724.3" rx="1.5" ry="1.2" fill="#9e8274"/>
<ellipse cx="499.5" cy="679.6" rx="1.4" ry="1.0" fill="#a28676"/>
<ellipse cx="472.6" cy="702.3" rx="1.2" ry="1.2" fill="#9e8274"/>
<ellipse cx="465.8" cy="748.0" rx="1.3" ry="1.1" fill="#a28676"/>
<ellipse cx="579.2" cy="700.4" rx="1.2" ry="1.1" fill="#7e86bc"/>
<ellipse cx="467.7" cy="688.1" rx="1.1" ry="1.1" fill="#a28676"/>
<ellipse cx="511.5" cy="678.4" rx="1.4" ry="1.2" fill="#8c7264"/>
<ellipse cx="500.9" cy="695.1" rx="1.4" ry="1.1" fill="#8c7264"/>
<ellipse cx="487.7" cy="714.1" rx="1.3" ry="1.2" fill="#ac9080"/>
<ellipse cx="568.8" cy="731.3" rx="1.4" ry="1.0" fill="#967a6c"/>
<ellipse cx="510.4" cy="721.5" rx="1.4" ry="1.1" fill="#967a6c"/>
<ellipse cx="532.2" cy="739.1" rx="1.3" ry="1.1" fill="#967a6c"/>
<ellipse cx="492.1" cy="699.5" rx="1.2" ry="1.2" fill="#8c7264"/>
<ellipse cx="559.0" cy="703.4" rx="1.4" ry="1.1" fill="#8c7264"/>
<ellipse cx="547.0" cy="716.3" rx="1.5" ry="1.1" fill="#967a6c"/>
<ellipse cx="530.2" cy="737.5" rx="1.3" ry="1.1" fill="#9e8274"/>
<ellipse cx="474.7" cy="693.4" rx="1.6" ry="0.9" fill="#a28676"/>
<ellipse cx="526.4" cy="702.9" rx="1.5" ry="1.0" fill="#a28676"/>
<ellipse cx="534.4" cy="675.4" rx="1.6" ry="1.1" fill="#967a6c"/>
<ellipse cx="569.7" cy="727.3" rx="1.5" ry="1.2" fill="#967a6c"/>
<ellipse cx="556.6" cy="726.1" rx="1.3" ry="0.9" fill="#9e8274"/>
<ellipse cx="575.5" cy="687.9" rx="1.6" ry="1.2" fill="#ac9080"/>
<ellipse cx="532.2" cy="737.7" rx="1.3" ry="1.0" fill="#a28676"/>
<ellipse cx="546.4" cy="729.6" rx="1.4" ry="0.9" fill="#9e8274"/>
<ellipse cx="530.2" cy="674.2" rx="1.5" ry="0.9" fill="#a28676"/>
<ellipse cx="536.8" cy="692.8" rx="1.4" ry="0.9" fill="#a28676"/>
<ellipse cx="536.6" cy="668.2" rx="1.2" ry="0.9" fill="#967a6c"/>
<ellipse cx="576.2" cy="711.9" rx="1.3" ry="1.1" fill="#ac9080"/>
<ellipse cx="541.2" cy="734.0" rx="1.1" ry="1.1" fill="#9e8274"/>
<ellipse cx="575.7" cy="740.4" rx="1.4" ry="1.2" fill="#9e8274"/>
<ellipse cx="513.0" cy="749.0" rx="1.2" ry="1.0" fill="#a28676"/>
<ellipse cx="513.1" cy="686.1" rx="1.5" ry="1.2" fill="#ac9080"/>
<ellipse cx="496.8" cy="696.6" rx="1.6" ry="1.2" fill="#ac9080"/>
<ellipse cx="489.2" cy="703.1" rx="1.5" ry="1.1" fill="#a28676"/>
<ellipse cx="567.6" cy="692.1" rx="1.3" ry="1.3" fill="#967a6c"/>
<ellipse cx="519.6" cy="728.2" rx="1.1" ry="1.1" fill="#8c7264"/>
<ellipse cx="565.0" cy="725.1" rx="1.2" ry="1.0" fill="#ac9080"/>
<ellipse cx="539.8" cy="669.6" rx="1.1" ry="1.2" fill="#9e8274"/>
<ellipse cx="552.6" cy="714.2" rx="1.4" ry="1.1" fill="#967a6c"/>
<ellipse cx="540.2" cy="751.4" rx="1.3" ry="1.0" fill="#967a6c"/>
<ellipse cx="579.1" cy="704.1" rx="1.6" ry="0.9" fill="#a28676"/>
<ellipse cx="554.4" cy="690.8" rx="1.2" ry="1.2" fill="#9aa0c8"/>
<ellipse cx="500.5" cy="752.6" rx="1.2" ry="1.2" fill="#a28676"/>
<ellipse cx="518.1" cy="744.4" rx="1.4" ry="1.3" fill="#8a92c4"/>
<ellipse cx="494.4" cy="708.4" rx="1.3" ry="1.2" fill="#ac9080"/>
<ellipse cx="563.8" cy="723.3" rx="1.3" ry="1.0" fill="#ac9080"/>
<ellipse cx="513.6" cy="732.3" rx="1.5" ry="1.2" fill="#8c7264"/>
<ellipse cx="553.1" cy="730.2" rx="1.5" ry="1.2" fill="#967a6c"/>
<ellipse cx="519.7" cy="707.9" rx="1.6" ry="1.2" fill="#a28676"/>
<ellipse cx="565.2" cy="709.6" rx="1.3" ry="1.0" fill="#8c7264"/>
<ellipse cx="563.9" cy="707.8" rx="1.4" ry="1.2" fill="#9e8274"/>
<ellipse cx="466.4" cy="746.3" rx="1.5" ry="1.0" fill="#ac9080"/>
<ellipse cx="512.8" cy="670.0" rx="1.5" ry="1.0" fill="#9e8274"/>
<ellipse cx="479.3" cy="691.6" rx="1.5" ry="1.1" fill="#967a6c"/>
<ellipse cx="501.7" cy="717.7" rx="1.6" ry="1.3" fill="#a28676"/>
<ellipse cx="471.3" cy="737.9" rx="1.1" ry="1.0" fill="#9e8274"/>
<ellipse cx="503.0" cy="677.9" rx="1.4" ry="1.0" fill="#9e8274"/>
<ellipse cx="516.2" cy="691.5" rx="1.5" ry="1.2" fill="#a28676"/>
<ellipse cx="494.0" cy="667.1" rx="1.1" ry="1.3" fill="#ac9080"/>
<ellipse cx="563.1" cy="694.0" rx="1.4" ry="1.0" fill="#8c7264"/>
<ellipse cx="512.5" cy="751.4" rx="1.5" ry="1.0" fill="#967a6c"/>
<ellipse cx="482.5" cy="702.4" rx="1.5" ry="1.0" fill="#ac9080"/>
<ellipse cx="472.2" cy="694.0" rx="1.2" ry="1.2" fill="#9e8274"/>
<ellipse cx="488.4" cy="689.3" rx="1.5" ry="1.2" fill="#9e8274"/>
<ellipse cx="582.0" cy="722.2" rx="1.2" ry="0.9" fill="#8c7264"/>
<ellipse cx="569.7" cy="737.9" rx="1.3" ry="0.9" fill="#a28676"/>
<ellipse cx="471.0" cy="692.7" rx="1.4" ry="1.0" fill="#8c7264"/>
<ellipse cx="556.0" cy="691.9" rx="1.5" ry="1.3" fill="#9e8274"/>
<ellipse cx="503.2" cy="735.4" rx="1.2" ry="1.2" fill="#9e8274"/>
<ellipse cx="476.5" cy="677.2" rx="1.6" ry="0.9" fill="#9e8274"/>
<ellipse cx="538.1" cy="676.3" rx="1.3" ry="0.9" fill="#967a6c"/>
<ellipse cx="500.6" cy="688.0" rx="1.4" ry="0.9" fill="#a28676"/>
<ellipse cx="523.0" cy="735.1" rx="1.4" ry="1.1" fill="#ac9080"/>
<ellipse cx="513.9" cy="670.2" rx="1.2" ry="0.9" fill="#967a6c"/>
<ellipse cx="562.1" cy="749.1" rx="1.4" ry="0.9" fill="#967a6c"/>
<ellipse cx="474.0" cy="694.7" rx="1.2" ry="1.2" fill="#ac9080"/>
<ellipse cx="577.2" cy="677.8" rx="1.4" ry="1.1" fill="#967a6c"/>
<ellipse cx="505.4" cy="752.2" rx="1.5" ry="1.1" fill="#9e8274"/>
<ellipse cx="561.2" cy="745.4" rx="1.5" ry="1.2" fill="#8c7264"/>
<ellipse cx="524.2" cy="739.2" rx="1.5" ry="1.1" fill="#967a6c"/>
<ellipse cx="522.4" cy="694.6" rx="1.2" ry="1.1" fill="#9e8274"/>
<ellipse cx="493.6" cy="729.7" rx="1.6" ry="1.3" fill="#9e8274"/>
<ellipse cx="541.7" cy="746.5" rx="1.4" ry="1.2" fill="#ac9080"/>
<ellipse cx="501.6" cy="727.7" rx="1.5" ry="1.2" fill="#9aa0c8"/>
<ellipse cx="473.9" cy="712.6" rx="1.4" ry="1.1" fill="#ac9080"/>
<ellipse cx="510.9" cy="738.7" rx="1.1" ry="0.9" fill="#8c7264"/>
<ellipse cx="519.7" cy="684.4" rx="1.3" ry="1.1" fill="#9aa0c8"/>
<ellipse cx="568.8" cy="727.5" rx="1.5" ry="1.3" fill="#7e86bc"/>
<ellipse cx="557.6" cy="739.2" rx="1.5" ry="1.0" fill="#8c7264"/>
<ellipse cx="507.1" cy="691.3" rx="1.2" ry="1.0" fill="#a28676"/>
<ellipse cx="557.5" cy="707.6" rx="1.5" ry="1.1" fill="#a28676"/>
<ellipse cx="486.5" cy="751.7" rx="1.3" ry="1.2" fill="#9e8274"/>
<ellipse cx="536.2" cy="676.8" rx="1.5" ry="1.1" fill="#a28676"/>
<ellipse cx="483.3" cy="753.9" rx="1.4" ry="1.2" fill="#9e8274"/>
<ellipse cx="570.2" cy="702.6" rx="1.4" ry="1.3" fill="#ac9080"/>
<ellipse cx="504.9" cy="686.2" rx="1.4" ry="1.3" fill="#967a6c"/>
<ellipse cx="572.2" cy="705.1" rx="1.5" ry="1.2" fill="#a28676"/>
<ellipse cx="532.9" cy="751.9" rx="1.5" ry="0.9" fill="#8a92c4"/>
<ellipse cx="534.9" cy="666.6" rx="1.5" ry="0.9" fill="#ac9080"/>
<ellipse cx="466.0" cy="732.9" rx="1.4" ry="1.0" fill="#ac9080"/>
<ellipse cx="580.2" cy="737.9" rx="1.5" ry="1.0" fill="#8c7264"/>
<ellipse cx="574.6" cy="680.7" rx="1.5" ry="1.3" fill="#9e8274"/>
<ellipse cx="538.1" cy="747.4" rx="1.3" ry="1.2" fill="#8c7264"/>
<ellipse cx="580.3" cy="720.4" rx="1.5" ry="1.2" fill="#8c7264"/>
<ellipse cx="481.4" cy="714.8" rx="1.4" ry="1.2" fill="#ac9080"/>
<ellipse cx="504.4" cy="667.7" rx="1.2" ry="1.0" fill="#7e86bc"/>
<ellipse cx="477.9" cy="696.2" rx="1.4" ry="1.0" fill="#8c7264"/>
<ellipse cx="473.7" cy="688.4" rx="1.1" ry="0.9" fill="#967a6c"/>
<ellipse cx="476.5" cy="727.9" rx="1.6" ry="0.9" fill="#ac9080"/>
<ellipse cx="513.2" cy="735.8" rx="1.6" ry="1.3" fill="#a28676"/>
<ellipse cx="512.6" cy="701.9" rx="1.2" ry="1.2" fill="#967a6c"/>
<ellipse cx="580.1" cy="689.3" rx="1.5" ry="1.2" fill="#7e86bc"/>
<ellipse cx="579.1" cy="675.5" rx="1.4" ry="1.1" fill="#ac9080"/>
<ellipse cx="488.1" cy="698.3" rx="1.6" ry="1.0" fill="#8a92c4"/>
<ellipse cx="550.2" cy="669.7" rx="1.3" ry="1.2" fill="#9e8274"/>
<ellipse cx="518.3" cy="689.0" rx="1.4" ry="1.0" fill="#9e8274"/>
<ellipse cx="507.8" cy="691.0" rx="1.3" ry="1.2" fill="#8c7264"/>
<ellipse cx="543.9" cy="714.6" rx="1.3" ry="1.3" fill="#ac9080"/>
<ellipse cx="505.0" cy="677.6" rx="1.1" ry="1.2" fill="#ac9080"/>
<ellipse cx="521.6" cy="730.9" rx="1.5" ry="1.2" fill="#9e8274"/>
<ellipse cx="575.6" cy="719.8" rx="1.5" ry="1.1" fill="#967a6c"/>
<ellipse cx="545.5" cy="740.1" rx="1.1" ry="1.1" fill="#967a6c"/>
<ellipse cx="471.2" cy="753.9" rx="1.4" ry="1.3" fill="#ac9080"/>
<ellipse cx="501.8" cy="678.3" rx="1.1" ry="0.9" fill="#ac9080"/>
<ellipse cx="484.7" cy="724.8" rx="1.5" ry="0.9" fill="#9e8274"/>
<ellipse cx="520.2" cy="707.2" rx="1.5" ry="0.9" fill="#9e8274"/>
<ellipse cx="569.8" cy="671.8" rx="1.6" ry="1.3" fill="#ac9080"/>
<ellipse cx="527.1" cy="722.4" rx="1.6" ry="1.1" fill="#8c7264"/>
<ellipse cx="477.9" cy="732.3" rx="1.4" ry="1.0" fill="#9e8274"/>
<ellipse cx="542.9" cy="742.7" rx="1.5" ry="1.3" fill="#8a92c4"/>
<ellipse cx="517.3" cy="746.5" rx="1.4" ry="1.0" fill="#8c7264"/>
<ellipse cx="560.5" cy="671.2" rx="1.3" ry="1.0" fill="#8c7264"/>
<ellipse cx="535.8" cy="754.2" rx="1.3" ry="0.9" fill="#967a6c"/>
<ellipse cx="553.2" cy="682.3" rx="1.1" ry="1.3" fill="#967a6c"/>
<ellipse cx="577.9" cy="716.8" rx="1.4" ry="1.0" fill="#8c7264"/>
<ellipse cx="495.6" cy="738.5" rx="1.3" ry="1.3" fill="#8c7264"/>
<ellipse cx="497.3" cy="749.3" rx="1.1" ry="1.3" fill="#ac9080"/>
<ellipse cx="554.3" cy="733.2" rx="1.4" ry="0.9" fill="#8c7264"/>
<ellipse cx="564.9" cy="724.8" rx="1.4" ry="1.0" fill="#8a92c4"/>
<ellipse cx="552.2" cy="673.3" rx="1.4" ry="1.0" fill="#967a6c"/>
<ellipse cx="482.2" cy="751.1" rx="1.4" ry="1.1" fill="#967a6c"/>
<ellipse cx="476.8" cy="718.9" rx="1.3" ry="1.1" fill="#9e8274"/>
<ellipse cx="503.4" cy="734.4" rx="1.2" ry="1.3" fill="#9e8274"/>
<ellipse cx="578.6" cy="693.3" rx="1.3" ry="1.0" fill="#9e8274"/>
<ellipse cx="524.1" cy="737.4" rx="1.3" ry="0.9" fill="#967a6c"/>
<ellipse cx="577.9" cy="727.4" rx="1.3" ry="1.1" fill="#9e8274"/>
<ellipse cx="540.6" cy="742.7" rx="1.6" ry="1.2" fill="#ac9080"/>
<ellipse cx="524.5" cy="751.7" rx="1.1" ry="1.1" fill="#9aa0c8"/>
<ellipse cx="481.2" cy="692.7" rx="1.4" ry="1.0" fill="#8c7264"/>
<ellipse cx="515.1" cy="674.2" rx="1.3" ry="1.3" fill="#9e8274"/>
<ellipse cx="549.1" cy="739.0" rx="1.2" ry="1.2" fill="#a28676"/>
<ellipse cx="540.9" cy="682.9" rx="1.5" ry="1.0" fill="#a28676"/>
<ellipse cx="491.9" cy="667.1" rx="1.6" ry="1.1" fill="#a28676"/>
<ellipse cx="466.7" cy="709.9" rx="1.2" ry="1.2" fill="#a28676"/>
<ellipse cx="541.2" cy="690.6" rx="1.6" ry="1.0" fill="#ac9080"/>
<ellipse cx="467.9" cy="730.2" rx="1.6" ry="1.0" fill="#967a6c"/>
<ellipse cx="539.0" cy="723.6" rx="1.4" ry="1.3" fill="#9e8274"/>
<ellipse cx="518.3" cy="715.6" rx="1.1" ry="1.1" fill="#967a6c"/>
<ellipse cx="472.0" cy="736.4" rx="1.4" ry="1.3" fill="#8c7264"/>
<ellipse cx="484.4" cy="742.5" rx="1.5" ry="1.2" fill="#ac9080"/>
<ellipse cx="542.8" cy="714.9" rx="1.5" ry="1.1" fill="#ac9080"/>
<ellipse cx="513.0" cy="671.2" rx="1.3" ry="0.9" fill="#a28676"/>
<ellipse cx="558.2" cy="694.4" rx="1.4" ry="0.9" fill="#967a6c"/>
<ellipse cx="569.3" cy="720.0" rx="1.3" ry="1.1" fill="#ac9080"/>
<ellipse cx="537.3" cy="731.4" rx="1.5" ry="1.0" fill="#8c7264"/>
<ellipse cx="479.5" cy="717.7" rx="1.1" ry="1.2" fill="#9e8274"/>
<ellipse cx="490.4" cy="678.6" rx="1.5" ry="1.0" fill="#a28676"/>
<ellipse cx="471.5" cy="736.9" rx="1.5" ry="0.9" fill="#8c7264"/>
<ellipse cx="465.9" cy="711.0" rx="1.4" ry="0.9" fill="#ac9080"/>
<ellipse cx="579.4" cy="712.5" rx="1.3" ry="1.2" fill="#8c7264"/>
<ellipse cx="552.7" cy="735.4" rx="1.5" ry="1.1" fill="#9e8274"/>
<ellipse cx="499.9" cy="692.4" rx="1.1" ry="1.2" fill="#967a6c"/>
<ellipse cx="537.7" cy="709.9" rx="1.2" ry="1.2" fill="#9e8274"/>
<ellipse cx="543.9" cy="688.2" rx="1.4" ry="1.2" fill="#ac9080"/>
<ellipse cx="511.3" cy="693.1" rx="1.4" ry="1.2" fill="#a28676"/>
<ellipse cx="560.6" cy="687.7" rx="1.1" ry="1.1" fill="#a28676"/>
<ellipse cx="573.2" cy="676.6" rx="1.3" ry="1.0" fill="#9e8274"/>
<ellipse cx="537.4" cy="715.6" rx="1.2" ry="0.9" fill="#9e8274"/>
<ellipse cx="485.1" cy="715.7" rx="1.1" ry="1.2" fill="#8c7264"/>
<ellipse cx="489.0" cy="741.8" rx="1.3" ry="1.0" fill="#8c7264"/>
<ellipse cx="536.3" cy="718.5" rx="1.4" ry="1.2" fill="#ac9080"/>
<ellipse cx="502.8" cy="715.3" rx="1.1" ry="1.0" fill="#9e8274"/>
<ellipse cx="572.4" cy="716.9" rx="1.5" ry="1.2" fill="#8a92c4"/>
<ellipse cx="492.9" cy="678.6" rx="1.6" ry="1.1" fill="#8c7264"/>
<ellipse cx="572.3" cy="719.8" rx="1.1" ry="1.0" fill="#967a6c"/>
<ellipse cx="487.6" cy="680.2" rx="1.5" ry="1.2" fill="#967a6c"/>
<ellipse cx="556.7" cy="698.9" rx="1.5" ry="1.2" fill="#9e8274"/>
<ellipse cx="578.1" cy="704.0" rx="1.4" ry="1.0" fill="#9e8274"/>
<ellipse cx="546.4" cy="715.8" rx="1.3" ry="1.2" fill="#ac9080"/>
<ellipse cx="524.2" cy="684.1" rx="1.4" ry="1.3" fill="#ac9080"/>
<ellipse cx="580.1" cy="666.8" rx="1.3" ry="1.0" fill="#ac9080"/>
<ellipse cx="478.3" cy="675.8" rx="1.3" ry="1.0" fill="#8c7264"/>
<ellipse cx="577.4" cy="703.2" rx="1.4" ry="1.2" fill="#a28676"/>
<ellipse cx="550.5" cy="696.8" rx="1.5" ry="1.1" fill="#8c7264"/>
<ellipse cx="523.0" cy="751.2" rx="1.2" ry="1.0" fill="#ac9080"/>
<ellipse cx="478.4" cy="747.9" rx="1.3" ry="0.9" fill="#a28676"/>
<ellipse cx="500.9" cy="742.5" rx="1.1" ry="1.0" fill="#a28676"/>
<ellipse cx="572.9" cy="689.5" rx="1.2" ry="1.3" fill="#ac9080"/>
<ellipse cx="541.3" cy="698.3" rx="1.1" ry="1.1" fill="#8c7264"/>
<ellipse cx="483.1" cy="739.2" rx="1.3" ry="1.0" fill="#8c7264"/>
<ellipse cx="493.6" cy="727.7" rx="1.3" ry="1.0" fill="#9e8274"/>
<ellipse cx="559.4" cy="747.6" rx="1.4" ry="1.2" fill="#8c7264"/>
<ellipse cx="543.3" cy="672.7" rx="1.2" ry="1.0" fill="#967a6c"/>
<ellipse cx="575.4" cy="731.6" rx="1.1" ry="1.2" fill="#ac9080"/>
<ellipse cx="570.3" cy="713.1" rx="1.5" ry="1.0" fill="#967a6c"/>
<ellipse cx="470.7" cy="686.7" rx="1.2" ry="0.9" fill="#ac9080"/>
<ellipse cx="530.1" cy="688.0" rx="1.4" ry="1.0" fill="#8c7264"/>
<ellipse cx="482.0" cy="718.5" rx="1.1" ry="1.0" fill="#9e8274"/>
<ellipse cx="572.1" cy="671.0" rx="1.1" ry="1.2" fill="#ac9080"/>
<ellipse cx="482.8" cy="751.3" rx="1.4" ry="1.0" fill="#7e86bc"/>
<ellipse cx="578.6" cy="724.4" rx="1.3" ry="1.0" fill="#9e8274"/>
<ellipse cx="483.5" cy="695.4" rx="1.3" ry="1.1" fill="#a28676"/>
<ellipse cx="543.8" cy="713.7" rx="1.6" ry="1.0" fill="#a28676"/>
<ellipse cx="537.6" cy="711.4" rx="1.4" ry="1.0" fill="#967a6c"/>
<ellipse cx="528.6" cy="670.6" rx="1.4" ry="1.2" fill="#ac9080"/>
<ellipse cx="573.8" cy="711.7" rx="1.3" ry="1.2" fill="#7e86bc"/>
<ellipse cx="475.7" cy="737.9" rx="1.6" ry="0.9" fill="#9e8274"/>
<ellipse cx="581.3" cy="678.3" rx="1.5" ry="0.9" fill="#8c7264"/>
<ellipse cx="551.2" cy="707.8" rx="1.3" ry="1.1" fill="#967a6c"/>
<ellipse cx="561.9" cy="691.8" rx="1.6" ry="1.0" fill="#ac9080"/>
<ellipse cx="499.7" cy="704.1" rx="1.6" ry="1.3" fill="#a28676"/>
<ellipse cx="492.8" cy="700.4" rx="1.4" ry="1.3" fill="#ac9080"/>
<ellipse cx="522.8" cy="744.6" rx="1.4" ry="1.0" fill="#ac9080"/>
<ellipse cx="478.4" cy="732.9" rx="1.2" ry="1.2" fill="#8a92c4"/>
<ellipse cx="562.8" cy="728.8" rx="1.6" ry="1.0" fill="#967a6c"/>
<ellipse cx="520.2" cy="743.7" rx="1.6" ry="1.1" fill="#9e8274"/>
<ellipse cx="560.4" cy="736.7" rx="1.6" ry="1.1" fill="#9e8274"/>
<ellipse cx="513.6" cy="731.3" rx="1.2" ry="0.9" fill="#8c7264"/>
<ellipse cx="509.9" cy="709.7" rx="1.3" ry="1.2" fill="#967a6c"/>
<ellipse cx="559.2" cy="693.5" rx="1.6" ry="1.0" fill="#9e8274"/>
<ellipse cx="557.5" cy="693.3" rx="1.6" ry="1.2" fill="#ac9080"/>
<ellipse cx="517.7" cy="692.9" rx="1.3" ry="1.1" fill="#ac9080"/>
<ellipse cx="574.6" cy="703.2" rx="1.5" ry="1.0" fill="#ac9080"/>
<ellipse cx="489.3" cy="751.3" rx="1.1" ry="1.3" fill="#8c7264"/>
<ellipse cx="508.6" cy="680.7" rx="1.1" ry="1.2" fill="#ac9080"/>
<ellipse cx="572.3" cy="708.2" rx="1.4" ry="1.2" fill="#a28676"/>
<ellipse cx="508.5" cy="667.1" rx="1.2" ry="1.1" fill="#967a6c"/>
<ellipse cx="513.5" cy="694.7" rx="1.2" ry="1.1" fill="#8c7264"/>
<ellipse cx="564.2" cy="712.5" rx="1.4" ry="1.1" fill="#a28676"/>
<ellipse cx="539.9" cy="714.6" rx="1.2" ry="1.0" fill="#a28676"/>
<ellipse cx="469.1" cy="713.7" rx="1.2" ry="0.9" fill="#ac9080"/>
<ellipse cx="540.8" cy="751.5" rx="1.2" ry="1.0" fill="#8c7264"/>
<ellipse cx="491.7" cy="705.5" rx="1.3" ry="1.2" fill="#967a6c"/>
<ellipse cx="523.8" cy="677.5" rx="1.6" ry="1.2" fill="#8c7264"/>
<ellipse cx="513.1" cy="684.4" rx="1.3" ry="1.2" fill="#967a6c"/>
<ellipse cx="518.9" cy="695.2" rx="1.2" ry="1.2" fill="#a28676"/>
<ellipse cx="508.9" cy="678.3" rx="1.2" ry="1.1" fill="#967a6c"/>
<ellipse cx="509.8" cy="749.3" rx="1.4" ry="1.2" fill="#8c7264"/>
<ellipse cx="509.3" cy="715.2" rx="1.6" ry="1.1" fill="#a28676"/>
<ellipse cx="513.1" cy="668.6" rx="1.3" ry="1.1" fill="#967a6c"/>
<ellipse cx="473.5" cy="707.6" rx="1.3" ry="1.1" fill="#a28676"/>
<ellipse cx="558.8" cy="753.6" rx="1.2" ry="1.1" fill="#a28676"/>
<ellipse cx="572.3" cy="737.7" rx="1.4" ry="1.1" fill="#967a6c"/>
<ellipse cx="472.7" cy="743.0" rx="1.6" ry="1.1" fill="#ac9080"/>
<ellipse cx="537.5" cy="667.6" rx="1.3" ry="1.2" fill="#ac9080"/>
<ellipse cx="474.7" cy="705.1" rx="1.5" ry="1.1" fill="#9e8274"/>
<ellipse cx="569.8" cy="706.0" rx="1.4" ry="1.1" fill="#8c7264"/>
<ellipse cx="552.8" cy="681.8" rx="1.6" ry="1.2" fill="#a28676"/>
<ellipse cx="481.4" cy="714.7" rx="1.6" ry="1.0" fill="#8c7264"/>
<ellipse cx="553.1" cy="704.8" rx="1.2" ry="1.1" fill="#8c7264"/>
<ellipse cx="524.0" cy="707.1" rx="1.2" ry="1.1" fill="#967a6c"/>
<ellipse cx="499.1" cy="696.2" rx="1.6" ry="0.9" fill="#8c7264"/>
<ellipse cx="556.1" cy="679.5" rx="1.4" ry="1.2" fill="#8c7264"/>
<ellipse cx="548.4" cy="713.7" rx="1.5" ry="1.1" fill="#8c7264"/>
<ellipse cx="521.3" cy="684.3" rx="1.6" ry="1.1" fill="#a28676"/>
<ellipse cx="577.1" cy="682.5" rx="1.3" ry="0.9" fill="#9e8274"/>
<ellipse cx="558.1" cy="736.3" rx="1.4" ry="1.3" fill="#8c7264"/>
<ellipse cx="556.2" cy="751.5" rx="1.3" ry="0.9" fill="#967a6c"/>
<ellipse cx="522.4" cy="751.2" rx="1.6" ry="0.9" fill="#967a6c"/>
<ellipse cx="530.4" cy="741.0" rx="1.3" ry="1.0" fill="#967a6c"/>
<ellipse cx="518.8" cy="672.6" rx="1.2" ry="1.2" fill="#ac9080"/>
<ellipse cx="528.2" cy="745.4" rx="1.1" ry="0.9" fill="#9e8274"/>
<ellipse cx="488.1" cy="750.8" rx="1.4" ry="1.2" fill="#9e8274"/>
<ellipse cx="481.7" cy="708.7" rx="1.6" ry="1.2" fill="#ac9080"/>
<ellipse cx="534.9" cy="699.7" rx="1.2" ry="1.0" fill="#8c7264"/>
<ellipse cx="523.5" cy="699.1" rx="1.5" ry="1.3" fill="#8c7264"/>
<ellipse cx="506.9" cy="689.0" rx="1.3" ry="0.9" fill="#ac9080"/>
<ellipse cx="515.3" cy="721.6" rx="1.4" ry="1.3" fill="#9e8274"/>
<ellipse cx="570.2" cy="689.2" rx="1.6" ry="1.3" fill="#967a6c"/>
<ellipse cx="533.4" cy="687.0" rx="1.5" ry="1.3" fill="#967a6c"/>
<ellipse cx="542.1" cy="681.8" rx="1.2" ry="1.0" fill="#967a6c"/>
<ellipse cx="532.2" cy="687.2" rx="1.4" ry="1.0" fill="#ac9080"/>
<ellipse cx="506.6" cy="716.0" rx="1.1" ry="0.9" fill="#8c7264"/>
<ellipse cx="545.8" cy="683.4" rx="1.3" ry="1.2" fill="#a28676"/>
<ellipse cx="484.8" cy="754.0" rx="1.4" ry="1.0" fill="#9e8274"/>
<ellipse cx="561.5" cy="739.1" rx="1.6" ry="0.9" fill="#ac9080"/>
<ellipse cx="491.5" cy="715.6" rx="1.6" ry="1.2" fill="#967a6c"/>
<ellipse cx="469.2" cy="704.4" rx="1.5" ry="1.0" fill="#967a6c"/>
<ellipse cx="511.8" cy="740.2" rx="1.1" ry="1.2" fill="#9aa0c8"/>
<ellipse cx="557.5" cy="751.4" rx="1.6" ry="1.3" fill="#8c7264"/>
<ellipse cx="553.0" cy="712.9" rx="1.4" ry="0.9" fill="#a28676"/>
<ellipse cx="526.3" cy="691.2" rx="1.3" ry="1.2" fill="#967a6c"/>
<ellipse cx="557.3" cy="667.5" rx="1.6" ry="1.3" fill="#8c7264"/>
<ellipse cx="551.9" cy="744.5" rx="1.6" ry="0.9" fill="#967a6c"/>
<ellipse cx="497.7" cy="670.0" rx="1.2" ry="0.9" fill="#8c7264"/>
<ellipse cx="580.4" cy="683.1" rx="1.6" ry="1.1" fill="#ac9080"/>
<ellipse cx="552.1" cy="697.5" rx="1.3" ry="1.2" fill="#967a6c"/>
<ellipse cx="516.2" cy="743.1" rx="1.1" ry="1.3" fill="#a28676"/>
<ellipse cx="479.2" cy="738.6" rx="1.3" ry="0.9" fill="#8c7264"/>
<ellipse cx="471.0" cy="730.8" rx="1.5" ry="1.2" fill="#967a6c"/>
<ellipse cx="480.0" cy="689.7" rx="1.6" ry="1.0" fill="#8c7264"/>
<ellipse cx="580.0" cy="739.9" rx="1.3" ry="1.0" fill="#7e86bc"/>
<ellipse cx="520.2" cy="750.3" rx="1.5" ry="1.1" fill="#8c7264"/>
<ellipse cx="505.3" cy="750.7" rx="1.4" ry="1.2" fill="#ac9080"/>
<ellipse cx="497.3" cy="678.8" rx="1.5" ry="0.9" fill="#9e8274"/>
<ellipse cx="489.4" cy="692.7" rx="1.2" ry="1.0" fill="#9e8274"/>
<ellipse cx="515.1" cy="744.3" rx="1.5" ry="1.1" fill="#8c7264"/>
<ellipse cx="520.3" cy="736.8" rx="1.1" ry="1.1" fill="#8c7264"/>
<ellipse cx="532.7" cy="681.2" rx="1.6" ry="1.2" fill="#ac9080"/>
<ellipse cx="563.1" cy="674.1" rx="1.5" ry="1.2" fill="#a28676"/>
<ellipse cx="471.5" cy="715.4" rx="1.5" ry="1.2" fill="#7e86bc"/>
<ellipse cx="577.4" cy="715.0" rx="1.3" ry="1.1" fill="#ac9080"/>
<ellipse cx="568.5" cy="687.8" rx="1.2" ry="1.2" fill="#9e8274"/>
<ellipse cx="578.6" cy="708.1" rx="1.5" ry="1.3" fill="#8c7264"/>
<ellipse cx="582.0" cy="722.6" rx="1.4" ry="1.2" fill="#967a6c"/>
<ellipse cx="476.3" cy="685.8" rx="1.2" ry="1.0" fill="#9e8274"/>
<ellipse cx="533.6" cy="739.4" rx="1.1" ry="1.0" fill="#9e8274"/>
<ellipse cx="566.1" cy="692.4" rx="1.4" ry="0.9" fill="#9e8274"/>
<ellipse cx="550.5" cy="675.2" rx="1.2" ry="1.0" fill="#8c7264"/>
<ellipse cx="488.2" cy="676.4" rx="1.3" ry="1.0" fill="#a28676"/>
<ellipse cx="515.8" cy="738.9" rx="1.6" ry="1.3" fill="#8c7264"/>
<ellipse cx="580.0" cy="678.7" rx="1.4" ry="1.0" fill="#8c7264"/>
<ellipse cx="545.1" cy="715.3" rx="1.1" ry="1.2" fill="#a28676"/>
<ellipse cx="497.4" cy="741.5" rx="1.6" ry="1.2" fill="#967a6c"/>
<ellipse cx="521.2" cy="678.7" rx="1.2" ry="1.0" fill="#9e8274"/>
<ellipse cx="479.2" cy="707.9" rx="1.3" ry="1.0" fill="#8a92c4"/>
<ellipse cx="472.8" cy="692.7" rx="1.4" ry="0.9" fill="#9e8274"/>
<ellipse cx="516.9" cy="702.2" rx="1.3" ry="1.1" fill="#a28676"/>
<ellipse cx="556.8" cy="687.4" rx="1.3" ry="1.0" fill="#8c7264"/>
<ellipse cx="568.2" cy="670.3" rx="1.3" ry="1.0" fill="#8c7264"/>
<ellipse cx="507.1" cy="728.3" rx="1.1" ry="0.9" fill="#9e8274"/>
<ellipse cx="495.0" cy="740.2" rx="1.6" ry="0.9" fill="#9e8274"/>
<ellipse cx="532.3" cy="699.4" rx="1.6" ry="1.1" fill="#a28676"/>
<ellipse cx="562.0" cy="722.1" rx="1.5" ry="1.1" fill="#967a6c"/>
<ellipse cx="514.0" cy="698.8" rx="1.4" ry="1.1" fill="#967a6c"/>
<ellipse cx="577.1" cy="674.8" rx="1.3" ry="1.1" fill="#9e8274"/>
<ellipse cx="555.8" cy="671.7" rx="1.4" ry="1.3" fill="#967a6c"/>
<ellipse cx="518.5" cy="750.5" rx="1.3" ry="1.0" fill="#967a6c"/>
<ellipse cx="510.5" cy="721.3" rx="1.4" ry="1.3" fill="#a28676"/>
<ellipse cx="535.0" cy="735.5" rx="1.5" ry="1.2" fill="#a28676"/>
<ellipse cx="571.3" cy="691.6" rx="1.1" ry="1.2" fill="#9e8274"/>
<ellipse cx="506.7" cy="697.7" rx="1.5" ry="1.1" fill="#8c7264"/>
<ellipse cx="492.3" cy="700.5" rx="1.6" ry="1.3" fill="#a28676"/>
<ellipse cx="479.4" cy="702.6" rx="1.3" ry="1.1" fill="#8c7264"/>
<ellipse cx="475.3" cy="702.0" rx="1.3" ry="0.9" fill="#967a6c"/>
<ellipse cx="495.5" cy="712.0" rx="1.5" ry="1.3" fill="#9e8274"/>
<ellipse cx="577.7" cy="692.8" rx="1.3" ry="1.2" fill="#9e8274"/>
<ellipse cx="514.8" cy="745.8" rx="1.5" ry="0.9" fill="#9e8274"/>
<ellipse cx="466.8" cy="714.3" rx="1.3" ry="1.0" fill="#a28676"/>
<ellipse cx="537.2" cy="699.8" rx="1.2" ry="1.1" fill="#ac9080"/>
<ellipse cx="516.5" cy="725.7" rx="1.3" ry="1.2" fill="#ac9080"/>
<ellipse cx="502.7" cy="707.4" rx="1.6" ry="1.0" fill="#9aa0c8"/>
<ellipse cx="541.4" cy="688.0" rx="1.4" ry="1.2" fill="#9e8274"/>
<ellipse cx="507.0" cy="712.0" rx="1.1" ry="1.3" fill="#967a6c"/>
<ellipse cx="560.1" cy="710.2" rx="1.3" ry="1.2" fill="#ac9080"/>
<ellipse cx="568.3" cy="714.8" rx="1.5" ry="1.3" fill="#7e86bc"/>
<ellipse cx="503.6" cy="741.8" rx="1.5" ry="1.0" fill="#967a6c"/>
<ellipse cx="521.8" cy="675.6" rx="1.2" ry="1.0" fill="#9e8274"/>
<ellipse cx="469.9" cy="750.9" rx="1.3" ry="1.1" fill="#a28676"/>
<ellipse cx="574.3" cy="682.6" rx="1.2" ry="1.0" fill="#8c7264"/>
<ellipse cx="487.1" cy="712.7" rx="1.1" ry="1.3" fill="#a28676"/>
<ellipse cx="526.3" cy="731.7" rx="1.2" ry="0.9" fill="#a28676"/>
<ellipse cx="485.3" cy="695.4" rx="1.5" ry="1.0" fill="#a28676"/>
<ellipse cx="513.5" cy="718.4" rx="1.6" ry="1.1" fill="#8c7264"/>
<ellipse cx="480.7" cy="712.9" rx="1.2" ry="1.1" fill="#ac9080"/>
<ellipse cx="548.5" cy="717.1" rx="1.5" ry="1.0" fill="#967a6c"/>
<ellipse cx="532.5" cy="699.4" rx="1.4" ry="1.2" fill="#a28676"/>
<ellipse cx="499.6" cy="736.0" rx="1.5" ry="1.1" fill="#9e8274"/>
<ellipse cx="546.4" cy="676.3" rx="1.4" ry="1.3" fill="#967a6c"/>
<ellipse cx="529.8" cy="734.6" rx="1.3" ry="0.9" fill="#a28676"/>
<ellipse cx="525.9" cy="746.9" rx="1.5" ry="1.1" fill="#967a6c"/>
<ellipse cx="521.6" cy="698.6" rx="1.6" ry="1.0" fill="#a28676"/>
<ellipse cx="467.1" cy="684.1" rx="1.3" ry="1.2" fill="#a28676"/>
<ellipse cx="541.4" cy="705.5" rx="1.5" ry="1.2" fill="#8c7264"/>
<ellipse cx="500.8" cy="683.2" rx="1.4" ry="1.0" fill="#967a6c"/>
<ellipse cx="491.5" cy="699.8" rx="1.3" ry="1.2" fill="#9e8274"/>
<ellipse cx="480.7" cy="680.1" rx="1.1" ry="1.2" fill="#a28676"/>
<ellipse cx="529.3" cy="681.7" rx="1.1" ry="1.3" fill="#ac9080"/>
<ellipse cx="538.8" cy="697.6" rx="1.3" ry="1.2" fill="#ac9080"/>
<ellipse cx="478.0" cy="668.3" rx="1.4" ry="1.0" fill="#8c7264"/>
<ellipse cx="552.0" cy="726.8" rx="1.1" ry="1.2" fill="#9e8274"/>
<ellipse cx="490.7" cy="745.9" rx="1.6" ry="0.9" fill="#a28676"/>
<ellipse cx="516.5" cy="668.0" rx="1.1" ry="1.1" fill="#8c7264"/>
<ellipse cx="538.9" cy="722.0" rx="1.2" ry="1.1" fill="#967a6c"/>
<ellipse cx="490.0" cy="753.2" rx="1.3" ry="1.2" fill="#ac9080"/>
<ellipse cx="567.3" cy="745.2" rx="1.2" ry="0.9" fill="#a28676"/>
<ellipse cx="562.3" cy="684.2" rx="1.2" ry="1.1" fill="#967a6c"/>
<ellipse cx="475.4" cy="732.6" rx="1.5" ry="1.2" fill="#a28676"/>
<ellipse cx="517.2" cy="676.2" rx="1.3" ry="1.1" fill="#ac9080"/>
<ellipse cx="487.8" cy="683.6" rx="1.3" ry="1.1" fill="#9e8274"/>
<ellipse cx="507.0" cy="679.8" rx="1.3" ry="1.0" fill="#8c7264"/>
<ellipse cx="524.4" cy="679.7" rx="1.3" ry="1.2" fill="#a28676"/>
<ellipse cx="478.8" cy="700.7" rx="1.4" ry="1.2" fill="#9e8274"/>
<ellipse cx="574.2" cy="683.0" rx="1.4" ry="1.1" fill="#9e8274"/>
<ellipse cx="478.2" cy="678.0" rx="1.2" ry="1.2" fill="#9e8274"/>
<ellipse cx="513.0" cy="686.7" rx="1.2" ry="1.2" fill="#a28676"/>
<ellipse cx="540.6" cy="674.1" rx="1.3" ry="0.9" fill="#9aa0c8"/>
<ellipse cx="530.7" cy="714.6" rx="1.4" ry="1.2" fill="#a28676"/>
<ellipse cx="546.9" cy="693.6" rx="1.2" ry="1.2" fill="#967a6c"/>
<ellipse cx="484.4" cy="700.0" rx="1.3" ry="1.1" fill="#ac9080"/>
<ellipse cx="527.7" cy="679.7" rx="1.2" ry="1.2" fill="#9e8274"/>
<ellipse cx="551.0" cy="746.2" rx="1.4" ry="1.1" fill="#a28676"/>
<ellipse cx="505.6" cy="696.2" rx="1.2" ry="1.1" fill="#a28676"/>
<ellipse cx="530.9" cy="700.2" rx="1.6" ry="1.0" fill="#8a92c4"/>
<ellipse cx="470.5" cy="723.4" rx="1.3" ry="1.3" fill="#a28676"/>
<ellipse cx="522.4" cy="672.4" rx="1.3" ry="1.0" fill="#8a92c4"/>
<ellipse cx="500.2" cy="751.7" rx="1.5" ry="1.1" fill="#967a6c"/>
<ellipse cx="581.2" cy="690.3" rx="1.4" ry="1.3" fill="#a28676"/>
<ellipse cx="486.6" cy="672.4" rx="1.3" ry="0.9" fill="#ac9080"/>
<ellipse cx="466.8" cy="732.6" rx="1.3" ry="1.2" fill="#967a6c"/>
<ellipse cx="502.5" cy="685.4" rx="1.3" ry="1.2" fill="#8c7264"/>
<ellipse cx="481.8" cy="728.1" rx="1.4" ry="1.0" fill="#9e8274"/>
<ellipse cx="503.3" cy="726.1" rx="1.3" ry="1.1" fill="#8c7264"/>
<ellipse cx="508.8" cy="726.5" rx="1.3" ry="1.3" fill="#9aa0c8"/>
<ellipse cx="478.4" cy="700.4" rx="1.3" ry="1.0" fill="#967a6c"/>
<ellipse cx="519.7" cy="705.5" rx="1.5" ry="1.0" fill="#a28676"/>
<ellipse cx="533.5" cy="735.1" rx="1.6" ry="0.9" fill="#967a6c"/>
<ellipse cx="484.7" cy="668.6" rx="1.2" ry="1.2" fill="#9e8274"/>
<ellipse cx="543.2" cy="747.7" rx="1.1" ry="0.9" fill="#a28676"/>
<ellipse cx="497.6" cy="671.7" rx="1.3" ry="0.9" fill="#967a6c"/>
<ellipse cx="552.7" cy="693.8" rx="1.5" ry="0.9" fill="#9e8274"/>
<ellipse cx="581.0" cy="716.6" rx="1.3" ry="1.3" fill="#9e8274"/>
<ellipse cx="580.2" cy="689.1" rx="1.5" ry="0.9" fill="#ac9080"/>
<ellipse cx="529.3" cy="727.4" rx="1.2" ry="0.9" fill="#8c7264"/>
<ellipse cx="558.2" cy="717.9" rx="1.4" ry="1.0" fill="#8c7264"/>
<ellipse cx="506.5" cy="710.4" rx="1.3" ry="1.2" fill="#a28676"/>
<ellipse cx="490.5" cy="699.3" rx="1.3" ry="1.2" fill="#a28676"/>
<ellipse cx="574.3" cy="734.8" rx="1.3" ry="1.1" fill="#a28676"/>
<ellipse cx="476.0" cy="691.0" rx="1.6" ry="1.0" fill="#967a6c"/>
<ellipse cx="529.5" cy="749.4" rx="1.5" ry="1.2" fill="#8c7264"/>
<ellipse cx="578.7" cy="684.4" rx="1.4" ry="1.1" fill="#a28676"/>
<ellipse cx="572.4" cy="710.7" rx="1.4" ry="1.1" fill="#a28676"/>
<ellipse cx="517.4" cy="749.5" rx="1.5" ry="1.2" fill="#967a6c"/>
<ellipse cx="472.9" cy="750.3" rx="1.4" ry="1.2" fill="#8c7264"/>
<ellipse cx="580.9" cy="697.7" rx="1.3" ry="1.1" fill="#ac9080"/>
<ellipse cx="497.4" cy="700.3" rx="1.5" ry="1.2" fill="#967a6c"/>
<ellipse cx="475.6" cy="744.2" rx="1.2" ry="1.2" fill="#a28676"/>
<ellipse cx="477.9" cy="692.6" rx="1.4" ry="1.0" fill="#9e8274"/>
<ellipse cx="477.0" cy="730.1" rx="1.2" ry="1.1" fill="#ac9080"/>
<ellipse cx="549.7" cy="710.1" rx="1.2" ry="1.3" fill="#9e8274"/>
<ellipse cx="556.3" cy="742.0" rx="1.3" ry="1.0" fill="#967a6c"/>
<ellipse cx="497.6" cy="671.1" rx="1.4" ry="1.1" fill="#8c7264"/>
<ellipse cx="487.8" cy="731.8" rx="1.2" ry="1.1" fill="#ac9080"/>
<ellipse cx="574.9" cy="736.0" rx="1.4" ry="1.0" fill="#a28676"/>
<ellipse cx="475.0" cy="738.9" rx="1.5" ry="1.1" fill="#ac9080"/>
<ellipse cx="555.8" cy="691.6" rx="1.4" ry="1.0" fill="#967a6c"/>
<ellipse cx="519.8" cy="734.9" rx="1.6" ry="1.1" fill="#a28676"/>
<ellipse cx="548.9" cy="703.3" rx="1.5" ry="1.1" fill="#8c7264"/>
<ellipse cx="512.4" cy="689.5" rx="1.4" ry="1.2" fill="#9e8274"/>
<ellipse cx="473.4" cy="744.2" rx="1.3" ry="1.3" fill="#a28676"/>
<ellipse cx="545.2" cy="713.8" rx="1.2" ry="1.3" fill="#9e8274"/>
<ellipse cx="532.5" cy="744.0" rx="1.4" ry="1.1" fill="#7e86bc"/>
<ellipse cx="558.5" cy="741.1" rx="1.3" ry="1.0" fill="#967a6c"/>
<ellipse cx="564.7" cy="675.8" rx="1.4" ry="1.2" fill="#8a92c4"/>
<ellipse cx="475.9" cy="711.2" rx="1.2" ry="1.0" fill="#967a6c"/>
<ellipse cx="574.2" cy="715.9" rx="1.6" ry="1.3" fill="#967a6c"/>
<ellipse cx="492.7" cy="733.8" rx="1.6" ry="1.0" fill="#9e8274"/>
<ellipse cx="556.1" cy="745.4" rx="1.4" ry="1.2" fill="#8c7264"/>
<ellipse cx="570.3" cy="714.1" rx="1.2" ry="1.2" fill="#ac9080"/>
<ellipse cx="574.6" cy="715.5" rx="1.2" ry="1.3" fill="#ac9080"/>
<ellipse cx="519.6" cy="747.4" rx="1.1" ry="1.0" fill="#8c7264"/>
<ellipse cx="569.7" cy="684.0" rx="1.5" ry="1.2" fill="#9e8274"/>
<ellipse cx="575.7" cy="686.6" rx="1.3" ry="1.1" fill="#8c7264"/>
<ellipse cx="509.4" cy="683.9" rx="1.4" ry="1.3" fill="#a28676"/>
<ellipse cx="512.8" cy="680.7" rx="1.2" ry="1.1" fill="#8c7264"/>
<ellipse cx="496.0" cy="728.3" rx="1.3" ry="1.1" fill="#a28676"/>
<ellipse cx="540.5" cy="718.9" rx="1.5" ry="1.2" fill="#9e8274"/>
<ellipse cx="548.6" cy="695.5" rx="1.4" ry="1.2" fill="#ac9080"/>
<ellipse cx="478.1" cy="704.4" rx="1.2" ry="1.0" fill="#9e8274"/>
<ellipse cx="535.5" cy="697.3" rx="1.1" ry="1.1" fill="#9e8274"/>
<ellipse cx="517.6" cy="678.7" rx="1.5" ry="1.0" fill="#9e8274"/>
<ellipse cx="472.3" cy="749.1" rx="1.5" ry="1.0" fill="#ac9080"/>
<ellipse cx="482.7" cy="741.0" rx="1.5" ry="1.0" fill="#a28676"/>
<ellipse cx="546.2" cy="681.4" rx="1.6" ry="0.9" fill="#9e8274"/>
<ellipse cx="516.4" cy="743.9" rx="1.4" ry="1.3" fill="#9e8274"/>
<ellipse cx="513.2" cy="673.8" rx="1.5" ry="1.0" fill="#9e8274"/>
<ellipse cx="572.9" cy="751.7" rx="1.1" ry="1.1" fill="#a28676"/>
<ellipse cx="520.1" cy="688.4" rx="1.5" ry="1.3" fill="#9e8274"/>
<ellipse cx="472.9" cy="688.1" rx="1.6" ry="1.2" fill="#9e8274"/>
<ellipse cx="506.3" cy="751.5" rx="1.5" ry="1.1" fill="#a28676"/>
<ellipse cx="558.8" cy="718.2" rx="1.3" ry="1.3" fill="#8c7264"/>
<ellipse cx="569.8" cy="750.2" rx="1.4" ry="1.2" fill="#9e8274"/>
<ellipse cx="545.0" cy="684.7" rx="1.1" ry="1.2" fill="#8c7264"/>
<ellipse cx="556.7" cy="720.9" rx="1.3" ry="1.3" fill="#ac9080"/>
<ellipse cx="511.7" cy="688.4" rx="1.2" ry="1.0" fill="#ac9080"/>
<ellipse cx="517.4" cy="691.6" rx="1.2" ry="0.9" fill="#ac9080"/>
<ellipse cx="469.7" cy="715.0" rx="1.5" ry="1.1" fill="#8c7264"/>
<ellipse cx="567.6" cy="747.0" rx="1.6" ry="0.9" fill="#9e8274"/>
<ellipse cx="529.0" cy="736.2" rx="1.5" ry="1.1" fill="#9e8274"/>
<ellipse cx="572.0" cy="674.6" rx="1.2" ry="1.2" fill="#a28676"/>
<ellipse cx="512.0" cy="674.4" rx="1.2" ry="1.2" fill="#ac9080"/>
<ellipse cx="563.6" cy="695.6" rx="1.3" ry="1.2" fill="#8c7264"/>
<ellipse cx="569.1" cy="724.7" rx="1.4" ry="1.0" fill="#a28676"/>
<ellipse cx="579.8" cy="719.9" rx="1.3" ry="1.1" fill="#967a6c"/>
<ellipse cx="494.3" cy="701.7" rx="1.5" ry="1.2" fill="#967a6c"/>
<ellipse cx="537.9" cy="668.6" rx="1.4" ry="1.0" fill="#967a6c"/>
<ellipse cx="494.5" cy="694.7" rx="1.3" ry="1.2" fill="#ac9080"/>
<ellipse cx="568.2" cy="682.0" rx="1.2" ry="0.9" fill="#967a6c"/>
<ellipse cx="541.7" cy="749.5" rx="1.1" ry="0.9" fill="#9e8274"/>
<ellipse cx="486.3" cy="735.4" rx="1.2" ry="1.1" fill="#a28676"/>
<ellipse cx="536.0" cy="669.8" rx="1.5" ry="1.1" fill="#967a6c"/>
<ellipse cx="556.7" cy="668.3" rx="1.1" ry="1.3" fill="#9e8274"/>
<ellipse cx="574.2" cy="703.7" rx="1.6" ry="1.2" fill="#8c7264"/>
<ellipse cx="554.3" cy="721.8" rx="1.5" ry="0.9" fill="#ac9080"/>
<ellipse cx="563.6" cy="670.2" rx="1.4" ry="1.1" fill="#9e8274"/>
<ellipse cx="527.0" cy="695.7" rx="1.3" ry="1.1" fill="#a28676"/>
<ellipse cx="498.5" cy="673.0" rx="1.5" ry="1.0" fill="#8c7264"/>
<ellipse cx="534.5" cy="737.4" rx="1.3" ry="1.0" fill="#9e8274"/>
<ellipse cx="524.4" cy="704.5" rx="1.4" ry="1.3" fill="#8c7264"/>
<ellipse cx="581.5" cy="751.4" rx="1.3" ry="1.1" fill="#9e8274"/>
<ellipse cx="546.6" cy="716.1" rx="1.3" ry="1.2" fill="#8c7264"/>
<ellipse cx="519.9" cy="696.1" rx="1.2" ry="1.1" fill="#a28676"/>
<ellipse cx="469.8" cy="674.8" rx="1.5" ry="1.3" fill="#9e8274"/>
<ellipse cx="535.1" cy="677.5" rx="1.4" ry="1.0" fill="#8c7264"/>
<ellipse cx="559.8" cy="746.8" rx="1.4" ry="1.2" fill="#8c7264"/>
<ellipse cx="569.6" cy="689.9" rx="1.3" ry="1.1" fill="#8c7264"/>
<ellipse cx="519.7" cy="717.8" rx="1.3" ry="1.1" fill="#967a6c"/>
<ellipse cx="482.4" cy="669.0" rx="1.2" ry="1.1" fill="#ac9080"/>
<ellipse cx="473.5" cy="718.4" rx="1.6" ry="1.0" fill="#9aa0c8"/>
<ellipse cx="546.4" cy="732.9" rx="1.4" ry="1.2" fill="#967a6c"/>
<ellipse cx="537.6" cy="671.9" rx="1.5" ry="1.2" fill="#ac9080"/>
<ellipse cx="553.0" cy="714.1" rx="1.2" ry="1.3" fill="#9e8274"/>
<ellipse cx="477.9" cy="733.7" rx="1.3" ry="1.0" fill="#7e86bc"/>
<ellipse cx="479.1" cy="710.5" rx="1.3" ry="1.0" fill="#9aa0c8"/>
<ellipse cx="479.7" cy="676.3" rx="1.3" ry="1.2" fill="#967a6c"/>
<ellipse cx="541.1" cy="740.7" rx="1.4" ry="1.0" fill="#967a6c"/>
<ellipse cx="582.0" cy="745.5" rx="1.2" ry="1.2" fill="#a28676"/>
<ellipse cx="580.2" cy="672.5" rx="1.2" ry="1.1" fill="#a28676"/>
<ellipse cx="483.9" cy="673.8" rx="1.4" ry="1.3" fill="#ac9080"/>
<ellipse cx="510.3" cy="674.7" rx="1.4" ry="1.1" fill="#ac9080"/>
<ellipse cx="572.0" cy="704.2" rx="1.4" ry="1.1" fill="#a28676"/>
<ellipse cx="552.9" cy="733.5" rx="1.2" ry="1.1" fill="#8c7264"/>
<ellipse cx="500.2" cy="672.9" rx="1.5" ry="1.2" fill="#8c7264"/>
<ellipse cx="501.8" cy="748.1" rx="1.3" ry="1.1" fill="#8c7264"/>
<ellipse cx="500.9" cy="668.6" rx="1.6" ry="0.9" fill="#a28676"/>
<ellipse cx="478.4" cy="731.6" rx="1.4" ry="1.0" fill="#967a6c"/>
<ellipse cx="495.1" cy="709.5" rx="1.3" ry="1.3" fill="#967a6c"/>
<ellipse cx="499.0" cy="697.3" rx="1.2" ry="1.0" fill="#9e8274"/>
<ellipse cx="574.5" cy="694.1" rx="1.3" ry="0.9" fill="#8c7264"/>
<ellipse cx="563.1" cy="690.0" rx="1.4" ry="1.0" fill="#9e8274"/>
<ellipse cx="518.1" cy="729.1" rx="1.1" ry="1.2" fill="#9e8274"/>
<ellipse cx="571.5" cy="701.7" rx="1.4" ry="1.2" fill="#9aa0c8"/>
<ellipse cx="496.2" cy="740.1" rx="1.4" ry="0.9" fill="#ac9080"/>
<ellipse cx="494.6" cy="711.0" rx="1.3" ry="1.3" fill="#ac9080"/>
<ellipse cx="526.5" cy="735.4" rx="1.5" ry="1.0" fill="#967a6c"/>
<ellipse cx="537.1" cy="753.7" rx="1.4" ry="1.1" fill="#9e8274"/>
<ellipse cx="570.1" cy="738.7" rx="1.5" ry="1.1" fill="#9e8274"/>
<ellipse cx="574.0" cy="740.3" rx="1.4" ry="1.2" fill="#967a6c"/>
<ellipse cx="484.9" cy="704.2" rx="1.2" ry="1.0" fill="#8c7264"/>
<ellipse cx="582.0" cy="703.1" rx="1.2" ry="1.2" fill="#a28676"/>
<ellipse cx="484.3" cy="709.5" rx="1.5" ry="0.9" fill="#9e8274"/>
<ellipse cx="488.7" cy="729.3" rx="1.2" ry="1.0" fill="#8c7264"/>
<ellipse cx="579.1" cy="725.3" rx="1.3" ry="1.1" fill="#a28676"/>
<ellipse cx="477.3" cy="698.2" rx="1.2" ry="1.0" fill="#967a6c"/>
<ellipse cx="560.4" cy="685.0" rx="1.3" ry="0.9" fill="#ac9080"/>
<ellipse cx="517.6" cy="697.3" rx="1.5" ry="1.2" fill="#ac9080"/>
<ellipse cx="492.7" cy="738.4" rx="1.4" ry="1.0" fill="#8c7264"/>
<ellipse cx="557.2" cy="707.3" rx="1.5" ry="1.1" fill="#9e8274"/>
<ellipse cx="490.1" cy="674.7" rx="1.3" ry="1.0" fill="#8c7264"/>
<ellipse cx="555.0" cy="738.3" rx="1.6" ry="1.1" fill="#8c7264"/>
<ellipse cx="578.2" cy="749.3" rx="1.5" ry="0.9" fill="#a28676"/>
<ellipse cx="477.9" cy="671.2" rx="1.3" ry="0.9" fill="#9e8274"/>
<ellipse cx="468.1" cy="717.4" rx="1.4" ry="1.3" fill="#9e8274"/>
<ellipse cx="481.8" cy="707.3" rx="1.2" ry="0.9" fill="#967a6c"/>
<ellipse cx="491.4" cy="741.2" rx="1.3" ry="1.0" fill="#967a6c"/>
<ellipse cx="573.0" cy="752.3" rx="1.4" ry="1.3" fill="#9e8274"/>
<ellipse cx="517.7" cy="738.3" rx="1.3" ry="0.9" fill="#967a6c"/>
<ellipse cx="467.8" cy="703.5" rx="1.5" ry="1.3" fill="#9e8274"/>
<ellipse cx="471.7" cy="742.9" rx="1.1" ry="1.2" fill="#967a6c"/>
<ellipse cx="556.9" cy="705.0" rx="1.1" ry="1.0" fill="#ac9080"/>
<ellipse cx="563.7" cy="746.5" rx="1.2" ry="0.9" fill="#9aa0c8"/>
<ellipse cx="513.2" cy="741.4" rx="1.4" ry="1.1" fill="#ac9080"/>
<ellipse cx="478.0" cy="749.1" rx="1.2" ry="1.1" fill="#8a92c4"/>
<ellipse cx="535.7" cy="751.0" rx="1.4" ry="1.2" fill="#967a6c"/>
<ellipse cx="557.5" cy="696.0" rx="1.6" ry="1.2" fill="#8a92c4"/>
<ellipse cx="568.7" cy="682.4" rx="1.2" ry="1.1" fill="#967a6c"/>
<ellipse cx="549.0" cy="748.8" rx="1.2" ry="1.2" fill="#ac9080"/>
<ellipse cx="580.6" cy="668.5" rx="1.2" ry="1.1" fill="#9e8274"/>
<ellipse cx="541.5" cy="689.9" rx="1.3" ry="1.2" fill="#9e8274"/>
<ellipse cx="498.8" cy="688.4" rx="1.4" ry="1.3" fill="#967a6c"/>
<ellipse cx="513.0" cy="697.5" rx="1.4" ry="1.2" fill="#8c7264"/>
<ellipse cx="536.7" cy="680.6" rx="1.5" ry="1.3" fill="#9e8274"/>
<ellipse cx="552.1" cy="707.3" rx="1.5" ry="1.2" fill="#a28676"/>
<ellipse cx="475.7" cy="743.3" rx="1.3" ry="1.2" fill="#967a6c"/>
<ellipse cx="576.2" cy="696.0" rx="1.5" ry="1.3" fill="#9e8274"/>
<ellipse cx="513.3" cy="732.5" rx="1.1" ry="1.3" fill="#967a6c"/>
<ellipse cx="544.8" cy="717.2" rx="1.4" ry="1.2" fill="#967a6c"/>
<ellipse cx="542.7" cy="741.9" rx="1.4" ry="1.1" fill="#967a6c"/>
<ellipse cx="473.3" cy="670.0" rx="1.5" ry="1.0" fill="#a28676"/>
<ellipse cx="556.8" cy="689.0" rx="1.1" ry="1.2" fill="#ac9080"/>
<ellipse cx="568.0" cy="694.3" rx="1.3" ry="0.9" fill="#a28676"/>
<ellipse cx="578.0" cy="684.2" rx="1.3" ry="0.9" fill="#8c7264"/>
<ellipse cx="525.9" cy="711.0" rx="1.4" ry="1.2" fill="#967a6c"/>
<ellipse cx="551.8" cy="738.4" rx="1.2" ry="0.9" fill="#9e8274"/>
<ellipse cx="512.8" cy="673.0" rx="1.5" ry="1.1" fill="#ac9080"/>
<ellipse cx="561.3" cy="717.6" rx="1.4" ry="1.0" fill="#967a6c"/>
<ellipse cx="486.0" cy="718.1" rx="1.5" ry="1.2" fill="#967a6c"/>
<ellipse cx="486.8" cy="668.2" rx="1.3" ry="1.3" fill="#8c7264"/>
<ellipse cx="569.0" cy="675.7" rx="1.5" ry="1.2" fill="#8c7264"/>
<ellipse cx="501.3" cy="720.1" rx="1.2" ry="1.0" fill="#8a92c4"/>
<ellipse cx="470.9" cy="728.7" rx="1.6" ry="1.2" fill="#967a6c"/>
<ellipse cx="562.9" cy="678.0" rx="1.2" ry="1.0" fill="#a28676"/>
<ellipse cx="507.5" cy="750.6" rx="1.2" ry="1.3" fill="#a28676"/>
<ellipse cx="504.7" cy="688.3" rx="1.5" ry="1.0" fill="#8c7264"/>
<ellipse cx="541.5" cy="706.5" rx="1.6" ry="1.0" fill="#ac9080"/>
<ellipse cx="466.8" cy="736.0" rx="1.1" ry="1.0" fill="#8c7264"/>
<ellipse cx="541.1" cy="736.2" rx="1.5" ry="1.2" fill="#8c7264"/>
<ellipse cx="569.5" cy="701.0" rx="1.3" ry="0.9" fill="#9aa0c8"/>
<ellipse cx="542.7" cy="704.7" rx="1.5" ry="1.3" fill="#ac9080"/>
<ellipse cx="577.1" cy="707.7" rx="1.2" ry="1.0" fill="#ac9080"/>
<ellipse cx="528.8" cy="677.4" rx="1.1" ry="1.1" fill="#8c7264"/>
<ellipse cx="576.8" cy="672.1" rx="1.4" ry="1.3" fill="#8c7264"/>
<ellipse cx="471.4" cy="736.9" rx="1.5" ry="0.9" fill="#9e8274"/>
<ellipse cx="552.0" cy="722.3" rx="1.2" ry="1.0" fill="#8c7264"/>
<ellipse cx="545.2" cy="715.0" rx="1.2" ry="1.3" fill="#9e8274"/>
<ellipse cx="496.1" cy="723.6" rx="1.5" ry="1.0" fill="#967a6c"/>
<ellipse cx="485.8" cy="733.0" rx="1.3" ry="1.2" fill="#9e8274"/>
<ellipse cx="564.2" cy="719.6" rx="1.3" ry="1.2" fill="#967a6c"/>
<ellipse cx="555.4" cy="695.1" rx="1.5" ry="1.3" fill="#a28676"/>
<ellipse cx="532.0" cy="694.6" rx="1.4" ry="1.0" fill="#ac9080"/>
<ellipse cx="532.6" cy="743.1" rx="1.2" ry="1.3" fill="#967a6c"/>
<ellipse cx="514.6" cy="712.6" rx="1.1" ry="1.1" fill="#ac9080"/>
<ellipse cx="477.1" cy="723.0" rx="1.2" ry="1.0" fill="#ac9080"/>
<ellipse cx="490.1" cy="676.4" rx="1.4" ry="1.0" fill="#ac9080"/>
<ellipse cx="524.0" cy="681.6" rx="1.5" ry="1.0" fill="#ac9080"/>
<ellipse cx="528.6" cy="682.7" rx="1.5" ry="1.2" fill="#9e8274"/>
<ellipse cx="474.2" cy="695.8" rx="1.4" ry="1.2" fill="#ac9080"/>
<ellipse cx="545.4" cy="667.3" rx="1.3" ry="1.1" fill="#8c7264"/>
<ellipse cx="520.9" cy="731.2" rx="1.4" ry="1.3" fill="#a28676"/>
<ellipse cx="473.2" cy="710.0" rx="1.2" ry="1.3" fill="#8c7264"/>
<ellipse cx="533.0" cy="732.0" rx="1.3" ry="1.0" fill="#967a6c"/>
<ellipse cx="553.3" cy="719.7" rx="1.1" ry="1.1" fill="#9e8274"/>
<ellipse cx="491.0" cy="705.1" rx="1.5" ry="1.1" fill="#a28676"/>
<ellipse cx="531.4" cy="700.7" rx="1.4" ry="0.9" fill="#ac9080"/>
<ellipse cx="484.7" cy="716.0" rx="1.5" ry="1.1" fill="#9e8274"/>
<ellipse cx="539.9" cy="750.4" rx="1.2" ry="1.1" fill="#a28676"/>
<ellipse cx="577.9" cy="690.0" rx="1.3" ry="1.2" fill="#9e8274"/>
<ellipse cx="531.9" cy="750.9" rx="1.2" ry="1.3" fill="#a28676"/>
<ellipse cx="558.7" cy="695.8" rx="1.2" ry="1.0" fill="#8c7264"/>
<ellipse cx="549.4" cy="734.3" rx="1.3" ry="1.2" fill="#967a6c"/>
<ellipse cx="516.9" cy="702.0" rx="1.3" ry="1.0" fill="#ac9080"/>
<ellipse cx="575.4" cy="678.9" rx="1.3" ry="0.9" fill="#ac9080"/>
<ellipse cx="530.0" cy="699.0" rx="1.4" ry="1.2" fill="#ac9080"/>
<ellipse cx="491.9" cy="711.6" rx="1.6" ry="1.1" fill="#ac9080"/>
<ellipse cx="576.0" cy="669.0" rx="1.3" ry="1.0" fill="#967a6c"/>
<ellipse cx="569.7" cy="675.4" rx="1.4" ry="1.2" fill="#7e86bc"/>
<ellipse cx="537.1" cy="737.4" rx="1.5" ry="1.0" fill="#8c7264"/>
<ellipse cx="566.5" cy="715.9" rx="1.3" ry="1.3" fill="#a28676"/>
<ellipse cx="518.8" cy="743.6" rx="1.4" ry="1.2" fill="#9e8274"/>
<ellipse cx="530.4" cy="694.5" rx="1.4" ry="1.1" fill="#ac9080"/>
<ellipse cx="537.0" cy="744.5" rx="1.2" ry="1.2" fill="#967a6c"/>
<ellipse cx="543.0" cy="690.6" rx="1.1" ry="0.9" fill="#967a6c"/>
<ellipse cx="488.1" cy="679.3" rx="1.3" ry="1.1" fill="#a28676"/>
<ellipse cx="577.8" cy="684.3" rx="1.5" ry="1.2" fill="#8c7264"/>
<ellipse cx="567.5" cy="719.0" rx="1.4" ry="1.0" fill="#ac9080"/>
<ellipse cx="471.0" cy="690.1" rx="1.4" ry="0.9" fill="#ac9080"/>
<ellipse cx="525.5" cy="706.0" rx="1.2" ry="1.1" fill="#967a6c"/>
<ellipse cx="506.8" cy="734.7" rx="1.4" ry="1.0" fill="#8c7264"/>
<ellipse cx="496.6" cy="707.2" rx="1.5" ry="1.2" fill="#9e8274"/>
<ellipse cx="542.8" cy="745.7" rx="1.5" ry="1.0" fill="#ac9080"/>
<ellipse cx="528.7" cy="724.5" rx="1.4" ry="1.0" fill="#967a6c"/>
<ellipse cx="517.8" cy="679.5" rx="1.2" ry="1.2" fill="#8a92c4"/>
<ellipse cx="515.6" cy="711.7" rx="1.5" ry="0.9" fill="#7e86bc"/>
<ellipse cx="508.2" cy="677.1" rx="1.4" ry="1.3" fill="#a28676"/>
<ellipse cx="565.3" cy="686.8" rx="1.4" ry="1.0" fill="#a28676"/>
<ellipse cx="551.9" cy="704.1" rx="1.6" ry="1.1" fill="#ac9080"/>
<ellipse cx="567.0" cy="711.6" rx="1.4" ry="1.0" fill="#a28676"/>
<ellipse cx="536.3" cy="746.7" rx="1.2" ry="1.0" fill="#ac9080"/>
<ellipse cx="500.9" cy="732.9" rx="1.3" ry="1.1" fill="#967a6c"/>
<ellipse cx="539.2" cy="750.0" rx="1.4" ry="1.2" fill="#9e8274"/>
<ellipse cx="566.1" cy="692.2" rx="1.4" ry="1.2" fill="#8c7264"/>
<ellipse cx="497.8" cy="720.8" rx="1.2" ry="1.2" fill="#ac9080"/>
<ellipse cx="580.7" cy="683.4" rx="1.2" ry="1.2" fill="#9e8274"/>
<ellipse cx="482.8" cy="743.3" rx="1.4" ry="1.3" fill="#9e8274"/>
<ellipse cx="527.8" cy="742.7" rx="1.6" ry="1.0" fill="#a28676"/>
<ellipse cx="482.0" cy="713.1" rx="1.5" ry="1.0" fill="#9e8274"/>
<ellipse cx="509.9" cy="694.4" rx="1.5" ry="1.0" fill="#a28676"/>
<ellipse cx="485.9" cy="677.5" rx="1.2" ry="1.2" fill="#a28676"/>
<ellipse cx="526.2" cy="666.9" rx="1.3" ry="1.0" fill="#9e8274"/>
<ellipse cx="555.9" cy="671.4" rx="1.2" ry="1.0" fill="#967a6c"/>
<ellipse cx="527.2" cy="726.7" rx="1.6" ry="1.1" fill="#8c7264"/>
<ellipse cx="539.0" cy="726.4" rx="1.4" ry="1.1" fill="#8a92c4"/>
<ellipse cx="569.4" cy="691.3" rx="1.6" ry="1.1" fill="#8c7264"/>
<ellipse cx="538.1" cy="692.6" rx="1.5" ry="1.2" fill="#8c7264"/>
<ellipse cx="545.5" cy="752.9" rx="1.3" ry="1.0" fill="#9aa0c8"/>
<ellipse cx="498.1" cy="715.9" rx="1.4" ry="1.1" fill="#9e8274"/>
<ellipse cx="480.0" cy="666.4" rx="1.5" ry="1.2" fill="#967a6c"/>
<ellipse cx="530.6" cy="688.8" rx="1.4" ry="1.1" fill="#967a6c"/>
<ellipse cx="534.4" cy="716.2" rx="1.4" ry="1.1" fill="#8a92c4"/>
<ellipse cx="503.0" cy="711.3" rx="1.2" ry="1.0" fill="#9e8274"/>
<ellipse cx="579.2" cy="732.7" rx="1.3" ry="1.0" fill="#967a6c"/>
<ellipse cx="537.1" cy="728.2" rx="1.2" ry="1.0" fill="#9aa0c8"/>
<ellipse cx="572.1" cy="729.4" rx="1.4" ry="1.1" fill="#ac9080"/>
<ellipse cx="524.5" cy="730.8" rx="1.3" ry="1.2" fill="#a28676"/>
<ellipse cx="485.8" cy="729.8" rx="1.2" ry="1.1" fill="#8c7264"/>
<ellipse cx="561.1" cy="710.4" rx="1.4" ry="1.0" fill="#9aa0c8"/>
<ellipse cx="513.0" cy="730.9" rx="1.1" ry="1.1" fill="#7e86bc"/>
<ellipse cx="494.3" cy="753.0" rx="1.1" ry="1.0" fill="#9e8274"/>
<ellipse cx="541.0" cy="675.1" rx="1.4" ry="1.1" fill="#8c7264"/>
<ellipse cx="579.8" cy="741.1" rx="1.5" ry="1.2" fill="#8c7264"/>
<ellipse cx="477.8" cy="690.3" rx="1.3" ry="1.1" fill="#ac9080"/>
<ellipse cx="545.1" cy="740.5" rx="1.3" ry="1.3" fill="#a28676"/>
<ellipse cx="579.7" cy="667.5" rx="1.2" ry="0.9" fill="#967a6c"/>
<ellipse cx="553.7" cy="723.4" rx="1.4" ry="1.1" fill="#ac9080"/>
<ellipse cx="530.1" cy="727.0" rx="1.6" ry="1.2" fill="#8c7264"/>
<ellipse cx="538.3" cy="746.2" rx="1.2" ry="1.1" fill="#ac9080"/>
<ellipse cx="577.4" cy="707.3" rx="1.5" ry="1.2" fill="#967a6c"/>
<ellipse cx="575.5" cy="707.6" rx="1.6" ry="1.3" fill="#9e8274"/>
<ellipse cx="466.7" cy="696.7" rx="1.5" ry="1.1" fill="#967a6c"/>
<ellipse cx="572.5" cy="667.1" rx="1.4" ry="1.2" fill="#ac9080"/>
<ellipse cx="506.3" cy="681.7" rx="1.3" ry="1.3" fill="#8c7264"/>
<ellipse cx="570.3" cy="677.4" rx="1.5" ry="1.1" fill="#a28676"/>
<ellipse cx="530.5" cy="738.6" rx="1.4" ry="1.0" fill="#8c7264"/>
<ellipse cx="498.6" cy="703.1" rx="1.3" ry="1.1" fill="#967a6c"/>
<ellipse cx="487.4" cy="700.8" rx="1.5" ry="1.2" fill="#ac9080"/>
<ellipse cx="477.0" cy="720.1" rx="1.2" ry="0.9" fill="#967a6c"/>
<ellipse cx="517.0" cy="753.0" rx="1.2" ry="1.3" fill="#967a6c"/>
<ellipse cx="570.3" cy="722.7" rx="1.6" ry="1.2" fill="#a28676"/>
<ellipse cx="471.1" cy="745.7" rx="1.2" ry="1.3" fill="#967a6c"/>
<ellipse cx="487.5" cy="666.6" rx="1.4" ry="1.0" fill="#a28676"/>
<ellipse cx="480.2" cy="722.2" rx="1.3" ry="1.2" fill="#967a6c"/>
<ellipse cx="551.7" cy="670.5" rx="1.2" ry="1.1" fill="#ac9080"/>
<ellipse cx="484.1" cy="715.9" rx="1.2" ry="1.3" fill="#ac9080"/>
<ellipse cx="485.4" cy="666.8" rx="1.6" ry="1.0" fill="#9aa0c8"/>
<ellipse cx="564.9" cy="706.7" rx="1.5" ry="1.2" fill="#9e8274"/>
<ellipse cx="506.6" cy="702.3" rx="1.4" ry="1.2" fill="#9e8274"/>
<ellipse cx="510.8" cy="696.5" rx="1.5" ry="1.0" fill="#967a6c"/>
<ellipse cx="497.0" cy="704.7" rx="1.2" ry="1.1" fill="#a28676"/>
<ellipse cx="566.3" cy="685.9" rx="1.4" ry="1.3" fill="#967a6c"/>
<ellipse cx="569.8" cy="712.7" rx="1.2" ry="0.9" fill="#a28676"/>
<ellipse cx="506.2" cy="735.2" rx="1.5" ry="1.3" fill="#967a6c"/>
<ellipse cx="477.0" cy="744.9" rx="1.6" ry="1.0" fill="#967a6c"/>
<ellipse cx="512.0" cy="724.8" rx="1.3" ry="1.1" fill="#a28676"/>
<ellipse cx="568.9" cy="719.9" rx="1.6" ry="1.0" fill="#a28676"/>
<ellipse cx="524.2" cy="722.4" rx="1.2" ry="1.0" fill="#8c7264"/>
<ellipse cx="562.7" cy="682.7" rx="1.2" ry="1.2" fill="#8c7264"/>
<ellipse cx="575.3" cy="729.8" rx="1.6" ry="1.1" fill="#967a6c"/>
<ellipse cx="566.4" cy="718.4" rx="1.5" ry="1.0" fill="#8c7264"/>
<ellipse cx="518.4" cy="674.9" rx="1.3" ry="1.2" fill="#a28676"/>
<ellipse cx="535.9" cy="737.8" rx="1.3" ry="1.0" fill="#a28676"/>
<ellipse cx="575.0" cy="716.8" rx="1.2" ry="1.3" fill="#9e8274"/>
<ellipse cx="573.4" cy="730.0" rx="1.3" ry="1.0" fill="#967a6c"/>
<ellipse cx="536.2" cy="677.0" rx="1.2" ry="1.1" fill="#967a6c"/>
<ellipse cx="556.9" cy="754.1" rx="1.5" ry="1.3" fill="#967a6c"/>
<ellipse cx="560.0" cy="668.2" rx="1.2" ry="1.1" fill="#ac9080"/>
<ellipse cx="487.5" cy="733.9" rx="1.6" ry="1.1" fill="#8c7264"/>
</g>
<line x1="548.00" y1="746.00" x2="572.70" y2="746.00" stroke="#888" stroke-width="1.0" />
<rect x="467.80" y="783.30" width="112.20" height="84.00" fill="#e0e0dd" />
<g clip-path="url(#z2)">
<ellipse cx="479.5" cy="794.8" rx="1.1" ry="0.9" fill="#8e6a50"/>
<ellipse cx="478.9" cy="795.6" rx="1.0" ry="0.8" fill="#8e6a50"/>
<ellipse cx="486.4" cy="798.2" rx="1.3" ry="0.9" fill="#8188b8"/>
<ellipse cx="498.3" cy="819.4" rx="1.1" ry="1.0" fill="#b08866"/>
<ellipse cx="498.7" cy="825.5" rx="1.0" ry="1.0" fill="#9096c0"/>
<ellipse cx="480.7" cy="794.9" rx="1.0" ry="0.8" fill="#a8805e"/>
<ellipse cx="484.2" cy="797.4" rx="0.9" ry="0.8" fill="#a47c5c"/>
<ellipse cx="510.8" cy="800.9" rx="0.9" ry="1.0" fill="#9a7256"/>
<ellipse cx="486.7" cy="800.4" rx="1.2" ry="1.0" fill="#8e6a50"/>
<ellipse cx="508.2" cy="807.5" rx="1.2" ry="0.8" fill="#b08866"/>
<ellipse cx="497.2" cy="816.1" rx="1.1" ry="0.9" fill="#a8805e"/>
<ellipse cx="510.3" cy="795.9" rx="1.1" ry="1.0" fill="#8e6a50"/>
<ellipse cx="504.8" cy="806.4" rx="1.0" ry="1.1" fill="#8188b8"/>
<ellipse cx="499.1" cy="826.3" rx="1.1" ry="0.7" fill="#8e6a50"/>
<ellipse cx="503.0" cy="817.2" rx="1.1" ry="0.9" fill="#a47c5c"/>
<ellipse cx="510.3" cy="796.9" rx="1.1" ry="1.0" fill="#8e6a50"/>
<ellipse cx="489.5" cy="802.9" rx="1.2" ry="0.9" fill="#b08866"/>
<ellipse cx="490.6" cy="811.6" rx="0.9" ry="1.0" fill="#a47c5c"/>
<ellipse cx="497.9" cy="824.4" rx="1.2" ry="0.8" fill="#8e6a50"/>
<ellipse cx="485.6" cy="800.3" rx="1.1" ry="1.0" fill="#9a7256"/>
<ellipse cx="494.6" cy="815.5" rx="1.0" ry="1.0" fill="#a47c5c"/>
<ellipse cx="503.8" cy="815.4" rx="1.3" ry="0.9" fill="#9096c0"/>
<ellipse cx="485.1" cy="802.4" rx="1.2" ry="1.1" fill="#a8805e"/>
<ellipse cx="498.6" cy="819.9" rx="1.0" ry="1.1" fill="#8e6a50"/>
<ellipse cx="505.2" cy="814.3" rx="0.9" ry="0.9" fill="#9096c0"/>
<ellipse cx="497.9" cy="824.6" rx="1.2" ry="1.0" fill="#8e6a50"/>
<ellipse cx="509.4" cy="796.0" rx="0.9" ry="0.8" fill="#b08866"/>
<ellipse cx="503.9" cy="823.7" rx="0.9" ry="0.9" fill="#8188b8"/>
<ellipse cx="498.3" cy="820.3" rx="1.1" ry="1.0" fill="#8188b8"/>
<ellipse cx="486.4" cy="802.0" rx="1.2" ry="1.0" fill="#8188b8"/>
<ellipse cx="492.8" cy="811.0" rx="1.2" ry="1.0" fill="#9096c0"/>
<ellipse cx="479.5" cy="794.1" rx="1.1" ry="0.9" fill="#a8805e"/>
<ellipse cx="504.1" cy="813.2" rx="1.0" ry="1.0" fill="#9a7256"/>
<ellipse cx="507.2" cy="798.5" rx="1.2" ry="0.7" fill="#8188b8"/>
<ellipse cx="498.2" cy="823.4" rx="1.1" ry="0.9" fill="#9096c0"/>
<ellipse cx="500.3" cy="821.8" rx="1.0" ry="0.8" fill="#8188b8"/>
<ellipse cx="498.4" cy="824.8" rx="1.1" ry="1.0" fill="#8188b8"/>
<ellipse cx="482.7" cy="793.8" rx="1.3" ry="1.0" fill="#a8805e"/>
<ellipse cx="491.9" cy="809.0" rx="1.1" ry="1.1" fill="#a47c5c"/>
<ellipse cx="510.1" cy="800.2" rx="1.0" ry="0.9" fill="#8188b8"/>
<ellipse cx="496.8" cy="820.7" rx="1.0" ry="0.8" fill="#8e6a50"/>
<ellipse cx="490.9" cy="807.1" rx="1.1" ry="0.8" fill="#9096c0"/>
<ellipse cx="480.9" cy="793.0" rx="1.0" ry="0.7" fill="#9a7256"/>
<ellipse cx="480.8" cy="795.9" rx="1.1" ry="1.0" fill="#a8805e"/>
<ellipse cx="492.0" cy="816.7" rx="1.0" ry="0.8" fill="#8188b8"/>
<ellipse cx="479.9" cy="794.6" rx="1.1" ry="0.9" fill="#9096c0"/>
<ellipse cx="497.2" cy="822.3" rx="1.3" ry="1.0" fill="#9096c0"/>
<ellipse cx="497.1" cy="824.3" rx="1.1" ry="0.7" fill="#b08866"/>
<ellipse cx="483.6" cy="797.3" rx="1.1" ry="1.0" fill="#8e6a50"/>
<ellipse cx="505.2" cy="816.7" rx="1.1" ry="1.0" fill="#9a7256"/>
<ellipse cx="492.8" cy="810.0" rx="1.0" ry="1.0" fill="#9a7256"/>
<ellipse cx="492.7" cy="812.2" rx="1.1" ry="0.9" fill="#9a7256"/>
<ellipse cx="477.6" cy="793.0" rx="1.1" ry="0.9" fill="#a47c5c"/>
<ellipse cx="489.5" cy="805.6" rx="1.3" ry="0.9" fill="#b08866"/>
<ellipse cx="479.8" cy="794.9" rx="1.2" ry="0.9" fill="#8e6a50"/>
<ellipse cx="504.5" cy="812.1" rx="1.1" ry="1.0" fill="#9096c0"/>
<ellipse cx="494.2" cy="807.3" rx="0.9" ry="1.1" fill="#8188b8"/>
<ellipse cx="497.4" cy="826.5" rx="1.1" ry="0.7" fill="#8e6a50"/>
<ellipse cx="501.0" cy="818.0" rx="1.0" ry="0.8" fill="#a47c5c"/>
<ellipse cx="502.9" cy="809.3" rx="1.1" ry="0.8" fill="#b08866"/>
<ellipse cx="485.4" cy="802.7" rx="1.0" ry="0.8" fill="#8e6a50"/>
<ellipse cx="507.1" cy="817.4" rx="1.2" ry="1.0" fill="#a47c5c"/>
<ellipse cx="486.8" cy="803.1" rx="1.1" ry="0.8" fill="#a47c5c"/>
<ellipse cx="491.8" cy="803.6" rx="1.2" ry="0.9" fill="#9096c0"/>
<ellipse cx="502.6" cy="819.3" rx="1.0" ry="0.9" fill="#8188b8"/>
<ellipse cx="483.1" cy="793.3" rx="1.3" ry="0.7" fill="#9096c0"/>
<ellipse cx="499.9" cy="824.8" rx="1.2" ry="0.8" fill="#9096c0"/>
<ellipse cx="512.0" cy="794.3" rx="1.2" ry="1.0" fill="#a47c5c"/>
<ellipse cx="479.3" cy="793.9" rx="1.1" ry="0.9" fill="#9096c0"/>
<ellipse cx="497.3" cy="824.6" rx="1.1" ry="0.9" fill="#9096c0"/>
<ellipse cx="493.4" cy="823.9" rx="1.2" ry="0.9" fill="#b08866"/>
<ellipse cx="478.2" cy="791.9" rx="1.0" ry="0.9" fill="#a8805e"/>
<ellipse cx="500.5" cy="819.8" rx="1.3" ry="0.8" fill="#a8805e"/>
<ellipse cx="494.6" cy="821.8" rx="1.1" ry="1.0" fill="#a47c5c"/>
<ellipse cx="503.8" cy="822.7" rx="1.3" ry="0.7" fill="#9096c0"/>
<ellipse cx="507.5" cy="810.4" rx="1.1" ry="1.0" fill="#b08866"/>
<ellipse cx="492.6" cy="812.9" rx="1.1" ry="1.0" fill="#9096c0"/>
<ellipse cx="499.4" cy="819.7" rx="0.9" ry="1.0" fill="#8188b8"/>
<ellipse cx="491.4" cy="815.3" rx="1.1" ry="0.9" fill="#8188b8"/>
<ellipse cx="506.3" cy="807.4" rx="1.0" ry="0.8" fill="#a47c5c"/>
<ellipse cx="503.1" cy="818.3" rx="1.2" ry="1.0" fill="#8e6a50"/>
<ellipse cx="501.3" cy="816.9" rx="0.9" ry="0.7" fill="#8188b8"/>
<ellipse cx="497.4" cy="828.0" rx="1.3" ry="0.9" fill="#a8805e"/>
<ellipse cx="486.0" cy="796.4" rx="1.2" ry="1.1" fill="#a8805e"/>
<ellipse cx="491.0" cy="804.3" rx="1.3" ry="0.7" fill="#a8805e"/>
<ellipse cx="505.1" cy="809.9" rx="1.2" ry="1.0" fill="#a47c5c"/>
<ellipse cx="506.7" cy="802.7" rx="1.3" ry="1.0" fill="#a47c5c"/>
<ellipse cx="498.2" cy="827.4" rx="1.2" ry="0.9" fill="#8188b8"/>
<ellipse cx="508.8" cy="795.0" rx="1.0" ry="0.9" fill="#8e6a50"/>
<ellipse cx="496.4" cy="814.5" rx="1.2" ry="1.0" fill="#9a7256"/>
<ellipse cx="484.3" cy="795.4" rx="1.1" ry="1.1" fill="#a47c5c"/>
<ellipse cx="500.8" cy="823.0" rx="1.0" ry="0.8" fill="#9a7256"/>
<ellipse cx="475.1" cy="792.6" rx="1.3" ry="1.1" fill="#a47c5c"/>
<ellipse cx="494.6" cy="817.0" rx="1.3" ry="0.9" fill="#8188b8"/>
<ellipse cx="510.2" cy="800.0" rx="0.9" ry="0.8" fill="#9a7256"/>
<ellipse cx="503.1" cy="819.1" rx="1.1" ry="0.9" fill="#b08866"/>
<ellipse cx="505.2" cy="806.5" rx="1.1" ry="1.1" fill="#8e6a50"/>
<ellipse cx="505.2" cy="802.0" rx="1.0" ry="0.8" fill="#9a7256"/>
<ellipse cx="493.1" cy="809.7" rx="0.9" ry="0.8" fill="#8e6a50"/>
<ellipse cx="505.7" cy="807.7" rx="1.0" ry="0.9" fill="#9a7256"/>
<ellipse cx="492.5" cy="812.4" rx="1.2" ry="1.0" fill="#a47c5c"/>
<ellipse cx="498.1" cy="821.8" rx="0.9" ry="0.8" fill="#a8805e"/>
<ellipse cx="491.2" cy="811.0" rx="1.1" ry="0.8" fill="#a8805e"/>
<ellipse cx="500.7" cy="825.1" rx="1.2" ry="1.0" fill="#b08866"/>
<ellipse cx="500.1" cy="826.7" rx="1.1" ry="1.0" fill="#b08866"/>
<ellipse cx="495.7" cy="819.0" rx="1.0" ry="1.0" fill="#a47c5c"/>
<ellipse cx="504.2" cy="819.9" rx="1.2" ry="0.9" fill="#a47c5c"/>
<ellipse cx="493.9" cy="821.4" rx="0.9" ry="0.7" fill="#9a7256"/>
<ellipse cx="501.9" cy="819.3" rx="1.1" ry="0.9" fill="#a8805e"/>
<ellipse cx="500.5" cy="821.4" rx="1.3" ry="0.9" fill="#a8805e"/>
<ellipse cx="498.9" cy="823.4" rx="1.2" ry="1.0" fill="#8e6a50"/>
<ellipse cx="492.1" cy="814.1" rx="1.2" ry="0.8" fill="#a8805e"/>
<ellipse cx="500.7" cy="822.9" rx="0.9" ry="1.0" fill="#8188b8"/>
<ellipse cx="507.2" cy="814.9" rx="1.0" ry="1.0" fill="#8188b8"/>
<ellipse cx="497.9" cy="821.7" rx="1.1" ry="1.0" fill="#9096c0"/>
<ellipse cx="480.8" cy="792.0" rx="1.0" ry="1.1" fill="#9a7256"/>
<ellipse cx="503.4" cy="816.0" rx="1.0" ry="0.8" fill="#8188b8"/>
<ellipse cx="488.2" cy="804.9" rx="1.1" ry="0.8" fill="#a8805e"/>
<ellipse cx="508.4" cy="797.4" rx="0.9" ry="1.0" fill="#9a7256"/>
<ellipse cx="501.7" cy="819.0" rx="1.3" ry="0.9" fill="#a47c5c"/>
<ellipse cx="487.2" cy="799.2" rx="1.2" ry="1.1" fill="#a8805e"/>
<ellipse cx="507.2" cy="800.0" rx="1.0" ry="1.0" fill="#b08866"/>
<ellipse cx="496.9" cy="824.6" rx="1.2" ry="1.0" fill="#9096c0"/>
<ellipse cx="502.7" cy="819.3" rx="1.0" ry="0.8" fill="#a47c5c"/>
<ellipse cx="482.4" cy="800.7" rx="1.2" ry="0.9" fill="#a8805e"/>
<ellipse cx="488.9" cy="804.0" rx="1.2" ry="0.9" fill="#a8805e"/>
<ellipse cx="506.2" cy="818.9" rx="1.0" ry="0.9" fill="#a47c5c"/>
<ellipse cx="500.4" cy="818.1" rx="1.2" ry="1.0" fill="#9096c0"/>
<ellipse cx="484.1" cy="799.2" rx="1.0" ry="0.9" fill="#a8805e"/>
<ellipse cx="503.6" cy="814.6" rx="1.1" ry="1.1" fill="#a8805e"/>
<ellipse cx="489.4" cy="789.1" rx="1.0" ry="0.7" fill="#b08866"/>
<ellipse cx="504.0" cy="792.0" rx="1.0" ry="0.9" fill="#b08866"/>
<ellipse cx="487.4" cy="793.1" rx="1.2" ry="0.9" fill="#8e6a50"/>
<ellipse cx="511.9" cy="794.1" rx="1.0" ry="0.8" fill="#a8805e"/>
<ellipse cx="507.6" cy="791.7" rx="1.1" ry="0.8" fill="#9a7256"/>
<ellipse cx="485.8" cy="792.3" rx="1.3" ry="1.0" fill="#a47c5c"/>
<ellipse cx="507.3" cy="791.6" rx="0.9" ry="0.9" fill="#b08866"/>
<ellipse cx="504.4" cy="791.2" rx="1.2" ry="0.8" fill="#a8805e"/>
<ellipse cx="489.6" cy="791.9" rx="1.2" ry="0.8" fill="#9a7256"/>
<ellipse cx="487.3" cy="790.8" rx="1.1" ry="0.7" fill="#a47c5c"/>
<ellipse cx="487.7" cy="794.1" rx="1.0" ry="0.9" fill="#9a7256"/>
<ellipse cx="510.2" cy="792.1" rx="1.1" ry="0.8" fill="#a47c5c"/>
<ellipse cx="495.6" cy="790.5" rx="0.9" ry="0.9" fill="#b08866"/>
<ellipse cx="488.7" cy="791.8" rx="1.0" ry="0.8" fill="#8e6a50"/>
<ellipse cx="483.9" cy="792.8" rx="1.1" ry="1.0" fill="#a8805e"/>
<ellipse cx="488.8" cy="790.5" rx="1.1" ry="0.8" fill="#b08866"/>
<ellipse cx="505.0" cy="791.1" rx="1.0" ry="0.9" fill="#b08866"/>
<ellipse cx="510.2" cy="794.2" rx="1.1" ry="1.1" fill="#8e6a50"/>
<ellipse cx="483.6" cy="793.7" rx="1.2" ry="0.9" fill="#a8805e"/>
<ellipse cx="493.7" cy="792.5" rx="1.3" ry="1.1" fill="#a8805e"/>
<ellipse cx="507.9" cy="791.5" rx="1.1" ry="1.0" fill="#a8805e"/>
<ellipse cx="504.2" cy="791.8" rx="1.0" ry="0.7" fill="#a47c5c"/>
<ellipse cx="503.4" cy="790.4" rx="1.1" ry="0.8" fill="#8e6a50"/>
<ellipse cx="485.0" cy="790.9" rx="1.0" ry="1.1" fill="#9a7256"/>
<ellipse cx="494.6" cy="790.6" rx="1.2" ry="1.1" fill="#a47c5c"/>
<ellipse cx="504.6" cy="793.7" rx="1.3" ry="0.8" fill="#a8805e"/>
<ellipse cx="507.7" cy="790.5" rx="1.1" ry="0.7" fill="#b08866"/>
<ellipse cx="507.3" cy="791.0" rx="1.0" ry="1.1" fill="#a8805e"/>
<ellipse cx="488.1" cy="790.5" rx="1.2" ry="1.0" fill="#b08866"/>
<ellipse cx="485.4" cy="788.6" rx="1.1" ry="0.7" fill="#8e6a50"/>
<ellipse cx="490.3" cy="793.1" rx="1.2" ry="1.0" fill="#9a7256"/>
<ellipse cx="484.0" cy="792.3" rx="1.2" ry="0.7" fill="#9a7256"/>
<ellipse cx="494.8" cy="790.9" rx="1.0" ry="0.9" fill="#9a7256"/>
<ellipse cx="498.0" cy="789.3" rx="1.2" ry="1.1" fill="#a8805e"/>
<ellipse cx="493.6" cy="791.4" rx="1.2" ry="0.9" fill="#9a7256"/>
<ellipse cx="552.1" cy="807.3" rx="1.0" ry="0.9" fill="#b08866"/>
<ellipse cx="553.9" cy="810.9" rx="1.0" ry="0.8" fill="#b08866"/>
<ellipse cx="548.4" cy="804.1" rx="1.1" ry="1.0" fill="#8188b8"/>
<ellipse cx="570.1" cy="821.9" rx="0.9" ry="1.0" fill="#8188b8"/>
<ellipse cx="545.8" cy="803.1" rx="1.0" ry="1.1" fill="#a8805e"/>
<ellipse cx="543.0" cy="797.6" rx="1.2" ry="0.7" fill="#8188b8"/>
<ellipse cx="543.9" cy="800.9" rx="1.2" ry="1.0" fill="#a47c5c"/>
<ellipse cx="551.3" cy="809.1" rx="1.0" ry="0.7" fill="#a47c5c"/>
<ellipse cx="567.8" cy="817.4" rx="1.0" ry="0.7" fill="#a8805e"/>
<ellipse cx="543.6" cy="796.8" rx="1.0" ry="1.0" fill="#8188b8"/>
<ellipse cx="543.1" cy="800.2" rx="0.9" ry="0.8" fill="#8188b8"/>
<ellipse cx="550.9" cy="808.7" rx="1.1" ry="1.1" fill="#a47c5c"/>
<ellipse cx="536.9" cy="791.9" rx="1.1" ry="0.8" fill="#a47c5c"/>
<ellipse cx="573.2" cy="820.1" rx="1.3" ry="0.9" fill="#b08866"/>
<ellipse cx="543.1" cy="796.6" rx="1.1" ry="0.8" fill="#9096c0"/>
<ellipse cx="537.4" cy="793.0" rx="1.2" ry="0.8" fill="#b08866"/>
<ellipse cx="549.4" cy="808.6" rx="0.9" ry="0.9" fill="#9096c0"/>
<ellipse cx="571.4" cy="821.1" rx="1.1" ry="1.0" fill="#8188b8"/>
<ellipse cx="549.0" cy="808.3" rx="1.1" ry="0.8" fill="#9096c0"/>
<ellipse cx="561.4" cy="815.1" rx="1.0" ry="0.9" fill="#b08866"/>
<ellipse cx="567.7" cy="813.5" rx="1.3" ry="1.0" fill="#8e6a50"/>
<ellipse cx="556.3" cy="812.6" rx="1.1" ry="0.9" fill="#a8805e"/>
<ellipse cx="538.3" cy="791.3" rx="1.2" ry="1.0" fill="#8188b8"/>
<ellipse cx="534.4" cy="795.6" rx="1.0" ry="0.8" fill="#a47c5c"/>
<ellipse cx="558.3" cy="814.1" rx="0.9" ry="1.1" fill="#8188b8"/>
<ellipse cx="567.9" cy="822.5" rx="1.1" ry="1.0" fill="#a8805e"/>
<ellipse cx="535.9" cy="795.4" rx="1.0" ry="0.9" fill="#9096c0"/>
<ellipse cx="549.3" cy="805.8" rx="1.2" ry="0.8" fill="#a8805e"/>
<ellipse cx="549.3" cy="803.3" rx="1.1" ry="0.8" fill="#a8805e"/>
<ellipse cx="553.6" cy="809.8" rx="1.2" ry="0.7" fill="#a47c5c"/>
<ellipse cx="571.8" cy="819.3" rx="1.2" ry="0.8" fill="#8188b8"/>
<ellipse cx="543.5" cy="800.3" rx="1.0" ry="0.8" fill="#9a7256"/>
<ellipse cx="536.1" cy="795.6" rx="1.0" ry="1.1" fill="#9096c0"/>
<ellipse cx="552.0" cy="803.2" rx="1.2" ry="0.9" fill="#a8805e"/>
<ellipse cx="561.0" cy="818.6" rx="1.0" ry="0.9" fill="#9a7256"/>
<ellipse cx="545.2" cy="799.9" rx="1.2" ry="1.1" fill="#9a7256"/>
<ellipse cx="558.6" cy="810.8" rx="0.9" ry="0.9" fill="#8e6a50"/>
<ellipse cx="560.2" cy="818.0" rx="1.3" ry="0.7" fill="#a47c5c"/>
<ellipse cx="539.5" cy="793.0" rx="1.0" ry="0.8" fill="#8e6a50"/>
<ellipse cx="536.2" cy="796.5" rx="1.3" ry="0.9" fill="#9096c0"/>
<ellipse cx="532.4" cy="792.3" rx="1.3" ry="1.1" fill="#9a7256"/>
<ellipse cx="541.7" cy="796.1" rx="1.1" ry="1.0" fill="#b08866"/>
<ellipse cx="568.6" cy="819.2" rx="1.2" ry="0.9" fill="#a8805e"/>
<ellipse cx="561.5" cy="817.6" rx="0.9" ry="1.0" fill="#b08866"/>
<ellipse cx="538.1" cy="798.4" rx="1.0" ry="1.1" fill="#8e6a50"/>
<ellipse cx="546.5" cy="799.7" rx="1.1" ry="0.9" fill="#8188b8"/>
<ellipse cx="553.6" cy="808.8" rx="1.3" ry="1.0" fill="#a47c5c"/>
<ellipse cx="533.8" cy="790.4" rx="1.2" ry="0.9" fill="#8188b8"/>
<ellipse cx="554.9" cy="810.8" rx="1.1" ry="1.0" fill="#a47c5c"/>
<ellipse cx="565.7" cy="815.8" rx="1.2" ry="1.0" fill="#a47c5c"/>
<ellipse cx="537.7" cy="792.6" rx="1.1" ry="1.0" fill="#8188b8"/>
<ellipse cx="548.9" cy="803.4" rx="1.2" ry="0.7" fill="#a8805e"/>
<ellipse cx="555.1" cy="815.0" rx="1.1" ry="1.1" fill="#b08866"/>
<ellipse cx="536.9" cy="790.8" rx="0.9" ry="0.9" fill="#9a7256"/>
<ellipse cx="547.9" cy="802.4" rx="1.0" ry="1.1" fill="#9a7256"/>
<ellipse cx="560.3" cy="810.8" rx="1.2" ry="0.8" fill="#b08866"/>
<ellipse cx="555.9" cy="806.1" rx="1.3" ry="0.9" fill="#a47c5c"/>
<ellipse cx="563.4" cy="814.5" rx="1.0" ry="0.9" fill="#a8805e"/>
<ellipse cx="550.7" cy="802.9" rx="1.2" ry="1.1" fill="#a8805e"/>
<ellipse cx="540.6" cy="795.1" rx="1.1" ry="1.1" fill="#a8805e"/>
<ellipse cx="544.2" cy="802.4" rx="1.0" ry="0.9" fill="#8e6a50"/>
<ellipse cx="543.0" cy="798.4" rx="1.0" ry="0.9" fill="#9a7256"/>
<ellipse cx="546.7" cy="799.6" rx="1.3" ry="0.8" fill="#a47c5c"/>
<ellipse cx="549.1" cy="808.6" rx="1.1" ry="0.7" fill="#b08866"/>
<ellipse cx="551.3" cy="804.7" rx="1.3" ry="0.7" fill="#8188b8"/>
<ellipse cx="555.5" cy="813.0" rx="1.0" ry="1.0" fill="#a47c5c"/>
<ellipse cx="534.7" cy="792.2" rx="1.1" ry="1.1" fill="#a8805e"/>
<ellipse cx="545.2" cy="804.6" rx="1.0" ry="1.0" fill="#9096c0"/>
<ellipse cx="563.8" cy="814.2" rx="1.2" ry="1.0" fill="#a47c5c"/>
<ellipse cx="552.3" cy="814.1" rx="1.1" ry="1.1" fill="#8188b8"/>
<ellipse cx="537.0" cy="791.8" rx="1.2" ry="1.0" fill="#8e6a50"/>
<ellipse cx="563.0" cy="817.6" rx="1.1" ry="1.1" fill="#a47c5c"/>
<ellipse cx="545.4" cy="797.8" rx="1.3" ry="0.8" fill="#a8805e"/>
<ellipse cx="564.3" cy="814.3" rx="1.2" ry="0.9" fill="#9a7256"/>
<ellipse cx="547.4" cy="802.0" rx="1.3" ry="0.7" fill="#b08866"/>
<ellipse cx="548.5" cy="798.9" rx="1.0" ry="0.9" fill="#a47c5c"/>
<ellipse cx="551.6" cy="807.4" rx="1.2" ry="1.0" fill="#8e6a50"/>
<ellipse cx="531.5" cy="787.3" rx="1.0" ry="1.0" fill="#9a7256"/>
<ellipse cx="547.3" cy="804.3" rx="1.2" ry="1.0" fill="#8188b8"/>
<ellipse cx="544.9" cy="797.4" rx="0.9" ry="0.9" fill="#8e6a50"/>
<ellipse cx="545.5" cy="801.6" rx="1.1" ry="0.9" fill="#8188b8"/>
<ellipse cx="542.3" cy="797.8" rx="1.0" ry="0.8" fill="#a47c5c"/>
<ellipse cx="540.7" cy="796.2" rx="1.1" ry="0.9" fill="#a8805e"/>
<ellipse cx="540.4" cy="794.7" rx="1.3" ry="1.0" fill="#9096c0"/>
<ellipse cx="561.8" cy="814.3" rx="1.2" ry="0.9" fill="#8e6a50"/>
<ellipse cx="559.8" cy="814.9" rx="1.2" ry="1.1" fill="#9096c0"/>
<ellipse cx="568.5" cy="821.2" rx="1.1" ry="1.0" fill="#b08866"/>
<ellipse cx="573.7" cy="825.2" rx="1.2" ry="0.7" fill="#a8805e"/>
<ellipse cx="549.4" cy="805.9" rx="0.9" ry="1.0" fill="#8188b8"/>
<ellipse cx="545.2" cy="804.4" rx="1.2" ry="1.0" fill="#9096c0"/>
<ellipse cx="544.6" cy="798.1" rx="1.2" ry="0.7" fill="#8e6a50"/>
<ellipse cx="551.8" cy="811.9" rx="1.0" ry="0.8" fill="#a47c5c"/>
<ellipse cx="560.9" cy="815.4" rx="1.1" ry="1.1" fill="#8e6a50"/>
<ellipse cx="557.6" cy="808.4" rx="0.9" ry="0.9" fill="#a47c5c"/>
<ellipse cx="555.7" cy="815.2" rx="1.2" ry="1.1" fill="#9096c0"/>
<ellipse cx="558.5" cy="818.3" rx="1.3" ry="0.9" fill="#a47c5c"/>
<ellipse cx="561.9" cy="817.3" rx="0.9" ry="0.9" fill="#b08866"/>
<ellipse cx="547.7" cy="805.9" rx="1.3" ry="0.7" fill="#9a7256"/>
<ellipse cx="562.7" cy="803.5" rx="1.2" ry="1.0" fill="#b08866"/>
<ellipse cx="559.9" cy="800.6" rx="1.2" ry="1.0" fill="#a8805e"/>
<ellipse cx="560.3" cy="802.1" rx="1.2" ry="0.8" fill="#8e6a50"/>
<ellipse cx="563.0" cy="808.2" rx="1.3" ry="1.1" fill="#8e6a50"/>
<ellipse cx="559.0" cy="799.1" rx="1.1" ry="0.7" fill="#a8805e"/>
<ellipse cx="547.2" cy="806.4" rx="0.9" ry="1.0" fill="#a47c5c"/>
<ellipse cx="549.9" cy="807.9" rx="1.1" ry="0.8" fill="#9a7256"/>
<ellipse cx="547.8" cy="802.4" rx="1.2" ry="0.9" fill="#b08866"/>
<ellipse cx="564.5" cy="812.4" rx="1.1" ry="1.0" fill="#8e6a50"/>
<ellipse cx="551.5" cy="813.9" rx="0.9" ry="0.9" fill="#a8805e"/>
<ellipse cx="551.8" cy="803.6" rx="1.1" ry="0.8" fill="#8e6a50"/>
<ellipse cx="551.5" cy="813.2" rx="1.0" ry="0.7" fill="#a8805e"/>
<ellipse cx="563.4" cy="810.8" rx="1.0" ry="0.9" fill="#8e6a50"/>
<ellipse cx="561.8" cy="819.1" rx="1.0" ry="0.9" fill="#b08866"/>
<ellipse cx="561.1" cy="800.9" rx="1.0" ry="1.1" fill="#8e6a50"/>
<ellipse cx="565.5" cy="811.9" rx="1.0" ry="1.0" fill="#b08866"/>
<ellipse cx="554.4" cy="817.0" rx="1.3" ry="1.1" fill="#b08866"/>
<ellipse cx="560.5" cy="819.9" rx="0.9" ry="1.1" fill="#a8805e"/>
<ellipse cx="563.2" cy="816.3" rx="1.1" ry="1.0" fill="#9a7256"/>
<ellipse cx="561.8" cy="818.2" rx="1.2" ry="0.7" fill="#a8805e"/>
<ellipse cx="564.8" cy="815.0" rx="1.2" ry="1.1" fill="#a8805e"/>
<ellipse cx="565.4" cy="813.5" rx="1.2" ry="0.9" fill="#a8805e"/>
<ellipse cx="555.4" cy="816.4" rx="1.2" ry="0.9" fill="#b08866"/>
<ellipse cx="562.5" cy="816.6" rx="1.3" ry="0.7" fill="#b08866"/>
<ellipse cx="549.9" cy="802.8" rx="1.2" ry="0.8" fill="#8e6a50"/>
<ellipse cx="549.6" cy="807.7" rx="1.2" ry="1.0" fill="#a8805e"/>
<ellipse cx="562.3" cy="817.3" rx="1.0" ry="0.8" fill="#b08866"/>
<ellipse cx="560.9" cy="818.1" rx="1.0" ry="0.8" fill="#a8805e"/>
<ellipse cx="564.3" cy="811.3" rx="1.0" ry="1.0" fill="#a8805e"/>
<ellipse cx="559.0" cy="819.3" rx="1.0" ry="0.9" fill="#a47c5c"/>
<ellipse cx="563.5" cy="816.7" rx="0.9" ry="0.8" fill="#9a7256"/>
<ellipse cx="553.3" cy="802.5" rx="1.2" ry="0.7" fill="#b08866"/>
<ellipse cx="563.2" cy="808.3" rx="1.0" ry="1.1" fill="#9a7256"/>
<ellipse cx="554.4" cy="817.2" rx="1.2" ry="0.9" fill="#9a7256"/>
<ellipse cx="565.1" cy="812.1" rx="1.3" ry="1.0" fill="#8e6a50"/>
<ellipse cx="560.0" cy="818.9" rx="1.1" ry="0.9" fill="#a47c5c"/>
<ellipse cx="562.2" cy="805.9" rx="1.2" ry="0.8" fill="#8e6a50"/>
<ellipse cx="559.5" cy="818.7" rx="1.2" ry="0.9" fill="#8e6a50"/>
<ellipse cx="557.3" cy="801.4" rx="1.2" ry="1.0" fill="#9a7256"/>
<ellipse cx="564.8" cy="807.8" rx="1.2" ry="1.0" fill="#a8805e"/>
<ellipse cx="547.1" cy="804.7" rx="1.0" ry="0.9" fill="#8e6a50"/>
<ellipse cx="547.5" cy="800.5" rx="1.0" ry="0.8" fill="#b08866"/>
<ellipse cx="550.4" cy="800.4" rx="1.1" ry="0.8" fill="#b08866"/>
<ellipse cx="559.3" cy="817.2" rx="0.9" ry="0.9" fill="#b08866"/>
<ellipse cx="561.9" cy="817.3" rx="1.2" ry="1.1" fill="#a8805e"/>
<ellipse cx="564.5" cy="812.2" rx="0.9" ry="0.8" fill="#8e6a50"/>
<ellipse cx="547.8" cy="802.1" rx="1.0" ry="0.7" fill="#a47c5c"/>
<ellipse cx="562.8" cy="817.8" rx="1.2" ry="1.0" fill="#8e6a50"/>
<ellipse cx="564.7" cy="812.0" rx="1.3" ry="1.0" fill="#a47c5c"/>
<ellipse cx="550.7" cy="802.9" rx="1.2" ry="1.0" fill="#9a7256"/>
<ellipse cx="547.7" cy="804.9" rx="1.0" ry="1.0" fill="#8e6a50"/>
<ellipse cx="550.1" cy="807.0" rx="1.1" ry="1.1" fill="#8e6a50"/>
<ellipse cx="551.7" cy="801.3" rx="1.2" ry="1.0" fill="#b08866"/>
<ellipse cx="554.9" cy="802.5" rx="0.9" ry="1.0" fill="#b08866"/>
<ellipse cx="555.5" cy="815.9" rx="1.1" ry="0.7" fill="#a47c5c"/>
<ellipse cx="561.9" cy="799.0" rx="1.1" ry="1.0" fill="#a47c5c"/>
<ellipse cx="556.4" cy="800.7" rx="1.2" ry="1.0" fill="#b08866"/>
<ellipse cx="519.6" cy="837.2" rx="0.9" ry="0.7" fill="#a47c5c"/>
<ellipse cx="517.1" cy="840.2" rx="1.1" ry="1.0" fill="#a8805e"/>
<ellipse cx="523.6" cy="836.7" rx="0.9" ry="0.8" fill="#8e6a50"/>
<ellipse cx="523.1" cy="837.6" rx="1.2" ry="0.9" fill="#b08866"/>
<ellipse cx="517.2" cy="849.1" rx="1.0" ry="1.0" fill="#b08866"/>
<ellipse cx="525.5" cy="849.9" rx="1.1" ry="0.8" fill="#a47c5c"/>
<ellipse cx="517.3" cy="841.0" rx="1.0" ry="1.0" fill="#8e6a50"/>
<ellipse cx="525.6" cy="848.2" rx="1.1" ry="1.1" fill="#9a7256"/>
<ellipse cx="519.6" cy="852.5" rx="1.2" ry="1.0" fill="#8e6a50"/>
<ellipse cx="517.9" cy="846.9" rx="1.2" ry="0.9" fill="#a47c5c"/>
<ellipse cx="524.1" cy="851.4" rx="1.0" ry="0.8" fill="#9a7256"/>
<ellipse cx="523.9" cy="836.7" rx="1.0" ry="0.8" fill="#a47c5c"/>
<ellipse cx="520.8" cy="837.2" rx="1.2" ry="0.7" fill="#9a7256"/>
<ellipse cx="516.2" cy="840.2" rx="1.0" ry="1.0" fill="#a8805e"/>
<ellipse cx="516.3" cy="842.1" rx="1.3" ry="1.0" fill="#a8805e"/>
<ellipse cx="528.7" cy="841.1" rx="1.1" ry="0.9" fill="#8e6a50"/>
<ellipse cx="520.7" cy="851.3" rx="1.1" ry="1.0" fill="#a47c5c"/>
<ellipse cx="525.3" cy="844.5" rx="0.9" ry="0.8" fill="#a47c5c"/>
<ellipse cx="524.2" cy="846.3" rx="1.1" ry="0.8" fill="#8e6a50"/>
<ellipse cx="526.5" cy="841.7" rx="1.0" ry="0.9" fill="#8e6a50"/>
<ellipse cx="519.0" cy="838.8" rx="1.1" ry="0.9" fill="#a47c5c"/>
<ellipse cx="518.7" cy="850.8" rx="1.0" ry="1.1" fill="#8e6a50"/>
<ellipse cx="519.6" cy="850.5" rx="0.9" ry="0.8" fill="#b08866"/>
<ellipse cx="521.1" cy="852.5" rx="1.1" ry="0.8" fill="#8e6a50"/>
<ellipse cx="521.1" cy="851.9" rx="1.3" ry="1.1" fill="#a47c5c"/>
<ellipse cx="516.6" cy="849.8" rx="1.1" ry="1.0" fill="#a47c5c"/>
<ellipse cx="520.2" cy="836.4" rx="1.3" ry="0.9" fill="#8e6a50"/>
<ellipse cx="520.5" cy="850.6" rx="1.1" ry="0.9" fill="#a8805e"/>
<ellipse cx="522.1" cy="848.1" rx="1.2" ry="1.0" fill="#a47c5c"/>
<ellipse cx="526.1" cy="841.4" rx="1.2" ry="0.9" fill="#8e6a50"/>
<ellipse cx="517.7" cy="838.1" rx="0.9" ry="1.1" fill="#8e6a50"/>
<ellipse cx="521.2" cy="851.3" rx="1.0" ry="0.8" fill="#a8805e"/>
<ellipse cx="524.6" cy="850.3" rx="1.2" ry="1.1" fill="#a47c5c"/>
<ellipse cx="516.7" cy="845.2" rx="1.3" ry="0.9" fill="#a8805e"/>
<ellipse cx="526.3" cy="841.6" rx="0.9" ry="1.1" fill="#a8805e"/>
<ellipse cx="518.2" cy="839.9" rx="1.2" ry="0.8" fill="#a47c5c"/>
<ellipse cx="517.1" cy="838.8" rx="0.9" ry="0.7" fill="#a8805e"/>
<ellipse cx="517.1" cy="841.2" rx="1.1" ry="1.0" fill="#b08866"/>
<ellipse cx="525.9" cy="843.8" rx="1.0" ry="1.0" fill="#b08866"/>
<ellipse cx="524.0" cy="852.6" rx="1.0" ry="0.9" fill="#a8805e"/>
<ellipse cx="518.3" cy="848.7" rx="1.0" ry="1.0" fill="#a47c5c"/>
<ellipse cx="520.6" cy="837.5" rx="1.1" ry="0.9" fill="#a8805e"/>
<ellipse cx="518.8" cy="850.5" rx="1.0" ry="0.8" fill="#b08866"/>
<ellipse cx="518.7" cy="850.6" rx="1.2" ry="1.1" fill="#a8805e"/>
<ellipse cx="524.3" cy="844.0" rx="0.9" ry="0.9" fill="#a47c5c"/>
<ellipse cx="523.2" cy="850.2" rx="1.0" ry="0.7" fill="#9a7256"/>
<ellipse cx="523.8" cy="843.1" rx="1.0" ry="0.9" fill="#a8805e"/>
<ellipse cx="518.5" cy="838.2" rx="1.3" ry="1.0" fill="#8e6a50"/>
<ellipse cx="516.6" cy="839.2" rx="1.1" ry="1.0" fill="#b08866"/>
<ellipse cx="520.3" cy="838.9" rx="0.9" ry="0.8" fill="#b08866"/>
<ellipse cx="525.4" cy="849.9" rx="1.1" ry="1.0" fill="#a8805e"/>
<ellipse cx="522.1" cy="849.8" rx="1.2" ry="0.8" fill="#8e6a50"/>
<ellipse cx="518.6" cy="836.9" rx="1.2" ry="1.1" fill="#a8805e"/>
<ellipse cx="518.7" cy="840.4" rx="1.3" ry="0.7" fill="#a47c5c"/>
<ellipse cx="520.1" cy="848.6" rx="0.9" ry="1.0" fill="#9a7256"/>
<ellipse cx="517.9" cy="842.2" rx="1.1" ry="0.7" fill="#8e6a50"/>
<ellipse cx="523.7" cy="836.9" rx="0.9" ry="1.0" fill="#9a7256"/>
<ellipse cx="517.7" cy="843.6" rx="1.3" ry="1.1" fill="#9a7256"/>
<ellipse cx="519.3" cy="848.6" rx="1.0" ry="0.9" fill="#a8805e"/>
<ellipse cx="523.5" cy="844.7" rx="1.3" ry="1.0" fill="#a47c5c"/>
<ellipse cx="537.0" cy="840.9" rx="1.2" ry="0.9" fill="#a8805e"/>
<ellipse cx="536.7" cy="851.2" rx="0.9" ry="0.8" fill="#8e6a50"/>
<ellipse cx="532.3" cy="840.2" rx="1.2" ry="0.7" fill="#9a7256"/>
<ellipse cx="530.0" cy="844.3" rx="1.1" ry="0.9" fill="#b08866"/>
<ellipse cx="538.2" cy="849.8" rx="1.2" ry="1.1" fill="#8e6a50"/>
<ellipse cx="534.0" cy="851.3" rx="0.9" ry="1.1" fill="#8e6a50"/>
<ellipse cx="531.2" cy="848.2" rx="1.0" ry="1.0" fill="#b08866"/>
<ellipse cx="529.9" cy="843.7" rx="0.9" ry="0.8" fill="#b08866"/>
<ellipse cx="536.9" cy="841.2" rx="1.2" ry="1.0" fill="#a47c5c"/>
<ellipse cx="538.7" cy="846.3" rx="1.1" ry="1.0" fill="#a8805e"/>
<ellipse cx="531.1" cy="843.5" rx="1.0" ry="1.1" fill="#a47c5c"/>
<ellipse cx="536.9" cy="850.8" rx="1.2" ry="1.0" fill="#8e6a50"/>
<ellipse cx="534.3" cy="837.2" rx="1.1" ry="0.9" fill="#a47c5c"/>
<ellipse cx="535.6" cy="850.0" rx="1.1" ry="0.9" fill="#a47c5c"/>
<ellipse cx="537.7" cy="842.0" rx="1.0" ry="1.0" fill="#a8805e"/>
<ellipse cx="536.4" cy="850.5" rx="1.2" ry="1.0" fill="#b08866"/>
<ellipse cx="536.7" cy="838.8" rx="1.1" ry="0.7" fill="#8e6a50"/>
<ellipse cx="530.1" cy="851.4" rx="1.2" ry="0.9" fill="#b08866"/>
<ellipse cx="530.4" cy="847.4" rx="1.0" ry="0.9" fill="#a8805e"/>
<ellipse cx="529.9" cy="849.9" rx="1.2" ry="0.9" fill="#b08866"/>
<ellipse cx="532.4" cy="848.6" rx="1.0" ry="0.7" fill="#b08866"/>
<ellipse cx="531.6" cy="849.9" rx="1.0" ry="0.9" fill="#a8805e"/>
<ellipse cx="529.9" cy="848.6" rx="0.9" ry="1.0" fill="#9a7256"/>
<ellipse cx="542.1" cy="841.8" rx="1.2" ry="1.0" fill="#a47c5c"/>
<ellipse cx="529.5" cy="844.8" rx="1.3" ry="1.1" fill="#8e6a50"/>
<ellipse cx="538.4" cy="848.5" rx="1.3" ry="0.8" fill="#8e6a50"/>
<ellipse cx="535.5" cy="846.2" rx="0.9" ry="1.1" fill="#8e6a50"/>
<ellipse cx="531.5" cy="849.6" rx="1.2" ry="0.9" fill="#b08866"/>
<ellipse cx="535.7" cy="851.7" rx="1.2" ry="0.8" fill="#a8805e"/>
<ellipse cx="532.2" cy="849.4" rx="1.3" ry="1.1" fill="#a47c5c"/>
<ellipse cx="538.3" cy="842.4" rx="1.2" ry="1.0" fill="#a47c5c"/>
<ellipse cx="533.7" cy="851.3" rx="0.9" ry="1.0" fill="#8e6a50"/>
<ellipse cx="536.4" cy="851.6" rx="1.0" ry="0.9" fill="#9a7256"/>
<ellipse cx="528.9" cy="849.9" rx="1.1" ry="1.0" fill="#8e6a50"/>
<ellipse cx="538.1" cy="841.1" rx="0.9" ry="1.0" fill="#9a7256"/>
<ellipse cx="534.4" cy="851.2" rx="0.9" ry="0.8" fill="#8e6a50"/>
<ellipse cx="535.9" cy="836.8" rx="1.3" ry="0.7" fill="#b08866"/>
<ellipse cx="530.1" cy="846.7" rx="1.1" ry="0.7" fill="#9a7256"/>
<ellipse cx="536.2" cy="850.9" rx="1.0" ry="0.9" fill="#a47c5c"/>
<ellipse cx="532.6" cy="849.5" rx="1.2" ry="0.8" fill="#8e6a50"/>
<ellipse cx="529.3" cy="843.4" rx="1.2" ry="0.9" fill="#8e6a50"/>
<ellipse cx="530.3" cy="839.6" rx="1.1" ry="0.9" fill="#b08866"/>
<ellipse cx="537.3" cy="849.2" rx="1.3" ry="0.8" fill="#b08866"/>
<ellipse cx="529.0" cy="844.7" rx="1.2" ry="0.7" fill="#a8805e"/>
<ellipse cx="529.2" cy="844.1" rx="1.2" ry="0.8" fill="#8e6a50"/>
<ellipse cx="538.1" cy="846.8" rx="1.2" ry="1.0" fill="#b08866"/>
<ellipse cx="534.9" cy="850.3" rx="1.0" ry="0.8" fill="#b08866"/>
<ellipse cx="529.9" cy="846.9" rx="1.2" ry="0.9" fill="#9a7256"/>
<ellipse cx="534.2" cy="837.8" rx="0.9" ry="1.0" fill="#a47c5c"/>
<ellipse cx="533.4" cy="836.8" rx="1.1" ry="0.8" fill="#8e6a50"/>
<ellipse cx="539.7" cy="842.8" rx="1.0" ry="1.1" fill="#8e6a50"/>
<ellipse cx="536.9" cy="841.0" rx="1.0" ry="0.9" fill="#9a7256"/>
<ellipse cx="539.2" cy="843.0" rx="1.0" ry="1.0" fill="#9a7256"/>
<ellipse cx="532.9" cy="848.8" rx="1.2" ry="0.9" fill="#a47c5c"/>
<ellipse cx="528.6" cy="843.1" rx="1.1" ry="0.9" fill="#b08866"/>
<ellipse cx="481.0" cy="844.6" rx="1.0" ry="1.1" fill="#a47c5c"/>
<ellipse cx="480.3" cy="844.5" rx="1.1" ry="0.8" fill="#b08866"/>
<ellipse cx="472.8" cy="842.7" rx="1.2" ry="0.8" fill="#8e6a50"/>
<ellipse cx="482.9" cy="843.6" rx="1.0" ry="1.0" fill="#b08866"/>
<ellipse cx="473.0" cy="841.3" rx="1.2" ry="0.8" fill="#b08866"/>
<ellipse cx="470.5" cy="839.0" rx="1.1" ry="0.8" fill="#9a7256"/>
<ellipse cx="480.6" cy="848.5" rx="1.0" ry="0.7" fill="#a47c5c"/>
<ellipse cx="480.7" cy="842.5" rx="0.9" ry="0.8" fill="#a8805e"/>
<ellipse cx="481.6" cy="841.1" rx="1.2" ry="1.0" fill="#9a7256"/>
<ellipse cx="487.8" cy="846.1" rx="1.1" ry="0.8" fill="#a8805e"/>
<ellipse cx="475.6" cy="842.5" rx="1.3" ry="1.0" fill="#a8805e"/>
<ellipse cx="471.8" cy="841.6" rx="1.2" ry="1.0" fill="#a47c5c"/>
<ellipse cx="481.2" cy="843.4" rx="1.2" ry="0.8" fill="#b08866"/>
<ellipse cx="482.3" cy="844.2" rx="1.2" ry="0.7" fill="#b08866"/>
<ellipse cx="484.1" cy="846.7" rx="1.0" ry="1.0" fill="#a47c5c"/>
<ellipse cx="480.5" cy="844.1" rx="1.3" ry="0.7" fill="#8e6a50"/>
<ellipse cx="476.5" cy="839.8" rx="1.2" ry="0.8" fill="#b08866"/>
<ellipse cx="479.9" cy="842.7" rx="1.0" ry="0.8" fill="#a47c5c"/>
<ellipse cx="477.8" cy="841.8" rx="1.1" ry="0.9" fill="#a47c5c"/>
<ellipse cx="469.2" cy="841.7" rx="0.9" ry="1.0" fill="#b08866"/>
<ellipse cx="472.4" cy="838.5" rx="1.1" ry="1.0" fill="#8e6a50"/>
<ellipse cx="486.7" cy="846.4" rx="1.0" ry="0.8" fill="#a8805e"/>
<ellipse cx="472.7" cy="841.9" rx="1.1" ry="1.0" fill="#a8805e"/>
<ellipse cx="482.6" cy="843.8" rx="1.1" ry="0.8" fill="#a47c5c"/>
<ellipse cx="467.0" cy="840.5" rx="1.2" ry="0.8" fill="#8e6a50"/>
<ellipse cx="476.0" cy="841.6" rx="1.3" ry="0.9" fill="#b08866"/>
<ellipse cx="471.2" cy="840.9" rx="1.2" ry="0.7" fill="#9a7256"/>
<ellipse cx="472.7" cy="841.0" rx="0.9" ry="1.0" fill="#a8805e"/>
<ellipse cx="469.3" cy="841.9" rx="0.9" ry="0.9" fill="#a47c5c"/>
<ellipse cx="481.5" cy="840.7" rx="1.2" ry="1.0" fill="#8e6a50"/>
<ellipse cx="486.1" cy="846.7" rx="1.0" ry="0.9" fill="#a8805e"/>
<ellipse cx="476.6" cy="842.7" rx="1.2" ry="0.8" fill="#8e6a50"/>
<ellipse cx="473.1" cy="841.6" rx="0.9" ry="0.9" fill="#a8805e"/>
<ellipse cx="478.8" cy="841.1" rx="1.2" ry="0.9" fill="#a8805e"/>
<ellipse cx="479.7" cy="840.9" rx="1.0" ry="1.1" fill="#b08866"/>
<ellipse cx="469.4" cy="839.3" rx="1.3" ry="0.9" fill="#a47c5c"/>
<ellipse cx="480.6" cy="843.0" rx="1.1" ry="0.8" fill="#a47c5c"/>
<ellipse cx="470.2" cy="841.3" rx="1.1" ry="1.0" fill="#9a7256"/>
<ellipse cx="469.4" cy="842.0" rx="1.3" ry="0.9" fill="#9a7256"/>
<ellipse cx="478.3" cy="839.7" rx="1.2" ry="0.7" fill="#a47c5c"/>
<ellipse cx="477.6" cy="842.8" rx="1.0" ry="0.9" fill="#a47c5c"/>
<ellipse cx="470.3" cy="839.5" rx="1.0" ry="0.8" fill="#a8805e"/>
<ellipse cx="478.8" cy="844.4" rx="1.0" ry="1.0" fill="#8e6a50"/>
<ellipse cx="469.6" cy="839.3" rx="1.0" ry="0.8" fill="#a8805e"/>
<ellipse cx="486.9" cy="846.2" rx="1.2" ry="0.8" fill="#8e6a50"/>
<ellipse cx="488.0" cy="844.7" rx="1.1" ry="0.8" fill="#a47c5c"/>
<ellipse cx="486.7" cy="844.9" rx="1.2" ry="0.8" fill="#b08866"/>
<ellipse cx="485.7" cy="841.7" rx="1.3" ry="0.8" fill="#a47c5c"/>
<ellipse cx="484.4" cy="839.5" rx="1.0" ry="1.0" fill="#8e6a50"/>
<ellipse cx="487.9" cy="845.6" rx="1.0" ry="0.9" fill="#b08866"/>
<ellipse cx="488.0" cy="846.0" rx="1.3" ry="1.0" fill="#b08866"/>
<ellipse cx="484.9" cy="850.1" rx="1.1" ry="1.1" fill="#a8805e"/>
<ellipse cx="484.2" cy="851.0" rx="1.0" ry="1.1" fill="#a8805e"/>
<ellipse cx="486.9" cy="846.9" rx="1.1" ry="0.9" fill="#a8805e"/>
<ellipse cx="482.7" cy="852.7" rx="1.0" ry="0.9" fill="#a47c5c"/>
<ellipse cx="484.4" cy="845.3" rx="0.9" ry="0.8" fill="#a47c5c"/>
<ellipse cx="484.9" cy="851.7" rx="0.9" ry="0.9" fill="#a47c5c"/>
<ellipse cx="487.7" cy="844.2" rx="0.9" ry="1.1" fill="#a8805e"/>
<ellipse cx="486.8" cy="846.4" rx="1.1" ry="1.1" fill="#9a7256"/>
<ellipse cx="487.2" cy="848.2" rx="1.2" ry="0.9" fill="#b08866"/>
<ellipse cx="488.5" cy="843.6" rx="1.2" ry="0.9" fill="#a8805e"/>
<ellipse cx="484.3" cy="849.1" rx="1.3" ry="0.8" fill="#a8805e"/>
<ellipse cx="488.8" cy="844.2" rx="1.3" ry="1.0" fill="#a47c5c"/>
<ellipse cx="486.9" cy="840.9" rx="1.0" ry="0.8" fill="#8e6a50"/>
<ellipse cx="485.5" cy="842.5" rx="0.9" ry="1.1" fill="#b08866"/>
<ellipse cx="486.5" cy="843.1" rx="1.1" ry="0.7" fill="#8e6a50"/>
<ellipse cx="485.4" cy="853.9" rx="1.2" ry="1.0" fill="#a8805e"/>
<ellipse cx="485.1" cy="842.8" rx="1.0" ry="0.8" fill="#8e6a50"/>
<ellipse cx="487.1" cy="846.3" rx="1.3" ry="1.1" fill="#8e6a50"/>
<ellipse cx="487.1" cy="841.8" rx="1.1" ry="0.9" fill="#8e6a50"/>
<ellipse cx="486.2" cy="849.7" rx="1.2" ry="0.9" fill="#9a7256"/>
<ellipse cx="486.7" cy="845.3" rx="1.1" ry="0.7" fill="#9a7256"/>
<ellipse cx="488.5" cy="844.0" rx="1.0" ry="0.9" fill="#8e6a50"/>
<ellipse cx="488.6" cy="844.1" rx="1.3" ry="0.7" fill="#b08866"/>
<ellipse cx="484.7" cy="848.8" rx="1.0" ry="1.1" fill="#8e6a50"/>
<ellipse cx="578.3" cy="827.9" rx="1.1" ry="0.9" fill="#8e6a50"/>
<ellipse cx="540.3" cy="863.8" rx="0.9" ry="0.6" fill="#8e6a50"/>
<ellipse cx="559.1" cy="867.1" rx="0.8" ry="0.7" fill="#8e6a50"/>
<ellipse cx="510.4" cy="807.0" rx="1.0" ry="0.6" fill="#a47c5c"/>
<ellipse cx="548.2" cy="861.1" rx="0.9" ry="0.6" fill="#a8805e"/>
<ellipse cx="484.3" cy="836.4" rx="1.0" ry="0.8" fill="#8e6a50"/>
<ellipse cx="517.9" cy="826.7" rx="0.9" ry="0.8" fill="#a47c5c"/>
<ellipse cx="536.4" cy="788.6" rx="0.9" ry="0.9" fill="#b08866"/>
<ellipse cx="576.8" cy="819.5" rx="1.0" ry="0.6" fill="#b08866"/>
<ellipse cx="549.4" cy="793.6" rx="0.9" ry="0.8" fill="#b08866"/>
<ellipse cx="474.6" cy="792.1" rx="1.1" ry="0.7" fill="#a8805e"/>
<ellipse cx="515.8" cy="845.8" rx="1.0" ry="0.7" fill="#8c93c8"/>
<ellipse cx="551.5" cy="815.3" rx="0.8" ry="0.8" fill="#6f78b8"/>
<ellipse cx="479.5" cy="815.1" rx="0.9" ry="0.6" fill="#6f78b8"/>
<ellipse cx="537.4" cy="785.5" rx="0.8" ry="0.6" fill="#9a7660"/>
<ellipse cx="576.7" cy="828.3" rx="0.9" ry="0.8" fill="#9a7256"/>
<ellipse cx="535.6" cy="851.9" rx="0.9" ry="0.7" fill="#a8805e"/>
<ellipse cx="576.9" cy="840.0" rx="0.9" ry="0.8" fill="#9a7256"/>
<ellipse cx="471.6" cy="857.3" rx="0.7" ry="0.6" fill="#9a7256"/>
<ellipse cx="539.4" cy="859.6" rx="0.8" ry="0.8" fill="#a8805e"/>
<ellipse cx="497.0" cy="827.9" rx="0.8" ry="0.7" fill="#8c93c8"/>
<ellipse cx="547.1" cy="799.0" rx="0.8" ry="0.6" fill="#6f78b8"/>
<ellipse cx="543.8" cy="811.0" rx="0.9" ry="0.8" fill="#b08866"/>
<ellipse cx="470.0" cy="853.8" rx="0.8" ry="0.8" fill="#8e6a50"/>
<ellipse cx="518.9" cy="805.8" rx="0.9" ry="0.9" fill="#8e6a50"/>
<ellipse cx="565.1" cy="802.8" rx="0.8" ry="0.7" fill="#a8805e"/>
<ellipse cx="548.4" cy="848.2" rx="0.9" ry="0.8" fill="#8e6a50"/>
<ellipse cx="534.8" cy="814.2" rx="1.0" ry="0.9" fill="#b08866"/>
<ellipse cx="534.3" cy="787.7" rx="0.8" ry="0.7" fill="#8e6a50"/>
<ellipse cx="495.8" cy="800.6" rx="0.9" ry="0.7" fill="#a8805e"/>
<ellipse cx="491.2" cy="805.6" rx="0.7" ry="0.7" fill="#a8805e"/>
<ellipse cx="577.6" cy="859.8" rx="1.1" ry="0.8" fill="#a47c5c"/>
<ellipse cx="505.6" cy="805.1" rx="0.7" ry="0.7" fill="#9a7256"/>
<ellipse cx="571.3" cy="829.5" rx="1.1" ry="0.6" fill="#a47c5c"/>
<ellipse cx="517.5" cy="813.1" rx="0.8" ry="0.9" fill="#9a7256"/>
<ellipse cx="523.5" cy="806.5" rx="1.0" ry="0.7" fill="#a8805e"/>
<ellipse cx="486.3" cy="850.2" rx="0.9" ry="0.9" fill="#8e6a50"/>
<ellipse cx="501.6" cy="812.7" rx="0.9" ry="0.8" fill="#a8805e"/>
<ellipse cx="546.0" cy="801.7" rx="0.7" ry="0.6" fill="#a47c5c"/>
<ellipse cx="570.6" cy="789.1" rx="1.1" ry="0.8" fill="#a8805e"/>
<ellipse cx="557.9" cy="846.4" rx="0.8" ry="0.9" fill="#8c93c8"/>
<ellipse cx="551.4" cy="790.0" rx="1.0" ry="0.7" fill="#6f78b8"/>
<ellipse cx="571.0" cy="819.1" rx="1.1" ry="0.9" fill="#a47c5c"/>
<ellipse cx="513.1" cy="802.5" rx="0.8" ry="0.7" fill="#a8805e"/>
<ellipse cx="493.9" cy="831.4" rx="0.9" ry="0.8" fill="#a8805e"/>
<ellipse cx="494.5" cy="787.6" rx="0.8" ry="0.8" fill="#a47c5c"/>
<ellipse cx="533.2" cy="804.5" rx="0.7" ry="0.7" fill="#9a7256"/>
<ellipse cx="499.7" cy="792.1" rx="0.9" ry="0.7" fill="#8c93c8"/>
<ellipse cx="477.0" cy="835.0" rx="0.8" ry="0.8" fill="#9a7256"/>
<ellipse cx="499.5" cy="790.0" rx="0.8" ry="0.8" fill="#8e6a50"/>
<ellipse cx="563.9" cy="805.2" rx="1.0" ry="0.6" fill="#a47c5c"/>
<ellipse cx="568.0" cy="846.9" rx="0.9" ry="0.9" fill="#a47c5c"/>
<ellipse cx="522.4" cy="813.1" rx="0.9" ry="0.6" fill="#8e6a50"/>
<ellipse cx="485.9" cy="852.3" rx="0.7" ry="0.9" fill="#b08866"/>
<ellipse cx="486.6" cy="800.0" rx="0.8" ry="0.8" fill="#8c93c8"/>
<ellipse cx="546.5" cy="860.7" rx="0.8" ry="0.6" fill="#9a7256"/>
<ellipse cx="538.7" cy="796.9" rx="0.9" ry="0.9" fill="#8e6a50"/>
<ellipse cx="500.7" cy="793.9" rx="0.8" ry="0.8" fill="#9a7256"/>
<ellipse cx="566.8" cy="823.5" rx="1.0" ry="0.6" fill="#a8805e"/>
<ellipse cx="500.2" cy="816.2" rx="0.7" ry="0.7" fill="#a47c5c"/>
<ellipse cx="503.0" cy="786.7" rx="1.0" ry="0.9" fill="#9a7256"/>
<ellipse cx="520.7" cy="819.4" rx="0.9" ry="0.7" fill="#6f78b8"/>
<ellipse cx="478.2" cy="801.4" rx="0.8" ry="0.7" fill="#a8805e"/>
<ellipse cx="523.9" cy="836.3" rx="0.8" ry="0.9" fill="#b08866"/>
<ellipse cx="529.2" cy="803.6" rx="0.7" ry="0.6" fill="#b08866"/>
<ellipse cx="531.8" cy="818.2" rx="0.7" ry="0.6" fill="#8c93c8"/>
<ellipse cx="569.9" cy="843.9" rx="1.0" ry="0.8" fill="#9a7660"/>
<ellipse cx="506.9" cy="838.1" rx="0.9" ry="0.9" fill="#6f78b8"/>
<ellipse cx="502.9" cy="803.5" rx="1.0" ry="0.6" fill="#a47c5c"/>
<ellipse cx="521.3" cy="845.6" rx="1.1" ry="0.7" fill="#6f78b8"/>
<ellipse cx="482.0" cy="852.8" rx="0.8" ry="0.8" fill="#a8805e"/>
<ellipse cx="493.8" cy="829.7" rx="0.7" ry="0.7" fill="#b08866"/>
<ellipse cx="501.6" cy="787.6" rx="1.0" ry="0.8" fill="#9a7660"/>
<ellipse cx="478.7" cy="859.5" rx="1.0" ry="0.6" fill="#b08866"/>
<ellipse cx="492.9" cy="856.1" rx="0.8" ry="0.8" fill="#9a7660"/>
<ellipse cx="536.1" cy="831.3" rx="1.0" ry="0.8" fill="#a47c5c"/>
<ellipse cx="507.1" cy="838.0" rx="0.7" ry="0.9" fill="#8c93c8"/>
<ellipse cx="520.2" cy="824.6" rx="1.0" ry="0.6" fill="#a8805e"/>
<ellipse cx="545.5" cy="836.9" rx="0.8" ry="0.8" fill="#8c93c8"/>
<ellipse cx="505.5" cy="806.9" rx="0.8" ry="0.7" fill="#a8805e"/>
<ellipse cx="468.9" cy="797.3" rx="0.8" ry="0.8" fill="#a47c5c"/>
<ellipse cx="488.9" cy="851.1" rx="1.0" ry="0.8" fill="#a47c5c"/>
<ellipse cx="565.9" cy="800.3" rx="0.7" ry="0.9" fill="#a47c5c"/>
<ellipse cx="548.2" cy="842.7" rx="0.9" ry="0.9" fill="#b08866"/>
<ellipse cx="521.1" cy="832.7" rx="1.0" ry="0.9" fill="#a8805e"/>
<ellipse cx="491.5" cy="805.1" rx="0.9" ry="0.7" fill="#b08866"/>
<ellipse cx="530.8" cy="795.2" rx="0.8" ry="0.8" fill="#b08866"/>
<ellipse cx="513.7" cy="842.6" rx="1.1" ry="0.8" fill="#9a7256"/>
<ellipse cx="492.8" cy="822.2" rx="0.8" ry="0.8" fill="#8e6a50"/>
<ellipse cx="487.7" cy="800.9" rx="0.9" ry="0.6" fill="#8e6a50"/>
<ellipse cx="512.3" cy="790.1" rx="1.0" ry="0.6" fill="#b08866"/>
<ellipse cx="470.6" cy="860.7" rx="1.0" ry="0.7" fill="#9a7660"/>
<ellipse cx="574.3" cy="792.5" rx="1.1" ry="0.6" fill="#8c93c8"/>
<ellipse cx="513.4" cy="819.1" rx="1.0" ry="0.7" fill="#8c93c8"/>
<ellipse cx="571.8" cy="832.1" rx="0.7" ry="0.8" fill="#9a7256"/>
<ellipse cx="560.0" cy="859.7" rx="1.0" ry="0.7" fill="#9a7660"/>
<ellipse cx="476.4" cy="839.9" rx="0.9" ry="0.8" fill="#b08866"/>
<ellipse cx="576.6" cy="814.2" rx="1.1" ry="0.7" fill="#8e6a50"/>
<ellipse cx="535.2" cy="809.1" rx="0.8" ry="0.7" fill="#9a7256"/>
<ellipse cx="538.8" cy="846.5" rx="0.8" ry="0.9" fill="#6f78b8"/>
<ellipse cx="574.9" cy="808.6" rx="0.8" ry="0.6" fill="#8e6a50"/>
<ellipse cx="578.0" cy="846.3" rx="1.0" ry="0.7" fill="#9a7256"/>
<ellipse cx="490.6" cy="830.1" rx="0.9" ry="0.6" fill="#a47c5c"/>
<ellipse cx="468.7" cy="794.1" rx="1.0" ry="0.6" fill="#8e6a50"/>
<ellipse cx="542.5" cy="863.9" rx="0.7" ry="0.8" fill="#a8805e"/>
<ellipse cx="469.7" cy="864.6" rx="0.8" ry="0.8" fill="#b08866"/>
<ellipse cx="468.0" cy="836.0" rx="1.0" ry="0.9" fill="#9a7256"/>
<ellipse cx="477.6" cy="827.7" rx="0.7" ry="0.8" fill="#6f78b8"/>
<ellipse cx="522.9" cy="802.6" rx="0.9" ry="0.9" fill="#b08866"/>
<ellipse cx="491.0" cy="839.0" rx="0.8" ry="0.7" fill="#8e6a50"/>
<ellipse cx="473.7" cy="829.4" rx="1.0" ry="0.7" fill="#a8805e"/>
<ellipse cx="503.1" cy="839.1" rx="0.9" ry="0.7" fill="#b08866"/>
<ellipse cx="468.9" cy="804.3" rx="1.0" ry="0.6" fill="#9a7256"/>
<ellipse cx="488.0" cy="860.2" rx="1.0" ry="0.7" fill="#9a7660"/>
<ellipse cx="534.7" cy="798.7" rx="1.0" ry="0.7" fill="#a47c5c"/>
<ellipse cx="470.6" cy="833.2" rx="1.1" ry="0.8" fill="#a47c5c"/>
<ellipse cx="543.5" cy="861.8" rx="0.9" ry="0.9" fill="#b08866"/>
<ellipse cx="480.5" cy="858.4" rx="0.7" ry="0.6" fill="#a8805e"/>
<ellipse cx="515.1" cy="844.0" rx="1.0" ry="0.7" fill="#b08866"/>
<ellipse cx="517.9" cy="846.8" rx="1.0" ry="0.6" fill="#b08866"/>
<ellipse cx="556.5" cy="804.9" rx="0.8" ry="0.8" fill="#b08866"/>
<ellipse cx="576.5" cy="863.5" rx="1.0" ry="0.6" fill="#b08866"/>
<ellipse cx="478.0" cy="865.4" rx="0.8" ry="0.9" fill="#9a7256"/>
<ellipse cx="547.4" cy="834.7" rx="1.1" ry="0.6" fill="#9a7256"/>
<ellipse cx="519.2" cy="809.7" rx="0.7" ry="0.8" fill="#8e6a50"/>
<ellipse cx="491.3" cy="800.6" rx="0.9" ry="0.6" fill="#6f78b8"/>
<ellipse cx="556.8" cy="823.9" rx="0.8" ry="0.8" fill="#b08866"/>
<ellipse cx="498.9" cy="789.0" rx="0.9" ry="0.7" fill="#a8805e"/>
<ellipse cx="503.1" cy="787.5" rx="1.0" ry="0.8" fill="#8e6a50"/>
<ellipse cx="560.5" cy="793.1" rx="0.7" ry="0.8" fill="#6f78b8"/>
<ellipse cx="492.4" cy="852.7" rx="0.8" ry="0.8" fill="#b08866"/>
<ellipse cx="492.8" cy="816.0" rx="0.9" ry="0.8" fill="#9a7256"/>
<ellipse cx="549.0" cy="821.1" rx="0.9" ry="0.7" fill="#a8805e"/>
<ellipse cx="487.8" cy="804.0" rx="1.0" ry="0.8" fill="#9a7660"/>
<ellipse cx="536.1" cy="806.6" rx="0.8" ry="0.6" fill="#6f78b8"/>
<ellipse cx="488.9" cy="814.8" rx="0.8" ry="0.6" fill="#a8805e"/>
<ellipse cx="572.0" cy="865.3" rx="1.1" ry="0.7" fill="#9a7256"/>
<ellipse cx="490.2" cy="860.0" rx="1.1" ry="0.6" fill="#a47c5c"/>
<ellipse cx="521.7" cy="797.8" rx="1.0" ry="0.7" fill="#8e6a50"/>
<ellipse cx="561.7" cy="785.4" rx="0.9" ry="0.8" fill="#b08866"/>
<ellipse cx="478.7" cy="849.2" rx="1.0" ry="0.7" fill="#8c93c8"/>
<ellipse cx="516.5" cy="804.0" rx="1.1" ry="0.7" fill="#b08866"/>
<ellipse cx="488.1" cy="844.9" rx="1.0" ry="0.8" fill="#9a7256"/>
<ellipse cx="531.6" cy="859.3" rx="0.8" ry="0.6" fill="#b08866"/>
<ellipse cx="560.4" cy="827.1" rx="0.8" ry="0.8" fill="#a47c5c"/>
<ellipse cx="514.0" cy="801.8" rx="1.0" ry="0.8" fill="#9a7660"/>
<ellipse cx="502.6" cy="808.6" rx="0.8" ry="0.7" fill="#9a7256"/>
<ellipse cx="506.3" cy="800.1" rx="0.8" ry="0.9" fill="#a8805e"/>
<ellipse cx="543.1" cy="857.3" rx="1.0" ry="0.8" fill="#6f78b8"/>
<ellipse cx="475.6" cy="849.9" rx="1.0" ry="0.7" fill="#b08866"/>
<ellipse cx="578.1" cy="830.6" rx="0.9" ry="0.7" fill="#8e6a50"/>
<ellipse cx="483.8" cy="855.5" rx="0.9" ry="0.6" fill="#8e6a50"/>
<ellipse cx="557.9" cy="816.0" rx="1.0" ry="0.9" fill="#a8805e"/>
<ellipse cx="536.0" cy="786.6" rx="0.9" ry="0.8" fill="#b08866"/>
<ellipse cx="558.9" cy="829.2" rx="1.0" ry="0.7" fill="#b08866"/>
<ellipse cx="529.9" cy="864.6" rx="0.8" ry="0.6" fill="#8e6a50"/>
<ellipse cx="565.7" cy="798.4" rx="0.7" ry="0.8" fill="#9a7256"/>
<ellipse cx="573.7" cy="860.5" rx="0.8" ry="0.7" fill="#a47c5c"/>
<ellipse cx="469.8" cy="812.9" rx="0.9" ry="0.9" fill="#9a7256"/>
<ellipse cx="501.0" cy="812.1" rx="0.9" ry="0.7" fill="#6f78b8"/>
<ellipse cx="566.7" cy="810.1" rx="1.0" ry="0.7" fill="#a47c5c"/>
<ellipse cx="477.7" cy="787.3" rx="1.1" ry="0.6" fill="#6f78b8"/>
<ellipse cx="499.9" cy="838.7" rx="0.8" ry="0.8" fill="#9a7256"/>
<ellipse cx="488.6" cy="813.5" rx="1.1" ry="0.7" fill="#a47c5c"/>
<ellipse cx="516.4" cy="789.5" rx="1.0" ry="0.9" fill="#b08866"/>
<ellipse cx="492.9" cy="814.7" rx="0.8" ry="0.6" fill="#8c93c8"/>
<ellipse cx="539.0" cy="815.8" rx="0.9" ry="0.7" fill="#8e6a50"/>
<ellipse cx="484.0" cy="818.8" rx="1.1" ry="0.7" fill="#a8805e"/>
<ellipse cx="508.2" cy="820.4" rx="1.1" ry="0.7" fill="#6f78b8"/>
<ellipse cx="479.2" cy="783.6" rx="0.9" ry="0.9" fill="#8e6a50"/>
<ellipse cx="507.7" cy="791.6" rx="0.8" ry="0.7" fill="#8e6a50"/>
<ellipse cx="573.1" cy="816.2" rx="0.8" ry="0.9" fill="#9a7660"/>
<ellipse cx="479.6" cy="801.4" rx="0.8" ry="0.7" fill="#b08866"/>
<ellipse cx="467.9" cy="832.8" rx="0.9" ry="0.8" fill="#a47c5c"/>
<ellipse cx="526.9" cy="790.2" rx="1.0" ry="0.6" fill="#b08866"/>
<ellipse cx="547.5" cy="825.4" rx="0.8" ry="0.8" fill="#6f78b8"/>
<ellipse cx="515.5" cy="849.2" rx="0.7" ry="0.6" fill="#6f78b8"/>
<ellipse cx="504.0" cy="853.9" rx="1.1" ry="0.7" fill="#8e6a50"/>
<ellipse cx="576.5" cy="848.0" rx="1.0" ry="0.9" fill="#a47c5c"/>
<ellipse cx="518.3" cy="825.5" rx="1.0" ry="0.8" fill="#6f78b8"/>
<ellipse cx="568.9" cy="812.2" rx="0.7" ry="0.7" fill="#6f78b8"/>
<ellipse cx="487.3" cy="831.4" rx="0.8" ry="0.8" fill="#a8805e"/>
<ellipse cx="546.3" cy="792.5" rx="0.8" ry="0.7" fill="#b08866"/>
<ellipse cx="559.2" cy="857.2" rx="0.8" ry="0.9" fill="#8e6a50"/>
<ellipse cx="556.4" cy="792.7" rx="1.1" ry="0.7" fill="#a47c5c"/>
<ellipse cx="520.0" cy="820.8" rx="0.8" ry="0.8" fill="#8e6a50"/>
<ellipse cx="535.5" cy="789.5" rx="0.7" ry="0.8" fill="#6f78b8"/>
<ellipse cx="505.6" cy="798.3" rx="0.7" ry="0.9" fill="#b08866"/>
<ellipse cx="486.3" cy="862.0" rx="1.0" ry="0.6" fill="#b08866"/>
<ellipse cx="470.2" cy="833.1" rx="0.9" ry="0.6" fill="#a47c5c"/>
<ellipse cx="536.6" cy="816.1" rx="1.0" ry="0.8" fill="#8e6a50"/>
<ellipse cx="496.6" cy="860.7" rx="0.9" ry="0.7" fill="#9a7660"/>
<ellipse cx="479.1" cy="790.7" rx="1.0" ry="0.6" fill="#b08866"/>
<ellipse cx="471.0" cy="801.0" rx="1.0" ry="0.7" fill="#8c93c8"/>
<ellipse cx="510.8" cy="788.0" rx="1.0" ry="0.8" fill="#a47c5c"/>
<ellipse cx="554.6" cy="797.3" rx="1.0" ry="0.9" fill="#b08866"/>
<ellipse cx="542.0" cy="811.0" rx="0.9" ry="0.9" fill="#9a7256"/>
<ellipse cx="551.6" cy="861.2" rx="1.1" ry="0.7" fill="#a47c5c"/>
<ellipse cx="522.9" cy="786.9" rx="1.1" ry="0.7" fill="#b08866"/>
<ellipse cx="469.8" cy="800.4" rx="1.0" ry="0.7" fill="#9a7256"/>
<ellipse cx="514.8" cy="830.5" rx="1.0" ry="0.9" fill="#b08866"/>
<ellipse cx="538.7" cy="794.3" rx="1.1" ry="0.9" fill="#a8805e"/>
<ellipse cx="572.1" cy="822.4" rx="0.7" ry="0.9" fill="#9a7256"/>
<ellipse cx="554.9" cy="852.7" rx="0.8" ry="0.7" fill="#a47c5c"/>
<ellipse cx="513.2" cy="835.8" rx="0.7" ry="0.8" fill="#9a7256"/>
<ellipse cx="483.7" cy="784.0" rx="0.9" ry="0.7" fill="#a47c5c"/>
<ellipse cx="534.0" cy="822.4" rx="0.9" ry="0.6" fill="#a8805e"/>
<ellipse cx="576.0" cy="821.8" rx="1.0" ry="0.8" fill="#9a7256"/>
<ellipse cx="571.8" cy="826.5" rx="1.0" ry="0.6" fill="#8c93c8"/>
<ellipse cx="517.7" cy="820.9" rx="1.1" ry="0.7" fill="#8e6a50"/>
<ellipse cx="488.5" cy="867.2" rx="0.8" ry="0.8" fill="#a47c5c"/>
<ellipse cx="525.2" cy="793.2" rx="0.9" ry="0.7" fill="#9a7256"/>
<ellipse cx="524.1" cy="856.8" rx="0.8" ry="0.8" fill="#a8805e"/>
<ellipse cx="491.5" cy="861.2" rx="1.1" ry="0.7" fill="#a47c5c"/>
<ellipse cx="485.2" cy="857.5" rx="0.9" ry="0.8" fill="#a8805e"/>
<ellipse cx="557.1" cy="848.3" rx="1.1" ry="0.7" fill="#8e6a50"/>
<ellipse cx="551.0" cy="851.2" rx="0.9" ry="0.8" fill="#8e6a50"/>
<ellipse cx="468.8" cy="801.9" rx="1.1" ry="0.6" fill="#a8805e"/>
<ellipse cx="533.1" cy="787.2" rx="0.9" ry="0.9" fill="#8e6a50"/>
<ellipse cx="513.6" cy="784.5" rx="0.8" ry="0.6" fill="#6f78b8"/>
<ellipse cx="483.8" cy="841.9" rx="0.9" ry="0.8" fill="#a8805e"/>
<ellipse cx="491.0" cy="815.9" rx="0.9" ry="0.7" fill="#a8805e"/>
<ellipse cx="478.8" cy="813.9" rx="0.8" ry="0.7" fill="#8e6a50"/>
<ellipse cx="564.1" cy="784.6" rx="1.1" ry="0.8" fill="#6f78b8"/>
<ellipse cx="491.5" cy="797.0" rx="1.0" ry="0.7" fill="#8e6a50"/>
<ellipse cx="498.4" cy="858.5" rx="0.9" ry="0.7" fill="#a8805e"/>
<ellipse cx="566.6" cy="819.6" rx="1.1" ry="0.8" fill="#a8805e"/>
<ellipse cx="506.4" cy="860.1" rx="1.0" ry="0.8" fill="#b08866"/>
<ellipse cx="531.8" cy="825.9" rx="1.1" ry="0.8" fill="#a8805e"/>
<ellipse cx="551.4" cy="786.9" rx="0.8" ry="0.6" fill="#9a7256"/>
<ellipse cx="527.2" cy="855.4" rx="0.7" ry="0.8" fill="#9a7256"/>
<ellipse cx="560.3" cy="836.5" rx="1.0" ry="0.7" fill="#a47c5c"/>
<ellipse cx="539.8" cy="854.3" rx="0.9" ry="0.7" fill="#8e6a50"/>
<ellipse cx="576.5" cy="859.7" rx="0.9" ry="0.8" fill="#9a7256"/>
<ellipse cx="501.4" cy="834.2" rx="0.8" ry="0.7" fill="#b08866"/>
<ellipse cx="526.3" cy="800.5" rx="0.8" ry="0.7" fill="#a47c5c"/>
<ellipse cx="519.9" cy="817.5" rx="1.0" ry="0.8" fill="#b08866"/>
<ellipse cx="493.3" cy="850.7" rx="0.9" ry="0.7" fill="#a47c5c"/>
<ellipse cx="553.1" cy="789.2" rx="0.9" ry="0.8" fill="#a47c5c"/>
<ellipse cx="550.5" cy="826.3" rx="1.1" ry="0.8" fill="#a8805e"/>
<ellipse cx="510.5" cy="864.9" rx="0.9" ry="0.8" fill="#a8805e"/>
<ellipse cx="526.5" cy="818.8" rx="0.9" ry="0.7" fill="#8e6a50"/>
<ellipse cx="478.3" cy="817.1" rx="1.0" ry="0.7" fill="#a8805e"/>
<ellipse cx="544.2" cy="824.9" rx="1.0" ry="0.8" fill="#9a7256"/>
<ellipse cx="527.1" cy="830.8" rx="0.8" ry="0.8" fill="#8e6a50"/>
<ellipse cx="577.7" cy="854.5" rx="0.8" ry="0.9" fill="#9a7256"/>
<ellipse cx="500.2" cy="839.7" rx="0.8" ry="0.7" fill="#b08866"/>
<ellipse cx="571.4" cy="834.7" rx="0.7" ry="0.6" fill="#8e6a50"/>
<ellipse cx="524.4" cy="839.5" rx="0.8" ry="0.7" fill="#b08866"/>
<ellipse cx="565.4" cy="824.2" rx="1.1" ry="0.8" fill="#9a7660"/>
<ellipse cx="561.9" cy="849.1" rx="1.0" ry="0.9" fill="#b08866"/>
<ellipse cx="570.9" cy="847.2" rx="1.1" ry="0.6" fill="#a8805e"/>
<ellipse cx="540.1" cy="790.8" rx="1.0" ry="0.7" fill="#a8805e"/>
<ellipse cx="529.6" cy="803.7" rx="1.0" ry="0.8" fill="#a8805e"/>
<ellipse cx="575.0" cy="789.1" rx="0.8" ry="0.6" fill="#b08866"/>
<ellipse cx="529.7" cy="788.7" rx="1.0" ry="0.8" fill="#9a7660"/>
<ellipse cx="476.1" cy="860.9" rx="1.0" ry="0.8" fill="#6f78b8"/>
<ellipse cx="530.7" cy="790.5" rx="1.0" ry="0.6" fill="#9a7660"/>
<ellipse cx="545.8" cy="792.9" rx="0.9" ry="0.8" fill="#a47c5c"/>
<ellipse cx="564.3" cy="803.8" rx="1.1" ry="0.8" fill="#a47c5c"/>
<ellipse cx="545.8" cy="805.4" rx="0.7" ry="0.9" fill="#8e6a50"/>
<ellipse cx="568.6" cy="822.1" rx="0.8" ry="0.8" fill="#b08866"/>
<ellipse cx="534.6" cy="800.6" rx="0.9" ry="0.9" fill="#a8805e"/>
<ellipse cx="527.2" cy="793.9" rx="0.8" ry="0.7" fill="#6f78b8"/>
<ellipse cx="472.5" cy="862.9" rx="0.7" ry="0.7" fill="#a8805e"/>
<ellipse cx="508.9" cy="802.7" rx="0.8" ry="0.7" fill="#a47c5c"/>
<ellipse cx="487.8" cy="798.7" rx="0.7" ry="0.8" fill="#8e6a50"/>
<ellipse cx="570.0" cy="805.2" rx="0.8" ry="0.6" fill="#9a7660"/>
<ellipse cx="514.4" cy="801.0" rx="1.1" ry="0.8" fill="#8e6a50"/>
<ellipse cx="520.9" cy="864.1" rx="0.8" ry="0.9" fill="#a47c5c"/>
<ellipse cx="572.8" cy="832.7" rx="0.8" ry="0.9" fill="#b08866"/>
<ellipse cx="543.1" cy="826.1" rx="0.8" ry="0.9" fill="#a8805e"/>
<ellipse cx="491.6" cy="830.5" rx="0.7" ry="0.9" fill="#a8805e"/>
<ellipse cx="529.3" cy="819.8" rx="0.8" ry="0.7" fill="#a47c5c"/>
<ellipse cx="520.8" cy="820.2" rx="0.7" ry="0.9" fill="#9a7256"/>
<ellipse cx="477.8" cy="797.5" rx="1.0" ry="0.8" fill="#8e6a50"/>
<ellipse cx="573.2" cy="837.3" rx="1.0" ry="0.7" fill="#6f78b8"/>
<ellipse cx="536.6" cy="801.4" rx="0.9" ry="0.8" fill="#a8805e"/>
<ellipse cx="521.9" cy="861.6" rx="1.0" ry="0.9" fill="#6f78b8"/>
<ellipse cx="578.5" cy="815.2" rx="0.9" ry="0.8" fill="#a8805e"/>
<ellipse cx="507.5" cy="789.9" rx="0.7" ry="0.8" fill="#8c93c8"/>
<ellipse cx="547.1" cy="836.4" rx="0.8" ry="0.6" fill="#a47c5c"/>
<ellipse cx="559.5" cy="837.1" rx="1.0" ry="0.9" fill="#9a7660"/>
<ellipse cx="506.3" cy="862.2" rx="0.8" ry="0.8" fill="#a8805e"/>
<ellipse cx="494.4" cy="803.4" rx="1.0" ry="0.8" fill="#b08866"/>
<ellipse cx="577.2" cy="818.9" rx="0.8" ry="0.8" fill="#9a7256"/>
<ellipse cx="512.1" cy="847.0" rx="1.0" ry="0.6" fill="#9a7660"/>
<ellipse cx="492.9" cy="866.1" rx="0.8" ry="0.6" fill="#a47c5c"/>
<ellipse cx="576.2" cy="854.1" rx="0.9" ry="0.9" fill="#9a7256"/>
<ellipse cx="562.8" cy="854.6" rx="1.0" ry="0.9" fill="#b08866"/>
<ellipse cx="507.7" cy="835.6" rx="0.9" ry="0.8" fill="#b08866"/>
<ellipse cx="579.7" cy="804.7" rx="0.7" ry="0.7" fill="#b08866"/>
<ellipse cx="543.5" cy="860.1" rx="0.8" ry="0.8" fill="#9a7660"/>
<ellipse cx="523.7" cy="812.8" rx="1.1" ry="0.8" fill="#a47c5c"/>
<ellipse cx="492.0" cy="850.6" rx="1.0" ry="0.8" fill="#a47c5c"/>
<ellipse cx="479.4" cy="808.3" rx="1.0" ry="0.7" fill="#a47c5c"/>
<ellipse cx="551.3" cy="805.2" rx="1.0" ry="0.9" fill="#b08866"/>
<ellipse cx="488.5" cy="812.4" rx="1.1" ry="0.8" fill="#9a7256"/>
<ellipse cx="579.0" cy="812.7" rx="1.0" ry="0.8" fill="#a47c5c"/>
<ellipse cx="548.2" cy="841.6" rx="1.0" ry="0.8" fill="#6f78b8"/>
<ellipse cx="572.7" cy="824.8" rx="0.8" ry="0.6" fill="#9a7256"/>
<ellipse cx="541.8" cy="854.7" rx="1.0" ry="0.7" fill="#9a7256"/>
<ellipse cx="566.5" cy="846.7" rx="0.8" ry="0.8" fill="#8e6a50"/>
<ellipse cx="526.0" cy="828.9" rx="0.9" ry="0.7" fill="#a8805e"/>
<ellipse cx="520.6" cy="852.7" rx="0.8" ry="0.7" fill="#b08866"/>
<ellipse cx="528.1" cy="814.8" rx="0.9" ry="0.8" fill="#b08866"/>
<ellipse cx="500.6" cy="838.7" rx="0.8" ry="0.8" fill="#9a7256"/>
<ellipse cx="479.3" cy="818.6" rx="0.9" ry="0.6" fill="#6f78b8"/>
<ellipse cx="577.7" cy="857.9" rx="0.9" ry="0.8" fill="#8c93c8"/>
<ellipse cx="506.6" cy="832.2" rx="0.9" ry="0.8" fill="#a47c5c"/>
<ellipse cx="487.9" cy="836.6" rx="1.0" ry="0.8" fill="#a47c5c"/>
<ellipse cx="511.0" cy="866.2" rx="1.0" ry="0.8" fill="#8c93c8"/>
<ellipse cx="484.8" cy="810.2" rx="0.7" ry="0.8" fill="#9a7660"/>
<ellipse cx="515.2" cy="831.7" rx="1.1" ry="0.8" fill="#a47c5c"/>
<ellipse cx="498.7" cy="795.4" rx="0.9" ry="0.7" fill="#9a7256"/>
<ellipse cx="528.4" cy="817.8" rx="0.7" ry="0.7" fill="#a47c5c"/>
<ellipse cx="519.5" cy="818.8" rx="0.7" ry="0.6" fill="#a8805e"/>
<ellipse cx="476.4" cy="824.4" rx="0.8" ry="0.8" fill="#8e6a50"/>
<ellipse cx="502.6" cy="788.5" rx="0.9" ry="0.6" fill="#a8805e"/>
<ellipse cx="558.3" cy="833.9" rx="0.9" ry="0.8" fill="#8c93c8"/>
<ellipse cx="556.5" cy="788.1" rx="1.0" ry="0.6" fill="#9a7660"/>
<ellipse cx="577.7" cy="853.9" rx="0.9" ry="0.8" fill="#a8805e"/>
<ellipse cx="478.4" cy="834.7" rx="0.9" ry="0.8" fill="#a8805e"/>
<ellipse cx="558.3" cy="867.2" rx="1.0" ry="0.9" fill="#8e6a50"/>
<ellipse cx="524.1" cy="838.7" rx="0.9" ry="0.9" fill="#8c93c8"/>
<ellipse cx="574.7" cy="798.5" rx="0.8" ry="0.9" fill="#6f78b8"/>
<ellipse cx="542.0" cy="828.9" rx="1.1" ry="0.8" fill="#a47c5c"/>
<ellipse cx="560.1" cy="866.6" rx="0.8" ry="0.8" fill="#a47c5c"/>
<ellipse cx="524.1" cy="823.3" rx="1.0" ry="0.7" fill="#b08866"/>
<ellipse cx="467.9" cy="838.1" rx="0.8" ry="0.7" fill="#6f78b8"/>
<ellipse cx="574.2" cy="839.1" rx="0.8" ry="0.9" fill="#a8805e"/>
<ellipse cx="474.4" cy="820.7" rx="0.9" ry="0.7" fill="#9a7256"/>
<ellipse cx="534.9" cy="822.8" rx="0.9" ry="0.6" fill="#9a7256"/>
<ellipse cx="470.1" cy="822.7" rx="1.1" ry="0.8" fill="#8e6a50"/>
<ellipse cx="579.7" cy="862.0" rx="0.8" ry="0.7" fill="#9a7256"/>
<ellipse cx="552.8" cy="812.4" rx="0.9" ry="0.7" fill="#a8805e"/>
<ellipse cx="570.5" cy="852.2" rx="1.0" ry="0.7" fill="#8c93c8"/>
<ellipse cx="528.9" cy="828.2" rx="1.1" ry="0.8" fill="#a8805e"/>
<ellipse cx="482.1" cy="841.5" rx="0.7" ry="0.9" fill="#a47c5c"/>
<ellipse cx="574.3" cy="824.1" rx="1.0" ry="0.8" fill="#a8805e"/>
<ellipse cx="536.6" cy="800.4" rx="0.8" ry="0.8" fill="#6f78b8"/>
<ellipse cx="509.2" cy="865.0" rx="1.0" ry="0.8" fill="#8e6a50"/>
<ellipse cx="527.8" cy="849.9" rx="0.8" ry="0.7" fill="#9a7660"/>
<ellipse cx="473.3" cy="835.4" rx="1.0" ry="0.6" fill="#b08866"/>
<ellipse cx="524.0" cy="787.9" rx="1.1" ry="0.9" fill="#9a7256"/>
<ellipse cx="513.4" cy="844.3" rx="0.9" ry="0.7" fill="#9a7660"/>
<ellipse cx="526.7" cy="863.4" rx="1.0" ry="0.8" fill="#9a7256"/>
<ellipse cx="511.7" cy="806.2" rx="0.9" ry="0.9" fill="#6f78b8"/>
<ellipse cx="475.2" cy="801.6" rx="0.8" ry="0.7" fill="#a47c5c"/>
<ellipse cx="567.8" cy="858.1" rx="1.0" ry="0.6" fill="#8e6a50"/>
<ellipse cx="546.4" cy="791.5" rx="0.7" ry="0.7" fill="#a8805e"/>
<ellipse cx="545.8" cy="859.0" rx="0.7" ry="0.7" fill="#a47c5c"/>
<ellipse cx="543.0" cy="799.7" rx="0.8" ry="0.6" fill="#8e6a50"/>
<ellipse cx="469.3" cy="853.8" rx="0.9" ry="0.7" fill="#8e6a50"/>
<ellipse cx="564.4" cy="805.2" rx="0.8" ry="0.7" fill="#a47c5c"/>
<ellipse cx="519.7" cy="839.3" rx="0.8" ry="0.7" fill="#8e6a50"/>
<ellipse cx="507.3" cy="830.7" rx="0.7" ry="0.8" fill="#9a7256"/>
<ellipse cx="559.1" cy="839.4" rx="0.8" ry="0.7" fill="#b08866"/>
<ellipse cx="547.3" cy="796.8" rx="0.9" ry="0.8" fill="#9a7660"/>
<ellipse cx="507.7" cy="821.0" rx="1.0" ry="0.7" fill="#9a7660"/>
<ellipse cx="516.8" cy="862.1" rx="1.1" ry="0.6" fill="#9a7256"/>
<ellipse cx="563.7" cy="805.3" rx="0.7" ry="0.8" fill="#8c93c8"/>
<ellipse cx="553.1" cy="853.8" rx="0.8" ry="0.8" fill="#a8805e"/>
<ellipse cx="489.9" cy="848.8" rx="0.9" ry="0.8" fill="#a8805e"/>
<ellipse cx="498.6" cy="862.8" rx="1.0" ry="0.8" fill="#a47c5c"/>
<ellipse cx="490.0" cy="864.8" rx="0.7" ry="0.9" fill="#a8805e"/>
<ellipse cx="577.7" cy="807.1" rx="1.1" ry="0.7" fill="#a47c5c"/>
<ellipse cx="569.1" cy="813.3" rx="0.9" ry="0.9" fill="#9a7256"/>
<ellipse cx="500.5" cy="792.8" rx="0.7" ry="0.8" fill="#a47c5c"/>
<ellipse cx="548.0" cy="829.1" rx="0.8" ry="0.8" fill="#9a7256"/>
<ellipse cx="480.4" cy="787.8" rx="1.0" ry="0.7" fill="#a8805e"/>
<ellipse cx="562.3" cy="818.8" rx="0.9" ry="0.7" fill="#8c93c8"/>
<ellipse cx="537.5" cy="830.6" rx="0.8" ry="0.7" fill="#a8805e"/>
<ellipse cx="468.3" cy="852.5" rx="0.8" ry="0.7" fill="#a8805e"/>
<ellipse cx="501.3" cy="816.0" rx="0.7" ry="0.8" fill="#8e6a50"/>
<ellipse cx="515.9" cy="828.4" rx="0.9" ry="0.9" fill="#a47c5c"/>
<ellipse cx="506.7" cy="858.7" rx="0.8" ry="0.8" fill="#b08866"/>
<ellipse cx="563.2" cy="836.4" rx="1.1" ry="0.7" fill="#9a7256"/>
<ellipse cx="477.1" cy="848.9" rx="1.1" ry="0.8" fill="#6f78b8"/>
<ellipse cx="484.5" cy="799.9" rx="1.0" ry="0.7" fill="#8e6a50"/>
<ellipse cx="550.4" cy="830.8" rx="1.0" ry="0.7" fill="#6f78b8"/>
<ellipse cx="518.3" cy="809.1" rx="0.8" ry="0.9" fill="#a8805e"/>
<ellipse cx="574.9" cy="820.0" rx="0.9" ry="0.8" fill="#9a7256"/>
<ellipse cx="543.7" cy="866.6" rx="0.8" ry="0.6" fill="#9a7256"/>
<ellipse cx="544.9" cy="858.4" rx="1.0" ry="0.9" fill="#b08866"/>
<ellipse cx="510.1" cy="842.4" rx="0.8" ry="0.8" fill="#8e6a50"/>
<ellipse cx="551.6" cy="794.3" rx="1.0" ry="0.8" fill="#9a7660"/>
<ellipse cx="538.8" cy="797.2" rx="0.9" ry="0.8" fill="#b08866"/>
<ellipse cx="558.5" cy="858.2" rx="0.9" ry="0.7" fill="#a47c5c"/>
<ellipse cx="500.8" cy="792.8" rx="0.9" ry="0.7" fill="#b08866"/>
<ellipse cx="559.9" cy="851.1" rx="0.9" ry="0.8" fill="#8e6a50"/>
<ellipse cx="528.9" cy="832.0" rx="1.1" ry="0.6" fill="#b08866"/>
<ellipse cx="502.3" cy="811.8" rx="0.9" ry="0.7" fill="#a8805e"/>
<ellipse cx="561.5" cy="834.0" rx="0.7" ry="0.6" fill="#6f78b8"/>
<ellipse cx="570.7" cy="795.6" rx="0.9" ry="0.9" fill="#a47c5c"/>
<ellipse cx="501.1" cy="820.3" rx="1.0" ry="0.7" fill="#a8805e"/>
<ellipse cx="558.3" cy="806.4" rx="0.8" ry="0.7" fill="#8e6a50"/>
<ellipse cx="520.6" cy="836.0" rx="0.9" ry="0.8" fill="#9a7256"/>
<ellipse cx="496.3" cy="784.9" rx="1.0" ry="0.9" fill="#b08866"/>
<ellipse cx="517.8" cy="787.6" rx="1.1" ry="0.8" fill="#a8805e"/>
<ellipse cx="504.8" cy="798.9" rx="0.9" ry="0.7" fill="#9a7256"/>
<ellipse cx="528.2" cy="791.1" rx="0.8" ry="0.7" fill="#a47c5c"/>
<ellipse cx="507.0" cy="818.8" rx="0.7" ry="0.9" fill="#b08866"/>
<ellipse cx="481.7" cy="819.1" rx="1.1" ry="0.9" fill="#9a7256"/>
<ellipse cx="574.9" cy="843.8" rx="0.7" ry="0.9" fill="#8c93c8"/>
<ellipse cx="497.1" cy="797.6" rx="0.8" ry="0.8" fill="#b08866"/>
<ellipse cx="544.9" cy="862.5" rx="0.7" ry="0.7" fill="#b08866"/>
<ellipse cx="552.0" cy="821.1" rx="0.7" ry="0.9" fill="#9a7660"/>
<ellipse cx="485.7" cy="825.5" rx="0.9" ry="0.9" fill="#b08866"/>
<ellipse cx="496.2" cy="835.7" rx="0.9" ry="0.8" fill="#6f78b8"/>
<ellipse cx="551.3" cy="817.7" rx="0.9" ry="0.7" fill="#9a7256"/>
<ellipse cx="490.5" cy="840.6" rx="1.0" ry="0.9" fill="#b08866"/>
<ellipse cx="514.8" cy="828.7" rx="0.7" ry="0.6" fill="#8e6a50"/>
<ellipse cx="553.9" cy="829.1" rx="0.7" ry="0.7" fill="#a8805e"/>
<ellipse cx="517.8" cy="838.7" rx="0.9" ry="0.8" fill="#8c93c8"/>
<ellipse cx="474.6" cy="841.1" rx="0.7" ry="0.9" fill="#b08866"/>
<ellipse cx="520.3" cy="855.6" rx="0.7" ry="0.8" fill="#6f78b8"/>
<ellipse cx="469.4" cy="825.3" rx="0.8" ry="0.6" fill="#a47c5c"/>
<ellipse cx="502.5" cy="859.8" rx="0.7" ry="0.6" fill="#9a7256"/>
<ellipse cx="506.3" cy="797.0" rx="0.8" ry="0.8" fill="#8c93c8"/>
<ellipse cx="472.9" cy="808.5" rx="1.1" ry="0.7" fill="#a47c5c"/>
<ellipse cx="560.5" cy="801.3" rx="0.9" ry="0.7" fill="#8c93c8"/>
<ellipse cx="483.1" cy="862.8" rx="1.0" ry="0.7" fill="#b08866"/>
<ellipse cx="547.4" cy="799.2" rx="0.9" ry="0.7" fill="#9a7256"/>
<ellipse cx="548.5" cy="829.0" rx="0.7" ry="0.7" fill="#9a7256"/>
<ellipse cx="565.9" cy="858.2" rx="0.9" ry="0.7" fill="#a47c5c"/>
<ellipse cx="513.0" cy="784.6" rx="0.7" ry="0.9" fill="#8e6a50"/>
<ellipse cx="514.7" cy="813.8" rx="1.1" ry="0.8" fill="#8e6a50"/>
<ellipse cx="482.0" cy="859.1" rx="1.0" ry="0.9" fill="#9a7660"/>
<ellipse cx="573.9" cy="847.2" rx="0.7" ry="0.7" fill="#b08866"/>
<ellipse cx="494.3" cy="859.7" rx="0.8" ry="0.7" fill="#8e6a50"/>
<ellipse cx="536.4" cy="834.8" rx="0.8" ry="0.7" fill="#8e6a50"/>
<ellipse cx="558.2" cy="790.5" rx="0.8" ry="0.7" fill="#a8805e"/>
<ellipse cx="559.9" cy="819.5" rx="0.7" ry="0.9" fill="#a8805e"/>
<ellipse cx="535.9" cy="794.9" rx="0.8" ry="0.7" fill="#9a7256"/>
<ellipse cx="473.8" cy="791.0" rx="0.8" ry="0.9" fill="#8e6a50"/>
<ellipse cx="552.3" cy="851.6" rx="0.9" ry="0.8" fill="#b08866"/>
<ellipse cx="538.1" cy="839.4" rx="0.9" ry="0.6" fill="#b08866"/>
<ellipse cx="567.8" cy="856.6" rx="0.8" ry="0.8" fill="#8e6a50"/>
<ellipse cx="578.8" cy="838.9" rx="0.7" ry="0.7" fill="#a47c5c"/>
<ellipse cx="484.2" cy="801.8" rx="0.8" ry="0.7" fill="#8e6a50"/>
<ellipse cx="575.4" cy="820.6" rx="1.0" ry="0.6" fill="#b08866"/>
<ellipse cx="475.8" cy="790.8" rx="1.1" ry="0.7" fill="#6f78b8"/>
<ellipse cx="484.4" cy="826.6" rx="0.7" ry="0.7" fill="#9a7256"/>
<ellipse cx="559.1" cy="849.8" rx="0.8" ry="0.6" fill="#a8805e"/>
<ellipse cx="479.6" cy="840.3" rx="0.9" ry="0.7" fill="#b08866"/>
<ellipse cx="536.9" cy="835.4" rx="1.1" ry="0.7" fill="#b08866"/>
<ellipse cx="560.1" cy="848.5" rx="0.9" ry="0.9" fill="#a47c5c"/>
<ellipse cx="573.5" cy="866.9" rx="0.8" ry="0.9" fill="#b08866"/>
<ellipse cx="484.1" cy="844.9" rx="1.0" ry="0.6" fill="#a47c5c"/>
<ellipse cx="575.9" cy="822.7" rx="1.0" ry="0.9" fill="#a47c5c"/>
<ellipse cx="500.4" cy="786.8" rx="1.1" ry="0.9" fill="#b08866"/>
<ellipse cx="479.0" cy="851.1" rx="0.9" ry="0.6" fill="#a47c5c"/>
<ellipse cx="515.0" cy="823.1" rx="1.0" ry="0.9" fill="#8e6a50"/>
<ellipse cx="500.0" cy="836.0" rx="0.7" ry="0.7" fill="#a8805e"/>
<ellipse cx="558.3" cy="859.9" rx="0.8" ry="0.9" fill="#a8805e"/>
<ellipse cx="471.5" cy="820.9" rx="1.1" ry="0.7" fill="#9a7660"/>
<ellipse cx="559.1" cy="835.2" rx="0.8" ry="0.6" fill="#8e6a50"/>
<ellipse cx="486.5" cy="848.4" rx="0.9" ry="0.7" fill="#a8805e"/>
<ellipse cx="538.6" cy="784.4" rx="0.7" ry="0.6" fill="#a47c5c"/>
<ellipse cx="522.1" cy="784.5" rx="0.8" ry="0.8" fill="#a47c5c"/>
<ellipse cx="574.7" cy="857.7" rx="0.9" ry="0.9" fill="#9a7660"/>
<ellipse cx="562.2" cy="789.8" rx="1.0" ry="0.9" fill="#9a7256"/>
<ellipse cx="566.7" cy="863.0" rx="0.9" ry="0.8" fill="#9a7256"/>
<ellipse cx="545.5" cy="854.1" rx="0.7" ry="0.8" fill="#9a7256"/>
<ellipse cx="478.9" cy="843.1" rx="0.8" ry="0.7" fill="#8c93c8"/>
<ellipse cx="510.1" cy="867.2" rx="0.8" ry="0.7" fill="#8e6a50"/>
<ellipse cx="468.4" cy="817.6" rx="0.8" ry="0.8" fill="#9a7256"/>
<ellipse cx="474.4" cy="836.0" rx="0.7" ry="0.9" fill="#b08866"/>
<ellipse cx="562.7" cy="862.0" rx="0.7" ry="0.6" fill="#9a7256"/>
<ellipse cx="490.8" cy="812.8" rx="0.8" ry="0.7" fill="#8e6a50"/>
<ellipse cx="561.4" cy="850.8" rx="1.1" ry="0.6" fill="#b08866"/>
<ellipse cx="569.3" cy="794.2" rx="0.7" ry="0.7" fill="#9a7256"/>
<ellipse cx="485.1" cy="793.7" rx="1.1" ry="0.9" fill="#9a7660"/>
<ellipse cx="548.5" cy="839.8" rx="0.9" ry="0.7" fill="#b08866"/>
<ellipse cx="482.4" cy="804.8" rx="0.7" ry="0.6" fill="#a8805e"/>
<ellipse cx="553.5" cy="808.1" rx="0.8" ry="0.7" fill="#b08866"/>
<ellipse cx="530.4" cy="787.8" rx="0.9" ry="0.8" fill="#8e6a50"/>
<ellipse cx="567.5" cy="795.1" rx="0.7" ry="0.7" fill="#6f78b8"/>
<ellipse cx="563.3" cy="851.0" rx="1.0" ry="0.8" fill="#a8805e"/>
</g>
<line x1="548.00" y1="861.10" x2="572.70" y2="861.10" stroke="#111" stroke-width="1.3" />
<rect x="389.50" y="701.30" width="20.20" height="15.10" fill="none" stroke="#222" stroke-width="0.9"/>
<line x1="409.70" y1="701.30" x2="467.80" y2="668.30" stroke="#222" stroke-width="0.8" />
<line x1="409.70" y1="716.40" x2="467.80" y2="752.30" stroke="#222" stroke-width="0.8" />
<rect x="363.30" y="838.30" width="23.30" height="17.90" fill="none" stroke="#222" stroke-width="0.9"/>
<line x1="386.60" y1="838.30" x2="467.80" y2="783.40" stroke="#222" stroke-width="0.8" />
<line x1="386.60" y1="856.20" x2="467.80" y2="867.30" stroke="#222" stroke-width="0.8" />
<line x1="629.50" y1="739.40" x2="629.50" y2="829.50" stroke="#111" stroke-width="0.9" />
<line x1="629.50" y1="829.50" x2="683.50" y2="829.50" stroke="#111" stroke-width="0.9" />
<line x1="626.90" y1="829.50" x2="629.60" y2="829.50" stroke="#111" stroke-width="0.9" />
<text x="626.2" y="833.8" font-size="12.3" text-anchor="end" fill="#1a1a1a" font-weight="normal" >0</text>
<line x1="626.90" y1="799.50" x2="629.60" y2="799.50" stroke="#111" stroke-width="0.9" />
<text x="626.2" y="803.8" font-size="12.3" text-anchor="end" fill="#1a1a1a" font-weight="normal" >5</text>
<line x1="626.90" y1="769.50" x2="629.60" y2="769.50" stroke="#111" stroke-width="0.9" />
<text x="626.2" y="773.8" font-size="12.3" text-anchor="end" fill="#1a1a1a" font-weight="normal" >10</text>
<line x1="626.90" y1="739.50" x2="629.60" y2="739.50" stroke="#111" stroke-width="0.9" />
<text x="626.2" y="743.8" font-size="12.3" text-anchor="end" fill="#1a1a1a" font-weight="normal" >15</text>
<line x1="643.30" y1="829.50" x2="643.30" y2="832.30" stroke="#111" stroke-width="0.9" />
<line x1="670.10" y1="829.50" x2="670.10" y2="832.30" stroke="#111" stroke-width="0.9" />
<line x1="643.30" y1="805.50" x2="670.10" y2="757.50" stroke="#111" stroke-width="1.0" />
<line x1="643.30" y1="811.50" x2="670.10" y2="757.50" stroke="#111" stroke-width="1.0" />
<line x1="643.30" y1="811.50" x2="670.10" y2="757.50" stroke="#111" stroke-width="1.0" />
<line x1="643.30" y1="817.50" x2="670.10" y2="757.50" stroke="#111" stroke-width="1.0" />
<line x1="643.30" y1="823.50" x2="670.10" y2="757.50" stroke="#111" stroke-width="1.0" />
<line x1="643.30" y1="793.50" x2="670.10" y2="781.50" stroke="#111" stroke-width="1.0" />
<line x1="643.30" y1="805.50" x2="670.10" y2="781.50" stroke="#111" stroke-width="1.0" />
<line x1="643.30" y1="811.50" x2="670.10" y2="781.50" stroke="#111" stroke-width="1.0" />
<line x1="643.30" y1="817.50" x2="670.10" y2="781.50" stroke="#111" stroke-width="1.0" />
<line x1="643.30" y1="817.50" x2="670.10" y2="781.50" stroke="#111" stroke-width="1.0" />
<line x1="643.30" y1="823.50" x2="670.10" y2="781.50" stroke="#111" stroke-width="1.0" />
<line x1="643.30" y1="829.50" x2="670.10" y2="781.50" stroke="#111" stroke-width="1.0" />
<line x1="643.30" y1="793.50" x2="670.10" y2="793.50" stroke="#111" stroke-width="1.0" />
<line x1="643.30" y1="805.50" x2="670.10" y2="793.50" stroke="#111" stroke-width="1.0" />
<line x1="643.30" y1="811.50" x2="670.10" y2="793.50" stroke="#111" stroke-width="1.0" />
<line x1="643.30" y1="817.50" x2="670.10" y2="793.50" stroke="#111" stroke-width="1.0" />
<line x1="643.30" y1="823.50" x2="670.10" y2="793.50" stroke="#111" stroke-width="1.0" />
<line x1="643.30" y1="829.50" x2="670.10" y2="793.50" stroke="#111" stroke-width="1.0" />
<line x1="643.30" y1="805.50" x2="670.10" y2="805.50" stroke="#111" stroke-width="1.0" />
<line x1="643.30" y1="811.50" x2="670.10" y2="811.50" stroke="#111" stroke-width="1.0" />
<line x1="643.30" y1="823.50" x2="670.10" y2="805.50" stroke="#111" stroke-width="1.0" />
<line x1="643.30" y1="829.50" x2="670.10" y2="811.50" stroke="#111" stroke-width="1.0" />
<circle cx="643.3" cy="805.50" r="1.8" fill="#3b4cc0"/>
<circle cx="670.1" cy="757.50" r="1.8" fill="#e0352b"/>
<circle cx="643.3" cy="811.50" r="1.8" fill="#3b4cc0"/>
<circle cx="670.1" cy="757.50" r="1.8" fill="#e0352b"/>
<circle cx="643.3" cy="811.50" r="1.8" fill="#3b4cc0"/>
<circle cx="670.1" cy="757.50" r="1.8" fill="#e0352b"/>
<circle cx="643.3" cy="817.50" r="1.8" fill="#3b4cc0"/>
<circle cx="670.1" cy="757.50" r="1.8" fill="#e0352b"/>
<circle cx="643.3" cy="823.50" r="1.8" fill="#3b4cc0"/>
<circle cx="670.1" cy="757.50" r="1.8" fill="#e0352b"/>
<circle cx="643.3" cy="793.50" r="1.8" fill="#3b4cc0"/>
<circle cx="670.1" cy="781.50" r="1.8" fill="#e0352b"/>
<circle cx="643.3" cy="805.50" r="1.8" fill="#3b4cc0"/>
<circle cx="670.1" cy="781.50" r="1.8" fill="#e0352b"/>
<circle cx="643.3" cy="811.50" r="1.8" fill="#3b4cc0"/>
<circle cx="670.1" cy="781.50" r="1.8" fill="#e0352b"/>
<circle cx="643.3" cy="817.50" r="1.8" fill="#3b4cc0"/>
<circle cx="670.1" cy="781.50" r="1.8" fill="#e0352b"/>
<circle cx="643.3" cy="817.50" r="1.8" fill="#3b4cc0"/>
<circle cx="670.1" cy="781.50" r="1.8" fill="#e0352b"/>
<circle cx="643.3" cy="823.50" r="1.8" fill="#3b4cc0"/>
<circle cx="670.1" cy="781.50" r="1.8" fill="#e0352b"/>
<circle cx="643.3" cy="829.50" r="1.8" fill="#3b4cc0"/>
<circle cx="670.1" cy="781.50" r="1.8" fill="#e0352b"/>
<circle cx="643.3" cy="793.50" r="1.8" fill="#3b4cc0"/>
<circle cx="670.1" cy="793.50" r="1.8" fill="#e0352b"/>
<circle cx="643.3" cy="805.50" r="1.8" fill="#3b4cc0"/>
<circle cx="670.1" cy="793.50" r="1.8" fill="#e0352b"/>
<circle cx="643.3" cy="811.50" r="1.8" fill="#3b4cc0"/>
<circle cx="670.1" cy="793.50" r="1.8" fill="#e0352b"/>
<circle cx="643.3" cy="817.50" r="1.8" fill="#3b4cc0"/>
<circle cx="670.1" cy="793.50" r="1.8" fill="#e0352b"/>
<circle cx="643.3" cy="823.50" r="1.8" fill="#3b4cc0"/>
<circle cx="670.1" cy="793.50" r="1.8" fill="#e0352b"/>
<circle cx="643.3" cy="829.50" r="1.8" fill="#3b4cc0"/>
<circle cx="670.1" cy="793.50" r="1.8" fill="#e0352b"/>
<circle cx="643.3" cy="805.50" r="1.8" fill="#3b4cc0"/>
<circle cx="670.1" cy="805.50" r="1.8" fill="#e0352b"/>
<circle cx="643.3" cy="811.50" r="1.8" fill="#3b4cc0"/>
<circle cx="670.1" cy="811.50" r="1.8" fill="#e0352b"/>
<circle cx="643.3" cy="823.50" r="1.8" fill="#3b4cc0"/>
<circle cx="670.1" cy="805.50" r="1.8" fill="#e0352b"/>
<circle cx="643.3" cy="829.50" r="1.8" fill="#3b4cc0"/>
<circle cx="670.1" cy="811.50" r="1.8" fill="#e0352b"/>
<path d="M643.3 751.2V747.8H670.4V751.2" fill="none" stroke="#111" stroke-width="0.8"/>
<text x="656.8" y="748.6" font-size="10" text-anchor="middle" fill="#1a1a1a" font-weight="normal" >***</text>
<line x1="616.30" y1="704.40" x2="628.80" y2="704.40" stroke="#111" stroke-width="0.9" />
<circle cx="622.5" cy="704.4" r="2.3" fill="#3b4cc0"/>
<line x1="616.30" y1="720.10" x2="628.80" y2="720.10" stroke="#111" stroke-width="0.9" />
<circle cx="622.5" cy="720.1" r="2.3" fill="#e0352b"/>
<text x="638.5" y="708.9" font-size="12.3" text-anchor="start" fill="#1a1a1a" font-weight="normal" >Normal</text>
<text x="638.5" y="724.6" font-size="12.3" text-anchor="start" fill="#1a1a1a" font-weight="normal" >Tumor</text>
<text x="600.6" y="768.4" font-size="12.3" text-anchor="middle" fill="#1a1a1a" font-weight="normal" transform="rotate(-90 600.6 768.4)" textLength="125" lengthAdjust="spacingAndGlyphs">DHX9 expression level</text>
<text x="105.6" y="937.4" font-size="12.3" text-anchor="start" fill="#1a1a1a" font-weight="normal" transform="rotate(-38 105.6 937.4)">MCF10A</text>
<text x="133.5" y="936.6" font-size="12.3" text-anchor="start" fill="#1a1a1a" font-weight="normal" transform="rotate(-38 133.5 936.6)">MDA-MB-231</text>
<text x="165.9" y="937.4" font-size="12.3" text-anchor="start" fill="#1a1a1a" font-weight="normal" transform="rotate(-38 165.9 937.4)">MDA-MB-468</text>
<text x="194.1" y="937.4" font-size="12.3" text-anchor="start" fill="#1a1a1a" font-weight="normal" transform="rotate(-38 194.1 937.4)">MCF7</text>
<text x="221.5" y="935.8" font-size="12.3" text-anchor="start" fill="#1a1a1a" font-weight="normal" transform="rotate(-38 221.5 935.8)">T47D</text>
<text x="75.3" y="965.0" font-size="12.3" text-anchor="end" fill="#1a1a1a" font-weight="normal" >DHX9</text>
<text x="75.3" y="999.2" font-size="12.3" text-anchor="end" fill="#1a1a1a" font-weight="normal" >GAPDH</text>
<defs><clipPath id="bj942"><rect x="88.4" y="942" width="149.29999999999998" height="32.10000000000002"/></clipPath></defs>
<g clip-path="url(#bj942)">
<rect x="88.40" y="942.00" width="149.30" height="32.10" fill="#f6f6f6" />
<rect x="93.2" y="943.0" width="21.7" height="30.1" fill="#000" opacity="0.04" filter="url(#bs)"/>
<rect x="93.6" y="957.1" width="20.9" height="2.6" rx="1.3" fill="#000" opacity="0.8" filter="url(#bb2)"/>
<rect x="93.7" y="951.1" width="20.7" height="12.6" rx="3" fill="#000" opacity="0.10" filter="url(#bs)"/>
<rect x="120.0" y="943.0" width="23.4" height="30.1" fill="#000" opacity="0.04" filter="url(#bs)"/>
<rect x="120.4" y="956.6" width="22.6" height="4.0" rx="2.0" fill="#000" opacity="0.92" filter="url(#bb2)"/>
<rect x="120.5" y="950.6" width="22.4" height="14.0" rx="3" fill="#000" opacity="0.12" filter="url(#bs)"/>
<rect x="149.2" y="943.0" width="24.6" height="30.1" fill="#000" opacity="0.04" filter="url(#bs)"/>
<rect x="149.6" y="955.4" width="23.8" height="6.0" rx="3.0" fill="#000" opacity="0.97" filter="url(#bb2)"/>
<rect x="149.7" y="949.4" width="23.6" height="16.0" rx="3" fill="#000" opacity="0.13" filter="url(#bs)"/>
<rect x="178.9" y="943.0" width="24.1" height="30.1" fill="#000" opacity="0.04" filter="url(#bs)"/>
<rect x="179.3" y="956.1" width="23.3" height="4.6" rx="2.3" fill="#000" opacity="0.95" filter="url(#bb2)"/>
<rect x="179.4" y="950.1" width="23.1" height="14.6" rx="3" fill="#000" opacity="0.12" filter="url(#bs)"/>
<rect x="210.0" y="943.0" width="22.6" height="30.1" fill="#000" opacity="0.04" filter="url(#bs)"/>
<rect x="210.4" y="956.4" width="21.8" height="4.4" rx="2.2" fill="#000" opacity="0.93" filter="url(#bb2)"/>
<rect x="210.5" y="950.4" width="21.6" height="14.4" rx="3" fill="#000" opacity="0.12" filter="url(#bs)"/>
</g>
<rect x="88.4" y="942" width="149.29999999999998" height="32.10000000000002" fill="none" stroke="#3c3c3c" stroke-width="1"/>
<defs><clipPath id="bj978"><rect x="88.4" y="978.5" width="149.29999999999998" height="31.799999999999955"/></clipPath></defs>
<g clip-path="url(#bj978)">
<rect x="88.40" y="978.50" width="149.30" height="31.80" fill="#f6f6f6" />
<rect x="95.2" y="991.7" width="21.6" height="7.0" rx="3.5" fill="#000" opacity="0.98" filter="url(#bb2)"/>
<rect x="95.3" y="985.7" width="21.4" height="17.0" rx="3" fill="#000" opacity="0.13" filter="url(#bs)"/>
<rect x="124.6" y="993.8" width="18.9" height="3.6" rx="1.8" fill="#000" opacity="0.85" filter="url(#bb2)"/>
<rect x="124.7" y="987.8" width="18.7" height="13.6" rx="3" fill="#000" opacity="0.11" filter="url(#bs)"/>
<rect x="153.1" y="994.1" width="19.8" height="3.4" rx="1.7" fill="#000" opacity="0.85" filter="url(#bb2)"/>
<rect x="153.2" y="988.1" width="19.6" height="13.4" rx="3" fill="#000" opacity="0.11" filter="url(#bs)"/>
<rect x="180.0" y="993.8" width="21.4" height="3.6" rx="1.8" fill="#000" opacity="0.85" filter="url(#bb2)"/>
<rect x="180.1" y="987.8" width="21.2" height="13.6" rx="3" fill="#000" opacity="0.11" filter="url(#bs)"/>
<rect x="211.1" y="993.0" width="20.7" height="3.6" rx="1.8" fill="#000" opacity="0.8" filter="url(#bb2)"/>
<rect x="211.2" y="987.0" width="20.5" height="13.6" rx="3" fill="#000" opacity="0.10" filter="url(#bs)"/>
</g>
<rect x="88.4" y="978.5" width="149.29999999999998" height="31.799999999999955" fill="none" stroke="#3c3c3c" stroke-width="1"/>
<line x1="237.90" y1="961.20" x2="244.00" y2="961.20" stroke="#222" stroke-width="0.9" />
<text x="244.6" y="964.9" font-size="10.4" text-anchor="start" fill="#1a1a1a" font-weight="normal" >130kD</text>
<line x1="237.90" y1="1000.40" x2="244.00" y2="1000.40" stroke="#222" stroke-width="0.9" />
<text x="244.6" y="1004.1" font-size="10.4" text-anchor="start" fill="#1a1a1a" font-weight="normal" >35kD</text>
<line x1="334.50" y1="919.50" x2="334.50" y2="1009.50" stroke="#111" stroke-width="0.9" />
<line x1="334.50" y1="1009.50" x2="468.30" y2="1009.50" stroke="#111" stroke-width="0.9" />
<line x1="331.90" y1="1009.30" x2="334.70" y2="1009.30" stroke="#111" stroke-width="0.9" />
<text x="330.8" y="1013.6" font-size="12.3" text-anchor="end" fill="#1a1a1a" font-weight="normal" >0.0</text>
<line x1="331.90" y1="979.40" x2="334.70" y2="979.40" stroke="#111" stroke-width="0.9" />
<text x="330.8" y="983.7" font-size="12.3" text-anchor="end" fill="#1a1a1a" font-weight="normal" >0.5</text>
<line x1="331.90" y1="949.50" x2="334.70" y2="949.50" stroke="#111" stroke-width="0.9" />
<text x="330.8" y="953.8" font-size="12.3" text-anchor="end" fill="#1a1a1a" font-weight="normal" >1.0</text>
<line x1="331.90" y1="919.60" x2="334.70" y2="919.60" stroke="#111" stroke-width="0.9" />
<text x="330.8" y="923.9" font-size="12.3" text-anchor="end" fill="#1a1a1a" font-weight="normal" >1.5</text>
<rect x="340.00" y="986.58" width="17.50" height="22.72" fill="#c7d3ee" stroke="#5a78c0" stroke-width="1.1"/>
<line x1="348.75" y1="985.38" x2="348.75" y2="987.77" stroke="#5a78c0" stroke-width="1.0" />
<line x1="345.75" y1="985.38" x2="351.75" y2="985.38" stroke="#5a78c0" stroke-width="1.0" />
<line x1="345.75" y1="987.77" x2="351.75" y2="987.77" stroke="#5a78c0" stroke-width="1.0" />
<line x1="348.75" y1="1009.30" x2="348.75" y2="1012.00" stroke="#111" stroke-width="0.9" />
<circle cx="345.8" cy="986.1" r="1.1" fill="#5a78c0"/>
<circle cx="348.8" cy="987.4" r="1.1" fill="#5a78c0"/>
<circle cx="351.8" cy="987.2" r="1.1" fill="#5a78c0"/>
<rect x="366.30" y="966.24" width="17.50" height="43.06" fill="#dccbe6" stroke="#8c5aa8" stroke-width="1.1"/>
<line x1="375.05" y1="963.85" x2="375.05" y2="968.64" stroke="#8c5aa8" stroke-width="1.0" />
<line x1="372.05" y1="963.85" x2="378.05" y2="963.85" stroke="#8c5aa8" stroke-width="1.0" />
<line x1="372.05" y1="968.64" x2="378.05" y2="968.64" stroke="#8c5aa8" stroke-width="1.0" />
<line x1="375.05" y1="1009.30" x2="375.05" y2="1012.00" stroke="#111" stroke-width="0.9" />
<circle cx="372.1" cy="967.1" r="1.1" fill="#8c5aa8"/>
<circle cx="375.1" cy="966.3" r="1.1" fill="#8c5aa8"/>
<circle cx="378.1" cy="964.8" r="1.1" fill="#8c5aa8"/>
<rect x="393.00" y="953.69" width="17.50" height="55.61" fill="#f4ccdc" stroke="#c2306d" stroke-width="1.1"/>
<line x1="401.75" y1="948.30" x2="401.75" y2="959.07" stroke="#c2306d" stroke-width="1.0" />
<line x1="398.75" y1="948.30" x2="404.75" y2="948.30" stroke="#c2306d" stroke-width="1.0" />
<line x1="398.75" y1="959.07" x2="404.75" y2="959.07" stroke="#c2306d" stroke-width="1.0" />
<line x1="401.75" y1="1009.30" x2="401.75" y2="1012.00" stroke="#111" stroke-width="0.9" />
<circle cx="398.8" cy="950.1" r="1.1" fill="#c2306d"/>
<circle cx="401.8" cy="955.5" r="1.1" fill="#c2306d"/>
<circle cx="404.8" cy="952.0" r="1.1" fill="#c2306d"/>
<rect x="419.30" y="962.36" width="17.50" height="46.94" fill="#dfeec8" stroke="#8cbf3f" stroke-width="1.1"/>
<line x1="428.05" y1="961.16" x2="428.05" y2="963.55" stroke="#8cbf3f" stroke-width="1.0" />
<line x1="425.05" y1="961.16" x2="431.05" y2="961.16" stroke="#8cbf3f" stroke-width="1.0" />
<line x1="425.05" y1="963.55" x2="431.05" y2="963.55" stroke="#8cbf3f" stroke-width="1.0" />
<line x1="428.05" y1="1009.30" x2="428.05" y2="1012.00" stroke="#111" stroke-width="0.9" />
<circle cx="425.1" cy="961.6" r="1.1" fill="#8cbf3f"/>
<circle cx="428.1" cy="961.9" r="1.1" fill="#8cbf3f"/>
<circle cx="431.1" cy="962.0" r="1.1" fill="#8cbf3f"/>
<rect x="445.60" y="964.45" width="17.50" height="44.85" fill="#b2cbe0" stroke="#2b6a98" stroke-width="1.1"/>
<line x1="454.35" y1="961.46" x2="454.35" y2="967.44" stroke="#2b6a98" stroke-width="1.0" />
<line x1="451.35" y1="961.46" x2="457.35" y2="961.46" stroke="#2b6a98" stroke-width="1.0" />
<line x1="451.35" y1="967.44" x2="457.35" y2="967.44" stroke="#2b6a98" stroke-width="1.0" />
<line x1="454.35" y1="1009.30" x2="454.35" y2="1012.00" stroke="#111" stroke-width="0.9" />
<circle cx="451.4" cy="963.0" r="1.1" fill="#2b6a98"/>
<circle cx="454.4" cy="965.4" r="1.1" fill="#2b6a98"/>
<circle cx="457.4" cy="964.6" r="1.1" fill="#2b6a98"/>
<path d="M348.8 960.4V957.6H375V960.4" fill="none" stroke="#111" stroke-width="0.8"/>
<text x="361.9" y="958.2" font-size="11.5" text-anchor="middle" fill="#1a1a1a" font-weight="normal" >***</text>
<path d="M348.8 945.1V942.3H401.8V945.1" fill="none" stroke="#111" stroke-width="0.8"/>
<text x="375.3" y="942.9" font-size="11.5" text-anchor="middle" fill="#1a1a1a" font-weight="normal" >***</text>
<path d="M348.8 935.4V932.6H428V935.4" fill="none" stroke="#111" stroke-width="0.8"/>
<text x="388.4" y="933.2" font-size="11.5" text-anchor="middle" fill="#1a1a1a" font-weight="normal" >***</text>
<path d="M348.8 926.7V923.9H454.3V926.7" fill="none" stroke="#111" stroke-width="0.8"/>
<text x="401.6" y="924.5" font-size="11.5" text-anchor="middle" fill="#1a1a1a" font-weight="normal" >***</text>
<circle cx="472.8" cy="894.9" r="1.5" fill="#8aa0d0"/>
<text x="483.5" y="899.2" font-size="12.3" text-anchor="start" fill="#222" font-weight="normal" >MCF10A</text>
<rect x="471.30" y="906.35" width="3.00" height="3.00" fill="#b09ac8" />
<text x="483.5" y="912.1" font-size="12.3" text-anchor="start" fill="#222" font-weight="normal" >MDA-MB-231</text>
<path d="M472.8 919.0L474.6 922.2H471Z" fill="#eab0c8"/>
<text x="483.5" y="925.1" font-size="12.3" text-anchor="start" fill="#222" font-weight="normal" >MDA-MB-468</text>
<path d="M472.8 935.5L474.6 932.4H471Z" fill="#c0dc90"/>
<text x="483.5" y="938.0" font-size="12.3" text-anchor="start" fill="#222" font-weight="normal" >MCF7</text>
<circle cx="472.8" cy="946.7" r="1.5" fill="#3c7fb0"/>
<text x="483.5" y="951.0" font-size="12.3" text-anchor="start" fill="#222" font-weight="normal" >T47D</text>
<text x="295.2" y="956.3" font-size="12.3" text-anchor="middle" fill="#1a1a1a" font-weight="normal" transform="rotate(-90 295.2 956.3)">Relative DHX9 protein</text>
<text x="309.3" y="956.3" font-size="12.3" text-anchor="middle" fill="#1a1a1a" font-weight="normal" transform="rotate(-90 309.3 956.3)">expression</text>
<text transform="translate(1.84 12.60) scale(0.94 1)" font-size="15.5" font-weight="bold" fill="#000">A</text>
<text transform="translate(228.82 12.50) scale(0.94 1)" font-size="15.5" font-weight="bold" fill="#000">B</text>
<text transform="translate(490.20 12.46) scale(0.94 1)" font-size="15.5" font-weight="bold" fill="#000">C</text>
<text transform="translate(0.52 256.00) scale(0.94 1)" font-size="15.5" font-weight="bold" fill="#000">D</text>
<text transform="translate(0.42 477.60) scale(0.94 1)" font-size="15.5" font-weight="bold" fill="#000">E</text>
<text transform="translate(228.22 256.30) scale(0.94 1)" font-size="15.5" font-weight="bold" fill="#000">F</text>
<text transform="translate(465.70 256.26) scale(0.94 1)" font-size="15.5" font-weight="bold" fill="#000">G</text>
<text transform="translate(0.52 694.40) scale(0.94 1)" font-size="15.5" font-weight="bold" fill="#000">H</text>
<text transform="translate(228.32 465.50) scale(0.94 1)" font-size="15.5" font-weight="bold" fill="#000">I</text>
<text transform="translate(1.28 913.66) scale(0.94 1)" font-size="15.5" font-weight="bold" fill="#000">J</text>
<text transform="translate(256.22 642.40) scale(0.94 1)" font-size="15.5" font-weight="bold" fill="#000">K</text>
</svg></body></html>
